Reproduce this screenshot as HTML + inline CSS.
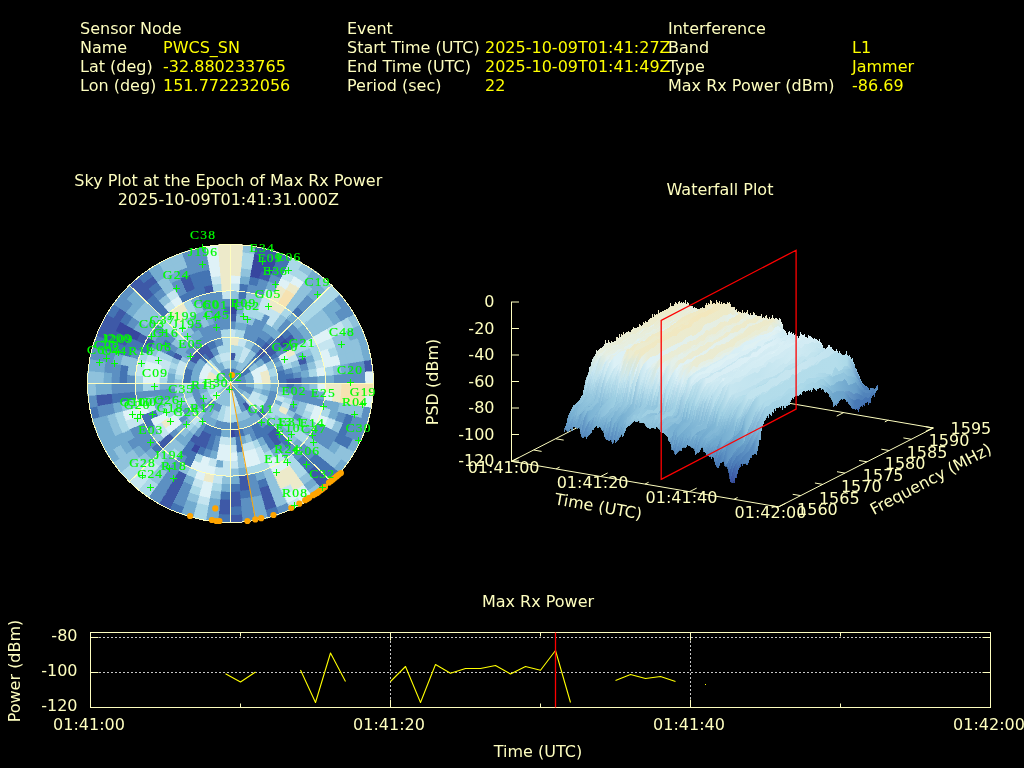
<!DOCTYPE html>
<html><head><meta charset="utf-8"><title>Interference Event</title>
<style>
html,body{margin:0;padding:0;background:#000;overflow:hidden}
svg{display:block;font-family:"DejaVu Sans","Liberation Sans",sans-serif;will-change:transform;opacity:.999}
.sat{font-family:"Liberation Serif","DejaVu Serif",serif}
</style></head><body>
<svg width="1024" height="768" viewBox="0 0 1024 768">
<rect width="1024" height="768" fill="#000"/>
<text x="80" y="34" fill="#ffffc0" text-anchor="start" font-size="16" >Sensor Node</text>
<text x="80" y="53" fill="#ffffc0" text-anchor="start" font-size="16" >Name</text>
<text x="80" y="72" fill="#ffffc0" text-anchor="start" font-size="16" >Lat (deg)</text>
<text x="80" y="91" fill="#ffffc0" text-anchor="start" font-size="16" >Lon (deg)</text>
<text x="163" y="53" fill="#ffff00" text-anchor="start" font-size="16" >PWCS_SN</text>
<text x="163" y="72" fill="#ffff00" text-anchor="start" font-size="16" >-32.880233765</text>
<text x="163" y="91" fill="#ffff00" text-anchor="start" font-size="16" >151.772232056</text>
<text x="347" y="34" fill="#ffffc0" text-anchor="start" font-size="16" >Event</text>
<text x="347" y="53" fill="#ffffc0" text-anchor="start" font-size="16" >Start Time (UTC)</text>
<text x="347" y="72" fill="#ffffc0" text-anchor="start" font-size="16" >End Time (UTC)</text>
<text x="347" y="91" fill="#ffffc0" text-anchor="start" font-size="16" >Period (sec)</text>
<text x="485" y="53" fill="#ffff00" text-anchor="start" font-size="16" >2025-10-09T01:41:27Z</text>
<text x="485" y="72" fill="#ffff00" text-anchor="start" font-size="16" >2025-10-09T01:41:49Z</text>
<text x="485" y="91" fill="#ffff00" text-anchor="start" font-size="16" >22</text>
<text x="668" y="34" fill="#ffffc0" text-anchor="start" font-size="16" >Interference</text>
<text x="668" y="53" fill="#ffffc0" text-anchor="start" font-size="16" >Band</text>
<text x="668" y="72" fill="#ffffc0" text-anchor="start" font-size="16" >Type</text>
<text x="668" y="91" fill="#ffffc0" text-anchor="start" font-size="16" >Max Rx Power (dBm)</text>
<text x="852" y="53" fill="#ffff00" text-anchor="start" font-size="16" >L1</text>
<text x="852" y="72" fill="#ffff00" text-anchor="start" font-size="16" >Jammer</text>
<text x="852" y="91" fill="#ffff00" text-anchor="start" font-size="16" >-86.69</text>
<text x="228.3" y="185.5" fill="#ffffc0" text-anchor="middle" font-size="16" >Sky Plot at the Epoch of Max Rx Power</text>
<text x="228.3" y="204.5" fill="#ffffc0" text-anchor="middle" font-size="16" >2025-10-09T01:41:31.000Z</text>
<text x="720" y="195" fill="#ffffc0" text-anchor="middle" font-size="16" >Waterfall Plot</text>
<text x="538" y="607" fill="#ffffc0" text-anchor="middle" font-size="16" >Max Rx Power</text>
<g shape-rendering="crispEdges">
<path fill="#3847a0" stroke="#3847a0" stroke-width="0.6" d="M230.5 306.3L234.0 306.4L237.4 306.6L236.7 314.3L233.6 314.1L230.5 314.0ZM254.0 254.2L259.7 255.3L265.5 256.7L263.4 264.2L258.0 262.9L252.6 261.8ZM252.6 261.8L258.0 262.9L263.4 264.2L261.3 271.6L256.3 270.4L251.2 269.4ZM251.2 269.4L256.3 270.4L261.3 271.6L259.3 279.1L254.6 278.0L249.8 277.0ZM265.5 256.7L271.1 258.3L276.7 260.1L274.0 267.4L268.7 265.7L263.4 264.2ZM263.4 264.2L268.7 265.7L274.0 267.4L271.3 274.7L266.3 273.0L261.3 271.6ZM285.3 338.8L287.2 341.2L289.1 343.6L282.6 348.1L280.9 345.9L279.2 343.8ZM235.3 437.3L232.9 437.5L230.5 437.6L230.5 429.8L232.6 429.8L234.7 429.7ZM196.9 453.5L193.8 452.0L190.8 450.4L194.8 443.7L197.5 445.1L200.3 446.5ZM115.3 331.3L117.8 326.4L120.4 321.7L127.3 325.6L124.8 330.0L122.5 334.5ZM122.5 334.5L124.8 330.0L127.3 325.6L134.2 329.4L131.8 333.6L129.7 337.8ZM129.7 337.8L131.8 333.6L134.2 329.4L141.1 333.3L138.9 337.1L136.9 341.1Z"/>
<path fill="#3f5aa8" stroke="#3f5aa8" stroke-width="0.6" d="M230.5 298.6L234.3 298.6L238.1 298.9L237.4 306.6L234.0 306.4L230.5 306.3ZM230.5 314.0L233.6 314.1L236.7 314.3L236.0 322.0L233.3 321.8L230.5 321.7ZM230.5 352.6L231.9 352.6L233.3 352.7L232.6 360.4L231.5 360.4L230.5 360.3ZM230.5 375.8L230.8 375.8L231.2 375.8L230.5 383.5L230.5 383.5L230.5 383.5ZM233.3 352.7L234.6 352.9L236.0 353.1L234.6 360.7L233.6 360.5L232.6 360.4ZM231.2 375.8L231.5 375.8L231.9 375.9L230.5 383.5L230.5 383.5L230.5 383.5ZM255.3 246.6L261.5 247.8L267.5 249.2L265.5 256.7L259.7 255.3L254.0 254.2ZM231.9 375.9L232.2 376.0L232.6 376.0L230.5 383.5L230.5 383.5L230.5 383.5ZM267.5 249.2L273.5 250.9L279.4 252.9L276.7 260.1L271.1 258.3L265.5 256.7ZM261.3 271.6L266.3 273.0L271.3 274.7L268.5 281.9L263.9 280.4L259.3 279.1ZM232.6 376.0L232.9 376.1L233.2 376.2L230.5 383.5L230.5 383.5L230.5 383.5ZM266.2 342.1L268.1 343.6L269.8 345.3L264.2 350.7L262.7 349.3L261.1 348.0ZM261.1 348.0L262.7 349.3L264.2 350.7L258.6 356.2L257.3 355.0L256.0 353.9ZM281.1 334.4L283.2 336.5L285.3 338.8L279.2 343.8L277.4 341.8L275.4 339.8ZM269.8 345.3L271.5 347.0L273.1 348.8L267.0 353.7L265.6 352.2L264.2 350.7ZM264.2 350.7L265.6 352.2L267.0 353.7L260.9 358.7L259.8 357.4L258.6 356.2ZM291.4 333.9L293.5 336.5L295.6 339.2L289.1 343.6L287.2 341.2L285.3 338.8ZM273.1 348.8L274.6 350.6L276.1 352.5L269.5 356.9L268.3 355.3L267.0 353.7ZM305.2 357.1L306.3 360.3L307.2 363.5L299.6 365.5L298.7 362.6L297.7 359.7ZM371.3 359.4L372.3 365.4L373.0 371.4L365.0 372.1L364.4 366.4L363.5 360.7ZM301.7 377.4L301.9 380.5L302.0 383.5L294.1 383.5L294.0 380.8L293.8 378.1ZM293.8 378.1L294.0 380.8L294.1 383.5L286.1 383.5L286.1 381.1L285.9 378.8ZM331.6 481.8L327.1 486.0L322.4 490.0L317.3 484.1L321.7 480.3L326.0 476.3ZM326.0 476.3L321.7 480.3L317.3 484.1L312.2 478.1L316.4 474.6L320.4 470.9ZM320.4 470.9L316.4 474.6L312.2 478.1L307.1 472.2L311.0 468.9L314.8 465.4ZM281.1 432.6L278.8 434.7L276.5 436.7L271.4 430.8L273.4 429.0L275.4 427.2ZM281.6 442.7L278.9 444.8L276.1 446.8L271.5 440.4L274.0 438.6L276.5 436.7ZM276.5 436.7L274.0 438.6L271.5 440.4L267.0 434.1L269.2 432.5L271.4 430.8ZM250.9 407.2L249.8 408.0L248.7 408.8L244.2 402.5L245.0 401.9L245.8 401.2ZM248.7 408.8L247.6 409.6L246.4 410.3L242.4 403.6L243.3 403.0L244.2 402.5ZM276.7 506.9L271.1 508.7L265.5 510.3L263.4 502.8L268.7 501.3L274.0 499.6ZM274.0 499.6L268.7 501.3L263.4 502.8L261.3 495.4L266.3 494.0L271.3 492.3ZM271.3 492.3L266.3 494.0L261.3 495.4L259.3 487.9L263.9 486.6L268.5 485.1ZM249.8 490.0L245.0 490.7L240.2 491.2L239.5 483.5L244.0 483.0L248.4 482.4ZM248.4 482.4L244.0 483.0L239.5 483.5L238.8 475.8L242.9 475.4L247.1 474.8ZM240.2 436.7L237.8 437.1L235.3 437.3L234.7 429.7L236.7 429.4L238.8 429.1ZM243.0 522.0L236.7 522.4L230.5 522.5L230.5 514.8L236.4 514.7L242.3 514.3ZM241.6 506.6L236.0 506.9L230.5 507.1L230.5 499.3L235.7 499.2L240.9 498.9ZM240.9 498.9L235.7 499.2L230.5 499.3L230.5 491.6L235.4 491.5L240.2 491.2ZM230.5 514.8L224.6 514.7L218.7 514.3L219.4 506.6L225.0 506.9L230.5 507.1ZM230.5 507.1L225.0 506.9L219.4 506.6L220.1 498.9L225.3 499.2L230.5 499.3ZM206.0 448.8L203.1 447.7L200.3 446.5L203.6 439.5L206.2 440.6L208.8 441.6ZM208.8 441.6L206.2 440.6L203.6 439.5L207.0 432.5L209.2 433.4L211.5 434.3ZM170.1 509.5L164.5 506.8L159.0 503.9L163.0 497.2L168.1 499.9L173.4 502.5ZM173.4 502.5L168.1 499.9L163.0 497.2L166.9 490.5L171.8 493.1L176.8 495.5ZM176.8 495.5L171.8 493.1L166.9 490.5L170.9 483.8L175.5 486.2L180.1 488.5ZM180.1 488.5L175.5 486.2L170.9 483.8L174.9 477.1L179.1 479.4L183.5 481.5ZM183.5 481.5L179.1 479.4L174.9 477.1L178.9 470.4L182.8 472.5L186.9 474.5ZM200.3 446.5L197.5 445.1L194.8 443.7L198.7 437.0L201.2 438.3L203.6 439.5ZM203.6 439.5L201.2 438.3L198.7 437.0L202.7 430.3L204.8 431.4L207.0 432.5ZM194.8 443.7L192.1 442.1L189.5 440.4L194.0 434.1L196.4 435.6L198.7 437.0ZM163.1 449.0L160.2 446.1L157.5 443.1L163.6 438.1L166.1 440.9L168.7 443.6ZM168.7 443.6L166.1 440.9L163.6 438.1L169.6 433.1L171.9 435.7L174.3 438.1ZM97.5 406.3L96.6 400.6L96.0 394.9L103.9 394.3L104.5 399.6L105.3 405.0ZM105.3 405.0L104.5 399.6L103.9 394.3L111.8 393.6L112.4 398.6L113.1 403.6ZM96.1 336.0L98.4 330.3L100.9 324.8L108.1 328.0L105.7 333.3L103.6 338.6ZM103.6 338.6L105.7 333.3L108.1 328.0L115.3 331.3L113.1 336.2L111.1 341.2ZM111.1 341.2L113.1 336.2L115.3 331.3L122.5 334.5L120.4 339.2L118.5 343.9ZM118.5 343.9L120.4 339.2L122.5 334.5L129.7 337.8L127.7 342.1L126.0 346.5ZM100.9 324.8L103.7 319.3L106.7 314.0L113.5 317.9L110.7 322.9L108.1 328.0ZM108.1 328.0L110.7 322.9L113.5 317.9L120.4 321.7L117.8 326.4L115.3 331.3ZM136.9 341.1L138.9 337.1L141.1 333.3L147.9 337.2L145.9 340.7L144.1 344.3ZM144.1 344.3L145.9 340.7L147.9 337.2L154.8 341.0L153.0 344.3L151.3 347.6ZM172.9 357.4L174.1 355.0L175.5 352.6L182.3 356.5L181.2 358.5L180.1 360.7ZM113.5 317.9L116.6 313.0L119.9 308.2L126.4 312.6L123.3 317.1L120.4 321.7ZM189.2 360.3L190.3 358.6L191.5 356.9L198.0 361.4L197.0 362.8L196.1 364.2ZM191.5 356.9L192.7 355.3L194.0 353.7L200.1 358.7L199.0 360.0L198.0 361.4ZM194.0 353.7L195.4 352.2L196.8 350.7L202.4 356.2L201.2 357.4L200.1 358.7ZM129.4 285.2L133.9 281.0L138.6 277.0L143.7 282.9L139.3 286.7L135.0 290.7ZM135.0 290.7L139.3 286.7L143.7 282.9L148.8 288.9L144.6 292.4L140.6 296.1ZM140.6 296.1L144.6 292.4L148.8 288.9L153.9 294.8L150.0 298.1L146.2 301.6ZM196.8 350.7L198.3 349.3L199.9 348.0L205.0 353.9L203.7 355.0L202.4 356.2ZM143.7 282.9L148.3 279.4L153.0 276.0L157.6 282.3L153.1 285.5L148.8 288.9ZM199.9 348.0L201.5 346.7L203.2 345.5L207.7 351.9L206.3 352.9L205.0 353.9ZM205.0 353.9L206.3 352.9L207.7 351.9L212.3 358.2L211.2 359.0L210.1 359.8ZM203.2 345.5L204.9 344.4L206.7 343.4L210.6 350.1L209.2 350.9L207.7 351.9ZM207.7 351.9L209.2 350.9L210.6 350.1L214.6 356.7L213.4 357.4L212.3 358.2ZM180.1 278.5L184.9 276.5L189.7 274.7L192.5 281.9L187.9 283.6L183.5 285.5ZM183.5 285.5L187.9 283.6L192.5 281.9L195.2 289.2L191.0 290.8L186.9 292.5ZM203.8 286.5L208.1 285.5L212.6 284.6L213.9 292.2L209.9 293.0L205.8 294.0Z"/>
<path fill="#4575b4" stroke="#4575b4" stroke-width="0.6" d="M230.5 368.1L231.2 368.1L231.9 368.1L231.2 375.8L230.8 375.8L230.5 375.8ZM239.5 283.5L244.0 284.0L248.4 284.6L247.1 292.2L242.9 291.6L238.8 291.2ZM238.8 291.2L242.9 291.6L247.1 292.2L245.7 299.8L241.9 299.3L238.1 298.9ZM231.9 368.1L232.6 368.2L233.3 368.3L231.9 375.9L231.5 375.8L231.2 375.8ZM249.8 277.0L254.6 278.0L259.3 279.1L257.2 286.5L252.9 285.5L248.4 284.6ZM233.3 368.3L233.9 368.4L234.6 368.6L232.6 376.0L232.2 376.0L231.9 375.9ZM234.6 368.6L235.3 368.8L235.9 369.0L233.2 376.2L232.9 376.1L232.6 376.0ZM279.4 252.9L285.2 255.1L290.9 257.5L287.6 264.5L282.2 262.2L276.7 260.1ZM276.7 260.1L282.2 262.2L287.6 264.5L284.2 271.5L279.1 269.3L274.0 267.4ZM274.0 267.4L279.1 269.3L284.2 271.5L280.9 278.5L276.1 276.5L271.3 274.7ZM258.3 336.7L260.4 337.9L262.4 339.2L257.8 345.5L256.1 344.4L254.3 343.4ZM262.4 339.2L264.4 340.6L266.2 342.1L261.1 348.0L259.5 346.7L257.8 345.5ZM296.9 306.6L300.3 309.5L303.5 312.5L297.9 318.0L294.9 315.2L291.8 312.5ZM271.4 336.2L273.4 338.0L275.4 339.8L269.8 345.3L268.1 343.6L266.2 342.1ZM256.0 353.9L257.3 355.0L258.6 356.2L253.0 361.7L252.0 360.7L250.9 359.8ZM245.8 365.8L246.6 366.4L247.4 367.1L241.7 372.6L241.2 372.1L240.7 371.7ZM240.7 371.7L241.2 372.1L241.7 372.6L236.1 378.0L235.9 377.8L235.6 377.6ZM286.7 328.9L289.1 331.3L291.4 333.9L285.3 338.8L283.2 336.5L281.1 334.4ZM275.4 339.8L277.4 341.8L279.2 343.8L273.1 348.8L271.5 347.0L269.8 345.3ZM258.6 356.2L259.8 357.4L260.9 358.7L254.8 363.6L253.9 362.6L253.0 361.7ZM247.4 367.1L248.1 367.8L248.8 368.6L242.7 373.6L242.2 373.1L241.7 372.6ZM241.7 372.6L242.2 373.1L242.7 373.6L236.6 378.5L236.4 378.3L236.1 378.0ZM279.2 343.8L280.9 345.9L282.6 348.1L276.1 352.5L274.6 350.6L273.1 348.8ZM267.0 353.7L268.3 355.3L269.5 356.9L263.0 361.4L262.0 360.0L260.9 358.7ZM248.8 368.6L249.4 369.4L250.0 370.2L243.5 374.6L243.1 374.1L242.7 373.6ZM242.7 373.6L243.1 374.1L243.5 374.6L237.0 379.1L236.8 378.8L236.6 378.5ZM289.1 343.6L290.8 346.2L292.4 348.8L285.5 352.6L284.1 350.3L282.6 348.1ZM276.1 352.5L277.4 354.5L278.7 356.5L271.8 360.3L270.7 358.6L269.5 356.9ZM269.5 356.9L270.7 358.6L271.8 360.3L264.9 364.2L264.0 362.8L263.0 361.4ZM250.0 370.2L250.6 371.1L251.1 371.9L244.3 375.8L243.9 375.2L243.5 374.6ZM243.5 374.6L243.9 375.2L244.3 375.8L237.4 379.6L237.2 379.4L237.0 379.1ZM284.2 369.5L284.8 371.8L285.3 374.1L277.4 375.5L277.0 373.5L276.5 371.5ZM293.1 372.8L293.5 375.4L293.8 378.1L285.9 378.8L285.6 376.4L285.3 374.1ZM285.3 374.1L285.6 376.4L285.9 378.8L278.0 379.5L277.8 377.5L277.4 375.5ZM285.9 378.8L286.1 381.1L286.1 383.5L278.2 383.5L278.1 381.5L278.0 379.5ZM294.1 383.5L294.0 386.2L293.8 388.9L285.9 388.2L286.1 385.9L286.1 383.5ZM353.3 415.5L351.7 420.7L349.9 425.8L342.5 423.1L344.2 418.3L345.6 413.5ZM349.9 425.8L347.9 430.8L345.7 435.7L338.5 432.5L340.6 427.8L342.5 423.1ZM352.9 439.0L350.3 444.1L347.5 449.1L340.6 445.3L343.2 440.6L345.7 435.7ZM345.7 435.7L343.2 440.6L340.6 445.3L333.7 441.4L336.2 437.0L338.5 432.5ZM340.0 472.8L335.9 477.4L331.6 481.8L326.0 476.3L330.1 472.2L334.0 467.9ZM334.0 467.9L330.1 472.2L326.0 476.3L320.4 470.9L324.2 467.0L327.9 462.9ZM327.9 462.9L324.2 467.0L320.4 470.9L314.8 465.4L318.4 461.8L321.8 458.0ZM321.8 458.0L318.4 461.8L314.8 465.4L309.1 459.9L312.5 456.5L315.7 453.0ZM267.0 413.3L265.6 414.8L264.2 416.3L258.6 410.8L259.8 409.6L260.9 408.3ZM314.8 465.4L311.0 468.9L307.1 472.2L302.0 466.3L305.6 463.2L309.1 459.9ZM309.1 459.9L305.6 463.2L302.0 466.3L296.9 460.4L300.3 457.5L303.5 454.5ZM292.3 443.6L289.5 446.1L286.7 448.6L281.6 442.7L284.2 440.4L286.7 438.1ZM286.7 438.1L284.2 440.4L281.6 442.7L276.5 436.7L278.8 434.7L281.1 432.6ZM275.4 427.2L273.4 429.0L271.4 430.8L266.2 424.9L268.1 423.4L269.8 421.7ZM264.2 416.3L262.7 417.7L261.1 419.0L256.0 413.1L257.3 412.0L258.6 410.8ZM271.4 430.8L269.2 432.5L267.0 434.1L262.4 427.8L264.4 426.4L266.2 424.9ZM276.1 446.8L273.2 448.6L270.2 450.4L266.2 443.7L268.9 442.1L271.5 440.4ZM271.5 440.4L268.9 442.1L266.2 443.7L262.3 437.0L264.6 435.6L267.0 434.1ZM267.0 434.1L264.6 435.6L262.3 437.0L258.3 430.3L260.4 429.1L262.4 427.8ZM262.4 427.8L260.4 429.1L258.3 430.3L254.3 423.6L256.1 422.6L257.8 421.5ZM262.3 437.0L259.8 438.3L257.4 439.5L254.0 432.5L256.2 431.4L258.3 430.3ZM258.3 430.3L256.2 431.4L254.0 432.5L250.6 425.5L252.5 424.6L254.3 423.6ZM279.4 514.1L273.5 516.1L267.5 517.8L265.5 510.3L271.1 508.7L276.7 506.9ZM268.5 485.1L263.9 486.6L259.3 487.9L257.2 480.5L261.6 479.2L265.8 477.8ZM244.9 435.7L242.5 436.3L240.2 436.7L238.8 429.1L240.8 428.7L242.8 428.3ZM251.2 497.6L246.1 498.3L240.9 498.9L240.2 491.2L245.0 490.7L249.8 490.0ZM242.9 451.9L239.8 452.4L236.7 452.7L236.0 445.0L238.8 444.7L241.5 444.3ZM241.5 444.3L238.8 444.7L236.0 445.0L235.3 437.3L237.8 437.1L240.2 436.7ZM238.8 429.1L236.7 429.4L234.7 429.7L234.0 422.0L235.7 421.8L237.4 421.5ZM242.3 514.3L236.4 514.7L230.5 514.8L230.5 507.1L236.0 506.9L241.6 506.6ZM240.2 491.2L235.4 491.5L230.5 491.6L230.5 483.9L235.0 483.8L239.5 483.5ZM234.7 429.7L232.6 429.8L230.5 429.8L230.5 422.1L232.2 422.1L234.0 422.0ZM230.5 522.5L224.3 522.4L218.0 522.0L218.7 514.3L224.6 514.7L230.5 514.8ZM230.5 499.3L225.3 499.2L220.1 498.9L220.8 491.2L225.6 491.5L230.5 491.6ZM220.8 436.7L218.5 436.3L216.1 435.7L218.2 428.3L220.2 428.7L222.2 429.1ZM212.0 450.6L209.0 449.8L206.0 448.8L208.8 441.6L211.4 442.4L214.1 443.2ZM214.1 443.2L211.4 442.4L208.8 441.6L211.5 434.3L213.8 435.1L216.1 435.7ZM216.1 435.7L213.8 435.1L211.5 434.3L214.2 427.0L216.2 427.7L218.2 428.3ZM181.6 514.1L175.8 511.9L170.1 509.5L173.4 502.5L178.8 504.8L184.3 506.9ZM203.3 456.1L200.1 454.8L196.9 453.5L200.3 446.5L203.1 447.7L206.0 448.8ZM211.5 434.3L209.2 433.4L207.0 432.5L210.4 425.5L212.3 426.3L214.2 427.0ZM190.2 467.5L186.5 465.7L182.8 463.8L186.8 457.1L190.1 458.8L193.6 460.5ZM193.6 460.5L190.1 458.8L186.8 457.1L190.8 450.4L193.8 452.0L196.9 453.5ZM207.0 432.5L204.8 431.4L202.7 430.3L206.7 423.6L208.5 424.6L210.4 425.5ZM186.8 457.1L183.5 455.1L180.4 453.1L184.9 446.8L187.8 448.6L190.8 450.4ZM190.8 450.4L187.8 448.6L184.9 446.8L189.5 440.4L192.1 442.1L194.8 443.7ZM157.5 454.5L154.4 451.3L151.4 448.0L157.5 443.1L160.2 446.1L163.1 449.0ZM147.9 429.8L145.9 426.3L144.1 422.7L151.3 419.4L153.0 422.7L154.8 426.0ZM144.1 422.7L142.4 419.0L140.9 415.2L148.4 412.6L149.8 416.0L151.3 419.4ZM151.3 419.4L149.8 416.0L148.4 412.6L155.8 409.9L157.1 413.1L158.5 416.1ZM92.4 419.5L90.9 413.6L89.7 407.6L97.5 406.3L98.6 411.9L100.0 417.5ZM113.1 403.6L112.4 398.6L111.8 393.6L119.7 392.9L120.2 397.6L121.0 402.3ZM121.0 402.3L120.2 397.6L119.7 392.9L127.6 392.2L128.1 396.6L128.8 400.9ZM128.8 400.9L128.1 396.6L127.6 392.2L135.5 391.6L136.0 395.6L136.6 399.6ZM119.3 383.5L119.4 378.8L119.7 374.1L127.6 374.8L127.3 379.1L127.2 383.5ZM182.8 383.5L182.9 381.5L183.0 379.5L190.9 380.1L190.8 381.8L190.8 383.5ZM119.7 374.1L120.2 369.4L121.0 364.7L128.8 366.1L128.1 370.4L127.6 374.8ZM183.0 379.5L183.2 377.5L183.6 375.5L191.4 376.8L191.1 378.5L190.9 380.1ZM183.6 375.5L184.0 373.5L184.5 371.5L192.1 373.5L191.7 375.1L191.4 376.8ZM92.4 347.5L94.1 341.7L96.1 336.0L103.6 338.6L101.7 344.0L100.0 349.5ZM100.0 349.5L101.7 344.0L103.6 338.6L111.1 341.2L109.3 346.3L107.7 351.5ZM107.7 351.5L109.3 346.3L111.1 341.2L118.5 343.9L116.8 348.7L115.4 353.5ZM115.4 353.5L116.8 348.7L118.5 343.9L126.0 346.5L124.4 351.0L123.1 355.5ZM123.1 355.5L124.4 351.0L126.0 346.5L133.5 349.2L132.0 353.3L130.7 357.5ZM184.5 371.5L185.0 369.6L185.7 367.7L193.2 370.3L192.6 371.9L192.1 373.5ZM126.0 346.5L127.7 342.1L129.7 337.8L136.9 341.1L135.1 345.1L133.5 349.2ZM133.5 349.2L135.1 345.1L136.9 341.1L144.1 344.3L142.4 348.0L140.9 351.8ZM140.9 351.8L142.4 348.0L144.1 344.3L151.3 347.6L149.8 351.0L148.4 354.4ZM165.7 354.1L167.1 351.4L168.6 348.8L175.5 352.6L174.1 355.0L172.9 357.4ZM106.7 314.0L109.9 308.8L113.4 303.8L119.9 308.2L116.6 313.0L113.5 317.9ZM120.4 321.7L123.3 317.1L126.4 312.6L132.9 317.1L130.0 321.3L127.3 325.6ZM161.7 344.9L163.5 342.0L165.4 339.2L171.9 343.6L170.2 346.2L168.6 348.8ZM200.1 358.7L201.2 357.4L202.4 356.2L208.0 361.7L207.1 362.6L206.2 363.6ZM146.2 301.6L150.0 298.1L153.9 294.8L159.0 300.7L155.4 303.8L151.9 307.1ZM151.9 307.1L155.4 303.8L159.0 300.7L164.1 306.6L160.7 309.5L157.5 312.5ZM157.5 312.5L160.7 309.5L164.1 306.6L169.2 312.5L166.1 315.2L163.1 318.0ZM202.4 356.2L203.7 355.0L205.0 353.9L210.1 359.8L209.0 360.7L208.0 361.7ZM138.6 277.0L143.4 273.2L148.5 269.6L153.0 276.0L148.3 279.4L143.7 282.9ZM148.8 288.9L153.1 285.5L157.6 282.3L162.1 288.6L158.0 291.6L153.9 294.8ZM178.9 296.6L182.8 294.5L186.9 292.5L190.2 299.5L186.5 301.3L182.8 303.2ZM206.7 343.4L208.5 342.4L210.4 341.5L213.7 348.5L212.2 349.3L210.6 350.1ZM186.9 292.5L191.0 290.8L195.2 289.2L197.9 296.4L194.0 297.9L190.2 299.5ZM210.4 341.5L212.3 340.7L214.2 340.0L216.9 347.2L215.3 347.8L213.7 348.5ZM189.7 274.7L194.7 273.0L199.7 271.6L201.7 279.1L197.1 280.4L192.5 281.9ZM192.5 281.9L197.1 280.4L201.7 279.1L203.8 286.5L199.4 287.8L195.2 289.2ZM195.2 289.2L199.4 287.8L203.8 286.5L205.8 294.0L201.8 295.1L197.9 296.4ZM199.7 271.6L204.7 270.4L209.8 269.4L211.2 277.0L206.4 278.0L201.7 279.1ZM201.7 279.1L206.4 278.0L211.2 277.0L212.6 284.6L208.1 285.5L203.8 286.5ZM223.6 306.6L227.0 306.4L230.5 306.3L230.5 314.0L227.4 314.1L224.3 314.3Z"/>
<path fill="#5d91c3" stroke="#5d91c3" stroke-width="0.6" d="M230.5 321.7L233.3 321.8L236.0 322.0L235.3 329.7L232.9 329.5L230.5 329.4ZM238.1 298.9L241.9 299.3L245.7 299.8L244.3 307.5L240.9 306.9L237.4 306.6ZM248.4 284.6L252.9 285.5L257.2 286.5L255.2 294.0L251.1 293.0L247.1 292.2ZM259.3 279.1L263.9 280.4L268.5 281.9L265.8 289.2L261.6 287.8L257.2 286.5ZM257.2 286.5L261.6 287.8L265.8 289.2L263.1 296.4L259.2 295.1L255.2 294.0ZM246.9 323.8L249.6 324.6L252.2 325.4L249.5 332.7L247.2 331.9L244.9 331.3ZM244.9 331.3L247.2 331.9L249.5 332.7L246.8 340.0L244.8 339.3L242.8 338.7ZM271.3 274.7L276.1 276.5L280.9 278.5L277.5 285.5L273.1 283.6L268.5 281.9ZM255.0 318.2L257.9 319.3L260.7 320.5L257.4 327.5L254.8 326.4L252.2 325.4ZM252.2 325.4L254.8 326.4L257.4 327.5L254.0 334.5L251.8 333.6L249.5 332.7ZM249.5 332.7L251.8 333.6L254.0 334.5L250.6 341.5L248.7 340.7L246.8 340.0ZM235.9 369.0L236.6 369.2L237.2 369.5L233.9 376.5L233.5 376.4L233.2 376.2ZM233.2 376.2L233.5 376.4L233.9 376.5L230.5 383.5L230.5 383.5L230.5 383.5ZM264.1 313.5L267.2 315.0L270.2 316.6L266.2 323.3L263.5 321.9L260.7 320.5ZM260.7 320.5L263.5 321.9L266.2 323.3L262.3 330.0L259.8 328.7L257.4 327.5ZM257.4 327.5L259.8 328.7L262.3 330.0L258.3 336.7L256.2 335.6L254.0 334.5ZM254.0 334.5L256.2 335.6L258.3 336.7L254.3 343.4L252.5 342.4L250.6 341.5ZM237.2 369.5L237.8 369.8L238.4 370.1L234.5 376.8L234.2 376.7L233.9 376.5ZM233.9 376.5L234.2 376.7L234.5 376.8L230.5 383.5L230.5 383.5L230.5 383.5ZM262.3 330.0L264.6 331.4L267.0 332.9L262.4 339.2L260.4 337.9L258.3 336.7ZM254.3 343.4L256.1 344.4L257.8 345.5L253.3 351.9L251.8 350.9L250.4 350.1ZM238.4 370.1L239.0 370.5L239.6 370.8L235.1 377.2L234.8 377.0L234.5 376.8ZM234.5 376.8L234.8 377.0L235.1 377.2L230.5 383.5L230.5 383.5L230.5 383.5ZM267.0 332.9L269.2 334.5L271.4 336.2L266.2 342.1L264.4 340.6L262.4 339.2ZM257.8 345.5L259.5 346.7L261.1 348.0L256.0 353.9L254.7 352.9L253.3 351.9ZM239.6 370.8L240.2 371.2L240.7 371.7L235.6 377.6L235.3 377.4L235.1 377.2ZM235.1 377.2L235.3 377.4L235.6 377.6L230.5 383.5L230.5 383.5L230.5 383.5ZM307.1 294.8L311.0 298.1L314.8 301.6L309.1 307.1L305.6 303.8L302.0 300.7ZM302.0 300.7L305.6 303.8L309.1 307.1L303.5 312.5L300.3 309.5L296.9 306.6ZM286.7 318.4L289.5 320.9L292.3 323.4L286.7 328.9L284.2 326.6L281.6 324.3ZM281.6 324.3L284.2 326.6L286.7 328.9L281.1 334.4L278.8 332.3L276.5 330.3ZM250.9 359.8L252.0 360.7L253.0 361.7L247.4 367.1L246.6 366.4L245.8 365.8ZM235.6 377.6L235.9 377.8L236.1 378.0L230.5 383.5L230.5 383.5L230.5 383.5ZM292.3 323.4L294.9 326.1L297.4 328.9L291.4 333.9L289.1 331.3L286.7 328.9ZM253.0 361.7L253.9 362.6L254.8 363.6L248.8 368.6L248.1 367.8L247.4 367.1ZM236.1 378.0L236.4 378.3L236.6 378.5L230.5 383.5L230.5 383.5L230.5 383.5ZM340.0 294.2L343.9 298.9L347.6 303.8L341.1 308.2L337.6 303.6L334.0 299.1ZM297.4 328.9L299.8 331.8L302.1 334.8L295.6 339.2L293.5 336.5L291.4 333.9ZM236.6 378.5L236.8 378.8L237.0 379.1L230.5 383.5L230.5 383.5L230.5 383.5ZM347.6 303.8L351.1 308.8L354.3 314.0L347.5 317.9L344.4 313.0L341.1 308.2ZM341.1 308.2L344.4 313.0L347.5 317.9L340.6 321.7L337.7 317.1L334.6 312.6ZM302.1 334.8L304.2 337.9L306.2 341.0L299.3 344.9L297.5 342.0L295.6 339.2ZM295.6 339.2L297.5 342.0L299.3 344.9L292.4 348.8L290.8 346.2L289.1 343.6ZM282.6 348.1L284.1 350.3L285.5 352.6L278.7 356.5L277.4 354.5L276.1 352.5ZM237.0 379.1L237.2 379.4L237.4 379.6L230.5 383.5L230.5 383.5L230.5 383.5ZM278.7 356.5L279.8 358.5L280.9 360.7L273.7 363.9L272.8 362.1L271.8 360.3ZM244.3 375.8L244.6 376.4L244.9 377.0L237.7 380.2L237.5 379.9L237.4 379.6ZM237.4 379.6L237.5 379.9L237.7 380.2L230.5 383.5L230.5 383.5L230.5 383.5ZM244.9 377.0L245.2 377.6L245.4 378.2L238.0 380.9L237.8 380.5L237.7 380.2ZM237.7 380.2L237.8 380.5L238.0 380.9L230.5 383.5L230.5 383.5L230.5 383.5ZM282.8 365.0L283.5 367.2L284.2 369.5L276.5 371.5L276.0 369.6L275.3 367.7ZM245.4 378.2L245.7 378.9L245.8 379.5L238.2 381.5L238.1 381.2L238.0 380.9ZM238.0 380.9L238.1 381.2L238.2 381.5L230.5 383.5L230.5 383.5L230.5 383.5ZM307.2 363.5L308.1 366.8L308.7 370.1L300.9 371.4L300.3 368.5L299.6 365.5ZM291.9 367.5L292.5 370.1L293.1 372.8L285.3 374.1L284.8 371.8L284.2 369.5ZM245.8 379.5L246.0 380.2L246.1 380.8L238.3 382.2L238.3 381.8L238.2 381.5ZM238.2 381.5L238.3 381.8L238.3 382.2L230.5 383.5L230.5 383.5L230.5 383.5ZM363.5 360.7L364.4 366.4L365.0 372.1L357.1 372.7L356.5 367.4L355.7 362.0ZM355.7 362.0L356.5 367.4L357.1 372.7L349.2 373.4L348.6 368.4L347.9 363.4ZM300.9 371.4L301.4 374.4L301.7 377.4L293.8 378.1L293.5 375.4L293.1 372.8ZM246.1 380.8L246.3 381.5L246.3 382.2L238.4 382.8L238.4 382.5L238.3 382.2ZM238.3 382.2L238.4 382.5L238.4 382.8L230.5 383.5L230.5 383.5L230.5 383.5ZM365.0 372.1L365.4 377.8L365.6 383.5L357.6 383.5L357.5 378.1L357.1 372.7ZM357.1 372.7L357.5 378.1L357.6 383.5L349.7 383.5L349.6 378.4L349.2 373.4ZM349.2 373.4L349.6 378.4L349.7 383.5L341.7 383.5L341.6 378.8L341.3 374.1ZM341.3 374.1L341.6 378.8L341.7 383.5L333.8 383.5L333.7 379.1L333.4 374.8ZM317.6 376.1L317.8 379.8L317.9 383.5L309.9 383.5L309.9 380.1L309.6 376.8ZM309.6 376.8L309.9 380.1L309.9 383.5L302.0 383.5L301.9 380.5L301.7 377.4ZM246.3 382.2L246.4 382.8L246.4 383.5L238.4 383.5L238.4 383.2L238.4 382.8ZM238.4 382.8L238.4 383.2L238.4 383.5L230.5 383.5L230.5 383.5L230.5 383.5ZM302.0 383.5L301.9 386.5L301.7 389.6L293.8 388.9L294.0 386.2L294.1 383.5ZM286.1 383.5L286.1 385.9L285.9 388.2L278.0 387.5L278.1 385.5L278.2 383.5ZM246.4 383.5L246.4 384.2L246.3 384.8L238.4 384.2L238.4 383.8L238.4 383.5ZM238.4 383.5L238.4 383.8L238.4 384.2L230.5 383.5L230.5 383.5L230.5 383.5ZM317.6 390.9L317.1 394.6L316.6 398.3L308.7 396.9L309.3 393.6L309.6 390.2ZM309.6 390.2L309.3 393.6L308.7 396.9L300.9 395.6L301.4 392.6L301.7 389.6ZM301.7 389.6L301.4 392.6L300.9 395.6L293.1 394.2L293.5 391.6L293.8 388.9ZM293.8 388.9L293.5 391.6L293.1 394.2L285.3 392.9L285.6 390.6L285.9 388.2ZM246.3 384.8L246.3 385.5L246.1 386.2L238.3 384.8L238.4 384.5L238.4 384.2ZM238.4 384.2L238.4 384.5L238.3 384.8L230.5 383.5L230.5 383.5L230.5 383.5ZM371.3 407.6L370.1 413.6L368.6 419.5L361.0 417.5L362.4 411.9L363.5 406.3ZM324.4 399.6L323.6 403.6L322.6 407.5L314.9 405.5L315.8 401.9L316.6 398.3ZM316.6 398.3L315.8 401.9L314.9 405.5L307.2 403.5L308.1 400.2L308.7 396.9ZM308.7 396.9L308.1 400.2L307.2 403.5L299.6 401.5L300.3 398.5L300.9 395.6ZM300.9 395.6L300.3 398.5L299.6 401.5L291.9 399.5L292.5 396.9L293.1 394.2ZM277.4 391.5L277.0 393.5L276.5 395.5L268.9 393.5L269.3 391.9L269.6 390.2ZM254.0 387.5L253.8 388.5L253.5 389.5L245.8 387.5L246.0 386.8L246.1 386.2ZM246.1 386.2L246.0 386.8L245.8 387.5L238.2 385.5L238.3 385.2L238.3 384.8ZM368.6 419.5L366.9 425.3L364.9 431.0L357.4 428.4L359.3 423.0L361.0 417.5ZM361.0 417.5L359.3 423.0L357.4 428.4L349.9 425.8L351.7 420.7L353.3 415.5ZM345.6 413.5L344.2 418.3L342.5 423.1L335.0 420.5L336.6 416.0L337.9 411.5ZM276.5 395.5L276.0 397.4L275.3 399.3L267.8 396.7L268.4 395.1L268.9 393.5ZM253.5 389.5L253.2 390.5L252.9 391.4L245.4 388.8L245.7 388.1L245.8 387.5ZM245.8 387.5L245.7 388.1L245.4 388.8L238.0 386.1L238.1 385.8L238.2 385.5ZM364.9 431.0L362.6 436.7L360.1 442.2L352.9 439.0L355.3 433.7L357.4 428.4ZM357.4 428.4L355.3 433.7L352.9 439.0L345.7 435.7L347.9 430.8L349.9 425.8ZM297.7 407.3L296.6 410.1L295.3 412.9L288.1 409.6L289.2 407.1L290.2 404.6ZM275.3 399.3L274.5 401.2L273.7 403.1L266.5 399.8L267.2 398.3L267.8 396.7ZM252.9 391.4L252.5 392.4L252.1 393.3L244.9 390.0L245.2 389.4L245.4 388.8ZM245.4 388.8L245.2 389.4L244.9 390.0L237.7 386.8L237.8 386.5L238.0 386.1ZM338.5 432.5L336.2 437.0L333.7 441.4L326.8 437.6L329.2 433.4L331.3 429.2ZM331.3 429.2L329.2 433.4L326.8 437.6L319.9 433.7L322.1 429.9L324.1 425.9ZM324.1 425.9L322.1 429.9L319.9 433.7L313.1 429.8L315.1 426.3L316.9 422.7ZM302.5 416.1L301.0 419.2L299.3 422.1L292.4 418.2L293.9 415.6L295.3 412.9ZM273.7 403.1L272.8 404.9L271.8 406.7L264.9 402.8L265.7 401.3L266.5 399.8ZM252.1 393.3L251.6 394.2L251.1 395.1L244.3 391.2L244.6 390.6L244.9 390.0ZM244.9 390.0L244.6 390.6L244.3 391.2L237.4 387.4L237.5 387.1L237.7 386.8ZM333.7 441.4L331.0 445.7L328.1 449.9L321.6 445.5L324.3 441.6L326.8 437.6ZM326.8 437.6L324.3 441.6L321.6 445.5L315.1 441.1L317.6 437.4L319.9 433.7ZM319.9 433.7L317.6 437.4L315.1 441.1L308.6 436.7L310.9 433.3L313.1 429.8ZM271.8 406.7L270.7 408.4L269.5 410.1L263.0 405.6L264.0 404.2L264.9 402.8ZM269.5 410.1L268.3 411.7L267.0 413.3L260.9 408.3L262.0 407.0L263.0 405.6ZM315.7 453.0L312.5 456.5L309.1 459.9L303.5 454.5L306.6 451.3L309.6 448.0ZM309.6 448.0L306.6 451.3L303.5 454.5L297.9 449.0L300.8 446.1L303.5 443.1ZM303.5 454.5L300.3 457.5L296.9 460.4L291.8 454.5L294.9 451.8L297.9 449.0ZM297.9 449.0L294.9 451.8L291.8 454.5L286.7 448.6L289.5 446.1L292.3 443.6ZM286.7 448.6L283.7 450.9L280.6 453.1L276.1 446.8L278.9 444.8L281.6 442.7ZM266.2 424.9L264.4 426.4L262.4 427.8L257.8 421.5L259.5 420.3L261.1 419.0ZM256.0 413.1L254.7 414.1L253.3 415.1L248.7 408.8L249.8 408.0L250.9 407.2ZM245.8 401.2L245.0 401.9L244.2 402.5L239.6 396.2L240.2 395.8L240.7 395.3ZM240.7 395.3L240.2 395.8L239.6 396.2L235.1 389.8L235.3 389.6L235.6 389.4ZM235.6 389.4L235.3 389.6L235.1 389.8L230.5 383.5L230.5 383.5L230.5 383.5ZM253.3 415.1L251.8 416.1L250.4 416.9L246.4 410.3L247.6 409.6L248.7 408.8ZM244.2 402.5L243.3 403.0L242.4 403.6L238.4 396.9L239.0 396.5L239.6 396.2ZM239.6 396.2L239.0 396.5L238.4 396.9L234.5 390.2L234.8 390.0L235.1 389.8ZM235.1 389.8L234.8 390.0L234.5 390.2L230.5 383.5L230.5 383.5L230.5 383.5ZM246.4 410.3L245.2 410.9L243.9 411.5L240.6 404.5L241.5 404.0L242.4 403.6ZM242.4 403.6L241.5 404.0L240.6 404.5L237.2 397.5L237.8 397.2L238.4 396.9ZM238.4 396.9L237.8 397.2L237.2 397.5L233.9 390.5L234.2 390.3L234.5 390.2ZM234.5 390.2L234.2 390.3L233.9 390.5L230.5 383.5L230.5 383.5L230.5 383.5ZM290.9 509.5L285.2 511.9L279.4 514.1L276.7 506.9L282.2 504.8L287.6 502.5ZM257.4 439.5L254.8 440.6L252.2 441.6L249.5 434.3L251.8 433.4L254.0 432.5ZM254.0 432.5L251.8 433.4L249.5 434.3L246.8 427.0L248.7 426.3L250.6 425.5ZM243.9 411.5L242.7 412.0L241.4 412.5L238.7 405.3L239.6 404.9L240.6 404.5ZM240.6 404.5L239.6 404.9L238.7 405.3L235.9 398.0L236.6 397.8L237.2 397.5ZM237.2 397.5L236.6 397.8L235.9 398.0L233.2 390.8L233.5 390.6L233.9 390.5ZM233.9 390.5L233.5 390.6L233.2 390.8L230.5 383.5L230.5 383.5L230.5 383.5ZM249.5 434.3L247.2 435.1L244.9 435.7L242.8 428.3L244.8 427.7L246.8 427.0ZM261.3 495.4L256.3 496.6L251.2 497.6L249.8 490.0L254.6 489.0L259.3 487.9ZM259.3 487.9L254.6 489.0L249.8 490.0L248.4 482.4L252.9 481.5L257.2 480.5ZM257.2 480.5L252.9 481.5L248.4 482.4L247.1 474.8L251.1 474.0L255.2 473.0ZM255.3 520.4L249.2 521.3L243.0 522.0L242.3 514.3L248.1 513.7L254.0 512.8ZM254.0 512.8L248.1 513.7L242.3 514.3L241.6 506.6L247.1 506.0L252.6 505.2ZM252.6 505.2L247.1 506.0L241.6 506.6L240.9 498.9L246.1 498.3L251.2 497.6ZM230.5 429.8L228.4 429.8L226.3 429.7L227.0 422.0L228.8 422.1L230.5 422.1ZM226.3 429.7L224.3 429.4L222.2 429.1L223.6 421.5L225.3 421.8L227.0 422.0ZM218.1 451.9L215.0 451.4L212.0 450.6L214.1 443.2L216.7 443.8L219.5 444.3ZM219.5 444.3L216.7 443.8L214.1 443.2L216.1 435.7L218.5 436.3L220.8 436.7ZM222.2 429.1L220.2 428.7L218.2 428.3L220.2 420.8L221.9 421.2L223.6 421.5ZM209.9 458.1L206.6 457.1L203.3 456.1L206.0 448.8L209.0 449.8L212.0 450.6ZM218.2 428.3L216.2 427.7L214.2 427.0L216.9 419.8L218.6 420.3L220.2 420.8ZM184.3 506.9L178.8 504.8L173.4 502.5L176.8 495.5L181.9 497.7L187.0 499.6ZM187.0 499.6L181.9 497.7L176.8 495.5L180.1 488.5L184.9 490.5L189.7 492.3ZM189.7 492.3L184.9 490.5L180.1 488.5L183.5 481.5L187.9 483.4L192.5 485.1ZM219.6 412.5L218.3 412.0L217.1 411.5L220.4 404.5L221.4 404.9L222.3 405.3ZM227.8 390.8L227.5 390.6L227.1 390.5L230.5 383.5L230.5 383.5L230.5 383.5ZM217.1 411.5L215.8 410.9L214.6 410.3L218.6 403.6L219.5 404.0L220.4 404.5ZM227.1 390.5L226.8 390.3L226.5 390.2L230.5 383.5L230.5 383.5L230.5 383.5ZM159.0 503.9L153.7 500.7L148.5 497.4L153.0 491.0L157.9 494.2L163.0 497.2ZM163.0 497.2L157.9 494.2L153.0 491.0L157.6 484.7L162.2 487.7L166.9 490.5ZM166.9 490.5L162.2 487.7L157.6 484.7L162.1 478.4L166.5 481.2L170.9 483.8ZM170.9 483.8L166.5 481.2L162.1 478.4L166.7 472.1L170.7 474.7L174.9 477.1ZM174.9 477.1L170.7 474.7L166.7 472.1L171.3 465.7L175.0 468.2L178.9 470.4ZM178.9 470.4L175.0 468.2L171.3 465.7L175.8 459.4L179.3 461.7L182.8 463.8ZM182.8 463.8L179.3 461.7L175.8 459.4L180.4 453.1L183.5 455.1L186.8 457.1ZM198.7 437.0L196.4 435.6L194.0 434.1L198.6 427.8L200.6 429.1L202.7 430.3ZM202.7 430.3L200.6 429.1L198.6 427.8L203.2 421.5L204.9 422.6L206.7 423.6ZM214.6 410.3L213.4 409.6L212.3 408.8L216.8 402.5L217.7 403.0L218.6 403.6ZM226.5 390.2L226.2 390.0L225.9 389.8L230.5 383.5L230.5 383.5L230.5 383.5ZM212.3 408.8L211.2 408.0L210.1 407.2L215.2 401.2L216.0 401.9L216.8 402.5ZM225.9 389.8L225.7 389.6L225.4 389.4L230.5 383.5L230.5 383.5L230.5 383.5ZM205.0 413.1L203.7 412.0L202.4 410.8L208.0 405.3L209.0 406.3L210.1 407.2ZM210.1 407.2L209.0 406.3L208.0 405.3L213.6 399.9L214.4 400.6L215.2 401.2ZM174.3 438.1L171.9 435.7L169.6 433.1L175.7 428.2L177.8 430.5L179.9 432.6ZM202.4 410.8L201.2 409.6L200.1 408.3L206.2 403.4L207.1 404.4L208.0 405.3ZM208.0 405.3L207.1 404.4L206.2 403.4L212.2 398.4L212.9 399.2L213.6 399.9ZM145.3 453.0L142.3 449.3L139.4 445.5L145.9 441.1L148.6 444.6L151.4 448.0ZM151.4 448.0L148.6 444.6L145.9 441.1L152.4 436.7L154.9 439.9L157.5 443.1ZM181.8 423.2L180.1 421.1L178.4 418.9L184.9 414.5L186.4 416.4L187.9 418.2ZM200.1 408.3L199.0 407.0L198.0 405.6L204.5 401.2L205.3 402.3L206.2 403.4ZM132.9 449.9L130.0 445.7L127.3 441.4L134.2 437.6L136.7 441.6L139.4 445.5ZM139.4 445.5L136.7 441.6L134.2 437.6L141.1 433.7L143.4 437.4L145.9 441.1ZM145.9 441.1L143.4 437.4L141.1 433.7L147.9 429.8L150.1 433.3L152.4 436.7ZM184.9 414.5L183.6 412.5L182.3 410.5L189.2 406.7L190.3 408.4L191.5 410.1ZM198.0 405.6L197.0 404.2L196.1 402.8L203.0 398.9L203.7 400.1L204.5 401.2ZM134.2 437.6L131.8 433.4L129.7 429.2L136.9 425.9L138.9 429.9L141.1 433.7ZM141.1 433.7L138.9 429.9L136.9 425.9L144.1 422.7L145.9 426.3L147.9 429.8ZM196.1 402.8L195.3 401.3L194.5 399.8L201.7 396.6L202.3 397.8L203.0 398.9ZM194.5 399.8L193.8 398.3L193.2 396.7L200.6 394.1L201.1 395.3L201.7 396.6ZM193.2 396.7L192.6 395.1L192.1 393.5L199.8 391.5L200.2 392.8L200.6 394.1ZM100.0 417.5L98.6 411.9L97.5 406.3L105.3 405.0L106.4 410.2L107.7 415.5ZM107.7 415.5L106.4 410.2L105.3 405.0L113.1 403.6L114.2 408.6L115.4 413.5ZM161.4 401.5L160.7 398.5L160.1 395.6L167.9 394.2L168.5 396.9L169.1 399.5ZM169.1 399.5L168.5 396.9L167.9 394.2L175.7 392.9L176.2 395.2L176.8 397.5ZM192.1 393.5L191.7 391.9L191.4 390.2L199.2 388.9L199.5 390.2L199.8 391.5ZM89.7 407.6L88.7 401.6L88.0 395.6L96.0 394.9L96.6 400.6L97.5 406.3ZM136.6 399.6L136.0 395.6L135.5 391.6L143.4 390.9L143.9 394.6L144.4 398.3ZM144.4 398.3L143.9 394.6L143.4 390.9L151.4 390.2L151.7 393.6L152.3 396.9ZM152.3 396.9L151.7 393.6L151.4 390.2L159.3 389.6L159.6 392.6L160.1 395.6ZM160.1 395.6L159.6 392.6L159.3 389.6L167.2 388.9L167.5 391.6L167.9 394.2ZM167.9 394.2L167.5 391.6L167.2 388.9L175.1 388.2L175.4 390.6L175.7 392.9ZM191.4 390.2L191.1 388.5L190.9 386.9L198.8 386.2L199.0 387.5L199.2 388.9ZM111.8 393.6L111.4 388.6L111.3 383.5L119.3 383.5L119.4 388.2L119.7 392.9ZM119.7 392.9L119.4 388.2L119.3 383.5L127.2 383.5L127.3 387.9L127.6 392.2ZM127.6 392.2L127.3 387.9L127.2 383.5L135.2 383.5L135.3 387.5L135.5 391.6ZM190.9 386.9L190.8 385.2L190.8 383.5L198.7 383.5L198.8 384.8L198.8 386.2ZM111.3 383.5L111.4 378.4L111.8 373.4L119.7 374.1L119.4 378.8L119.3 383.5ZM127.2 383.5L127.3 379.1L127.6 374.8L135.5 375.4L135.3 379.5L135.2 383.5ZM103.9 372.7L104.5 367.4L105.3 362.0L113.1 363.4L112.4 368.4L111.8 373.4ZM111.8 373.4L112.4 368.4L113.1 363.4L121.0 364.7L120.2 369.4L119.7 374.1ZM89.7 359.4L90.9 353.4L92.4 347.5L100.0 349.5L98.6 355.1L97.5 360.7ZM97.5 360.7L98.6 355.1L100.0 349.5L107.7 351.5L106.4 356.8L105.3 362.0ZM105.3 362.0L106.4 356.8L107.7 351.5L115.4 353.5L114.2 358.4L113.1 363.4ZM130.7 357.5L132.0 353.3L133.5 349.2L140.9 351.8L139.6 355.6L138.4 359.5ZM185.7 367.7L186.5 365.8L187.3 363.9L194.5 367.2L193.8 368.7L193.2 370.3ZM151.3 347.6L153.0 344.3L154.8 341.0L161.7 344.9L160.0 347.8L158.5 350.9ZM158.5 350.9L160.0 347.8L161.7 344.9L168.6 348.8L167.1 351.4L165.7 354.1ZM187.3 363.9L188.2 362.1L189.2 360.3L196.1 364.2L195.3 365.7L194.5 367.2ZM127.3 325.6L130.0 321.3L132.9 317.1L139.4 321.5L136.7 325.4L134.2 329.4ZM154.8 341.0L156.8 337.9L158.9 334.8L165.4 339.2L163.5 342.0L161.7 344.9ZM168.6 348.8L170.2 346.2L171.9 343.6L178.4 348.1L176.9 350.3L175.5 352.6ZM113.4 303.8L117.1 298.9L121.0 294.2L127.0 299.1L123.4 303.6L119.9 308.2ZM119.9 308.2L123.4 303.6L127.0 299.1L133.1 304.1L129.7 308.3L126.4 312.6ZM152.4 330.3L154.9 327.1L157.5 323.9L163.6 328.9L161.2 331.8L158.9 334.8ZM158.9 334.8L161.2 331.8L163.6 328.9L169.6 333.9L167.5 336.5L165.4 339.2ZM165.4 339.2L167.5 336.5L169.6 333.9L175.7 338.8L173.8 341.2L171.9 343.6ZM184.9 352.5L186.4 350.6L187.9 348.8L194.0 353.7L192.7 355.3L191.5 356.9ZM121.0 294.2L125.1 289.6L129.4 285.2L135.0 290.7L130.9 294.8L127.0 299.1ZM187.9 348.8L189.5 347.0L191.2 345.3L196.8 350.7L195.4 352.2L194.0 353.7ZM191.2 345.3L192.9 343.6L194.8 342.1L199.9 348.0L198.3 349.3L196.8 350.7ZM153.9 294.8L158.0 291.6L162.1 288.6L166.7 294.9L162.8 297.7L159.0 300.7ZM194.8 342.1L196.6 340.6L198.6 339.2L203.2 345.5L201.5 346.7L199.9 348.0ZM220.3 371.7L220.8 371.2L221.4 370.8L225.9 377.2L225.7 377.4L225.4 377.6ZM225.4 377.6L225.7 377.4L225.9 377.2L230.5 383.5L230.5 383.5L230.5 383.5ZM189.5 326.6L192.1 324.9L194.7 323.3L198.7 330.0L196.4 331.4L194.0 332.9ZM198.6 339.2L200.6 337.9L202.7 336.7L206.7 343.4L204.9 344.4L203.2 345.5ZM221.4 370.8L222.0 370.5L222.6 370.1L226.5 376.8L226.2 377.0L225.9 377.2ZM225.9 377.2L226.2 377.0L226.5 376.8L230.5 383.5L230.5 383.5L230.5 383.5ZM170.9 283.2L175.5 280.8L180.1 278.5L183.5 285.5L179.1 287.6L174.9 289.9ZM174.9 289.9L179.1 287.6L183.5 285.5L186.9 292.5L182.8 294.5L178.9 296.6ZM194.7 323.3L197.5 321.9L200.3 320.5L203.6 327.5L201.2 328.7L198.7 330.0ZM198.7 330.0L201.2 328.7L203.6 327.5L207.0 334.5L204.8 335.6L202.7 336.7ZM202.7 336.7L204.8 335.6L207.0 334.5L210.4 341.5L208.5 342.4L206.7 343.4ZM210.6 350.1L212.2 349.3L213.7 348.5L217.1 355.5L215.8 356.1L214.6 356.7ZM222.6 370.1L223.2 369.8L223.8 369.5L227.1 376.5L226.8 376.7L226.5 376.8ZM226.5 376.8L226.8 376.7L227.1 376.5L230.5 383.5L230.5 383.5L230.5 383.5ZM176.8 271.5L181.9 269.3L187.0 267.4L189.7 274.7L184.9 276.5L180.1 278.5ZM203.6 327.5L206.2 326.4L208.8 325.4L211.5 332.7L209.2 333.6L207.0 334.5ZM207.0 334.5L209.2 333.6L211.5 332.7L214.2 340.0L212.3 340.7L210.4 341.5ZM213.7 348.5L215.3 347.8L216.9 347.2L219.6 354.5L218.3 355.0L217.1 355.5ZM223.8 369.5L224.4 369.2L225.1 369.0L227.8 376.2L227.5 376.4L227.1 376.5ZM227.1 376.5L227.5 376.4L227.8 376.2L230.5 383.5L230.5 383.5L230.5 383.5ZM181.6 252.9L187.5 250.9L193.5 249.2L195.5 256.7L189.9 258.3L184.3 260.1ZM184.3 260.1L189.9 258.3L195.5 256.7L197.6 264.2L192.3 265.7L187.0 267.4ZM187.0 267.4L192.3 265.7L197.6 264.2L199.7 271.6L194.7 273.0L189.7 274.7ZM197.9 296.4L201.8 295.1L205.8 294.0L207.9 301.4L204.2 302.5L200.6 303.7ZM200.6 303.7L204.2 302.5L207.9 301.4L209.9 308.9L206.6 309.9L203.3 310.9ZM208.8 325.4L211.4 324.6L214.1 323.8L216.1 331.3L213.8 331.9L211.5 332.7ZM211.5 332.7L213.8 331.9L216.1 331.3L218.2 338.7L216.2 339.3L214.2 340.0ZM214.2 340.0L216.2 339.3L218.2 338.7L220.2 346.2L218.6 346.7L216.9 347.2ZM225.1 369.0L225.7 368.8L226.4 368.6L228.4 376.0L228.1 376.1L227.8 376.2ZM227.8 376.2L228.1 376.1L228.4 376.0L230.5 383.5L230.5 383.5L230.5 383.5ZM193.5 249.2L199.5 247.8L205.7 246.6L207.0 254.2L201.3 255.3L195.5 256.7ZM195.5 256.7L201.3 255.3L207.0 254.2L208.4 261.8L203.0 262.9L197.6 264.2ZM197.6 264.2L203.0 262.9L208.4 261.8L209.8 269.4L204.7 270.4L199.7 271.6ZM205.8 294.0L209.9 293.0L213.9 292.2L215.3 299.8L211.6 300.6L207.9 301.4ZM207.9 301.4L211.6 300.6L215.3 299.8L216.7 307.5L213.3 308.1L209.9 308.9ZM209.9 308.9L213.3 308.1L216.7 307.5L218.1 315.1L215.0 315.6L212.0 316.4ZM212.0 316.4L215.0 315.6L218.1 315.1L219.5 322.7L216.7 323.2L214.1 323.8ZM214.1 323.8L216.7 323.2L219.5 322.7L220.8 330.3L218.5 330.7L216.1 331.3ZM216.1 331.3L218.5 330.7L220.8 330.3L222.2 337.9L220.2 338.3L218.2 338.7ZM218.2 338.7L220.2 338.3L222.2 337.9L223.6 345.5L221.9 345.8L220.2 346.2ZM226.4 368.6L227.1 368.4L227.7 368.3L229.1 375.9L228.8 376.0L228.4 376.0ZM228.4 376.0L228.8 376.0L229.1 375.9L230.5 383.5L230.5 383.5L230.5 383.5ZM213.9 292.2L218.1 291.6L222.2 291.2L222.9 298.9L219.1 299.3L215.3 299.8ZM215.3 299.8L219.1 299.3L222.9 298.9L223.6 306.6L220.1 306.9L216.7 307.5ZM216.7 307.5L220.1 306.9L223.6 306.6L224.3 314.3L221.2 314.6L218.1 315.1ZM218.1 315.1L221.2 314.6L224.3 314.3L225.0 322.0L222.2 322.3L219.5 322.7ZM219.5 322.7L222.2 322.3L225.0 322.0L225.7 329.7L223.2 329.9L220.8 330.3ZM227.7 368.3L228.4 368.2L229.1 368.1L229.8 375.8L229.5 375.8L229.1 375.9ZM229.1 375.9L229.5 375.8L229.8 375.8L230.5 383.5L230.5 383.5L230.5 383.5ZM222.9 298.9L226.7 298.6L230.5 298.6L230.5 306.3L227.0 306.4L223.6 306.6ZM224.3 314.3L227.4 314.1L230.5 314.0L230.5 321.7L227.7 321.8L225.0 322.0ZM225.0 322.0L227.7 321.8L230.5 321.7L230.5 329.4L228.1 329.5L225.7 329.7ZM229.1 368.1L229.8 368.1L230.5 368.1L230.5 375.8L230.2 375.8L229.8 375.8ZM229.8 375.8L230.2 375.8L230.5 375.8L230.5 383.5L230.5 383.5L230.5 383.5Z"/>
<path fill="#74add1" stroke="#74add1" stroke-width="0.6" d="M230.5 360.3L231.5 360.4L232.6 360.4L231.9 368.1L231.2 368.1L230.5 368.1ZM240.2 275.8L245.0 276.3L249.8 277.0L248.4 284.6L244.0 284.0L239.5 283.5ZM237.4 306.6L240.9 306.9L244.3 307.5L242.9 315.1L239.8 314.6L236.7 314.3ZM236.0 322.0L238.8 322.3L241.5 322.7L240.2 330.3L237.8 329.9L235.3 329.7ZM232.6 360.4L233.6 360.5L234.6 360.7L233.3 368.3L232.6 368.2L231.9 368.1ZM241.5 322.7L244.3 323.2L246.9 323.8L244.9 331.3L242.5 330.7L240.2 330.3ZM234.6 360.7L235.7 360.9L236.7 361.1L234.6 368.6L233.9 368.4L233.3 368.3ZM236.7 361.1L237.7 361.4L238.7 361.7L235.9 369.0L235.3 368.8L234.6 368.6ZM268.5 281.9L273.1 283.6L277.5 285.5L274.1 292.5L270.0 290.8L265.8 289.2ZM266.2 323.3L268.9 324.9L271.5 326.6L267.0 332.9L264.6 331.4L262.3 330.0ZM312.5 269.6L317.6 273.2L322.4 277.0L317.3 282.9L312.7 279.4L308.0 276.0ZM308.0 276.0L312.7 279.4L317.3 282.9L312.2 288.9L307.9 285.5L303.4 282.3ZM271.5 326.6L274.0 328.4L276.5 330.3L271.4 336.2L269.2 334.5L267.0 332.9ZM317.3 282.9L321.7 286.7L326.0 290.7L320.4 296.1L316.4 292.4L312.2 288.9ZM312.2 288.9L316.4 292.4L320.4 296.1L314.8 301.6L311.0 298.1L307.1 294.8ZM291.8 312.5L294.9 315.2L297.9 318.0L292.3 323.4L289.5 320.9L286.7 318.4ZM276.5 330.3L278.8 332.3L281.1 334.4L275.4 339.8L273.4 338.0L271.4 336.2ZM334.0 299.1L337.6 303.6L341.1 308.2L334.6 312.6L331.3 308.3L327.9 304.1ZM327.9 304.1L331.3 308.3L334.6 312.6L328.1 317.1L325.0 313.0L321.8 309.0ZM303.5 323.9L306.1 327.1L308.6 330.3L302.1 334.8L299.8 331.8L297.4 328.9ZM260.9 358.7L262.0 360.0L263.0 361.4L256.5 365.8L255.7 364.7L254.8 363.6ZM334.6 312.6L337.7 317.1L340.6 321.7L333.7 325.6L331.0 321.3L328.1 317.1ZM308.6 330.3L310.9 333.7L313.1 337.2L306.2 341.0L304.2 337.9L302.1 334.8ZM263.0 361.4L264.0 362.8L264.9 364.2L258.0 368.1L257.3 366.9L256.5 365.8ZM251.1 371.9L251.6 372.8L252.1 373.7L244.9 377.0L244.6 376.4L244.3 375.8ZM360.1 324.8L362.6 330.3L364.9 336.0L357.4 338.6L355.3 333.3L352.9 328.0ZM352.9 328.0L355.3 333.3L357.4 338.6L349.9 341.2L347.9 336.2L345.7 331.3ZM302.5 350.9L303.9 353.9L305.2 357.1L297.7 359.7L296.6 356.9L295.3 354.1ZM280.9 360.7L281.9 362.8L282.8 365.0L275.3 367.7L274.5 365.8L273.7 363.9ZM252.1 373.7L252.5 374.6L252.9 375.6L245.4 378.2L245.2 377.6L244.9 377.0ZM364.9 336.0L366.9 341.7L368.6 347.5L361.0 349.5L359.3 344.0L357.4 338.6ZM312.6 354.4L313.8 358.0L314.9 361.5L307.2 363.5L306.3 360.3L305.2 357.1ZM252.9 375.6L253.2 376.5L253.5 377.5L245.8 379.5L245.7 378.9L245.4 378.2ZM368.6 347.5L370.1 353.4L371.3 359.4L363.5 360.7L362.4 355.1L361.0 349.5ZM299.6 365.5L300.3 368.5L300.9 371.4L293.1 372.8L292.5 370.1L291.9 367.5ZM253.5 377.5L253.8 378.5L254.0 379.5L246.1 380.8L246.0 380.2L245.8 379.5ZM347.9 363.4L348.6 368.4L349.2 373.4L341.3 374.1L340.8 369.4L340.0 364.7ZM308.7 370.1L309.3 373.4L309.6 376.8L301.7 377.4L301.4 374.4L300.9 371.4ZM254.0 379.5L254.1 380.5L254.2 381.5L246.3 382.2L246.3 381.5L246.1 380.8ZM333.4 374.8L333.7 379.1L333.8 383.5L325.8 383.5L325.7 379.5L325.5 375.4ZM325.5 375.4L325.7 379.5L325.8 383.5L317.9 383.5L317.8 379.8L317.6 376.1ZM254.2 381.5L254.3 382.5L254.3 383.5L246.4 383.5L246.4 382.8L246.3 382.2ZM309.9 383.5L309.9 386.9L309.6 390.2L301.7 389.6L301.9 386.5L302.0 383.5ZM278.2 383.5L278.1 385.5L278.0 387.5L270.1 386.9L270.2 385.2L270.2 383.5ZM254.3 383.5L254.3 384.5L254.2 385.5L246.3 384.8L246.4 384.2L246.4 383.5ZM325.5 391.6L325.0 395.6L324.4 399.6L316.6 398.3L317.1 394.6L317.6 390.9ZM285.9 388.2L285.6 390.6L285.3 392.9L277.4 391.5L277.8 389.5L278.0 387.5ZM278.0 387.5L277.8 389.5L277.4 391.5L269.6 390.2L269.9 388.5L270.1 386.9ZM254.2 385.5L254.1 386.5L254.0 387.5L246.1 386.2L246.3 385.5L246.3 384.8ZM340.0 402.3L339.1 406.9L337.9 411.5L330.3 409.5L331.3 405.2L332.2 400.9ZM332.2 400.9L331.3 405.2L330.3 409.5L322.6 407.5L323.6 403.6L324.4 399.6ZM269.6 390.2L269.3 391.9L268.9 393.5L261.2 391.5L261.5 390.2L261.8 388.9ZM238.3 384.8L238.3 385.2L238.2 385.5L230.5 383.5L230.5 383.5L230.5 383.5ZM337.9 411.5L336.6 416.0L335.0 420.5L327.5 417.8L329.0 413.7L330.3 409.5ZM299.6 401.5L298.7 404.4L297.7 407.3L290.2 404.6L291.1 402.1L291.9 399.5ZM268.9 393.5L268.4 395.1L267.8 396.7L260.4 394.1L260.8 392.8L261.2 391.5ZM238.2 385.5L238.1 385.8L238.0 386.1L230.5 383.5L230.5 383.5L230.5 383.5ZM282.8 402.0L281.9 404.2L280.9 406.3L273.7 403.1L274.5 401.2L275.3 399.3ZM238.0 386.1L237.8 386.5L237.7 386.8L230.5 383.5L230.5 383.5L230.5 383.5ZM360.1 442.2L357.3 447.7L354.3 453.0L347.5 449.1L350.3 444.1L352.9 439.0ZM237.7 386.8L237.5 387.1L237.4 387.4L230.5 383.5L230.5 383.5L230.5 383.5ZM340.6 445.3L337.7 449.9L334.6 454.4L328.1 449.9L331.0 445.7L333.7 441.4ZM313.1 429.8L310.9 433.3L308.6 436.7L302.1 432.2L304.2 429.1L306.2 426.0ZM244.3 391.2L243.9 391.8L243.5 392.4L237.0 387.9L237.2 387.6L237.4 387.4ZM237.4 387.4L237.2 387.6L237.0 387.9L230.5 383.5L230.5 383.5L230.5 383.5ZM347.6 463.2L343.9 468.1L340.0 472.8L334.0 467.9L337.6 463.4L341.1 458.8ZM243.5 392.4L243.1 392.9L242.7 393.4L236.6 388.5L236.8 388.2L237.0 387.9ZM237.0 387.9L236.8 388.2L236.6 388.5L230.5 383.5L230.5 383.5L230.5 383.5ZM303.5 443.1L300.8 446.1L297.9 449.0L292.3 443.6L294.9 440.9L297.4 438.1ZM291.4 433.1L289.1 435.7L286.7 438.1L281.1 432.6L283.2 430.5L285.3 428.2ZM285.3 428.2L283.2 430.5L281.1 432.6L275.4 427.2L277.4 425.2L279.2 423.2ZM242.7 393.4L242.2 393.9L241.7 394.4L236.1 389.0L236.4 388.7L236.6 388.5ZM236.6 388.5L236.4 388.7L236.1 389.0L230.5 383.5L230.5 383.5L230.5 383.5ZM269.8 421.7L268.1 423.4L266.2 424.9L261.1 419.0L262.7 417.7L264.2 416.3ZM241.7 394.4L241.2 394.9L240.7 395.3L235.6 389.4L235.9 389.2L236.1 389.0ZM236.1 389.0L235.9 389.2L235.6 389.4L230.5 383.5L230.5 383.5L230.5 383.5ZM317.3 484.1L312.7 487.6L308.0 491.0L303.4 484.7L307.9 481.5L312.2 478.1ZM291.8 454.5L288.5 457.0L285.2 459.4L280.6 453.1L283.7 450.9L286.7 448.6ZM261.1 419.0L259.5 420.3L257.8 421.5L253.3 415.1L254.7 414.1L256.0 413.1ZM280.6 453.1L277.5 455.1L274.2 457.1L270.2 450.4L273.2 448.6L276.1 446.8ZM257.8 421.5L256.1 422.6L254.3 423.6L250.4 416.9L251.8 416.1L253.3 415.1ZM266.2 443.7L263.5 445.1L260.7 446.5L257.4 439.5L259.8 438.3L262.3 437.0ZM254.3 423.6L252.5 424.6L250.6 425.5L247.3 418.5L248.8 417.7L250.4 416.9ZM250.6 425.5L248.7 426.3L246.8 427.0L244.1 419.8L245.7 419.2L247.3 418.5ZM265.8 477.8L261.6 479.2L257.2 480.5L255.2 473.0L259.2 471.9L263.1 470.6ZM246.8 427.0L244.8 427.7L242.8 428.3L240.8 420.8L242.4 420.3L244.1 419.8ZM267.5 517.8L261.5 519.2L255.3 520.4L254.0 512.8L259.7 511.7L265.5 510.3ZM265.5 510.3L259.7 511.7L254.0 512.8L252.6 505.2L258.0 504.1L263.4 502.8ZM263.4 502.8L258.0 504.1L252.6 505.2L251.2 497.6L256.3 496.6L261.3 495.4ZM246.9 443.2L244.3 443.8L241.5 444.3L240.2 436.7L242.5 436.3L244.9 435.7ZM242.8 428.3L240.8 428.7L238.8 429.1L237.4 421.5L239.1 421.2L240.8 420.8ZM247.1 474.8L242.9 475.4L238.8 475.8L238.1 468.1L241.9 467.7L245.7 467.2ZM239.5 483.5L235.0 483.8L230.5 483.9L230.5 476.2L234.7 476.1L238.8 475.8ZM230.5 491.6L225.6 491.5L220.8 491.2L221.5 483.5L226.0 483.8L230.5 483.9ZM230.5 437.6L228.1 437.5L225.7 437.3L226.3 429.7L228.4 429.8L230.5 429.8ZM218.0 522.0L211.8 521.3L205.7 520.4L207.0 512.8L212.9 513.7L218.7 514.3ZM218.7 514.3L212.9 513.7L207.0 512.8L208.4 505.2L213.9 506.0L219.4 506.6ZM219.4 506.6L213.9 506.0L208.4 505.2L209.8 497.6L214.9 498.3L220.1 498.9ZM222.9 468.1L219.1 467.7L215.3 467.2L216.7 459.5L220.1 460.1L223.6 460.4ZM225.7 437.3L223.2 437.1L220.8 436.7L222.2 429.1L224.3 429.4L226.3 429.7ZM216.7 459.5L213.3 458.9L209.9 458.1L212.0 450.6L215.0 451.4L218.1 451.9ZM193.5 517.8L187.5 516.1L181.6 514.1L184.3 506.9L189.9 508.7L195.5 510.3ZM195.5 510.3L189.9 508.7L184.3 506.9L187.0 499.6L192.3 501.3L197.6 502.8ZM192.5 485.1L187.9 483.4L183.5 481.5L186.9 474.5L191.0 476.2L195.2 477.8ZM214.2 427.0L212.3 426.3L210.4 425.5L213.7 418.5L215.3 419.2L216.9 419.8ZM210.4 425.5L208.5 424.6L206.7 423.6L210.6 416.9L212.2 417.7L213.7 418.5ZM206.7 423.6L204.9 422.6L203.2 421.5L207.7 415.1L209.2 416.1L210.6 416.9ZM210.6 416.9L209.2 416.1L207.7 415.1L212.3 408.8L213.4 409.6L214.6 410.3ZM166.7 472.1L162.8 469.3L159.0 466.3L164.1 460.4L167.6 463.1L171.3 465.7ZM171.3 465.7L167.6 463.1L164.1 460.4L169.2 454.5L172.5 457.0L175.8 459.4ZM184.9 446.8L182.1 444.8L179.4 442.7L184.5 436.7L187.0 438.6L189.5 440.4ZM189.5 440.4L187.0 438.6L184.5 436.7L189.6 430.8L191.8 432.5L194.0 434.1ZM203.2 421.5L201.5 420.3L199.9 419.0L205.0 413.1L206.3 414.1L207.7 415.1ZM207.7 415.1L206.3 414.1L205.0 413.1L210.1 407.2L211.2 408.0L212.3 408.8ZM179.4 442.7L176.8 440.4L174.3 438.1L179.9 432.6L182.2 434.7L184.5 436.7ZM151.9 459.9L148.5 456.5L145.3 453.0L151.4 448.0L154.4 451.3L157.5 454.5ZM179.9 432.6L177.8 430.5L175.7 428.2L181.8 423.2L183.6 425.2L185.6 427.2ZM185.6 427.2L183.6 425.2L181.8 423.2L187.9 418.2L189.5 420.0L191.2 421.7ZM139.2 458.0L136.0 454.0L132.9 449.9L139.4 445.5L142.3 449.3L145.3 453.0ZM187.9 418.2L186.4 416.4L184.9 414.5L191.5 410.1L192.7 411.7L194.0 413.3ZM194.0 413.3L192.7 411.7L191.5 410.1L198.0 405.6L199.0 407.0L200.1 408.3ZM113.4 463.2L109.9 458.2L106.7 453.0L113.5 449.1L116.6 454.0L119.9 458.8ZM126.4 454.4L123.3 449.9L120.4 445.3L127.3 441.4L130.0 445.7L132.9 449.9ZM152.4 436.7L150.1 433.3L147.9 429.8L154.8 426.0L156.8 429.1L158.9 432.2ZM191.5 410.1L190.3 408.4L189.2 406.7L196.1 402.8L197.0 404.2L198.0 405.6ZM106.7 453.0L103.7 447.7L100.9 442.2L108.1 439.0L110.7 444.1L113.5 449.1ZM113.5 449.1L110.7 444.1L108.1 439.0L115.3 435.7L117.8 440.6L120.4 445.3ZM120.4 445.3L117.8 440.6L115.3 435.7L122.5 432.5L124.8 437.0L127.3 441.4ZM127.3 441.4L124.8 437.0L122.5 432.5L129.7 429.2L131.8 433.4L134.2 437.6ZM182.3 410.5L181.2 408.5L180.1 406.3L187.3 403.1L188.2 404.9L189.2 406.7ZM100.9 442.2L98.4 436.7L96.1 431.0L103.6 428.4L105.7 433.7L108.1 439.0ZM108.1 439.0L105.7 433.7L103.6 428.4L111.1 425.8L113.1 430.8L115.3 435.7ZM96.1 431.0L94.1 425.3L92.4 419.5L100.0 417.5L101.7 423.0L103.6 428.4ZM103.6 428.4L101.7 423.0L100.0 417.5L107.7 415.5L109.3 420.7L111.1 425.8ZM155.8 409.9L154.7 406.7L153.8 403.5L161.4 401.5L162.3 404.4L163.3 407.3ZM200.6 394.1L200.2 392.8L199.8 391.5L207.5 389.5L207.8 390.5L208.1 391.4ZM115.4 413.5L114.2 408.6L113.1 403.6L121.0 402.3L121.9 406.9L123.1 411.5ZM153.8 403.5L152.9 400.2L152.3 396.9L160.1 395.6L160.7 398.5L161.4 401.5ZM176.8 397.5L176.2 395.2L175.7 392.9L183.6 391.5L184.0 393.5L184.5 395.5ZM199.8 391.5L199.5 390.2L199.2 388.9L207.0 387.5L207.2 388.5L207.5 389.5ZM199.2 388.9L199.0 387.5L198.8 386.2L206.8 385.5L206.9 386.5L207.0 387.5ZM96.0 394.9L95.6 389.2L95.4 383.5L103.4 383.5L103.5 388.9L103.9 394.3ZM103.9 394.3L103.5 388.9L103.4 383.5L111.3 383.5L111.4 388.6L111.8 393.6ZM135.5 391.6L135.3 387.5L135.2 383.5L143.1 383.5L143.2 387.2L143.4 390.9ZM159.3 389.6L159.1 386.5L159.0 383.5L166.9 383.5L167.0 386.2L167.2 388.9ZM167.2 388.9L167.0 386.2L166.9 383.5L174.9 383.5L174.9 385.9L175.1 388.2ZM198.8 386.2L198.8 384.8L198.7 383.5L206.7 383.5L206.7 384.5L206.8 385.5ZM103.4 383.5L103.5 378.1L103.9 372.7L111.8 373.4L111.4 378.4L111.3 383.5ZM166.9 383.5L167.0 380.8L167.2 378.1L175.1 378.8L174.9 381.1L174.9 383.5ZM190.8 383.5L190.8 381.8L190.9 380.1L198.8 380.8L198.8 382.2L198.7 383.5ZM88.0 371.4L88.7 365.4L89.7 359.4L97.5 360.7L96.6 366.4L96.0 372.1ZM96.0 372.1L96.6 366.4L97.5 360.7L105.3 362.0L104.5 367.4L103.9 372.7ZM167.2 378.1L167.5 375.4L167.9 372.8L175.7 374.1L175.4 376.4L175.1 378.8ZM190.9 380.1L191.1 378.5L191.4 376.8L199.2 378.1L199.0 379.5L198.8 380.8ZM113.1 363.4L114.2 358.4L115.4 353.5L123.1 355.5L121.9 360.1L121.0 364.7ZM191.4 376.8L191.7 375.1L192.1 373.5L199.8 375.5L199.5 376.8L199.2 378.1ZM192.1 373.5L192.6 371.9L193.2 370.3L200.6 372.9L200.2 374.2L199.8 375.5ZM193.2 370.3L193.8 368.7L194.5 367.2L201.7 370.4L201.1 371.7L200.6 372.9ZM194.5 367.2L195.3 365.7L196.1 364.2L203.0 368.1L202.3 369.2L201.7 370.4ZM134.2 329.4L136.7 325.4L139.4 321.5L145.9 325.9L143.4 329.6L141.1 333.3ZM141.1 333.3L143.4 329.6L145.9 325.9L152.4 330.3L150.1 333.7L147.9 337.2ZM147.9 337.2L150.1 333.7L152.4 330.3L158.9 334.8L156.8 337.9L154.8 341.0ZM175.5 352.6L176.9 350.3L178.4 348.1L184.9 352.5L183.6 354.5L182.3 356.5ZM182.3 356.5L183.6 354.5L184.9 352.5L191.5 356.9L190.3 358.6L189.2 360.3ZM196.1 364.2L197.0 362.8L198.0 361.4L204.5 365.8L203.7 366.9L203.0 368.1ZM126.4 312.6L129.7 308.3L133.1 304.1L139.2 309.0L136.0 313.0L132.9 317.1ZM145.9 325.9L148.6 322.4L151.4 319.0L157.5 323.9L154.9 327.1L152.4 330.3ZM178.4 348.1L180.1 345.9L181.8 343.8L187.9 348.8L186.4 350.6L184.9 352.5ZM198.0 361.4L199.0 360.0L200.1 358.7L206.2 363.6L205.3 364.7L204.5 365.8ZM127.0 299.1L130.9 294.8L135.0 290.7L140.6 296.1L136.8 300.0L133.1 304.1ZM133.1 304.1L136.8 300.0L140.6 296.1L146.2 301.6L142.6 305.2L139.2 309.0ZM181.8 343.8L183.6 341.8L185.6 339.8L191.2 345.3L189.5 347.0L187.9 348.8ZM189.6 336.2L191.8 334.5L194.0 332.9L198.6 339.2L196.6 340.6L194.8 342.1ZM210.1 359.8L211.2 359.0L212.3 358.2L216.8 364.5L216.0 365.1L215.2 365.8ZM215.2 365.8L216.0 365.1L216.8 364.5L221.4 370.8L220.8 371.2L220.3 371.7ZM148.5 269.6L153.7 266.3L159.0 263.1L163.0 269.8L157.9 272.8L153.0 276.0ZM153.0 276.0L157.9 272.8L163.0 269.8L166.9 276.5L162.2 279.3L157.6 282.3ZM194.0 332.9L196.4 331.4L198.7 330.0L202.7 336.7L200.6 337.9L198.6 339.2ZM212.3 358.2L213.4 357.4L214.6 356.7L218.6 363.4L217.7 364.0L216.8 364.5ZM216.8 364.5L217.7 364.0L218.6 363.4L222.6 370.1L222.0 370.5L221.4 370.8ZM166.9 276.5L171.8 273.9L176.8 271.5L180.1 278.5L175.5 280.8L170.9 283.2ZM190.8 316.6L193.8 315.0L196.9 313.5L200.3 320.5L197.5 321.9L194.7 323.3ZM218.6 363.4L219.5 363.0L220.4 362.5L223.8 369.5L223.2 369.8L222.6 370.1ZM190.2 299.5L194.0 297.9L197.9 296.4L200.6 303.7L197.1 305.0L193.6 306.5ZM196.9 313.5L200.1 312.2L203.3 310.9L206.0 318.2L203.1 319.3L200.3 320.5ZM220.4 362.5L221.4 362.1L222.3 361.7L225.1 369.0L224.4 369.2L223.8 369.5ZM203.3 310.9L206.6 309.9L209.9 308.9L212.0 316.4L209.0 317.2L206.0 318.2ZM206.0 318.2L209.0 317.2L212.0 316.4L214.1 323.8L211.4 324.6L208.8 325.4Z"/>
<path fill="#90c3dd" stroke="#90c3dd" stroke-width="0.6" d="M230.5 290.8L234.7 290.9L238.8 291.2L238.1 298.9L234.3 298.6L230.5 298.6ZM243.0 245.0L249.2 245.7L255.3 246.6L254.0 254.2L248.1 253.3L242.3 252.7ZM240.9 268.1L246.1 268.7L251.2 269.4L249.8 277.0L245.0 276.3L240.2 275.8ZM236.7 314.3L239.8 314.6L242.9 315.1L241.5 322.7L238.8 322.3L236.0 322.0ZM247.1 292.2L251.1 293.0L255.2 294.0L253.1 301.4L249.4 300.6L245.7 299.8ZM245.7 299.8L249.4 300.6L253.1 301.4L251.1 308.9L247.7 308.1L244.3 307.5ZM242.9 315.1L246.0 315.6L249.0 316.4L246.9 323.8L244.3 323.2L241.5 322.7ZM255.2 294.0L259.2 295.1L263.1 296.4L260.4 303.7L256.8 302.5L253.1 301.4ZM253.1 301.4L256.8 302.5L260.4 303.7L257.7 310.9L254.4 309.9L251.1 308.9ZM249.0 316.4L252.0 317.2L255.0 318.2L252.2 325.4L249.6 324.6L246.9 323.8ZM246.8 340.0L248.7 340.7L250.6 341.5L247.3 348.5L245.7 347.8L244.1 347.2ZM238.7 361.7L239.6 362.1L240.6 362.5L237.2 369.5L236.6 369.2L235.9 369.0ZM250.6 341.5L252.5 342.4L254.3 343.4L250.4 350.1L248.8 349.3L247.3 348.5ZM240.6 362.5L241.5 363.0L242.4 363.4L238.4 370.1L237.8 369.8L237.2 369.5ZM302.0 263.1L307.3 266.3L312.5 269.6L308.0 276.0L303.1 272.8L298.0 269.8ZM250.4 350.1L251.8 350.9L253.3 351.9L248.7 358.2L247.6 357.4L246.4 356.7ZM246.4 356.7L247.6 357.4L248.7 358.2L244.2 364.5L243.3 364.0L242.4 363.4ZM242.4 363.4L243.3 364.0L244.2 364.5L239.6 370.8L239.0 370.5L238.4 370.1ZM303.4 282.3L307.9 285.5L312.2 288.9L307.1 294.8L303.0 291.6L298.9 288.6ZM298.9 288.6L303.0 291.6L307.1 294.8L302.0 300.7L298.2 297.7L294.3 294.9ZM294.3 294.9L298.2 297.7L302.0 300.7L296.9 306.6L293.4 303.9L289.7 301.3ZM289.7 301.3L293.4 303.9L296.9 306.6L291.8 312.5L288.5 310.0L285.2 307.6ZM280.6 313.9L283.7 316.1L286.7 318.4L281.6 324.3L278.9 322.2L276.1 320.2ZM276.1 320.2L278.9 322.2L281.6 324.3L276.5 330.3L274.0 328.4L271.5 326.6ZM253.3 351.9L254.7 352.9L256.0 353.9L250.9 359.8L249.8 359.0L248.7 358.2ZM248.7 358.2L249.8 359.0L250.9 359.8L245.8 365.8L245.0 365.1L244.2 364.5ZM244.2 364.5L245.0 365.1L245.8 365.8L240.7 371.7L240.2 371.2L239.6 370.8ZM322.4 277.0L327.1 281.0L331.6 285.2L326.0 290.7L321.7 286.7L317.3 282.9ZM297.9 318.0L300.8 320.9L303.5 323.9L297.4 328.9L294.9 326.1L292.3 323.4ZM321.8 309.0L325.0 313.0L328.1 317.1L321.6 321.5L318.7 317.7L315.7 314.0ZM315.7 314.0L318.7 317.7L321.6 321.5L315.1 325.9L312.4 322.4L309.6 319.0ZM309.6 319.0L312.4 322.4L315.1 325.9L308.6 330.3L306.1 327.1L303.5 323.9ZM254.8 363.6L255.7 364.7L256.5 365.8L250.0 370.2L249.4 369.4L248.8 368.6ZM328.1 317.1L331.0 321.3L333.7 325.6L326.8 329.4L324.3 325.4L321.6 321.5ZM321.6 321.5L324.3 325.4L326.8 329.4L319.9 333.3L317.6 329.6L315.1 325.9ZM315.1 325.9L317.6 329.6L319.9 333.3L313.1 337.2L310.9 333.7L308.6 330.3ZM256.5 365.8L257.3 366.9L258.0 368.1L251.1 371.9L250.6 371.1L250.0 370.2ZM354.3 314.0L357.3 319.3L360.1 324.8L352.9 328.0L350.3 322.9L347.5 317.9ZM271.8 360.3L272.8 362.1L273.7 363.9L266.5 367.2L265.7 365.7L264.9 364.2ZM345.7 331.3L347.9 336.2L349.9 341.2L342.5 343.9L340.6 339.2L338.5 334.5ZM338.5 334.5L340.6 339.2L342.5 343.9L335.0 346.5L333.3 342.1L331.3 337.8ZM309.7 347.6L311.2 351.0L312.6 354.4L305.2 357.1L303.9 353.9L302.5 350.9ZM273.7 363.9L274.5 365.8L275.3 367.7L267.8 370.3L267.2 368.7L266.5 367.2ZM357.4 338.6L359.3 344.0L361.0 349.5L353.3 351.5L351.7 346.3L349.9 341.2ZM349.9 341.2L351.7 346.3L353.3 351.5L345.6 353.5L344.2 348.7L342.5 343.9ZM342.5 343.9L344.2 348.7L345.6 353.5L337.9 355.5L336.6 351.0L335.0 346.5ZM297.7 359.7L298.7 362.6L299.6 365.5L291.9 367.5L291.1 364.9L290.2 362.4ZM361.0 349.5L362.4 355.1L363.5 360.7L355.7 362.0L354.6 356.8L353.3 351.5ZM353.3 351.5L354.6 356.8L355.7 362.0L347.9 363.4L346.8 358.4L345.6 353.5ZM345.6 353.5L346.8 358.4L347.9 363.4L340.0 364.7L339.1 360.1L337.9 355.5ZM314.9 361.5L315.8 365.1L316.6 368.7L308.7 370.1L308.1 366.8L307.2 363.5ZM340.0 364.7L340.8 369.4L341.3 374.1L333.4 374.8L332.9 370.4L332.2 366.1ZM277.4 375.5L277.8 377.5L278.0 379.5L270.1 380.1L269.9 378.5L269.6 376.8ZM278.0 379.5L278.1 381.5L278.2 383.5L270.2 383.5L270.2 381.8L270.1 380.1ZM317.9 383.5L317.8 387.2L317.6 390.9L309.6 390.2L309.9 386.9L309.9 383.5ZM270.2 383.5L270.2 385.2L270.1 386.9L262.2 386.2L262.2 384.8L262.3 383.5ZM270.1 386.9L269.9 388.5L269.6 390.2L261.8 388.9L262.0 387.5L262.2 386.2ZM363.5 406.3L362.4 411.9L361.0 417.5L353.3 415.5L354.6 410.2L355.7 405.0ZM355.7 405.0L354.6 410.2L353.3 415.5L345.6 413.5L346.8 408.6L347.9 403.6ZM347.9 403.6L346.8 408.6L345.6 413.5L337.9 411.5L339.1 406.9L340.0 402.3ZM293.1 394.2L292.5 396.9L291.9 399.5L284.2 397.5L284.8 395.2L285.3 392.9ZM285.3 392.9L284.8 395.2L284.2 397.5L276.5 395.5L277.0 393.5L277.4 391.5ZM261.8 388.9L261.5 390.2L261.2 391.5L253.5 389.5L253.8 388.5L254.0 387.5ZM307.2 403.5L306.3 406.7L305.2 409.9L297.7 407.3L298.7 404.4L299.6 401.5ZM261.2 391.5L260.8 392.8L260.4 394.1L252.9 391.4L253.2 390.5L253.5 389.5ZM342.5 423.1L340.6 427.8L338.5 432.5L331.3 429.2L333.3 424.9L335.0 420.5ZM305.2 409.9L303.9 413.1L302.5 416.1L295.3 412.9L296.6 410.1L297.7 407.3ZM316.9 422.7L315.1 426.3L313.1 429.8L306.2 426.0L308.0 422.7L309.7 419.4ZM309.7 419.4L308.0 422.7L306.2 426.0L299.3 422.1L301.0 419.2L302.5 416.1ZM295.3 412.9L293.9 415.6L292.4 418.2L285.5 414.4L286.9 412.0L288.1 409.6ZM354.3 453.0L351.1 458.2L347.6 463.2L341.1 458.8L344.4 454.0L347.5 449.1ZM347.5 449.1L344.4 454.0L341.1 458.8L334.6 454.4L337.7 449.9L340.6 445.3ZM306.2 426.0L304.2 429.1L302.1 432.2L295.6 427.8L297.5 425.0L299.3 422.1ZM299.3 422.1L297.5 425.0L295.6 427.8L289.1 423.4L290.8 420.8L292.4 418.2ZM251.1 395.1L250.6 395.9L250.0 396.8L243.5 392.4L243.9 391.8L244.3 391.2ZM341.1 458.8L337.6 463.4L334.0 467.9L327.9 462.9L331.3 458.7L334.6 454.4ZM334.6 454.4L331.3 458.7L327.9 462.9L321.8 458.0L325.0 454.0L328.1 449.9ZM328.1 449.9L325.0 454.0L321.8 458.0L315.7 453.0L318.7 449.3L321.6 445.5ZM321.6 445.5L318.7 449.3L315.7 453.0L309.6 448.0L312.4 444.6L315.1 441.1ZM315.1 441.1L312.4 444.6L309.6 448.0L303.5 443.1L306.1 439.9L308.6 436.7ZM295.6 427.8L293.5 430.5L291.4 433.1L285.3 428.2L287.2 425.8L289.1 423.4ZM289.1 423.4L287.2 425.8L285.3 428.2L279.2 423.2L280.9 421.1L282.6 418.9ZM282.6 418.9L280.9 421.1L279.2 423.2L273.1 418.2L274.6 416.4L276.1 414.5ZM250.0 396.8L249.4 397.6L248.8 398.4L242.7 393.4L243.1 392.9L243.5 392.4ZM297.4 438.1L294.9 440.9L292.3 443.6L286.7 438.1L289.1 435.7L291.4 433.1ZM279.2 423.2L277.4 425.2L275.4 427.2L269.8 421.7L271.5 420.0L273.1 418.2ZM273.1 418.2L271.5 420.0L269.8 421.7L264.2 416.3L265.6 414.8L267.0 413.3ZM260.9 408.3L259.8 409.6L258.6 410.8L253.0 405.3L253.9 404.4L254.8 403.4ZM248.8 398.4L248.1 399.2L247.4 399.9L241.7 394.4L242.2 393.9L242.7 393.4ZM258.6 410.8L257.3 412.0L256.0 413.1L250.9 407.2L252.0 406.3L253.0 405.3ZM247.4 399.9L246.6 400.6L245.8 401.2L240.7 395.3L241.2 394.9L241.7 394.4ZM322.4 490.0L317.6 493.8L312.5 497.4L308.0 491.0L312.7 487.6L317.3 484.1ZM312.2 478.1L307.9 481.5L303.4 484.7L298.9 478.4L303.0 475.4L307.1 472.2ZM270.2 450.4L267.2 452.0L264.1 453.5L260.7 446.5L263.5 445.1L266.2 443.7ZM250.4 416.9L248.8 417.7L247.3 418.5L243.9 411.5L245.2 410.9L246.4 410.3ZM287.6 502.5L282.2 504.8L276.7 506.9L274.0 499.6L279.1 497.7L284.2 495.5ZM284.2 495.5L279.1 497.7L274.0 499.6L271.3 492.3L276.1 490.5L280.9 488.5ZM280.9 488.5L276.1 490.5L271.3 492.3L268.5 485.1L273.1 483.4L277.5 481.5ZM277.5 481.5L273.1 483.4L268.5 485.1L265.8 477.8L270.0 476.2L274.1 474.5ZM274.1 474.5L270.0 476.2L265.8 477.8L263.1 470.6L267.0 469.1L270.8 467.5ZM247.3 418.5L245.7 419.2L244.1 419.8L241.4 412.5L242.7 412.0L243.9 411.5ZM252.2 441.6L249.6 442.4L246.9 443.2L244.9 435.7L247.2 435.1L249.5 434.3ZM244.1 419.8L242.4 420.3L240.8 420.8L238.7 413.3L240.1 413.0L241.4 412.5ZM233.2 390.8L232.9 390.9L232.6 391.0L230.5 383.5L230.5 383.5L230.5 383.5ZM240.8 420.8L239.1 421.2L237.4 421.5L236.0 413.9L237.4 413.7L238.7 413.3ZM232.6 391.0L232.2 391.0L231.9 391.1L230.5 383.5L230.5 383.5L230.5 383.5ZM245.7 467.2L241.9 467.7L238.1 468.1L237.4 460.4L240.9 460.1L244.3 459.5ZM244.3 459.5L240.9 460.1L237.4 460.4L236.7 452.7L239.8 452.4L242.9 451.9ZM231.9 391.1L231.5 391.2L231.2 391.2L230.5 383.5L230.5 383.5L230.5 383.5ZM238.8 475.8L234.7 476.1L230.5 476.2L230.5 468.4L234.3 468.4L238.1 468.1ZM236.0 445.0L233.3 445.2L230.5 445.3L230.5 437.6L232.9 437.5L235.3 437.3ZM231.2 391.2L230.8 391.2L230.5 391.2L230.5 383.5L230.5 383.5L230.5 383.5ZM230.5 483.9L226.0 483.8L221.5 483.5L222.2 475.8L226.3 476.1L230.5 476.2ZM230.5 406.7L229.5 406.6L228.4 406.6L229.1 398.9L229.8 398.9L230.5 398.9ZM230.5 398.9L229.8 398.9L229.1 398.9L229.8 391.2L230.2 391.2L230.5 391.2ZM230.5 391.2L230.2 391.2L229.8 391.2L230.5 383.5L230.5 383.5L230.5 383.5ZM220.1 498.9L214.9 498.3L209.8 497.6L211.2 490.0L216.0 490.7L220.8 491.2ZM228.4 406.6L227.4 406.5L226.4 406.3L227.7 398.7L228.4 398.8L229.1 398.9ZM229.1 398.9L228.4 398.8L227.7 398.7L229.1 391.1L229.5 391.2L229.8 391.2ZM229.8 391.2L229.5 391.2L229.1 391.1L230.5 383.5L230.5 383.5L230.5 383.5ZM226.4 406.3L225.3 406.1L224.3 405.9L226.4 398.4L227.1 398.6L227.7 398.7ZM227.7 398.7L227.1 398.6L226.4 398.4L228.4 391.0L228.8 391.0L229.1 391.1ZM229.1 391.1L228.8 391.0L228.4 391.0L230.5 383.5L230.5 383.5L230.5 383.5ZM197.6 502.8L192.3 501.3L187.0 499.6L189.7 492.3L194.7 494.0L199.7 495.4ZM224.3 405.9L223.3 405.6L222.3 405.3L225.1 398.0L225.7 398.2L226.4 398.4ZM226.4 398.4L225.7 398.2L225.1 398.0L227.8 390.8L228.1 390.9L228.4 391.0ZM228.4 391.0L228.1 390.9L227.8 390.8L230.5 383.5L230.5 383.5L230.5 383.5ZM216.9 419.8L215.3 419.2L213.7 418.5L217.1 411.5L218.3 412.0L219.6 412.5ZM222.3 405.3L221.4 404.9L220.4 404.5L223.8 397.5L224.4 397.8L225.1 398.0ZM225.1 398.0L224.4 397.8L223.8 397.5L227.1 390.5L227.5 390.6L227.8 390.8ZM186.9 474.5L182.8 472.5L178.9 470.4L182.8 463.8L186.5 465.7L190.2 467.5ZM213.7 418.5L212.2 417.7L210.6 416.9L214.6 410.3L215.8 410.9L217.1 411.5ZM220.4 404.5L219.5 404.0L218.6 403.6L222.6 396.9L223.2 397.2L223.8 397.5ZM223.8 397.5L223.2 397.2L222.6 396.9L226.5 390.2L226.8 390.3L227.1 390.5ZM218.6 403.6L217.7 403.0L216.8 402.5L221.4 396.2L222.0 396.5L222.6 396.9ZM222.6 396.9L222.0 396.5L221.4 396.2L225.9 389.8L226.2 390.0L226.5 390.2ZM157.6 484.7L153.1 481.5L148.8 478.1L153.9 472.2L158.0 475.4L162.1 478.4ZM162.1 478.4L158.0 475.4L153.9 472.2L159.0 466.3L162.8 469.3L166.7 472.1ZM180.4 453.1L177.3 450.9L174.3 448.6L179.4 442.7L182.1 444.8L184.9 446.8ZM194.0 434.1L191.8 432.5L189.6 430.8L194.8 424.9L196.6 426.4L198.6 427.8ZM216.8 402.5L216.0 401.9L215.2 401.2L220.3 395.3L220.8 395.8L221.4 396.2ZM221.4 396.2L220.8 395.8L220.3 395.3L225.4 389.4L225.7 389.6L225.9 389.8ZM164.1 460.4L160.7 457.5L157.5 454.5L163.1 449.0L166.1 451.8L169.2 454.5ZM169.2 454.5L166.1 451.8L163.1 449.0L168.7 443.6L171.5 446.1L174.3 448.6ZM174.3 448.6L171.5 446.1L168.7 443.6L174.3 438.1L176.8 440.4L179.4 442.7ZM184.5 436.7L182.2 434.7L179.9 432.6L185.6 427.2L187.6 429.0L189.6 430.8ZM199.9 419.0L198.3 417.7L196.8 416.3L202.4 410.8L203.7 412.0L205.0 413.1ZM220.3 395.3L219.8 394.9L219.3 394.4L224.9 389.0L225.1 389.2L225.4 389.4ZM225.4 389.4L225.1 389.2L224.9 389.0L230.5 383.5L230.5 383.5L230.5 383.5ZM146.2 465.4L142.6 461.8L139.2 458.0L145.3 453.0L148.5 456.5L151.9 459.9ZM191.2 421.7L189.5 420.0L187.9 418.2L194.0 413.3L195.4 414.8L196.8 416.3ZM196.8 416.3L195.4 414.8L194.0 413.3L200.1 408.3L201.2 409.6L202.4 410.8ZM219.3 394.4L218.8 393.9L218.3 393.4L224.4 388.5L224.6 388.7L224.9 389.0ZM224.9 389.0L224.6 388.7L224.4 388.5L230.5 383.5L230.5 383.5L230.5 383.5ZM121.0 472.8L117.1 468.1L113.4 463.2L119.9 458.8L123.4 463.4L127.0 467.9ZM127.0 467.9L123.4 463.4L119.9 458.8L126.4 454.4L129.7 458.7L133.1 462.9ZM133.1 462.9L129.7 458.7L126.4 454.4L132.9 449.9L136.0 454.0L139.2 458.0ZM157.5 443.1L154.9 439.9L152.4 436.7L158.9 432.2L161.2 435.2L163.6 438.1ZM206.2 403.4L205.3 402.3L204.5 401.2L211.0 396.8L211.6 397.6L212.2 398.4ZM218.3 393.4L217.9 392.9L217.5 392.4L224.0 387.9L224.2 388.2L224.4 388.5ZM224.4 388.5L224.2 388.2L224.0 387.9L230.5 383.5L230.5 383.5L230.5 383.5ZM119.9 458.8L116.6 454.0L113.5 449.1L120.4 445.3L123.3 449.9L126.4 454.4ZM204.5 401.2L203.7 400.1L203.0 398.9L209.9 395.1L210.4 395.9L211.0 396.8ZM217.5 392.4L217.1 391.8L216.7 391.2L223.6 387.4L223.8 387.6L224.0 387.9ZM224.0 387.9L223.8 387.6L223.6 387.4L230.5 383.5L230.5 383.5L230.5 383.5ZM175.5 414.4L174.1 412.0L172.9 409.6L180.1 406.3L181.2 408.5L182.3 410.5ZM203.0 398.9L202.3 397.8L201.7 396.6L208.9 393.3L209.4 394.2L209.9 395.1ZM223.6 387.4L223.5 387.1L223.3 386.8L230.5 383.5L230.5 383.5L230.5 383.5ZM115.3 435.7L113.1 430.8L111.1 425.8L118.5 423.1L120.4 427.8L122.5 432.5ZM158.5 416.1L157.1 413.1L155.8 409.9L163.3 407.3L164.4 410.1L165.7 412.9ZM172.9 409.6L171.8 407.1L170.8 404.6L178.2 402.0L179.1 404.2L180.1 406.3ZM180.1 406.3L179.1 404.2L178.2 402.0L185.7 399.3L186.5 401.2L187.3 403.1ZM201.7 396.6L201.1 395.3L200.6 394.1L208.1 391.4L208.5 392.4L208.9 393.3ZM223.3 386.8L223.2 386.5L223.0 386.1L230.5 383.5L230.5 383.5L230.5 383.5ZM111.1 425.8L109.3 420.7L107.7 415.5L115.4 413.5L116.8 418.3L118.5 423.1ZM163.3 407.3L162.3 404.4L161.4 401.5L169.1 399.5L169.9 402.1L170.8 404.6ZM170.8 404.6L169.9 402.1L169.1 399.5L176.8 397.5L177.5 399.8L178.2 402.0ZM178.2 402.0L177.5 399.8L176.8 397.5L184.5 395.5L185.0 397.4L185.7 399.3ZM185.7 399.3L185.0 397.4L184.5 395.5L192.1 393.5L192.6 395.1L193.2 396.7ZM223.0 386.1L222.9 385.8L222.8 385.5L230.5 383.5L230.5 383.5L230.5 383.5ZM123.1 411.5L121.9 406.9L121.0 402.3L128.8 400.9L129.7 405.2L130.7 409.5ZM130.7 409.5L129.7 405.2L128.8 400.9L136.6 399.6L137.4 403.6L138.4 407.5ZM146.1 405.5L145.2 401.9L144.4 398.3L152.3 396.9L152.9 400.2L153.8 403.5ZM184.5 395.5L184.0 393.5L183.6 391.5L191.4 390.2L191.7 391.9L192.1 393.5ZM222.8 385.5L222.7 385.2L222.7 384.8L230.5 383.5L230.5 383.5L230.5 383.5ZM214.9 386.2L214.7 385.5L214.7 384.8L222.6 384.2L222.6 384.5L222.7 384.8ZM222.7 384.8L222.6 384.5L222.6 384.2L230.5 383.5L230.5 383.5L230.5 383.5ZM88.0 395.6L87.6 389.6L87.5 383.5L95.4 383.5L95.6 389.2L96.0 394.9ZM175.1 388.2L174.9 385.9L174.9 383.5L182.8 383.5L182.9 385.5L183.0 387.5ZM214.7 384.8L214.6 384.2L214.6 383.5L222.6 383.5L222.6 383.8L222.6 384.2ZM222.6 384.2L222.6 383.8L222.6 383.5L230.5 383.5L230.5 383.5L230.5 383.5ZM87.5 383.5L87.6 377.4L88.0 371.4L96.0 372.1L95.6 377.8L95.4 383.5ZM95.4 383.5L95.6 377.8L96.0 372.1L103.9 372.7L103.5 378.1L103.4 383.5ZM174.9 383.5L174.9 381.1L175.1 378.8L183.0 379.5L182.9 381.5L182.8 383.5ZM214.6 383.5L214.6 382.8L214.7 382.2L222.6 382.8L222.6 383.2L222.6 383.5ZM222.6 383.5L222.6 383.2L222.6 382.8L230.5 383.5L230.5 383.5L230.5 383.5ZM127.6 374.8L128.1 370.4L128.8 366.1L136.6 367.4L136.0 371.4L135.5 375.4ZM214.7 382.2L214.7 381.5L214.9 380.8L222.7 382.2L222.6 382.5L222.6 382.8ZM222.6 382.8L222.6 382.5L222.7 382.2L230.5 383.5L230.5 383.5L230.5 383.5ZM121.0 364.7L121.9 360.1L123.1 355.5L130.7 357.5L129.7 361.8L128.8 366.1ZM128.8 366.1L129.7 361.8L130.7 357.5L138.4 359.5L137.4 363.4L136.6 367.4ZM167.9 372.8L168.5 370.1L169.1 367.5L176.8 369.5L176.2 371.8L175.7 374.1ZM214.9 380.8L215.0 380.2L215.2 379.5L222.8 381.5L222.7 381.8L222.7 382.2ZM222.7 382.2L222.7 381.8L222.8 381.5L230.5 383.5L230.5 383.5L230.5 383.5ZM215.2 379.5L215.3 378.9L215.6 378.2L223.0 380.9L222.9 381.2L222.8 381.5ZM222.8 381.5L222.9 381.2L223.0 380.9L230.5 383.5L230.5 383.5L230.5 383.5ZM148.4 354.4L149.8 351.0L151.3 347.6L158.5 350.9L157.1 353.9L155.8 357.1ZM170.8 362.4L171.8 359.9L172.9 357.4L180.1 360.7L179.1 362.8L178.2 365.0ZM215.6 378.2L215.8 377.6L216.1 377.0L223.3 380.2L223.2 380.5L223.0 380.9ZM223.0 380.9L223.2 380.5L223.3 380.2L230.5 383.5L230.5 383.5L230.5 383.5ZM180.1 360.7L181.2 358.5L182.3 356.5L189.2 360.3L188.2 362.1L187.3 363.9ZM216.1 377.0L216.4 376.4L216.7 375.8L223.6 379.6L223.5 379.9L223.3 380.2ZM223.3 380.2L223.5 379.9L223.6 379.6L230.5 383.5L230.5 383.5L230.5 383.5ZM216.7 375.8L217.1 375.2L217.5 374.6L224.0 379.1L223.8 379.4L223.6 379.6ZM223.6 379.6L223.8 379.4L224.0 379.1L230.5 383.5L230.5 383.5L230.5 383.5ZM132.9 317.1L136.0 313.0L139.2 309.0L145.3 314.0L142.3 317.7L139.4 321.5ZM139.4 321.5L142.3 317.7L145.3 314.0L151.4 319.0L148.6 322.4L145.9 325.9ZM171.9 343.6L173.8 341.2L175.7 338.8L181.8 343.8L180.1 345.9L178.4 348.1ZM217.5 374.6L217.9 374.1L218.3 373.6L224.4 378.5L224.2 378.8L224.0 379.1ZM224.0 379.1L224.2 378.8L224.4 378.5L230.5 383.5L230.5 383.5L230.5 383.5ZM139.2 309.0L142.6 305.2L146.2 301.6L151.9 307.1L148.5 310.5L145.3 314.0ZM145.3 314.0L148.5 310.5L151.9 307.1L157.5 312.5L154.4 315.7L151.4 319.0ZM151.4 319.0L154.4 315.7L157.5 312.5L163.1 318.0L160.2 320.9L157.5 323.9ZM169.6 333.9L171.9 331.3L174.3 328.9L179.9 334.4L177.8 336.5L175.7 338.8ZM218.3 373.6L218.8 373.1L219.3 372.6L224.9 378.0L224.6 378.3L224.4 378.5ZM224.4 378.5L224.6 378.3L224.9 378.0L230.5 383.5L230.5 383.5L230.5 383.5ZM179.9 334.4L182.2 332.3L184.5 330.3L189.6 336.2L187.6 338.0L185.6 339.8ZM185.6 339.8L187.6 338.0L189.6 336.2L194.8 342.1L192.9 343.6L191.2 345.3ZM219.3 372.6L219.8 372.1L220.3 371.7L225.4 377.6L225.1 377.8L224.9 378.0ZM224.9 378.0L225.1 377.8L225.4 377.6L230.5 383.5L230.5 383.5L230.5 383.5ZM159.0 300.7L162.8 297.7L166.7 294.9L171.3 301.3L167.6 303.9L164.1 306.6ZM184.5 330.3L187.0 328.4L189.5 326.6L194.0 332.9L191.8 334.5L189.6 336.2ZM157.6 282.3L162.2 279.3L166.9 276.5L170.9 283.2L166.5 285.8L162.1 288.6ZM162.1 288.6L166.5 285.8L170.9 283.2L174.9 289.9L170.7 292.3L166.7 294.9ZM184.9 320.2L187.8 318.4L190.8 316.6L194.7 323.3L192.1 324.9L189.5 326.6ZM159.0 263.1L164.5 260.2L170.1 257.5L173.4 264.5L168.1 267.1L163.0 269.8ZM163.0 269.8L168.1 267.1L173.4 264.5L176.8 271.5L171.8 273.9L166.9 276.5ZM170.1 257.5L175.8 255.1L181.6 252.9L184.3 260.1L178.8 262.2L173.4 264.5ZM173.4 264.5L178.8 262.2L184.3 260.1L187.0 267.4L181.9 269.3L176.8 271.5ZM193.6 306.5L197.1 305.0L200.6 303.7L203.3 310.9L200.1 312.2L196.9 313.5ZM200.3 320.5L203.1 319.3L206.0 318.2L208.8 325.4L206.2 326.4L203.6 327.5Z"/>
<path fill="#abd9e9" stroke="#abd9e9" stroke-width="0.6" d="M230.5 344.9L232.2 344.9L234.0 345.0L233.3 352.7L231.9 352.6L230.5 352.6ZM242.3 252.7L248.1 253.3L254.0 254.2L252.6 261.8L247.1 261.0L241.6 260.4ZM241.6 260.4L247.1 261.0L252.6 261.8L251.2 269.4L246.1 268.7L240.9 268.1ZM235.3 329.7L237.8 329.9L240.2 330.3L238.8 337.9L236.7 337.6L234.7 337.3ZM234.0 345.0L235.7 345.2L237.4 345.5L236.0 353.1L234.6 352.9L233.3 352.7ZM244.3 307.5L247.7 308.1L251.1 308.9L249.0 316.4L246.0 315.6L242.9 315.1ZM240.2 330.3L242.5 330.7L244.9 331.3L242.8 338.7L240.8 338.3L238.8 337.9ZM237.4 345.5L239.1 345.8L240.8 346.2L238.7 353.7L237.4 353.3L236.0 353.1ZM236.0 353.1L237.4 353.3L238.7 353.7L236.7 361.1L235.7 360.9L234.6 360.7ZM251.1 308.9L254.4 309.9L257.7 310.9L255.0 318.2L252.0 317.2L249.0 316.4ZM240.8 346.2L242.4 346.7L244.1 347.2L241.4 354.5L240.1 354.0L238.7 353.7ZM238.7 353.7L240.1 354.0L241.4 354.5L238.7 361.7L237.7 361.4L236.7 361.1ZM257.7 310.9L260.9 312.2L264.1 313.5L260.7 320.5L257.9 319.3L255.0 318.2ZM290.9 257.5L296.5 260.2L302.0 263.1L298.0 269.8L292.9 267.1L287.6 264.5ZM287.6 264.5L292.9 267.1L298.0 269.8L294.1 276.5L289.2 273.9L284.2 271.5ZM298.0 269.8L303.1 272.8L308.0 276.0L303.4 282.3L298.8 279.3L294.1 276.5ZM285.2 307.6L288.5 310.0L291.8 312.5L286.7 318.4L283.7 316.1L280.6 313.9ZM331.6 285.2L335.9 289.6L340.0 294.2L334.0 299.1L330.1 294.8L326.0 290.7ZM326.0 290.7L330.1 294.8L334.0 299.1L327.9 304.1L324.2 300.0L320.4 296.1ZM320.4 296.1L324.2 300.0L327.9 304.1L321.8 309.0L318.4 305.2L314.8 301.6ZM314.8 301.6L318.4 305.2L321.8 309.0L315.7 314.0L312.5 310.5L309.1 307.1ZM309.1 307.1L312.5 310.5L315.7 314.0L309.6 319.0L306.6 315.7L303.5 312.5ZM303.5 312.5L306.6 315.7L309.6 319.0L303.5 323.9L300.8 320.9L297.9 318.0ZM347.5 317.9L350.3 322.9L352.9 328.0L345.7 331.3L343.2 326.4L340.6 321.7ZM306.2 341.0L308.0 344.3L309.7 347.6L302.5 350.9L301.0 347.8L299.3 344.9ZM299.3 344.9L301.0 347.8L302.5 350.9L295.3 354.1L293.9 351.4L292.4 348.8ZM316.9 344.3L318.6 348.0L320.1 351.8L312.6 354.4L311.2 351.0L309.7 347.6ZM335.0 346.5L336.6 351.0L337.9 355.5L330.3 357.5L329.0 353.3L327.5 349.2ZM320.1 351.8L321.4 355.6L322.6 359.5L314.9 361.5L313.8 358.0L312.6 354.4ZM290.2 362.4L291.1 364.9L291.9 367.5L284.2 369.5L283.5 367.2L282.8 365.0ZM275.3 367.7L276.0 369.6L276.5 371.5L268.9 373.5L268.4 371.9L267.8 370.3ZM276.5 371.5L277.0 373.5L277.4 375.5L269.6 376.8L269.3 375.1L268.9 373.5ZM332.2 366.1L332.9 370.4L333.4 374.8L325.5 375.4L325.0 371.4L324.4 367.4ZM316.6 368.7L317.1 372.4L317.6 376.1L309.6 376.8L309.3 373.4L308.7 370.1ZM262.3 383.5L262.2 384.8L262.2 386.2L254.2 385.5L254.3 384.5L254.3 383.5ZM262.2 386.2L262.0 387.5L261.8 388.9L254.0 387.5L254.1 386.5L254.2 385.5ZM330.3 409.5L329.0 413.7L327.5 417.8L320.1 415.2L321.4 411.4L322.6 407.5ZM291.9 399.5L291.1 402.1L290.2 404.6L282.8 402.0L283.5 399.8L284.2 397.5ZM312.6 412.6L311.2 416.0L309.7 419.4L302.5 416.1L303.9 413.1L305.2 409.9ZM267.8 396.7L267.2 398.3L266.5 399.8L259.3 396.6L259.9 395.3L260.4 394.1ZM280.9 406.3L279.8 408.5L278.7 410.5L271.8 406.7L272.8 404.9L273.7 403.1ZM266.5 399.8L265.7 401.3L264.9 402.8L258.0 398.9L258.7 397.8L259.3 396.6ZM292.4 418.2L290.8 420.8L289.1 423.4L282.6 418.9L284.1 416.7L285.5 414.4ZM285.5 414.4L284.1 416.7L282.6 418.9L276.1 414.5L277.4 412.5L278.7 410.5ZM278.7 410.5L277.4 412.5L276.1 414.5L269.5 410.1L270.7 408.4L271.8 406.7ZM308.6 436.7L306.1 439.9L303.5 443.1L297.4 438.1L299.8 435.2L302.1 432.2ZM302.1 432.2L299.8 435.2L297.4 438.1L291.4 433.1L293.5 430.5L295.6 427.8ZM276.1 414.5L274.6 416.4L273.1 418.2L267.0 413.3L268.3 411.7L269.5 410.1ZM307.1 472.2L303.0 475.4L298.9 478.4L294.3 472.1L298.2 469.3L302.0 466.3ZM302.0 466.3L298.2 469.3L294.3 472.1L289.7 465.7L293.4 463.1L296.9 460.4ZM296.9 460.4L293.4 463.1L289.7 465.7L285.2 459.4L288.5 457.0L291.8 454.5ZM274.2 457.1L270.9 458.8L267.4 460.5L264.1 453.5L267.2 452.0L270.2 450.4ZM270.8 467.5L267.0 469.1L263.1 470.6L260.4 463.3L263.9 462.0L267.4 460.5ZM260.7 446.5L257.9 447.7L255.0 448.8L252.2 441.6L254.8 440.6L257.4 439.5ZM263.1 470.6L259.2 471.9L255.2 473.0L253.1 465.6L256.8 464.5L260.4 463.3ZM241.4 412.5L240.1 413.0L238.7 413.3L236.7 405.9L237.7 405.6L238.7 405.3ZM255.2 473.0L251.1 474.0L247.1 474.8L245.7 467.2L249.4 466.4L253.1 465.6ZM238.7 413.3L237.4 413.7L236.0 413.9L234.6 406.3L235.7 406.1L236.7 405.9ZM237.4 421.5L235.7 421.8L234.0 422.0L233.3 414.3L234.6 414.1L236.0 413.9ZM234.0 422.0L232.2 422.1L230.5 422.1L230.5 414.4L231.9 414.4L233.3 414.3ZM220.8 491.2L216.0 490.7L211.2 490.0L212.6 482.4L217.0 483.0L221.5 483.5ZM205.7 520.4L199.5 519.2L193.5 517.8L195.5 510.3L201.3 511.7L207.0 512.8ZM207.0 512.8L201.3 511.7L195.5 510.3L197.6 502.8L203.0 504.1L208.4 505.2ZM223.6 421.5L221.9 421.2L220.2 420.8L222.3 413.3L223.6 413.7L225.0 413.9ZM225.0 413.9L223.6 413.7L222.3 413.3L224.3 405.9L225.3 406.1L226.4 406.3ZM199.7 495.4L194.7 494.0L189.7 492.3L192.5 485.1L197.1 486.6L201.7 487.9ZM220.2 420.8L218.6 420.3L216.9 419.8L219.6 412.5L220.9 413.0L222.3 413.3ZM222.3 413.3L220.9 413.0L219.6 412.5L222.3 405.3L223.3 405.6L224.3 405.9ZM195.2 477.8L191.0 476.2L186.9 474.5L190.2 467.5L194.0 469.1L197.9 470.6ZM200.6 463.3L197.1 462.0L193.6 460.5L196.9 453.5L200.1 454.8L203.3 456.1ZM148.5 497.4L143.4 493.8L138.6 490.0L143.7 484.1L148.3 487.6L153.0 491.0ZM153.0 491.0L148.3 487.6L143.7 484.1L148.8 478.1L153.1 481.5L157.6 484.7ZM175.8 459.4L172.5 457.0L169.2 454.5L174.3 448.6L177.3 450.9L180.4 453.1ZM198.6 427.8L196.6 426.4L194.8 424.9L199.9 419.0L201.5 420.3L203.2 421.5ZM159.0 466.3L155.4 463.2L151.9 459.9L157.5 454.5L160.7 457.5L164.1 460.4ZM189.6 430.8L187.6 429.0L185.6 427.2L191.2 421.7L192.9 423.4L194.8 424.9ZM129.4 481.8L125.1 477.4L121.0 472.8L127.0 467.9L130.9 472.2L135.0 476.3ZM135.0 476.3L130.9 472.2L127.0 467.9L133.1 462.9L136.8 467.0L140.6 470.9ZM140.6 470.9L136.8 467.0L133.1 462.9L139.2 458.0L142.6 461.8L146.2 465.4ZM168.6 418.2L167.1 415.6L165.7 412.9L172.9 409.6L174.1 412.0L175.5 414.4ZM189.2 406.7L188.2 404.9L187.3 403.1L194.5 399.8L195.3 401.3L196.1 402.8ZM209.9 395.1L209.4 394.2L208.9 393.3L216.1 390.0L216.4 390.6L216.7 391.2ZM216.7 391.2L216.4 390.6L216.1 390.0L223.3 386.8L223.5 387.1L223.6 387.4ZM122.5 432.5L120.4 427.8L118.5 423.1L126.0 420.5L127.7 424.9L129.7 429.2ZM165.7 412.9L164.4 410.1L163.3 407.3L170.8 404.6L171.8 407.1L172.9 409.6ZM187.3 403.1L186.5 401.2L185.7 399.3L193.2 396.7L193.8 398.3L194.5 399.8ZM208.9 393.3L208.5 392.4L208.1 391.4L215.6 388.8L215.8 389.4L216.1 390.0ZM216.1 390.0L215.8 389.4L215.6 388.8L223.0 386.1L223.2 386.5L223.3 386.8ZM118.5 423.1L116.8 418.3L115.4 413.5L123.1 411.5L124.4 416.0L126.0 420.5ZM208.1 391.4L207.8 390.5L207.5 389.5L215.2 387.5L215.3 388.1L215.6 388.8ZM215.6 388.8L215.3 388.1L215.2 387.5L222.8 385.5L222.9 385.8L223.0 386.1ZM138.4 407.5L137.4 403.6L136.6 399.6L144.4 398.3L145.2 401.9L146.1 405.5ZM207.5 389.5L207.2 388.5L207.0 387.5L214.9 386.2L215.0 386.8L215.2 387.5ZM215.2 387.5L215.0 386.8L214.9 386.2L222.7 384.8L222.7 385.2L222.8 385.5ZM175.7 392.9L175.4 390.6L175.1 388.2L183.0 387.5L183.2 389.5L183.6 391.5ZM183.6 391.5L183.2 389.5L183.0 387.5L190.9 386.9L191.1 388.5L191.4 390.2ZM143.4 390.9L143.2 387.2L143.1 383.5L151.1 383.5L151.1 386.9L151.4 390.2ZM151.4 390.2L151.1 386.9L151.1 383.5L159.0 383.5L159.1 386.5L159.3 389.6ZM183.0 387.5L182.9 385.5L182.8 383.5L190.8 383.5L190.8 385.2L190.9 386.9ZM135.2 383.5L135.3 379.5L135.5 375.4L143.4 376.1L143.2 379.8L143.1 383.5ZM159.0 383.5L159.1 380.5L159.3 377.4L167.2 378.1L167.0 380.8L166.9 383.5ZM175.1 378.8L175.4 376.4L175.7 374.1L183.6 375.5L183.2 377.5L183.0 379.5ZM138.4 359.5L139.6 355.6L140.9 351.8L148.4 354.4L147.2 358.0L146.1 361.5ZM169.1 367.5L169.9 364.9L170.8 362.4L178.2 365.0L177.5 367.2L176.8 369.5ZM155.8 357.1L157.1 353.9L158.5 350.9L165.7 354.1L164.4 356.9L163.3 359.7ZM163.3 359.7L164.4 356.9L165.7 354.1L172.9 357.4L171.8 359.9L170.8 362.4ZM157.5 323.9L160.2 320.9L163.1 318.0L168.7 323.4L166.1 326.1L163.6 328.9ZM163.6 328.9L166.1 326.1L168.7 323.4L174.3 328.9L171.9 331.3L169.6 333.9ZM175.7 338.8L177.8 336.5L179.9 334.4L185.6 339.8L183.6 341.8L181.8 343.8ZM206.2 363.6L207.1 362.6L208.0 361.7L213.6 367.1L212.9 367.8L212.2 368.6ZM163.1 318.0L166.1 315.2L169.2 312.5L174.3 318.4L171.5 320.9L168.7 323.4ZM208.0 361.7L209.0 360.7L210.1 359.8L215.2 365.8L214.4 366.4L213.6 367.1ZM182.8 303.2L186.5 301.3L190.2 299.5L193.6 306.5L190.1 308.2L186.8 309.9ZM186.8 309.9L190.1 308.2L193.6 306.5L196.9 313.5L193.8 315.0L190.8 316.6ZM214.6 356.7L215.8 356.1L217.1 355.5L220.4 362.5L219.5 363.0L218.6 363.4ZM217.1 355.5L218.3 355.0L219.6 354.5L222.3 361.7L221.4 362.1L220.4 362.5ZM216.9 347.2L218.6 346.7L220.2 346.2L222.3 353.7L220.9 354.0L219.6 354.5ZM222.3 361.7L223.3 361.4L224.3 361.1L226.4 368.6L225.7 368.8L225.1 369.0ZM220.2 346.2L221.9 345.8L223.6 345.5L225.0 353.1L223.6 353.3L222.3 353.7ZM224.3 361.1L225.3 360.9L226.4 360.7L227.7 368.3L227.1 368.4L226.4 368.6ZM212.6 284.6L217.0 284.0L221.5 283.5L222.2 291.2L218.1 291.6L213.9 292.2ZM220.8 330.3L223.2 329.9L225.7 329.7L226.3 337.3L224.3 337.6L222.2 337.9ZM222.2 337.9L224.3 337.6L226.3 337.3L227.0 345.0L225.3 345.2L223.6 345.5ZM223.6 345.5L225.3 345.2L227.0 345.0L227.7 352.7L226.4 352.9L225.0 353.1ZM226.4 360.7L227.4 360.5L228.4 360.4L229.1 368.1L228.4 368.2L227.7 368.3ZM225.7 329.7L228.1 329.5L230.5 329.4L230.5 337.2L228.4 337.2L226.3 337.3ZM226.3 337.3L228.4 337.2L230.5 337.2L230.5 344.9L228.8 344.9L227.0 345.0ZM227.0 345.0L228.8 344.9L230.5 344.9L230.5 352.6L229.1 352.6L227.7 352.7ZM228.4 360.4L229.5 360.4L230.5 360.3L230.5 368.1L229.8 368.1L229.1 368.1Z"/>
<path fill="#c6e6f1" stroke="#c6e6f1" stroke-width="0.6" d="M230.5 283.1L235.0 283.2L239.5 283.5L238.8 291.2L234.7 290.9L230.5 290.8ZM230.5 329.4L232.9 329.5L235.3 329.7L234.7 337.3L232.6 337.2L230.5 337.2ZM238.8 337.9L240.8 338.3L242.8 338.7L240.8 346.2L239.1 345.8L237.4 345.5ZM242.8 338.7L244.8 339.3L246.8 340.0L244.1 347.2L242.4 346.7L240.8 346.2ZM265.8 289.2L270.0 290.8L274.1 292.5L270.8 299.5L267.0 297.9L263.1 296.4ZM263.1 296.4L267.0 297.9L270.8 299.5L267.4 306.5L263.9 305.0L260.4 303.7ZM260.4 303.7L263.9 305.0L267.4 306.5L264.1 313.5L260.9 312.2L257.7 310.9ZM244.1 347.2L245.7 347.8L247.3 348.5L243.9 355.5L242.7 355.0L241.4 354.5ZM241.4 354.5L242.7 355.0L243.9 355.5L240.6 362.5L239.6 362.1L238.7 361.7ZM284.2 271.5L289.2 273.9L294.1 276.5L290.1 283.2L285.5 280.8L280.9 278.5ZM267.4 306.5L270.9 308.2L274.2 309.9L270.2 316.6L267.2 315.0L264.1 313.5ZM247.3 348.5L248.8 349.3L250.4 350.1L246.4 356.7L245.2 356.1L243.9 355.5ZM243.9 355.5L245.2 356.1L246.4 356.7L242.4 363.4L241.5 363.0L240.6 362.5ZM274.2 309.9L277.5 311.9L280.6 313.9L276.1 320.2L273.2 318.4L270.2 316.6ZM270.2 316.6L273.2 318.4L276.1 320.2L271.5 326.6L268.9 324.9L266.2 323.3ZM340.6 321.7L343.2 326.4L345.7 331.3L338.5 334.5L336.2 330.0L333.7 325.6ZM333.7 325.6L336.2 330.0L338.5 334.5L331.3 337.8L329.2 333.6L326.8 329.4ZM313.1 337.2L315.1 340.7L316.9 344.3L309.7 347.6L308.0 344.3L306.2 341.0ZM331.3 337.8L333.3 342.1L335.0 346.5L327.5 349.2L325.9 345.1L324.1 341.1ZM324.1 341.1L325.9 345.1L327.5 349.2L320.1 351.8L318.6 348.0L316.9 344.3ZM295.3 354.1L296.6 356.9L297.7 359.7L290.2 362.4L289.2 359.9L288.1 357.4ZM288.1 357.4L289.2 359.9L290.2 362.4L282.8 365.0L281.9 362.8L280.9 360.7ZM322.6 359.5L323.6 363.4L324.4 367.4L316.6 368.7L315.8 365.1L314.9 361.5ZM314.9 405.5L313.8 409.0L312.6 412.6L305.2 409.9L306.3 406.7L307.2 403.5ZM284.2 397.5L283.5 399.8L282.8 402.0L275.3 399.3L276.0 397.4L276.5 395.5ZM335.0 420.5L333.3 424.9L331.3 429.2L324.1 425.9L325.9 421.9L327.5 417.8ZM290.2 404.6L289.2 407.1L288.1 409.6L280.9 406.3L281.9 404.2L282.8 402.0ZM260.4 394.1L259.9 395.3L259.3 396.6L252.1 393.3L252.5 392.4L252.9 391.4ZM259.3 396.6L258.7 397.8L258.0 398.9L251.1 395.1L251.6 394.2L252.1 393.3ZM264.9 402.8L264.0 404.2L263.0 405.6L256.5 401.2L257.3 400.1L258.0 398.9ZM258.0 398.9L257.3 400.1L256.5 401.2L250.0 396.8L250.6 395.9L251.1 395.1ZM263.0 405.6L262.0 407.0L260.9 408.3L254.8 403.4L255.7 402.3L256.5 401.2ZM256.5 401.2L255.7 402.3L254.8 403.4L248.8 398.4L249.4 397.6L250.0 396.8ZM254.8 403.4L253.9 404.4L253.0 405.3L247.4 399.9L248.1 399.2L248.8 398.4ZM253.0 405.3L252.0 406.3L250.9 407.2L245.8 401.2L246.6 400.6L247.4 399.9ZM285.2 459.4L281.7 461.7L278.2 463.8L274.2 457.1L277.5 455.1L280.6 453.1ZM302.0 503.9L296.5 506.8L290.9 509.5L287.6 502.5L292.9 499.9L298.0 497.2ZM294.1 490.5L289.2 493.1L284.2 495.5L280.9 488.5L285.5 486.2L290.1 483.8ZM267.4 460.5L263.9 462.0L260.4 463.3L257.7 456.1L260.9 454.8L264.1 453.5ZM264.1 453.5L260.9 454.8L257.7 456.1L255.0 448.8L257.9 447.7L260.7 446.5ZM255.0 448.8L252.0 449.8L249.0 450.6L246.9 443.2L249.6 442.4L252.2 441.6ZM238.7 405.3L237.7 405.6L236.7 405.9L234.6 398.4L235.3 398.2L235.9 398.0ZM235.9 398.0L235.3 398.2L234.6 398.4L232.6 391.0L232.9 390.9L233.2 390.8ZM249.0 450.6L246.0 451.4L242.9 451.9L241.5 444.3L244.3 443.8L246.9 443.2ZM236.7 405.9L235.7 406.1L234.6 406.3L233.3 398.7L233.9 398.6L234.6 398.4ZM234.6 398.4L233.9 398.6L233.3 398.7L231.9 391.1L232.2 391.0L232.6 391.0ZM236.0 413.9L234.6 414.1L233.3 414.3L232.6 406.6L233.6 406.5L234.6 406.3ZM234.6 406.3L233.6 406.5L232.6 406.6L231.9 398.9L232.6 398.8L233.3 398.7ZM233.3 398.7L232.6 398.8L231.9 398.9L231.2 391.2L231.5 391.2L231.9 391.1ZM238.1 468.1L234.3 468.4L230.5 468.4L230.5 460.7L234.0 460.6L237.4 460.4ZM236.7 452.7L233.6 452.9L230.5 453.0L230.5 445.3L233.3 445.2L236.0 445.0ZM233.3 414.3L231.9 414.4L230.5 414.4L230.5 406.7L231.5 406.6L232.6 406.6ZM232.6 406.6L231.5 406.6L230.5 406.7L230.5 398.9L231.2 398.9L231.9 398.9ZM231.9 398.9L231.2 398.9L230.5 398.9L230.5 391.2L230.8 391.2L231.2 391.2ZM230.5 476.2L226.3 476.1L222.2 475.8L222.9 468.1L226.7 468.4L230.5 468.4ZM230.5 468.4L226.7 468.4L222.9 468.1L223.6 460.4L227.0 460.6L230.5 460.7ZM230.5 445.3L227.7 445.2L225.0 445.0L225.7 437.3L228.1 437.5L230.5 437.6ZM230.5 422.1L228.8 422.1L227.0 422.0L227.7 414.3L229.1 414.4L230.5 414.4ZM230.5 414.4L229.1 414.4L227.7 414.3L228.4 406.6L229.5 406.6L230.5 406.7ZM221.5 483.5L217.0 483.0L212.6 482.4L213.9 474.8L218.1 475.4L222.2 475.8ZM222.2 475.8L218.1 475.4L213.9 474.8L215.3 467.2L219.1 467.7L222.9 468.1ZM225.0 445.0L222.2 444.7L219.5 444.3L220.8 436.7L223.2 437.1L225.7 437.3ZM227.0 422.0L225.3 421.8L223.6 421.5L225.0 413.9L226.4 414.1L227.7 414.3ZM227.7 414.3L226.4 414.1L225.0 413.9L226.4 406.3L227.4 406.5L228.4 406.6ZM208.4 505.2L203.0 504.1L197.6 502.8L199.7 495.4L204.7 496.6L209.8 497.6ZM215.3 467.2L211.6 466.4L207.9 465.6L209.9 458.1L213.3 458.9L216.7 459.5ZM201.7 487.9L197.1 486.6L192.5 485.1L195.2 477.8L199.4 479.2L203.8 480.5ZM138.6 490.0L133.9 486.0L129.4 481.8L135.0 476.3L139.3 480.3L143.7 484.1ZM143.7 484.1L139.3 480.3L135.0 476.3L140.6 470.9L144.6 474.6L148.8 478.1ZM148.8 478.1L144.6 474.6L140.6 470.9L146.2 465.4L150.0 468.9L153.9 472.2ZM153.9 472.2L150.0 468.9L146.2 465.4L151.9 459.9L155.4 463.2L159.0 466.3ZM194.8 424.9L192.9 423.4L191.2 421.7L196.8 416.3L198.3 417.7L199.9 419.0ZM215.2 401.2L214.4 400.6L213.6 399.9L219.3 394.4L219.8 394.9L220.3 395.3ZM213.6 399.9L212.9 399.2L212.2 398.4L218.3 393.4L218.8 393.9L219.3 394.4ZM163.6 438.1L161.2 435.2L158.9 432.2L165.4 427.8L167.5 430.5L169.6 433.1ZM212.2 398.4L211.6 397.6L211.0 396.8L217.5 392.4L217.9 392.9L218.3 393.4ZM158.9 432.2L156.8 429.1L154.8 426.0L161.7 422.1L163.5 425.0L165.4 427.8ZM178.4 418.9L176.9 416.7L175.5 414.4L182.3 410.5L183.6 412.5L184.9 414.5ZM211.0 396.8L210.4 395.9L209.9 395.1L216.7 391.2L217.1 391.8L217.5 392.4ZM129.7 429.2L127.7 424.9L126.0 420.5L133.5 417.8L135.1 421.9L136.9 425.9ZM136.9 425.9L135.1 421.9L133.5 417.8L140.9 415.2L142.4 419.0L144.1 422.7ZM148.4 412.6L147.2 409.0L146.1 405.5L153.8 403.5L154.7 406.7L155.8 409.9ZM207.0 387.5L206.9 386.5L206.8 385.5L214.7 384.8L214.7 385.5L214.9 386.2ZM206.8 385.5L206.7 384.5L206.7 383.5L214.6 383.5L214.6 384.2L214.7 384.8ZM198.7 383.5L198.8 382.2L198.8 380.8L206.8 381.5L206.7 382.5L206.7 383.5ZM206.7 383.5L206.7 382.5L206.8 381.5L214.7 382.2L214.6 382.8L214.6 383.5ZM135.5 375.4L136.0 371.4L136.6 367.4L144.4 368.7L143.9 372.4L143.4 376.1ZM159.3 377.4L159.6 374.4L160.1 371.4L167.9 372.8L167.5 375.4L167.2 378.1ZM198.8 380.8L199.0 379.5L199.2 378.1L207.0 379.5L206.9 380.5L206.8 381.5ZM206.8 381.5L206.9 380.5L207.0 379.5L214.9 380.8L214.7 381.5L214.7 382.2ZM136.6 367.4L137.4 363.4L138.4 359.5L146.1 361.5L145.2 365.1L144.4 368.7ZM160.1 371.4L160.7 368.5L161.4 365.5L169.1 367.5L168.5 370.1L167.9 372.8ZM175.7 374.1L176.2 371.8L176.8 369.5L184.5 371.5L184.0 373.5L183.6 375.5ZM146.1 361.5L147.2 358.0L148.4 354.4L155.8 357.1L154.7 360.3L153.8 363.5ZM153.8 363.5L154.7 360.3L155.8 357.1L163.3 359.7L162.3 362.6L161.4 365.5ZM161.4 365.5L162.3 362.6L163.3 359.7L170.8 362.4L169.9 364.9L169.1 367.5ZM176.8 369.5L177.5 367.2L178.2 365.0L185.7 367.7L185.0 369.6L184.5 371.5ZM178.2 365.0L179.1 362.8L180.1 360.7L187.3 363.9L186.5 365.8L185.7 367.7ZM209.9 371.9L210.4 371.1L211.0 370.2L217.5 374.6L217.1 375.2L216.7 375.8ZM211.0 370.2L211.6 369.4L212.2 368.6L218.3 373.6L217.9 374.1L217.5 374.6ZM212.2 368.6L212.9 367.8L213.6 367.1L219.3 372.6L218.8 373.1L218.3 373.6ZM168.7 323.4L171.5 320.9L174.3 318.4L179.4 324.3L176.8 326.6L174.3 328.9ZM174.3 328.9L176.8 326.6L179.4 324.3L184.5 330.3L182.2 332.3L179.9 334.4ZM213.6 367.1L214.4 366.4L215.2 365.8L220.3 371.7L219.8 372.1L219.3 372.6ZM164.1 306.6L167.6 303.9L171.3 301.3L175.8 307.6L172.5 310.0L169.2 312.5ZM179.4 324.3L182.1 322.2L184.9 320.2L189.5 326.6L187.0 328.4L184.5 330.3ZM166.7 294.9L170.7 292.3L174.9 289.9L178.9 296.6L175.0 298.8L171.3 301.3ZM180.4 313.9L183.5 311.9L186.8 309.9L190.8 316.6L187.8 318.4L184.9 320.2ZM219.6 354.5L220.9 354.0L222.3 353.7L224.3 361.1L223.3 361.4L222.3 361.7ZM222.3 353.7L223.6 353.3L225.0 353.1L226.4 360.7L225.3 360.9L224.3 361.1ZM211.2 277.0L216.0 276.3L220.8 275.8L221.5 283.5L217.0 284.0L212.6 284.6ZM225.0 353.1L226.4 352.9L227.7 352.7L228.4 360.4L227.4 360.5L226.4 360.7ZM222.2 291.2L226.3 290.9L230.5 290.8L230.5 298.6L226.7 298.6L222.9 298.9ZM227.7 352.7L229.1 352.6L230.5 352.6L230.5 360.3L229.5 360.4L228.4 360.4Z"/>
<path fill="#e0f3f8" stroke="#e0f3f8" stroke-width="0.6" d="M230.5 275.4L235.4 275.5L240.2 275.8L239.5 283.5L235.0 283.2L230.5 283.1ZM280.9 278.5L285.5 280.8L290.1 283.2L286.1 289.9L281.9 287.6L277.5 285.5ZM294.1 276.5L298.8 279.3L303.4 282.3L298.9 288.6L294.5 285.8L290.1 283.2ZM326.8 329.4L329.2 333.6L331.3 337.8L324.1 341.1L322.1 337.1L319.9 333.3ZM319.9 333.3L322.1 337.1L324.1 341.1L316.9 344.3L315.1 340.7L313.1 337.2ZM285.5 352.6L286.9 355.0L288.1 357.4L280.9 360.7L279.8 358.5L278.7 356.5ZM264.9 364.2L265.7 365.7L266.5 367.2L259.3 370.4L258.7 369.2L258.0 368.1ZM258.0 368.1L258.7 369.2L259.3 370.4L252.1 373.7L251.6 372.8L251.1 371.9ZM266.5 367.2L267.2 368.7L267.8 370.3L260.4 372.9L259.9 371.7L259.3 370.4ZM259.3 370.4L259.9 371.7L260.4 372.9L252.9 375.6L252.5 374.6L252.1 373.7ZM327.5 349.2L329.0 353.3L330.3 357.5L322.6 359.5L321.4 355.6L320.1 351.8ZM260.4 372.9L260.8 374.2L261.2 375.5L253.5 377.5L253.2 376.5L252.9 375.6ZM337.9 355.5L339.1 360.1L340.0 364.7L332.2 366.1L331.3 361.8L330.3 357.5ZM330.3 357.5L331.3 361.8L332.2 366.1L324.4 367.4L323.6 363.4L322.6 359.5ZM261.2 375.5L261.5 376.8L261.8 378.1L254.0 379.5L253.8 378.5L253.5 377.5ZM324.4 367.4L325.0 371.4L325.5 375.4L317.6 376.1L317.1 372.4L316.6 368.7ZM261.8 378.1L262.0 379.5L262.2 380.8L254.2 381.5L254.1 380.5L254.0 379.5ZM373.0 371.4L373.4 377.4L373.5 383.5L365.6 383.5L365.4 377.8L365.0 372.1ZM262.2 380.8L262.2 382.2L262.3 383.5L254.3 383.5L254.3 382.5L254.2 381.5ZM325.8 383.5L325.7 387.5L325.5 391.6L317.6 390.9L317.8 387.2L317.9 383.5ZM373.0 395.6L372.3 401.6L371.3 407.6L363.5 406.3L364.4 400.6L365.0 394.9ZM333.4 392.2L332.9 396.6L332.2 400.9L324.4 399.6L325.0 395.6L325.5 391.6ZM322.6 407.5L321.4 411.4L320.1 415.2L312.6 412.6L313.8 409.0L314.9 405.5ZM327.5 417.8L325.9 421.9L324.1 425.9L316.9 422.7L318.6 419.0L320.1 415.2ZM320.1 415.2L318.6 419.0L316.9 422.7L309.7 419.4L311.2 416.0L312.6 412.6ZM312.5 497.4L307.3 500.7L302.0 503.9L298.0 497.2L303.1 494.2L308.0 491.0ZM308.0 491.0L303.1 494.2L298.0 497.2L294.1 490.5L298.8 487.7L303.4 484.7ZM289.7 465.7L286.0 468.2L282.1 470.4L278.2 463.8L281.7 461.7L285.2 459.4ZM298.0 497.2L292.9 499.9L287.6 502.5L284.2 495.5L289.2 493.1L294.1 490.5ZM282.1 470.4L278.2 472.5L274.1 474.5L270.8 467.5L274.5 465.7L278.2 463.8ZM278.2 463.8L274.5 465.7L270.8 467.5L267.4 460.5L270.9 458.8L274.2 457.1ZM260.4 463.3L256.8 464.5L253.1 465.6L251.1 458.1L254.4 457.1L257.7 456.1ZM257.7 456.1L254.4 457.1L251.1 458.1L249.0 450.6L252.0 449.8L255.0 448.8ZM253.1 465.6L249.4 466.4L245.7 467.2L244.3 459.5L247.7 458.9L251.1 458.1ZM251.1 458.1L247.7 458.9L244.3 459.5L242.9 451.9L246.0 451.4L249.0 450.6ZM237.4 460.4L234.0 460.6L230.5 460.7L230.5 453.0L233.6 452.9L236.7 452.7ZM230.5 460.7L227.0 460.6L223.6 460.4L224.3 452.7L227.4 452.9L230.5 453.0ZM230.5 453.0L227.4 452.9L224.3 452.7L225.0 445.0L227.7 445.2L230.5 445.3ZM223.6 460.4L220.1 460.1L216.7 459.5L218.1 451.9L221.2 452.4L224.3 452.7ZM224.3 452.7L221.2 452.4L218.1 451.9L219.5 444.3L222.2 444.7L225.0 445.0ZM209.8 497.6L204.7 496.6L199.7 495.4L201.7 487.9L206.4 489.0L211.2 490.0ZM211.2 490.0L206.4 489.0L201.7 487.9L203.8 480.5L208.1 481.5L212.6 482.4ZM213.9 474.8L209.9 474.0L205.8 473.0L207.9 465.6L211.6 466.4L215.3 467.2ZM203.8 480.5L199.4 479.2L195.2 477.8L197.9 470.6L201.8 471.9L205.8 473.0ZM205.8 473.0L201.8 471.9L197.9 470.6L200.6 463.3L204.2 464.5L207.9 465.6ZM207.9 465.6L204.2 464.5L200.6 463.3L203.3 456.1L206.6 457.1L209.9 458.1ZM197.9 470.6L194.0 469.1L190.2 467.5L193.6 460.5L197.1 462.0L200.6 463.3ZM169.6 433.1L167.5 430.5L165.4 427.8L171.9 423.4L173.8 425.8L175.7 428.2ZM175.7 428.2L173.8 425.8L171.9 423.4L178.4 418.9L180.1 421.1L181.8 423.2ZM171.9 423.4L170.2 420.8L168.6 418.2L175.5 414.4L176.9 416.7L178.4 418.9ZM154.8 426.0L153.0 422.7L151.3 419.4L158.5 416.1L160.0 419.2L161.7 422.1ZM161.7 422.1L160.0 419.2L158.5 416.1L165.7 412.9L167.1 415.6L168.6 418.2ZM126.0 420.5L124.4 416.0L123.1 411.5L130.7 409.5L132.0 413.7L133.5 417.8ZM133.5 417.8L132.0 413.7L130.7 409.5L138.4 407.5L139.6 411.4L140.9 415.2ZM140.9 415.2L139.6 411.4L138.4 407.5L146.1 405.5L147.2 409.0L148.4 412.6ZM143.1 383.5L143.2 379.8L143.4 376.1L151.4 376.8L151.1 380.1L151.1 383.5ZM151.1 383.5L151.1 380.1L151.4 376.8L159.3 377.4L159.1 380.5L159.0 383.5ZM143.4 376.1L143.9 372.4L144.4 368.7L152.3 370.1L151.7 373.4L151.4 376.8ZM151.4 376.8L151.7 373.4L152.3 370.1L160.1 371.4L159.6 374.4L159.3 377.4ZM144.4 368.7L145.2 365.1L146.1 361.5L153.8 363.5L152.9 366.8L152.3 370.1ZM152.3 370.1L152.9 366.8L153.8 363.5L161.4 365.5L160.7 368.5L160.1 371.4ZM199.2 378.1L199.5 376.8L199.8 375.5L207.5 377.5L207.2 378.5L207.0 379.5ZM199.8 375.5L200.2 374.2L200.6 372.9L208.1 375.6L207.8 376.5L207.5 377.5ZM200.6 372.9L201.1 371.7L201.7 370.4L208.9 373.7L208.5 374.6L208.1 375.6ZM201.7 370.4L202.3 369.2L203.0 368.1L209.9 371.9L209.4 372.8L208.9 373.7ZM203.0 368.1L203.7 366.9L204.5 365.8L211.0 370.2L210.4 371.1L209.9 371.9ZM204.5 365.8L205.3 364.7L206.2 363.6L212.2 368.6L211.6 369.4L211.0 370.2ZM171.3 301.3L175.0 298.8L178.9 296.6L182.8 303.2L179.3 305.3L175.8 307.6ZM205.7 246.6L211.8 245.7L218.0 245.0L218.7 252.7L212.9 253.3L207.0 254.2ZM207.0 254.2L212.9 253.3L218.7 252.7L219.4 260.4L213.9 261.0L208.4 261.8ZM208.4 261.8L213.9 261.0L219.4 260.4L220.1 268.1L214.9 268.7L209.8 269.4ZM209.8 269.4L214.9 268.7L220.1 268.1L220.8 275.8L216.0 276.3L211.2 277.0Z"/>
<path fill="#eeebcb" stroke="#eeebcb" stroke-width="0.6" d="M230.5 244.5L236.7 244.6L243.0 245.0L242.3 252.7L236.4 252.3L230.5 252.2ZM230.5 252.2L236.4 252.3L242.3 252.7L241.6 260.4L236.0 260.1L230.5 259.9ZM230.5 259.9L236.0 260.1L241.6 260.4L240.9 268.1L235.7 267.8L230.5 267.7ZM230.5 267.7L235.7 267.8L240.9 268.1L240.2 275.8L235.4 275.5L230.5 275.4ZM230.5 337.2L232.6 337.2L234.7 337.3L234.0 345.0L232.2 344.9L230.5 344.9ZM234.7 337.3L236.7 337.6L238.8 337.9L237.4 345.5L235.7 345.2L234.0 345.0ZM277.5 285.5L281.9 287.6L286.1 289.9L282.1 296.6L278.2 294.5L274.1 292.5ZM274.1 292.5L278.2 294.5L282.1 296.6L278.2 303.2L274.5 301.3L270.8 299.5ZM270.8 299.5L274.5 301.3L278.2 303.2L274.2 309.9L270.9 308.2L267.4 306.5ZM290.1 283.2L294.5 285.8L298.9 288.6L294.3 294.9L290.3 292.3L286.1 289.9ZM278.2 303.2L281.7 305.3L285.2 307.6L280.6 313.9L277.5 311.9L274.2 309.9ZM292.4 348.8L293.9 351.4L295.3 354.1L288.1 357.4L286.9 355.0L285.5 352.6ZM267.8 370.3L268.4 371.9L268.9 373.5L261.2 375.5L260.8 374.2L260.4 372.9ZM268.9 373.5L269.3 375.1L269.6 376.8L261.8 378.1L261.5 376.8L261.2 375.5ZM269.6 376.8L269.9 378.5L270.1 380.1L262.2 380.8L262.0 379.5L261.8 378.1ZM270.1 380.1L270.2 381.8L270.2 383.5L262.3 383.5L262.2 382.2L262.2 380.8ZM341.7 383.5L341.6 388.2L341.3 392.9L333.4 392.2L333.7 387.9L333.8 383.5ZM333.8 383.5L333.7 387.9L333.4 392.2L325.5 391.6L325.7 387.5L325.8 383.5ZM341.3 392.9L340.8 397.6L340.0 402.3L332.2 400.9L332.9 396.6L333.4 392.2ZM288.1 409.6L286.9 412.0L285.5 414.4L278.7 410.5L279.8 408.5L280.9 406.3ZM303.4 484.7L298.8 487.7L294.1 490.5L290.1 483.8L294.5 481.2L298.9 478.4ZM298.9 478.4L294.5 481.2L290.1 483.8L286.1 477.1L290.3 474.7L294.3 472.1ZM294.3 472.1L290.3 474.7L286.1 477.1L282.1 470.4L286.0 468.2L289.7 465.7ZM290.1 483.8L285.5 486.2L280.9 488.5L277.5 481.5L281.9 479.4L286.1 477.1ZM286.1 477.1L281.9 479.4L277.5 481.5L274.1 474.5L278.2 472.5L282.1 470.4ZM212.6 482.4L208.1 481.5L203.8 480.5L205.8 473.0L209.9 474.0L213.9 474.8ZM165.4 427.8L163.5 425.0L161.7 422.1L168.6 418.2L170.2 420.8L171.9 423.4ZM207.0 379.5L207.2 378.5L207.5 377.5L215.2 379.5L215.0 380.2L214.9 380.8ZM207.5 377.5L207.8 376.5L208.1 375.6L215.6 378.2L215.3 378.9L215.2 379.5ZM208.1 375.6L208.5 374.6L208.9 373.7L216.1 377.0L215.8 377.6L215.6 378.2ZM208.9 373.7L209.4 372.8L209.9 371.9L216.7 375.8L216.4 376.4L216.1 377.0ZM169.2 312.5L172.5 310.0L175.8 307.6L180.4 313.9L177.3 316.1L174.3 318.4ZM174.3 318.4L177.3 316.1L180.4 313.9L184.9 320.2L182.1 322.2L179.4 324.3ZM175.8 307.6L179.3 305.3L182.8 303.2L186.8 309.9L183.5 311.9L180.4 313.9ZM218.0 245.0L224.3 244.6L230.5 244.5L230.5 252.2L224.6 252.3L218.7 252.7ZM218.7 252.7L224.6 252.3L230.5 252.2L230.5 259.9L225.0 260.1L219.4 260.4ZM219.4 260.4L225.0 260.1L230.5 259.9L230.5 267.7L225.3 267.8L220.1 268.1ZM220.1 268.1L225.3 267.8L230.5 267.7L230.5 275.4L225.6 275.5L220.8 275.8ZM220.8 275.8L225.6 275.5L230.5 275.4L230.5 283.1L226.0 283.2L221.5 283.5ZM221.5 283.5L226.0 283.2L230.5 283.1L230.5 290.8L226.3 290.9L222.2 291.2Z"/>
<path fill="#f7e3b2" stroke="#f7e3b2" stroke-width="0.6" d="M286.1 289.9L290.3 292.3L294.3 294.9L289.7 301.3L286.0 298.8L282.1 296.6ZM282.1 296.6L286.0 298.8L289.7 301.3L285.2 307.6L281.7 305.3L278.2 303.2ZM373.5 383.5L373.4 389.6L373.0 395.6L365.0 394.9L365.4 389.2L365.6 383.5ZM365.6 383.5L365.4 389.2L365.0 394.9L357.1 394.3L357.5 388.9L357.6 383.5ZM357.6 383.5L357.5 388.9L357.1 394.3L349.2 393.6L349.6 388.6L349.7 383.5ZM349.7 383.5L349.6 388.6L349.2 393.6L341.3 392.9L341.6 388.2L341.7 383.5ZM365.0 394.9L364.4 400.6L363.5 406.3L355.7 405.0L356.5 399.6L357.1 394.3ZM357.1 394.3L356.5 399.6L355.7 405.0L347.9 403.6L348.6 398.6L349.2 393.6ZM349.2 393.6L348.6 398.6L347.9 403.6L340.0 402.3L340.8 397.6L341.3 392.9Z"/>
</g>
<path d="M230.5 383.5L230.5 244.5M230.5 383.5L331.6 285.2M230.5 383.5L373.5 383.5M230.5 383.5L331.6 481.8M230.5 383.5L230.5 522.5M230.5 383.5L129.4 481.8M230.5 383.5L87.5 383.5M230.5 383.5L129.4 285.2" stroke="#ffffc0" stroke-width="1" fill="none" shape-rendering="crispEdges"/>
<ellipse cx="230.5" cy="383.5" rx="143.0" ry="139.0" stroke="#ffffc0" stroke-width="1" fill="none" shape-rendering="crispEdges"/>
<ellipse cx="230.5" cy="383.5" rx="95.3" ry="92.7" stroke="#ffffc0" stroke-width="1" fill="none" shape-rendering="crispEdges"/>
<ellipse cx="230.5" cy="383.5" rx="47.7" ry="46.3" stroke="#ffffc0" stroke-width="1" fill="none" shape-rendering="crispEdges"/>
<line x1="230.5" y1="383.5" x2="255.5" y2="519.4" stroke="#ffa500" stroke-width="1"/>
<circle cx="340.9" cy="473" r="3.1" fill="#ffa500"/>
<circle cx="338.9" cy="474.6" r="3.1" fill="#ffa500"/>
<circle cx="336.9" cy="476.2" r="3.1" fill="#ffa500"/>
<circle cx="334.9" cy="477.8" r="3.1" fill="#ffa500"/>
<circle cx="332.9" cy="479.4" r="3.1" fill="#ffa500"/>
<circle cx="331" cy="481" r="3.1" fill="#ffa500"/>
<circle cx="329" cy="482.6" r="3.1" fill="#ffa500"/>
<circle cx="325" cy="486.9" r="3.1" fill="#ffa500"/>
<circle cx="323" cy="488.4" r="3.1" fill="#ffa500"/>
<circle cx="321" cy="489.9" r="3.1" fill="#ffa500"/>
<circle cx="319" cy="491.4" r="3.1" fill="#ffa500"/>
<circle cx="317.1" cy="492.9" r="3.1" fill="#ffa500"/>
<circle cx="315.1" cy="494" r="3.1" fill="#ffa500"/>
<circle cx="313.1" cy="495.2" r="3.1" fill="#ffa500"/>
<circle cx="309.2" cy="497.8" r="3.1" fill="#ffa500"/>
<circle cx="307.2" cy="499" r="3.1" fill="#ffa500"/>
<circle cx="305.2" cy="500.2" r="3.1" fill="#ffa500"/>
<circle cx="299.3" cy="503.7" r="3.1" fill="#ffa500"/>
<circle cx="291.3" cy="507.9" r="3.1" fill="#ffa500"/>
<circle cx="273.5" cy="515" r="3.1" fill="#ffa500"/>
<circle cx="261.2" cy="518.2" r="3.1" fill="#ffa500"/>
<circle cx="255.3" cy="519.4" r="3.1" fill="#ffa500"/>
<circle cx="247.4" cy="521" r="3.1" fill="#ffa500"/>
<circle cx="215.3" cy="508.4" r="3.1" fill="#ffa500"/>
<circle cx="211.9" cy="520" r="3.1" fill="#ffa500"/>
<circle cx="216.3" cy="521" r="3.1" fill="#ffa500"/>
<circle cx="219.4" cy="521" r="3.1" fill="#ffa500"/>
<circle cx="190.1" cy="516" r="3.1" fill="#ffa500"/>
<circle cx="232" cy="375" r="3.1" fill="#ffa500"/>
<path d="M199.0 247.5h7M202.5 244.0v7M199.0 264.5h7M202.5 261.0v7M173.0 288.5h7M176.5 285.0v7M259.0 261.5h7M262.5 258.0v7M266.0 270.5h7M269.5 267.0v7M285.0 270.5h7M288.5 267.0v7M272.0 284.5h7M275.5 281.0v7M314.0 294.5h7M317.5 291.0v7M265.0 306.5h7M268.5 303.0v7M203.0 316.5h7M206.5 313.0v7M212.0 317.5h7M215.5 314.0v7M240.0 316.5h7M243.5 313.0v7M244.0 319.5h7M247.5 316.0v7M213.0 327.5h7M216.5 324.0v7M179.0 328.5h7M182.5 325.0v7M184.0 336.5h7M187.5 333.0v7M148.0 336.5h7M151.5 333.0v7M159.0 332.5h7M162.5 329.0v7M162.0 345.5h7M165.5 342.0v7M155.0 360.5h7M158.5 357.0v7M187.0 356.5h7M190.5 353.0v7M138.0 363.5h7M141.5 360.0v7M113.0 351.5h7M116.5 348.0v7M115.0 352.5h7M118.5 349.0v7M96.0 362.5h7M99.5 359.0v7M103.0 358.5h7M106.5 355.0v7M111.0 363.5h7M114.5 360.0v7M151.0 386.5h7M154.5 383.0v7M178.0 401.5h7M181.5 398.0v7M200.0 398.5h7M203.5 395.0v7M213.0 395.5h7M216.5 392.0v7M226.0 389.5h7M229.5 386.0v7M129.0 414.5h7M132.5 411.0v7M134.0 418.5h7M137.5 415.0v7M137.0 414.5h7M140.5 411.0v7M149.0 414.5h7M152.5 411.0v7M163.0 412.5h7M166.5 409.0v7M167.0 421.5h7M170.5 418.0v7M183.0 424.5h7M186.5 421.0v7M199.0 421.5h7M202.5 418.0v7M147.0 442.5h7M150.5 439.0v7M166.0 468.5h7M169.5 465.0v7M139.0 475.5h7M142.5 472.0v7M170.0 478.5h7M173.5 475.0v7M147.0 487.5h7M150.5 484.0v7M338.0 344.5h7M341.5 341.0v7M299.0 356.5h7M302.5 353.0v7M281.0 359.5h7M284.5 356.0v7M347.0 382.5h7M350.5 379.0v7M359.0 404.5h7M362.5 401.0v7M351.0 414.5h7M354.5 411.0v7M290.0 404.5h7M293.5 401.0v7M320.0 406.5h7M323.5 403.0v7M258.0 422.5h7M261.5 419.0v7M276.0 434.5h7M279.5 431.0v7M288.0 434.5h7M291.5 431.0v7M309.0 435.5h7M312.5 432.0v7M285.0 440.5h7M288.5 437.0v7M310.0 442.5h7M313.5 439.0v7M293.0 450.5h7M296.5 447.0v7M284.0 462.5h7M287.5 459.0v7M273.0 472.5h7M276.5 469.0v7M303.0 464.5h7M306.5 461.0v7M355.0 440.5h7M358.5 437.0v7M319.0 487.5h7M322.5 484.0v7M291.0 505.5h7M294.5 502.0v7" stroke="#00ff00" stroke-width="1" fill="none" shape-rendering="crispEdges"/>
<g class="sat" fill="#00ff00" font-size="13.5" text-anchor="middle" letter-spacing="1.15" stroke="#00ff00" stroke-width=".2">
<text x="203.1" y="238.5">C38</text>
<text x="203.1" y="256.0">J196</text>
<text x="176.2" y="279.0">G24</text>
<text x="262.2" y="252.1">E34</text>
<text x="270.0" y="261.5">E09</text>
<text x="288.7" y="261.0">E06</text>
<text x="275.4" y="275.1">E36</text>
<text x="317.6" y="285.7">C19</text>
<text x="268.1" y="297.8">G05</text>
<text x="206.7" y="307.9">C60</text>
<text x="215.3" y="308.7">C01</text>
<text x="243.4" y="307.1">R09</text>
<text x="247.3" y="310.3">C62</text>
<text x="216.9" y="318.8">C45</text>
<text x="182.5" y="319.6">J199</text>
<text x="187.9" y="327.8">J195</text>
<text x="151.9" y="327.8">C03</text>
<text x="162.6" y="323.5">C37</text>
<text x="165.9" y="336.5">C16</text>
<text x="158.9" y="351.2">C06</text>
<text x="190.9" y="347.8">E05</text>
<text x="141.2" y="354.8">R18</text>
<text x="116.7" y="342.3">J200</text>
<text x="118.4" y="343.1">J209</text>
<text x="100.0" y="354.0">C60</text>
<text x="106.9" y="349.0">C08</text>
<text x="114.4" y="354.8">C44</text>
<text x="155.1" y="377.2">C09</text>
<text x="181.3" y="392.5">C35</text>
<text x="204.0" y="389.0">R15</text>
<text x="216.1" y="386.5">E30</text>
<text x="229.6" y="380.5">G12</text>
<text x="133.1" y="405.6">G10</text>
<text x="137.3" y="409.0">G20</text>
<text x="140.1" y="405.6">C10</text>
<text x="152.2" y="405.6">C07</text>
<text x="167.0" y="403.5">C26</text>
<text x="170.1" y="412.1">G18</text>
<text x="186.5" y="416.0">G25</text>
<text x="202.9" y="412.4">R17</text>
<text x="150.9" y="434.0">E03</text>
<text x="169.4" y="459.0">J194</text>
<text x="142.5" y="466.5">G28</text>
<text x="174.0" y="469.9">R18</text>
<text x="150.3" y="478.1">C24</text>
<text x="342.0" y="336.0">C48</text>
<text x="302.2" y="347.1">G21</text>
<text x="285.0" y="350.9">G20</text>
<text x="350.1" y="374.0">C20</text>
<text x="363.1" y="395.9">G19</text>
<text x="355.0" y="406.0">R04</text>
<text x="294.0" y="395.1">E02</text>
<text x="323.3" y="397.4">E25</text>
<text x="261.2" y="413.1">G11</text>
<text x="279.5" y="425.7">C13</text>
<text x="291.2" y="425.7">E31</text>
<text x="312.3" y="426.8">E14</text>
<text x="288.1" y="432.0">E10</text>
<text x="313.9" y="433.2">C47</text>
<text x="287.3" y="453.1">R24</text>
<text x="276.9" y="463.2">E17</text>
<text x="306.9" y="455.1">G06</text>
<text x="358.7" y="431.5">C30</text>
<text x="322.2" y="478.1">C32</text>
<text x="295.1" y="496.8">R08</text>
</g>
<line x1="511.6" y1="461.3" x2="665.9" y2="382.1" stroke="#ffffc0" stroke-width="1"/>
<line x1="665.9" y1="382.1" x2="933.4" y2="428.0" stroke="#ffffc0" stroke-width="1"/>
<defs>
<linearGradient id="w0" gradientUnits="userSpaceOnUse" x1="564.7" x2="709.2"><stop offset="0" stop-color="#6095c5"/><stop offset=".025" stop-color="#78b0d3"/><stop offset=".125" stop-color="#97c9e0"/><stop offset=".15" stop-color="#bde2ee"/><stop offset=".225" stop-color="#e8efde"/><stop offset=".725" stop-color="#f0eac7"/><stop offset=".85" stop-color="#e8efde"/><stop offset=".875" stop-color="#dbf0f6"/><stop offset=".95" stop-color="#6aa1cb"/><stop offset="1" stop-color="#4e7fb9"/></linearGradient>
<linearGradient id="w1" gradientUnits="userSpaceOnUse" x1="565.8" x2="710.4"><stop offset="0" stop-color="#6298c6"/><stop offset=".05" stop-color="#87bcd9"/><stop offset=".125" stop-color="#96c8e0"/><stop offset=".15" stop-color="#bbe1ee"/><stop offset=".225" stop-color="#e8efde"/><stop offset=".725" stop-color="#efebc8"/><stop offset=".825" stop-color="#ececd1"/><stop offset=".85" stop-color="#e6f0e6"/><stop offset=".875" stop-color="#d7eff6"/><stop offset=".95" stop-color="#6aa1cb"/><stop offset="1" stop-color="#5184bc"/></linearGradient>
<linearGradient id="w2" gradientUnits="userSpaceOnUse" x1="567.0" x2="711.5"><stop offset="0" stop-color="#5e93c4"/><stop offset=".025" stop-color="#76afd2"/><stop offset=".125" stop-color="#8fc3dd"/><stop offset=".175" stop-color="#cae8f2"/><stop offset=".225" stop-color="#e5f1ea"/><stop offset=".675" stop-color="#ebedd4"/><stop offset=".825" stop-color="#e9eedc"/><stop offset=".85" stop-color="#e2f2f1"/><stop offset=".875" stop-color="#d1ecf4"/><stop offset=".95" stop-color="#659bc8"/><stop offset="1" stop-color="#5184bc"/></linearGradient>
<linearGradient id="w3" gradientUnits="userSpaceOnUse" x1="568.1" x2="712.6"><stop offset="0" stop-color="#5e93c3"/><stop offset=".025" stop-color="#71a9cf"/><stop offset=".125" stop-color="#8ec2dc"/><stop offset=".175" stop-color="#c6e6f1"/><stop offset=".225" stop-color="#e1f2f5"/><stop offset=".825" stop-color="#e7efe3"/><stop offset=".875" stop-color="#cdeaf3"/><stop offset=".925" stop-color="#7eb5d5"/><stop offset=".95" stop-color="#649ac7"/><stop offset="1" stop-color="#5082bb"/></linearGradient>
<linearGradient id="w4" gradientUnits="userSpaceOnUse" x1="569.2" x2="713.7"><stop offset="0" stop-color="#6095c4"/><stop offset=".025" stop-color="#77b0d3"/><stop offset=".125" stop-color="#8fc2dd"/><stop offset=".175" stop-color="#c6e6f1"/><stop offset=".225" stop-color="#def2f8"/><stop offset=".825" stop-color="#e7efe1"/><stop offset=".875" stop-color="#cce9f2"/><stop offset=".925" stop-color="#7db5d5"/><stop offset=".95" stop-color="#649ac7"/><stop offset="1" stop-color="#4e80ba"/></linearGradient>
<linearGradient id="w5" gradientUnits="userSpaceOnUse" x1="570.3" x2="714.9"><stop offset="0" stop-color="#659bc7"/><stop offset=".025" stop-color="#80b7d6"/><stop offset=".125" stop-color="#93c6df"/><stop offset=".15" stop-color="#b7dfec"/><stop offset=".2" stop-color="#e1f2f4"/><stop offset=".675" stop-color="#ecedd3"/><stop offset=".825" stop-color="#e9eedb"/><stop offset=".85" stop-color="#e3f1ed"/><stop offset=".95" stop-color="#6aa2cb"/><stop offset="1" stop-color="#5184bc"/></linearGradient>
<linearGradient id="w6" gradientUnits="userSpaceOnUse" x1="571.5" x2="716.0"><stop offset="0" stop-color="#6499c7"/><stop offset=".025" stop-color="#82b8d7"/><stop offset=".125" stop-color="#97c9e0"/><stop offset=".15" stop-color="#bbe1ee"/><stop offset=".225" stop-color="#e7efe1"/><stop offset=".7" stop-color="#edecd0"/><stop offset=".85" stop-color="#e4f1ec"/><stop offset=".9" stop-color="#b5deec"/><stop offset=".95" stop-color="#6ca3cc"/><stop offset=".975" stop-color="#588cc0"/><stop offset="1" stop-color="#5588be"/></linearGradient>
<linearGradient id="w7" gradientUnits="userSpaceOnUse" x1="572.6" x2="717.1"><stop offset="0" stop-color="#649ac7"/><stop offset=".025" stop-color="#86bcd9"/><stop offset=".125" stop-color="#97c9e0"/><stop offset=".15" stop-color="#bce1ee"/><stop offset=".225" stop-color="#e7efe1"/><stop offset=".7" stop-color="#edeccf"/><stop offset=".825" stop-color="#e8efdf"/><stop offset=".85" stop-color="#e1f2f5"/><stop offset=".9" stop-color="#b5deec"/><stop offset=".95" stop-color="#69a0ca"/><stop offset=".975" stop-color="#588cc0"/><stop offset="1" stop-color="#578abf"/></linearGradient>
<linearGradient id="w8" gradientUnits="userSpaceOnUse" x1="573.7" x2="718.2"><stop offset="0" stop-color="#6aa1cb"/><stop offset=".025" stop-color="#85bbd8"/><stop offset=".125" stop-color="#96c8e0"/><stop offset=".15" stop-color="#bce1ee"/><stop offset=".225" stop-color="#e6f0e5"/><stop offset=".7" stop-color="#ebedd5"/><stop offset=".8" stop-color="#eaeed9"/><stop offset=".85" stop-color="#e2f2f2"/><stop offset=".9" stop-color="#b1dceb"/><stop offset=".95" stop-color="#659bc8"/><stop offset="1" stop-color="#5588be"/></linearGradient>
<linearGradient id="w9" gradientUnits="userSpaceOnUse" x1="574.8" x2="719.3"><stop offset="0" stop-color="#69a0ca"/><stop offset=".025" stop-color="#81b7d6"/><stop offset=".125" stop-color="#95c7df"/><stop offset=".175" stop-color="#ceeaf3"/><stop offset=".225" stop-color="#e3f1ee"/><stop offset=".8" stop-color="#e8efde"/><stop offset=".85" stop-color="#e1f2f4"/><stop offset=".875" stop-color="#ceeaf3"/><stop offset=".95" stop-color="#649ac7"/><stop offset="1" stop-color="#5183bb"/></linearGradient>
<linearGradient id="w10" gradientUnits="userSpaceOnUse" x1="576.0" x2="720.5"><stop offset="0" stop-color="#69a0ca"/><stop offset=".025" stop-color="#82b9d7"/><stop offset=".125" stop-color="#93c6de"/><stop offset=".175" stop-color="#cce9f2"/><stop offset=".225" stop-color="#e2f2f2"/><stop offset=".675" stop-color="#eaeeda"/><stop offset=".8" stop-color="#e7efe2"/><stop offset=".85" stop-color="#dff2f8"/><stop offset=".875" stop-color="#cdeaf3"/><stop offset=".95" stop-color="#679dc9"/><stop offset="1" stop-color="#5284bc"/></linearGradient>
<linearGradient id="w11" gradientUnits="userSpaceOnUse" x1="577.1" x2="721.6"><stop offset="0" stop-color="#69a0ca"/><stop offset=".125" stop-color="#8bbfdb"/><stop offset=".175" stop-color="#c0e3ef"/><stop offset=".225" stop-color="#dcf1f7"/><stop offset=".825" stop-color="#e2f2f3"/><stop offset=".875" stop-color="#c7e7f1"/><stop offset=".95" stop-color="#6196c5"/><stop offset="1" stop-color="#4d7fb9"/></linearGradient>
<linearGradient id="w12" gradientUnits="userSpaceOnUse" x1="578.2" x2="722.7"><stop offset="0" stop-color="#6ba2cb"/><stop offset=".05" stop-color="#81b7d7"/><stop offset=".125" stop-color="#8ec2dc"/><stop offset=".175" stop-color="#c5e6f0"/><stop offset=".225" stop-color="#e0f3f7"/><stop offset=".825" stop-color="#e4f1ed"/><stop offset=".875" stop-color="#c9e8f1"/><stop offset=".95" stop-color="#6298c6"/><stop offset="1" stop-color="#4d7eb9"/></linearGradient>
<linearGradient id="w13" gradientUnits="userSpaceOnUse" x1="579.3" x2="723.8"><stop offset="0" stop-color="#6ca3cc"/><stop offset=".05" stop-color="#8bc0db"/><stop offset=".125" stop-color="#95c7df"/><stop offset=".175" stop-color="#d0ebf3"/><stop offset=".225" stop-color="#e5f0e8"/><stop offset=".775" stop-color="#ecedd4"/><stop offset=".85" stop-color="#e3f1ee"/><stop offset=".875" stop-color="#d0ebf4"/><stop offset=".95" stop-color="#6ba2cb"/><stop offset=".975" stop-color="#578abf"/><stop offset="1" stop-color="#5386bd"/></linearGradient>
<linearGradient id="w14" gradientUnits="userSpaceOnUse" x1="580.4" x2="725.0"><stop offset="0" stop-color="#6398c6"/><stop offset=".025" stop-color="#7eb5d6"/><stop offset=".05" stop-color="#89beda"/><stop offset=".125" stop-color="#90c3dd"/><stop offset=".15" stop-color="#b8e0ed"/><stop offset=".2" stop-color="#e1f3f6"/><stop offset=".225" stop-color="#e4f1ec"/><stop offset=".75" stop-color="#e9eeda"/><stop offset=".85" stop-color="#e4f1ed"/><stop offset=".875" stop-color="#d0ebf3"/><stop offset=".95" stop-color="#6aa1cb"/><stop offset="1" stop-color="#5183bb"/></linearGradient>
<linearGradient id="w15" gradientUnits="userSpaceOnUse" x1="581.6" x2="726.1"><stop offset="0" stop-color="#598cc0"/><stop offset=".05" stop-color="#7cb4d5"/><stop offset=".125" stop-color="#88bdda"/><stop offset=".175" stop-color="#c3e5f0"/><stop offset=".225" stop-color="#ddf2f7"/><stop offset=".75" stop-color="#e3f1ee"/><stop offset=".85" stop-color="#def2f8"/><stop offset=".875" stop-color="#c9e8f2"/><stop offset=".95" stop-color="#6297c6"/><stop offset="1" stop-color="#497ab7"/></linearGradient>
<linearGradient id="w16" gradientUnits="userSpaceOnUse" x1="582.7" x2="727.2"><stop offset="0" stop-color="#5588be"/><stop offset=".125" stop-color="#7fb6d6"/><stop offset=".175" stop-color="#b6deec"/><stop offset=".225" stop-color="#cfebf3"/><stop offset=".825" stop-color="#dff2f8"/><stop offset=".875" stop-color="#c1e4ef"/><stop offset=".95" stop-color="#5689bf"/><stop offset="1" stop-color="#4878b6"/></linearGradient>
<linearGradient id="w17" gradientUnits="userSpaceOnUse" x1="583.8" x2="728.3"><stop offset="0" stop-color="#578bbf"/><stop offset=".125" stop-color="#7fb6d6"/><stop offset=".15" stop-color="#a3d2e5"/><stop offset=".2" stop-color="#cbe8f2"/><stop offset=".25" stop-color="#d7eef5"/><stop offset=".55" stop-color="#d3ecf4"/><stop offset=".825" stop-color="#dff2f8"/><stop offset=".85" stop-color="#d9f0f6"/><stop offset=".875" stop-color="#c0e3ef"/><stop offset=".95" stop-color="#5689be"/><stop offset="1" stop-color="#4a7bb7"/></linearGradient>
<linearGradient id="w18" gradientUnits="userSpaceOnUse" x1="584.9" x2="729.5"><stop offset="0" stop-color="#5b8fc1"/><stop offset=".125" stop-color="#85bad8"/><stop offset=".15" stop-color="#a9d7e8"/><stop offset=".225" stop-color="#d5eef5"/><stop offset=".675" stop-color="#e1f2f4"/><stop offset=".85" stop-color="#dbf1f7"/><stop offset=".95" stop-color="#5b90c2"/><stop offset="1" stop-color="#4b7cb8"/></linearGradient>
<linearGradient id="w19" gradientUnits="userSpaceOnUse" x1="586.1" x2="730.6"><stop offset="0" stop-color="#588bbf"/><stop offset=".025" stop-color="#72aad0"/><stop offset=".125" stop-color="#8dc1dc"/><stop offset=".15" stop-color="#afdbea"/><stop offset=".225" stop-color="#d9eff6"/><stop offset=".8" stop-color="#e2f2f0"/><stop offset=".85" stop-color="#d9f0f6"/><stop offset=".875" stop-color="#c4e5f0"/><stop offset=".95" stop-color="#6095c4"/><stop offset="1" stop-color="#4f81ba"/></linearGradient>
<linearGradient id="w20" gradientUnits="userSpaceOnUse" x1="587.2" x2="731.7"><stop offset="0" stop-color="#598dc0"/><stop offset=".025" stop-color="#75aed2"/><stop offset=".125" stop-color="#90c3dd"/><stop offset=".175" stop-color="#c7e7f1"/><stop offset=".225" stop-color="#dff2f8"/><stop offset=".625" stop-color="#e7efe2"/><stop offset=".8" stop-color="#e5f0e7"/><stop offset=".85" stop-color="#def2f7"/><stop offset=".875" stop-color="#c8e7f1"/><stop offset=".95" stop-color="#659bc8"/><stop offset="1" stop-color="#5285bc"/></linearGradient>
<linearGradient id="w21" gradientUnits="userSpaceOnUse" x1="588.3" x2="732.8"><stop offset="0" stop-color="#5d92c3"/><stop offset=".05" stop-color="#81b7d7"/><stop offset=".125" stop-color="#8fc2dd"/><stop offset=".15" stop-color="#b7dfec"/><stop offset=".225" stop-color="#e0f3f8"/><stop offset=".775" stop-color="#e9eedd"/><stop offset=".85" stop-color="#e0f3f8"/><stop offset=".95" stop-color="#679dc9"/><stop offset="1" stop-color="#5386bd"/></linearGradient>
<linearGradient id="w22" gradientUnits="userSpaceOnUse" x1="589.4" x2="733.9"><stop offset="0" stop-color="#5f94c4"/><stop offset=".05" stop-color="#81b7d7"/><stop offset=".125" stop-color="#8cc0db"/><stop offset=".15" stop-color="#b5deec"/><stop offset=".2" stop-color="#daf0f6"/><stop offset=".25" stop-color="#e4f1ec"/><stop offset=".775" stop-color="#e8efe0"/><stop offset=".85" stop-color="#dff2f8"/><stop offset=".875" stop-color="#cce9f2"/><stop offset=".95" stop-color="#6297c6"/><stop offset="1" stop-color="#4f81ba"/></linearGradient>
<linearGradient id="w23" gradientUnits="userSpaceOnUse" x1="590.6" x2="735.1"><stop offset="0" stop-color="#6297c6"/><stop offset=".025" stop-color="#7bb3d4"/><stop offset=".125" stop-color="#91c4dd"/><stop offset=".15" stop-color="#b7dfec"/><stop offset=".225" stop-color="#e2f2f2"/><stop offset=".75" stop-color="#e8efe0"/><stop offset=".85" stop-color="#e2f2f2"/><stop offset=".875" stop-color="#ceeaf3"/><stop offset=".95" stop-color="#6298c6"/><stop offset="1" stop-color="#4d7fb9"/></linearGradient>
<linearGradient id="w24" gradientUnits="userSpaceOnUse" x1="591.7" x2="736.2"><stop offset="0" stop-color="#669cc8"/><stop offset=".025" stop-color="#86bbd9"/><stop offset=".125" stop-color="#99cae1"/><stop offset=".175" stop-color="#d0ebf4"/><stop offset=".225" stop-color="#e5f0e9"/><stop offset=".725" stop-color="#eeecce"/><stop offset=".85" stop-color="#e5f0e9"/><stop offset=".95" stop-color="#69a0ca"/><stop offset="1" stop-color="#5385bc"/></linearGradient>
<linearGradient id="w25" gradientUnits="userSpaceOnUse" x1="592.8" x2="737.3"><stop offset="0" stop-color="#6aa1cb"/><stop offset=".025" stop-color="#80b6d6"/><stop offset=".125" stop-color="#95c7df"/><stop offset=".15" stop-color="#b6dfec"/><stop offset=".2" stop-color="#ddf2f7"/><stop offset=".275" stop-color="#e9eedb"/><stop offset=".75" stop-color="#ebedd6"/><stop offset=".85" stop-color="#e4f1ed"/><stop offset=".875" stop-color="#d0ebf4"/><stop offset=".95" stop-color="#659bc8"/><stop offset="1" stop-color="#5183bb"/></linearGradient>
<linearGradient id="w26" gradientUnits="userSpaceOnUse" x1="593.9" x2="738.4"><stop offset="0" stop-color="#6fa7ce"/><stop offset=".05" stop-color="#8dc1dc"/><stop offset=".125" stop-color="#98cae1"/><stop offset=".15" stop-color="#bee2ee"/><stop offset=".2" stop-color="#e5f0e8"/><stop offset=".225" stop-color="#eaeed8"/><stop offset=".775" stop-color="#efebc8"/><stop offset=".85" stop-color="#e7efe1"/><stop offset=".875" stop-color="#d7eff5"/><stop offset=".95" stop-color="#6ba2cb"/><stop offset="1" stop-color="#5285bc"/></linearGradient>
<linearGradient id="w27" gradientUnits="userSpaceOnUse" x1="595.1" x2="739.6"><stop offset="0" stop-color="#72abd0"/><stop offset=".025" stop-color="#8bc0db"/><stop offset=".125" stop-color="#9ecfe3"/><stop offset=".175" stop-color="#dcf1f7"/><stop offset=".225" stop-color="#efebca"/><stop offset=".8" stop-color="#f2e9c2"/><stop offset=".85" stop-color="#ecedd3"/><stop offset=".875" stop-color="#dff2f8"/><stop offset=".95" stop-color="#71aacf"/><stop offset="1" stop-color="#578abf"/></linearGradient>
<linearGradient id="w28" gradientUnits="userSpaceOnUse" x1="596.2" x2="740.7"><stop offset="0" stop-color="#75aed1"/><stop offset=".025" stop-color="#8fc3dd"/><stop offset=".125" stop-color="#a1d1e5"/><stop offset=".15" stop-color="#c7e7f1"/><stop offset=".225" stop-color="#efebca"/><stop offset=".7" stop-color="#f3e8bf"/><stop offset=".85" stop-color="#eaeed8"/><stop offset=".875" stop-color="#def2f7"/><stop offset=".95" stop-color="#6ea6cd"/><stop offset=".975" stop-color="#598dc1"/><stop offset="1" stop-color="#588bc0"/></linearGradient>
<linearGradient id="w29" gradientUnits="userSpaceOnUse" x1="597.3" x2="741.8"><stop offset="0" stop-color="#74add1"/><stop offset=".025" stop-color="#8cc0dc"/><stop offset=".125" stop-color="#9fd0e4"/><stop offset=".15" stop-color="#c6e6f1"/><stop offset=".225" stop-color="#ecedd3"/><stop offset=".725" stop-color="#f1eac4"/><stop offset=".85" stop-color="#e9eedc"/><stop offset=".9" stop-color="#b9e0ed"/><stop offset=".95" stop-color="#669cc8"/><stop offset="1" stop-color="#578abf"/></linearGradient>
<linearGradient id="w30" gradientUnits="userSpaceOnUse" x1="598.4" x2="742.9"><stop offset="0" stop-color="#71aacf"/><stop offset=".025" stop-color="#84bad8"/><stop offset=".125" stop-color="#94c7df"/><stop offset=".15" stop-color="#bce1ee"/><stop offset=".2" stop-color="#e4f1ed"/><stop offset=".25" stop-color="#e8efde"/><stop offset=".825" stop-color="#edeccf"/><stop offset=".875" stop-color="#d7eef5"/><stop offset=".95" stop-color="#5e92c3"/><stop offset="1" stop-color="#4f81ba"/></linearGradient>
<linearGradient id="w31" gradientUnits="userSpaceOnUse" x1="599.5" x2="744.1"><stop offset="0" stop-color="#74acd1"/><stop offset=".05" stop-color="#8abedb"/><stop offset=".125" stop-color="#92c5de"/><stop offset=".15" stop-color="#bce2ee"/><stop offset=".2" stop-color="#e6f0e5"/><stop offset=".25" stop-color="#ecedd3"/><stop offset=".825" stop-color="#efebc9"/><stop offset=".875" stop-color="#d9f0f6"/><stop offset=".95" stop-color="#6096c5"/><stop offset="1" stop-color="#4c7db8"/></linearGradient>
<linearGradient id="w32" gradientUnits="userSpaceOnUse" x1="600.7" x2="745.2"><stop offset="0" stop-color="#73acd0"/><stop offset=".025" stop-color="#85bad8"/><stop offset=".125" stop-color="#97c9e0"/><stop offset=".15" stop-color="#c2e4ef"/><stop offset=".225" stop-color="#edeccf"/><stop offset=".825" stop-color="#f0ebc8"/><stop offset=".875" stop-color="#dcf1f7"/><stop offset=".95" stop-color="#679dc9"/><stop offset="1" stop-color="#4e80ba"/></linearGradient>
<linearGradient id="w33" gradientUnits="userSpaceOnUse" x1="601.8" x2="746.3"><stop offset="0" stop-color="#6fa7ce"/><stop offset=".025" stop-color="#85bad8"/><stop offset=".125" stop-color="#9ecfe3"/><stop offset=".15" stop-color="#c7e7f1"/><stop offset=".225" stop-color="#efebc8"/><stop offset=".775" stop-color="#f3e8be"/><stop offset=".85" stop-color="#edeccf"/><stop offset=".875" stop-color="#e1f2f4"/><stop offset=".95" stop-color="#6ca3cc"/><stop offset="1" stop-color="#5285bc"/></linearGradient>
<linearGradient id="w34" gradientUnits="userSpaceOnUse" x1="602.9" x2="747.4"><stop offset="0" stop-color="#6ea5cd"/><stop offset=".025" stop-color="#85bad8"/><stop offset=".125" stop-color="#9fd0e4"/><stop offset=".15" stop-color="#c9e8f2"/><stop offset=".225" stop-color="#efebc8"/><stop offset=".775" stop-color="#f3e8bf"/><stop offset=".85" stop-color="#edeccf"/><stop offset=".875" stop-color="#e1f2f5"/><stop offset=".95" stop-color="#6aa1cb"/><stop offset="1" stop-color="#5386bd"/></linearGradient>
<linearGradient id="w35" gradientUnits="userSpaceOnUse" x1="604.0" x2="748.6"><stop offset="0" stop-color="#679dc9"/><stop offset=".025" stop-color="#80b7d6"/><stop offset=".125" stop-color="#9acbe2"/><stop offset=".15" stop-color="#c1e4ef"/><stop offset=".225" stop-color="#edecd0"/><stop offset=".825" stop-color="#f2e9c2"/><stop offset=".875" stop-color="#dcf1f7"/><stop offset=".95" stop-color="#679dc9"/><stop offset="1" stop-color="#5284bc"/></linearGradient>
<linearGradient id="w36" gradientUnits="userSpaceOnUse" x1="605.2" x2="749.7"><stop offset="0" stop-color="#5e93c3"/><stop offset=".025" stop-color="#75aed1"/><stop offset=".125" stop-color="#93c6df"/><stop offset=".175" stop-color="#d4edf5"/><stop offset=".225" stop-color="#ebedd7"/><stop offset=".425" stop-color="#e8efde"/><stop offset=".825" stop-color="#f1eac5"/><stop offset=".875" stop-color="#daf0f6"/><stop offset=".925" stop-color="#82b8d7"/><stop offset=".95" stop-color="#6399c6"/><stop offset="1" stop-color="#4c7db8"/></linearGradient>
<linearGradient id="w37" gradientUnits="userSpaceOnUse" x1="606.3" x2="750.8"><stop offset="0" stop-color="#5b90c2"/><stop offset=".025" stop-color="#73acd1"/><stop offset=".125" stop-color="#91c4de"/><stop offset=".15" stop-color="#bbe1ed"/><stop offset=".225" stop-color="#eaedd7"/><stop offset=".825" stop-color="#f0eac6"/><stop offset=".875" stop-color="#dbf1f7"/><stop offset=".95" stop-color="#6196c5"/><stop offset="1" stop-color="#4b7cb8"/></linearGradient>
<linearGradient id="w38" gradientUnits="userSpaceOnUse" x1="607.4" x2="751.9"><stop offset="0" stop-color="#5a8dc1"/><stop offset=".025" stop-color="#80b6d6"/><stop offset=".125" stop-color="#9dcee3"/><stop offset=".15" stop-color="#c9e8f1"/><stop offset=".225" stop-color="#f0eac6"/><stop offset=".7" stop-color="#f4e8bd"/><stop offset=".825" stop-color="#f2e9c1"/><stop offset=".85" stop-color="#eeebcc"/><stop offset=".875" stop-color="#e1f3f6"/><stop offset=".95" stop-color="#6ca3cc"/><stop offset="1" stop-color="#5486bd"/></linearGradient>
<linearGradient id="w39" gradientUnits="userSpaceOnUse" x1="608.5" x2="753.0"><stop offset="0" stop-color="#598cc0"/><stop offset=".025" stop-color="#79b1d3"/><stop offset=".125" stop-color="#9bcce2"/><stop offset=".15" stop-color="#c7e7f1"/><stop offset=".225" stop-color="#f0eac7"/><stop offset=".7" stop-color="#f4e8bd"/><stop offset=".85" stop-color="#eeeccc"/><stop offset=".875" stop-color="#e1f3f6"/><stop offset=".95" stop-color="#6da5cd"/><stop offset="1" stop-color="#5184bc"/></linearGradient>
<linearGradient id="w40" gradientUnits="userSpaceOnUse" x1="609.7" x2="754.2"><stop offset="0" stop-color="#588cc0"/><stop offset=".05" stop-color="#82b8d7"/><stop offset=".125" stop-color="#96c8e0"/><stop offset=".175" stop-color="#daf0f6"/><stop offset=".225" stop-color="#edecce"/><stop offset=".675" stop-color="#f2e9c1"/><stop offset=".85" stop-color="#edecce"/><stop offset=".875" stop-color="#def2f8"/><stop offset=".95" stop-color="#689ec9"/><stop offset="1" stop-color="#5083bb"/></linearGradient>
<linearGradient id="w41" gradientUnits="userSpaceOnUse" x1="610.8" x2="755.3"><stop offset="0" stop-color="#5b8fc2"/><stop offset=".025" stop-color="#7bb3d4"/><stop offset=".125" stop-color="#9acce2"/><stop offset=".15" stop-color="#c5e6f0"/><stop offset=".175" stop-color="#def2f7"/><stop offset=".225" stop-color="#efebc8"/><stop offset=".625" stop-color="#f4e8bc"/><stop offset=".8" stop-color="#f4e8bd"/><stop offset=".85" stop-color="#eeeccd"/><stop offset=".875" stop-color="#e2f2f1"/><stop offset=".95" stop-color="#6ba2cc"/><stop offset="1" stop-color="#5487bd"/></linearGradient>
<linearGradient id="w42" gradientUnits="userSpaceOnUse" x1="611.9" x2="756.4"><stop offset="0" stop-color="#588bc0"/><stop offset=".025" stop-color="#73acd0"/><stop offset=".125" stop-color="#92c5de"/><stop offset=".15" stop-color="#bae0ed"/><stop offset=".2" stop-color="#e4f1ec"/><stop offset=".25" stop-color="#ebedd6"/><stop offset=".8" stop-color="#efebc8"/><stop offset=".85" stop-color="#ebedd7"/><stop offset=".875" stop-color="#def2f7"/><stop offset=".95" stop-color="#6197c6"/><stop offset="1" stop-color="#4d7fb9"/></linearGradient>
<linearGradient id="w43" gradientUnits="userSpaceOnUse" x1="613.0" x2="757.5"><stop offset="0" stop-color="#5689be"/><stop offset=".025" stop-color="#6fa7ce"/><stop offset=".125" stop-color="#8ec2dc"/><stop offset=".2" stop-color="#ddf2f7"/><stop offset=".25" stop-color="#e6f0e5"/><stop offset=".8" stop-color="#e9eedb"/><stop offset=".85" stop-color="#e5f0e8"/><stop offset=".875" stop-color="#cfebf3"/><stop offset=".95" stop-color="#5c91c2"/><stop offset="1" stop-color="#4d7fb9"/></linearGradient>
<linearGradient id="w44" gradientUnits="userSpaceOnUse" x1="614.1" x2="758.7"><stop offset="0" stop-color="#5e93c3"/><stop offset=".025" stop-color="#7bb2d4"/><stop offset=".05" stop-color="#87bcd9"/><stop offset=".125" stop-color="#97c9e0"/><stop offset=".175" stop-color="#d4edf5"/><stop offset=".225" stop-color="#e7efe1"/><stop offset=".8" stop-color="#edecce"/><stop offset=".85" stop-color="#e3f1ed"/><stop offset=".875" stop-color="#d1ebf4"/><stop offset=".95" stop-color="#689fca"/><stop offset=".975" stop-color="#578bbf"/><stop offset="1" stop-color="#5689bf"/></linearGradient>
<linearGradient id="w45" gradientUnits="userSpaceOnUse" x1="615.3" x2="759.8"><stop offset="0" stop-color="#5d91c3"/><stop offset=".025" stop-color="#74add1"/><stop offset=".125" stop-color="#8cc0db"/><stop offset=".175" stop-color="#c8e7f1"/><stop offset=".225" stop-color="#def2f7"/><stop offset=".75" stop-color="#e7efe2"/><stop offset=".85" stop-color="#dff2f8"/><stop offset=".875" stop-color="#cce9f2"/><stop offset=".95" stop-color="#6398c6"/><stop offset=".975" stop-color="#4f81ba"/><stop offset="1" stop-color="#4e80ba"/></linearGradient>
<linearGradient id="w46" gradientUnits="userSpaceOnUse" x1="616.4" x2="760.9"><stop offset="0" stop-color="#598dc1"/><stop offset=".025" stop-color="#70a8cf"/><stop offset=".125" stop-color="#86bbd9"/><stop offset=".175" stop-color="#bee2ee"/><stop offset=".225" stop-color="#d6eef5"/><stop offset=".825" stop-color="#e4f1eb"/><stop offset=".875" stop-color="#c6e6f1"/><stop offset=".95" stop-color="#5a8fc1"/><stop offset="1" stop-color="#4a7bb7"/></linearGradient>
<linearGradient id="w47" gradientUnits="userSpaceOnUse" x1="617.5" x2="762.0"><stop offset="0" stop-color="#5d92c3"/><stop offset=".025" stop-color="#76aed2"/><stop offset=".125" stop-color="#8ec2dc"/><stop offset=".15" stop-color="#b6deec"/><stop offset=".2" stop-color="#dcf1f7"/><stop offset=".675" stop-color="#e8efde"/><stop offset=".85" stop-color="#e3f1ef"/><stop offset=".95" stop-color="#6297c6"/><stop offset="1" stop-color="#4e80b9"/></linearGradient>
<linearGradient id="w48" gradientUnits="userSpaceOnUse" x1="618.6" x2="763.2"><stop offset="0" stop-color="#6196c5"/><stop offset=".05" stop-color="#7bb3d4"/><stop offset=".125" stop-color="#8abfdb"/><stop offset=".15" stop-color="#b5deec"/><stop offset=".225" stop-color="#def2f7"/><stop offset=".825" stop-color="#e5f0e8"/><stop offset=".85" stop-color="#e3f2f0"/><stop offset=".875" stop-color="#cce9f2"/><stop offset=".925" stop-color="#7db4d5"/><stop offset="1" stop-color="#4b7cb8"/></linearGradient>
<linearGradient id="w49" gradientUnits="userSpaceOnUse" x1="619.8" x2="764.3"><stop offset="0" stop-color="#669cc8"/><stop offset=".025" stop-color="#79b1d3"/><stop offset=".125" stop-color="#90c3dd"/><stop offset=".15" stop-color="#b6deec"/><stop offset=".225" stop-color="#e1f2f5"/><stop offset=".775" stop-color="#e8efde"/><stop offset=".85" stop-color="#e2f2f3"/><stop offset=".875" stop-color="#ceeaf3"/><stop offset=".95" stop-color="#669dc9"/><stop offset="1" stop-color="#4d7fb9"/></linearGradient>
<linearGradient id="w50" gradientUnits="userSpaceOnUse" x1="620.9" x2="765.4"><stop offset="0" stop-color="#6aa2cb"/><stop offset=".025" stop-color="#82b8d7"/><stop offset=".125" stop-color="#95c8e0"/><stop offset=".175" stop-color="#cfebf3"/><stop offset=".225" stop-color="#e4f1ec"/><stop offset=".775" stop-color="#ebedd6"/><stop offset=".85" stop-color="#e1f2f3"/><stop offset=".875" stop-color="#d0ebf4"/><stop offset=".95" stop-color="#6399c6"/><stop offset="1" stop-color="#5184bc"/></linearGradient>
<linearGradient id="w51" gradientUnits="userSpaceOnUse" x1="622.0" x2="766.5"><stop offset="0" stop-color="#69a0ca"/><stop offset=".025" stop-color="#7bb3d4"/><stop offset=".125" stop-color="#8abfdb"/><stop offset=".175" stop-color="#c6e6f1"/><stop offset=".225" stop-color="#ddf2f7"/><stop offset=".825" stop-color="#e5f0e9"/><stop offset=".875" stop-color="#cce9f2"/><stop offset=".95" stop-color="#5d92c3"/><stop offset="1" stop-color="#4d7eb9"/></linearGradient>
<linearGradient id="w52" gradientUnits="userSpaceOnUse" x1="623.1" x2="767.6"><stop offset="0" stop-color="#6da5cd"/><stop offset=".025" stop-color="#83b9d8"/><stop offset=".125" stop-color="#8cc0db"/><stop offset=".15" stop-color="#b6dfec"/><stop offset=".175" stop-color="#cbe9f2"/><stop offset=".25" stop-color="#e3f1ed"/><stop offset=".75" stop-color="#e8efdf"/><stop offset=".85" stop-color="#e1f2f5"/><stop offset=".875" stop-color="#d0ebf3"/><stop offset=".925" stop-color="#7db5d5"/><stop offset=".95" stop-color="#6398c6"/><stop offset="1" stop-color="#4e7fb9"/></linearGradient>
<linearGradient id="w53" gradientUnits="userSpaceOnUse" x1="624.3" x2="768.8"><stop offset="0" stop-color="#77afd2"/><stop offset=".025" stop-color="#8dc1dc"/><stop offset=".125" stop-color="#9acbe1"/><stop offset=".15" stop-color="#c2e4ef"/><stop offset=".175" stop-color="#d3edf4"/><stop offset=".25" stop-color="#eaeed9"/><stop offset=".775" stop-color="#edecd0"/><stop offset=".85" stop-color="#e5f0e9"/><stop offset=".9" stop-color="#b6deec"/><stop offset=".95" stop-color="#6aa1cb"/><stop offset="1" stop-color="#5184bc"/></linearGradient>
<linearGradient id="w54" gradientUnits="userSpaceOnUse" x1="625.4" x2="769.9"><stop offset="0" stop-color="#7db4d5"/><stop offset=".025" stop-color="#90c4dd"/><stop offset=".125" stop-color="#9ecfe3"/><stop offset=".15" stop-color="#c2e4f0"/><stop offset=".25" stop-color="#ebedd6"/><stop offset=".775" stop-color="#edeccf"/><stop offset=".85" stop-color="#e5f1ea"/><stop offset=".875" stop-color="#d5edf5"/><stop offset=".95" stop-color="#6ca3cc"/><stop offset="1" stop-color="#5083bb"/></linearGradient>
<linearGradient id="w55" gradientUnits="userSpaceOnUse" x1="626.5" x2="771.0"><stop offset="0" stop-color="#88bdda"/><stop offset=".125" stop-color="#a1d1e5"/><stop offset=".15" stop-color="#c6e6f1"/><stop offset=".2" stop-color="#e5f0e9"/><stop offset=".25" stop-color="#eeeccd"/><stop offset=".8" stop-color="#f0ebc7"/><stop offset=".85" stop-color="#e7efe3"/><stop offset=".9" stop-color="#b7dfec"/><stop offset=".95" stop-color="#6fa8ce"/><stop offset=".975" stop-color="#598dc0"/><stop offset="1" stop-color="#5689bf"/></linearGradient>
<linearGradient id="w56" gradientUnits="userSpaceOnUse" x1="627.6" x2="772.1"><stop offset="0" stop-color="#89beda"/><stop offset=".125" stop-color="#9ecee3"/><stop offset=".15" stop-color="#c2e4f0"/><stop offset=".225" stop-color="#eaeed9"/><stop offset=".775" stop-color="#efebcb"/><stop offset=".85" stop-color="#e6f0e6"/><stop offset=".9" stop-color="#b6deec"/><stop offset=".95" stop-color="#6ea5cd"/><stop offset=".975" stop-color="#598dc1"/><stop offset="1" stop-color="#578bbf"/></linearGradient>
<linearGradient id="w57" gradientUnits="userSpaceOnUse" x1="628.7" x2="773.3"><stop offset="0" stop-color="#8bbfdb"/><stop offset=".125" stop-color="#98cae1"/><stop offset=".15" stop-color="#bce1ee"/><stop offset=".2" stop-color="#e3f1ef"/><stop offset=".225" stop-color="#e7efe3"/><stop offset=".825" stop-color="#eaeeda"/><stop offset=".875" stop-color="#d2ecf4"/><stop offset=".95" stop-color="#69a0ca"/><stop offset="1" stop-color="#5183bb"/></linearGradient>
<linearGradient id="w58" gradientUnits="userSpaceOnUse" x1="629.9" x2="774.4"><stop offset="0" stop-color="#8ec2dd"/><stop offset=".125" stop-color="#8fc3dd"/><stop offset=".15" stop-color="#b4ddec"/><stop offset=".2" stop-color="#dbf1f7"/><stop offset=".25" stop-color="#e3f2ef"/><stop offset=".825" stop-color="#e7efe2"/><stop offset=".875" stop-color="#d0ebf4"/><stop offset=".95" stop-color="#6398c6"/><stop offset="1" stop-color="#4e80b9"/></linearGradient>
<linearGradient id="w59" gradientUnits="userSpaceOnUse" x1="631.0" x2="775.5"><stop offset="0" stop-color="#92c5de"/><stop offset=".125" stop-color="#91c4dd"/><stop offset=".15" stop-color="#b9e0ed"/><stop offset=".175" stop-color="#cce9f2"/><stop offset=".25" stop-color="#e4f1eb"/><stop offset=".825" stop-color="#e7efe1"/><stop offset=".875" stop-color="#d1ebf4"/><stop offset=".95" stop-color="#649ac7"/><stop offset="1" stop-color="#5183bb"/></linearGradient>
<linearGradient id="w60" gradientUnits="userSpaceOnUse" x1="632.1" x2="776.6"><stop offset="0" stop-color="#94c6df"/><stop offset=".125" stop-color="#94c7df"/><stop offset=".15" stop-color="#bae0ed"/><stop offset=".2" stop-color="#e1f2f4"/><stop offset=".25" stop-color="#e7efe1"/><stop offset=".8" stop-color="#eaeed8"/><stop offset=".85" stop-color="#e4f1eb"/><stop offset=".875" stop-color="#d5edf5"/><stop offset=".95" stop-color="#6399c6"/><stop offset="1" stop-color="#5183bb"/></linearGradient>
<linearGradient id="w61" gradientUnits="userSpaceOnUse" x1="633.2" x2="777.8"><stop offset="0" stop-color="#97c9e0"/><stop offset=".125" stop-color="#90c3dd"/><stop offset=".175" stop-color="#c9e8f2"/><stop offset=".225" stop-color="#e3f2ef"/><stop offset=".825" stop-color="#e7efe2"/><stop offset=".875" stop-color="#d5eef5"/><stop offset=".95" stop-color="#6095c5"/><stop offset="1" stop-color="#4c7eb9"/></linearGradient>
<linearGradient id="w62" gradientUnits="userSpaceOnUse" x1="634.4" x2="778.9"><stop offset="0" stop-color="#99cbe1"/><stop offset=".1" stop-color="#86bbd9"/><stop offset=".125" stop-color="#8dc1dc"/><stop offset=".15" stop-color="#b3ddeb"/><stop offset=".175" stop-color="#c6e6f1"/><stop offset=".25" stop-color="#e3f1ef"/><stop offset=".825" stop-color="#e5f0e7"/><stop offset=".875" stop-color="#d0ebf3"/><stop offset=".95" stop-color="#5e93c3"/><stop offset="1" stop-color="#4d7eb9"/></linearGradient>
<linearGradient id="w63" gradientUnits="userSpaceOnUse" x1="635.5" x2="780.0"><stop offset="0" stop-color="#95c7df"/><stop offset=".125" stop-color="#89beda"/><stop offset=".15" stop-color="#b0dbea"/><stop offset=".175" stop-color="#c4e5f0"/><stop offset=".25" stop-color="#e2f2f3"/><stop offset=".825" stop-color="#e5f0e7"/><stop offset=".875" stop-color="#ceeaf3"/><stop offset=".95" stop-color="#5c90c2"/><stop offset="1" stop-color="#4d7eb9"/></linearGradient>
<linearGradient id="w64" gradientUnits="userSpaceOnUse" x1="636.6" x2="781.1"><stop offset="0" stop-color="#97c9e0"/><stop offset=".125" stop-color="#8fc3dd"/><stop offset=".175" stop-color="#c9e8f2"/><stop offset=".25" stop-color="#e4f1ec"/><stop offset=".825" stop-color="#e8efde"/><stop offset=".85" stop-color="#e6f0e6"/><stop offset=".875" stop-color="#d1ecf4"/><stop offset=".925" stop-color="#7cb3d4"/><stop offset=".95" stop-color="#6197c5"/><stop offset=".975" stop-color="#4f81ba"/><stop offset="1" stop-color="#4f81ba"/></linearGradient>
<linearGradient id="w65" gradientUnits="userSpaceOnUse" x1="637.7" x2="782.2"><stop offset="0" stop-color="#9dcee3"/><stop offset=".125" stop-color="#9acce2"/><stop offset=".175" stop-color="#d5eef5"/><stop offset=".25" stop-color="#ebedd6"/><stop offset=".825" stop-color="#ebedd6"/><stop offset=".85" stop-color="#e9eedc"/><stop offset=".875" stop-color="#d5eef5"/><stop offset=".95" stop-color="#679ec9"/><stop offset="1" stop-color="#5588be"/></linearGradient>
<linearGradient id="w66" gradientUnits="userSpaceOnUse" x1="638.9" x2="783.4"><stop offset="0" stop-color="#9acce2"/><stop offset=".125" stop-color="#92c5de"/><stop offset=".15" stop-color="#bbe1ee"/><stop offset=".225" stop-color="#e4f1eb"/><stop offset=".825" stop-color="#e8eedd"/><stop offset=".85" stop-color="#e5f0e8"/><stop offset=".875" stop-color="#d0ebf3"/><stop offset=".95" stop-color="#6196c5"/><stop offset="1" stop-color="#4e80ba"/></linearGradient>
<linearGradient id="w67" gradientUnits="userSpaceOnUse" x1="640.0" x2="784.5"><stop offset="0" stop-color="#91c4de"/><stop offset=".1" stop-color="#7db4d5"/><stop offset=".125" stop-color="#84bad8"/><stop offset=".15" stop-color="#addae9"/><stop offset=".225" stop-color="#d9f0f6"/><stop offset=".7" stop-color="#e2f2f1"/><stop offset=".8" stop-color="#dbf1f7"/><stop offset=".825" stop-color="#e5f0e8"/><stop offset=".875" stop-color="#cbe9f2"/><stop offset=".925" stop-color="#73acd0"/><stop offset=".95" stop-color="#588cc0"/><stop offset="1" stop-color="#4676b5"/></linearGradient>
<linearGradient id="w68" gradientUnits="userSpaceOnUse" x1="641.1" x2="785.6"><stop offset="0" stop-color="#95c8df"/><stop offset=".125" stop-color="#8fc3dd"/><stop offset=".15" stop-color="#b5deec"/><stop offset=".225" stop-color="#e2f2f1"/><stop offset=".825" stop-color="#e9eedc"/><stop offset=".875" stop-color="#d0ebf3"/><stop offset=".95" stop-color="#6095c5"/><stop offset="1" stop-color="#4c7db8"/></linearGradient>
<linearGradient id="w69" gradientUnits="userSpaceOnUse" x1="642.2" x2="786.7"><stop offset="0" stop-color="#9fcfe4"/><stop offset=".125" stop-color="#a2d1e5"/><stop offset=".175" stop-color="#d8eff6"/><stop offset=".225" stop-color="#e9eedb"/><stop offset=".8" stop-color="#eeeccc"/><stop offset=".85" stop-color="#e7efe3"/><stop offset=".9" stop-color="#b5deec"/><stop offset=".95" stop-color="#6ba2cb"/><stop offset="1" stop-color="#5487bd"/></linearGradient>
<linearGradient id="w70" gradientUnits="userSpaceOnUse" x1="643.4" x2="787.9"><stop offset="0" stop-color="#a0d0e4"/><stop offset=".125" stop-color="#a3d2e5"/><stop offset=".175" stop-color="#d9eff6"/><stop offset=".25" stop-color="#ebedd6"/><stop offset=".8" stop-color="#efebca"/><stop offset=".85" stop-color="#e7efe3"/><stop offset=".95" stop-color="#6ca4cc"/><stop offset="1" stop-color="#5689be"/></linearGradient>
<linearGradient id="w71" gradientUnits="userSpaceOnUse" x1="644.5" x2="789.0"><stop offset="0" stop-color="#95c7df"/><stop offset=".1" stop-color="#86bbd9"/><stop offset=".125" stop-color="#8ec2dc"/><stop offset=".15" stop-color="#b5deec"/><stop offset=".225" stop-color="#e0f3f8"/><stop offset=".825" stop-color="#e7efe1"/><stop offset=".875" stop-color="#cfebf3"/><stop offset=".95" stop-color="#5d92c3"/><stop offset="1" stop-color="#4e80ba"/></linearGradient>
<linearGradient id="w72" gradientUnits="userSpaceOnUse" x1="645.6" x2="790.1"><stop offset="0" stop-color="#8abeda"/><stop offset=".1" stop-color="#77afd2"/><stop offset=".125" stop-color="#7eb5d5"/><stop offset=".15" stop-color="#a2d2e5"/><stop offset=".2" stop-color="#c7e7f1"/><stop offset=".25" stop-color="#d7eff5"/><stop offset=".775" stop-color="#d7eff5"/><stop offset=".825" stop-color="#e4f1ed"/><stop offset=".875" stop-color="#cae8f2"/><stop offset=".9" stop-color="#91c4de"/><stop offset=".95" stop-color="#5183bb"/><stop offset="1" stop-color="#4677b5"/></linearGradient>
<linearGradient id="w73" gradientUnits="userSpaceOnUse" x1="646.7" x2="791.2"><stop offset="0" stop-color="#90c3dd"/><stop offset=".1" stop-color="#81b8d7"/><stop offset=".125" stop-color="#8abfdb"/><stop offset=".15" stop-color="#acd9e9"/><stop offset=".2" stop-color="#d2ecf4"/><stop offset=".25" stop-color="#e1f2f4"/><stop offset=".325" stop-color="#dbf0f6"/><stop offset=".825" stop-color="#e6f0e6"/><stop offset=".875" stop-color="#cae8f2"/><stop offset=".95" stop-color="#5d92c3"/><stop offset="1" stop-color="#4a7bb7"/></linearGradient>
<linearGradient id="w74" gradientUnits="userSpaceOnUse" x1="647.8" x2="792.4"><stop offset="0" stop-color="#94c7df"/><stop offset=".125" stop-color="#90c4dd"/><stop offset=".15" stop-color="#b4ddec"/><stop offset=".2" stop-color="#ddf2f7"/><stop offset=".25" stop-color="#e4f1ea"/><stop offset=".825" stop-color="#e6f0e4"/><stop offset=".875" stop-color="#cce9f2"/><stop offset=".95" stop-color="#669cc8"/><stop offset="1" stop-color="#4e7fb9"/></linearGradient>
<linearGradient id="w75" gradientUnits="userSpaceOnUse" x1="649.0" x2="793.5"><stop offset="0" stop-color="#8ec2dc"/><stop offset=".125" stop-color="#87bcd9"/><stop offset=".15" stop-color="#acdae9"/><stop offset=".225" stop-color="#ddf2f7"/><stop offset=".825" stop-color="#e4f1eb"/><stop offset=".875" stop-color="#cae8f2"/><stop offset=".925" stop-color="#76afd2"/><stop offset=".95" stop-color="#5e93c3"/><stop offset="1" stop-color="#4a7bb7"/></linearGradient>
<linearGradient id="w76" gradientUnits="userSpaceOnUse" x1="650.1" x2="794.6"><stop offset="0" stop-color="#92c5de"/><stop offset=".125" stop-color="#93c5de"/><stop offset=".175" stop-color="#cae8f2"/><stop offset=".225" stop-color="#e2f2f2"/><stop offset=".825" stop-color="#e8efde"/><stop offset=".875" stop-color="#ceeaf3"/><stop offset=".95" stop-color="#649ac7"/><stop offset="1" stop-color="#4f81ba"/></linearGradient>
<linearGradient id="w77" gradientUnits="userSpaceOnUse" x1="651.2" x2="795.7"><stop offset="0" stop-color="#95c8e0"/><stop offset=".125" stop-color="#9ecfe3"/><stop offset=".175" stop-color="#d7eff5"/><stop offset=".225" stop-color="#e8eedd"/><stop offset=".775" stop-color="#edeccf"/><stop offset=".825" stop-color="#eaeed8"/><stop offset=".875" stop-color="#d2ecf4"/><stop offset=".95" stop-color="#6da5cd"/><stop offset="1" stop-color="#5487bd"/></linearGradient>
<linearGradient id="w78" gradientUnits="userSpaceOnUse" x1="652.3" x2="796.9"><stop offset="0" stop-color="#8dc1dc"/><stop offset=".025" stop-color="#9dcde3"/><stop offset=".1" stop-color="#92c5de"/><stop offset=".125" stop-color="#9acbe2"/><stop offset=".175" stop-color="#d5edf5"/><stop offset=".225" stop-color="#e7efe2"/><stop offset=".8" stop-color="#ebedd5"/><stop offset=".85" stop-color="#e4f1ea"/><stop offset=".95" stop-color="#6aa1cb"/><stop offset="1" stop-color="#5183bb"/></linearGradient>
<linearGradient id="w79" gradientUnits="userSpaceOnUse" x1="653.5" x2="798.0"><stop offset="0" stop-color="#89beda"/><stop offset=".025" stop-color="#97c9e0"/><stop offset=".1" stop-color="#8ec2dc"/><stop offset=".125" stop-color="#98cae1"/><stop offset=".175" stop-color="#ceeaf3"/><stop offset=".225" stop-color="#e5f0e8"/><stop offset=".8" stop-color="#e9eedb"/><stop offset=".85" stop-color="#e4f1ec"/><stop offset=".95" stop-color="#679ec9"/><stop offset="1" stop-color="#4f81ba"/></linearGradient>
<linearGradient id="w80" gradientUnits="userSpaceOnUse" x1="654.6" x2="799.1"><stop offset="0" stop-color="#89beda"/><stop offset=".025" stop-color="#96c8e0"/><stop offset=".125" stop-color="#9acce2"/><stop offset=".15" stop-color="#bbe1ed"/><stop offset=".225" stop-color="#e7efe2"/><stop offset=".8" stop-color="#eaeeda"/><stop offset=".85" stop-color="#e4f1eb"/><stop offset=".9" stop-color="#b2dceb"/><stop offset=".95" stop-color="#669cc8"/><stop offset="1" stop-color="#5082bb"/></linearGradient>
<linearGradient id="w81" gradientUnits="userSpaceOnUse" x1="655.7" x2="800.2"><stop offset="0" stop-color="#8cc1dc"/><stop offset=".025" stop-color="#9dcee3"/><stop offset=".1" stop-color="#98cae1"/><stop offset=".125" stop-color="#a2d2e5"/><stop offset=".15" stop-color="#c4e5f0"/><stop offset=".2" stop-color="#e4f1eb"/><stop offset=".25" stop-color="#ececd2"/><stop offset=".8" stop-color="#eeeccd"/><stop offset=".85" stop-color="#e7efe2"/><stop offset=".9" stop-color="#b7dfec"/><stop offset=".95" stop-color="#6ca4cc"/><stop offset="1" stop-color="#5487bd"/></linearGradient>
<linearGradient id="w82" gradientUnits="userSpaceOnUse" x1="656.8" x2="801.3"><stop offset="0" stop-color="#8fc3dd"/><stop offset=".025" stop-color="#9ccde2"/><stop offset=".125" stop-color="#a2d2e5"/><stop offset=".175" stop-color="#d8eff6"/><stop offset=".25" stop-color="#ebedd5"/><stop offset=".8" stop-color="#eeebcb"/><stop offset=".875" stop-color="#d9eff6"/><stop offset=".95" stop-color="#6ea6cd"/><stop offset="1" stop-color="#578bbf"/></linearGradient>
<linearGradient id="w83" gradientUnits="userSpaceOnUse" x1="658.0" x2="802.5"><stop offset="0" stop-color="#8abedb"/><stop offset=".125" stop-color="#98cae1"/><stop offset=".175" stop-color="#cfebf3"/><stop offset=".225" stop-color="#e4f1eb"/><stop offset=".775" stop-color="#ecedd2"/><stop offset=".875" stop-color="#d1ecf4"/><stop offset=".95" stop-color="#649ac7"/><stop offset="1" stop-color="#5487bd"/></linearGradient>
<linearGradient id="w84" gradientUnits="userSpaceOnUse" x1="659.1" x2="803.6"><stop offset="0" stop-color="#88bdda"/><stop offset=".125" stop-color="#95c7df"/><stop offset=".175" stop-color="#c7e7f1"/><stop offset=".225" stop-color="#e2f2f1"/><stop offset=".775" stop-color="#e7efe2"/><stop offset=".825" stop-color="#e3f1ed"/><stop offset=".875" stop-color="#cce9f2"/><stop offset=".95" stop-color="#659bc8"/><stop offset="1" stop-color="#5082bb"/></linearGradient>
<linearGradient id="w85" gradientUnits="userSpaceOnUse" x1="660.2" x2="804.7"><stop offset="0" stop-color="#85bad8"/><stop offset=".125" stop-color="#88bdda"/><stop offset=".175" stop-color="#bae0ed"/><stop offset=".225" stop-color="#d3edf4"/><stop offset=".825" stop-color="#e0f3f8"/><stop offset=".875" stop-color="#c4e5f0"/><stop offset=".95" stop-color="#5e92c3"/><stop offset="1" stop-color="#4a7cb7"/></linearGradient>
<linearGradient id="w86" gradientUnits="userSpaceOnUse" x1="661.3" x2="805.8"><stop offset="0" stop-color="#86bbd9"/><stop offset=".125" stop-color="#89beda"/><stop offset=".175" stop-color="#bde2ee"/><stop offset=".225" stop-color="#d3ecf4"/><stop offset=".825" stop-color="#daf0f6"/><stop offset=".875" stop-color="#bfe3ef"/><stop offset=".95" stop-color="#5e93c4"/><stop offset="1" stop-color="#4f81ba"/></linearGradient>
<linearGradient id="w87" gradientUnits="userSpaceOnUse" x1="662.4" x2="807.0"><stop offset="0" stop-color="#8cc0db"/><stop offset=".125" stop-color="#94c6df"/><stop offset=".2" stop-color="#d6eef5"/><stop offset=".25" stop-color="#ddf2f7"/><stop offset=".775" stop-color="#e1f2f3"/><stop offset=".85" stop-color="#d2ecf4"/><stop offset=".9" stop-color="#aad8e8"/><stop offset=".95" stop-color="#689fca"/><stop offset=".975" stop-color="#5689be"/><stop offset="1" stop-color="#5689be"/></linearGradient>
<linearGradient id="w88" gradientUnits="userSpaceOnUse" x1="663.6" x2="808.1"><stop offset="0" stop-color="#89beda"/><stop offset=".125" stop-color="#8cc0dc"/><stop offset=".15" stop-color="#addae9"/><stop offset=".2" stop-color="#cfeaf3"/><stop offset=".25" stop-color="#d7eef5"/><stop offset=".75" stop-color="#dcf1f7"/><stop offset=".85" stop-color="#cdeaf3"/><stop offset=".9" stop-color="#a2d2e5"/><stop offset=".95" stop-color="#649ac7"/><stop offset="1" stop-color="#5386bd"/></linearGradient>
<linearGradient id="w89" gradientUnits="userSpaceOnUse" x1="664.7" x2="809.2"><stop offset="0" stop-color="#81b7d7"/><stop offset=".125" stop-color="#7cb4d5"/><stop offset=".15" stop-color="#9ccde2"/><stop offset=".2" stop-color="#bde2ee"/><stop offset=".25" stop-color="#c6e6f1"/><stop offset=".825" stop-color="#cdeaf3"/><stop offset=".875" stop-color="#b4ddeb"/><stop offset=".95" stop-color="#5a8ec1"/><stop offset="1" stop-color="#4e7fb9"/></linearGradient>
<linearGradient id="w90" gradientUnits="userSpaceOnUse" x1="665.8" x2="810.3"><stop offset="0" stop-color="#80b6d6"/><stop offset=".125" stop-color="#79b1d3"/><stop offset=".175" stop-color="#a9d8e8"/><stop offset=".225" stop-color="#bfe3ef"/><stop offset=".825" stop-color="#cae8f2"/><stop offset=".875" stop-color="#b3ddeb"/><stop offset=".925" stop-color="#689fca"/><stop offset=".95" stop-color="#568abf"/><stop offset="1" stop-color="#4c7db8"/></linearGradient>
<linearGradient id="w91" gradientUnits="userSpaceOnUse" x1="666.9" x2="811.5"><stop offset="0" stop-color="#85bbd8"/><stop offset=".125" stop-color="#86bbd9"/><stop offset=".15" stop-color="#a7d6e7"/><stop offset=".225" stop-color="#cfeaf3"/><stop offset=".8" stop-color="#d5edf5"/><stop offset=".875" stop-color="#bbe1ed"/><stop offset=".95" stop-color="#6095c4"/><stop offset="1" stop-color="#5082bb"/></linearGradient>
<linearGradient id="w92" gradientUnits="userSpaceOnUse" x1="668.1" x2="812.6"><stop offset="0" stop-color="#7ab2d4"/><stop offset=".125" stop-color="#7fb6d6"/><stop offset=".15" stop-color="#a2d2e5"/><stop offset=".225" stop-color="#c8e7f1"/><stop offset=".825" stop-color="#d0ebf3"/><stop offset=".875" stop-color="#b7dfec"/><stop offset=".95" stop-color="#5a8ec1"/><stop offset="1" stop-color="#4e7fb9"/></linearGradient>
<linearGradient id="w93" gradientUnits="userSpaceOnUse" x1="669.2" x2="813.7"><stop offset="0" stop-color="#70a8ce"/><stop offset=".125" stop-color="#7cb3d4"/><stop offset=".15" stop-color="#9acbe1"/><stop offset=".225" stop-color="#c4e5f0"/><stop offset=".825" stop-color="#cdeaf3"/><stop offset=".875" stop-color="#b1dceb"/><stop offset=".95" stop-color="#578abf"/><stop offset="1" stop-color="#497ab7"/></linearGradient>
<linearGradient id="w94" gradientUnits="userSpaceOnUse" x1="670.3" x2="814.8"><stop offset="0" stop-color="#6ea5cd"/><stop offset=".05" stop-color="#86bcd9"/><stop offset=".125" stop-color="#8abeda"/><stop offset=".15" stop-color="#a7d6e7"/><stop offset=".225" stop-color="#d4edf5"/><stop offset=".35" stop-color="#cdeaf3"/><stop offset=".65" stop-color="#dbf1f7"/><stop offset=".85" stop-color="#cce9f2"/><stop offset=".95" stop-color="#6196c5"/><stop offset="1" stop-color="#4e80ba"/></linearGradient>
<linearGradient id="w95" gradientUnits="userSpaceOnUse" x1="671.4" x2="815.9"><stop offset="0" stop-color="#6398c6"/><stop offset=".025" stop-color="#76aed2"/><stop offset=".125" stop-color="#85bbd9"/><stop offset=".15" stop-color="#a1d1e5"/><stop offset=".225" stop-color="#ceeaf3"/><stop offset=".725" stop-color="#d3ecf4"/><stop offset=".85" stop-color="#c8e7f1"/><stop offset=".875" stop-color="#b9e0ed"/><stop offset=".95" stop-color="#5d92c3"/><stop offset="1" stop-color="#4c7eb8"/></linearGradient>
<linearGradient id="w96" gradientUnits="userSpaceOnUse" x1="672.6" x2="817.1"><stop offset="0" stop-color="#5d91c3"/><stop offset=".025" stop-color="#74add1"/><stop offset=".125" stop-color="#84bad8"/><stop offset=".15" stop-color="#a3d3e6"/><stop offset=".225" stop-color="#d0ebf3"/><stop offset=".725" stop-color="#d5eef5"/><stop offset=".85" stop-color="#cae8f2"/><stop offset=".875" stop-color="#bbe1ed"/><stop offset=".95" stop-color="#6298c6"/><stop offset="1" stop-color="#4e80ba"/></linearGradient>
<linearGradient id="w97" gradientUnits="userSpaceOnUse" x1="673.7" x2="818.2"><stop offset="0" stop-color="#5c91c2"/><stop offset=".025" stop-color="#7bb3d4"/><stop offset=".125" stop-color="#8abfdb"/><stop offset=".15" stop-color="#aedaea"/><stop offset=".225" stop-color="#d7eef5"/><stop offset=".65" stop-color="#dff2f8"/><stop offset=".85" stop-color="#ceeaf3"/><stop offset=".9" stop-color="#a5d4e6"/><stop offset=".95" stop-color="#6aa1cb"/><stop offset="1" stop-color="#5689be"/></linearGradient>
<linearGradient id="w98" gradientUnits="userSpaceOnUse" x1="674.8" x2="819.3"><stop offset="0" stop-color="#568abf"/><stop offset=".025" stop-color="#70a9cf"/><stop offset=".125" stop-color="#82b8d7"/><stop offset=".15" stop-color="#a4d4e6"/><stop offset=".225" stop-color="#cce9f2"/><stop offset=".675" stop-color="#d7eff5"/><stop offset=".85" stop-color="#c9e7f1"/><stop offset=".95" stop-color="#6398c6"/><stop offset="1" stop-color="#5183bb"/></linearGradient>
<linearGradient id="w99" gradientUnits="userSpaceOnUse" x1="675.9" x2="820.4"><stop offset="0" stop-color="#5588be"/><stop offset=".025" stop-color="#6da5cd"/><stop offset=".125" stop-color="#82b8d7"/><stop offset=".2" stop-color="#c4e5f0"/><stop offset=".25" stop-color="#d1ecf4"/><stop offset=".675" stop-color="#d6eef5"/><stop offset=".85" stop-color="#c9e8f1"/><stop offset=".95" stop-color="#5f94c4"/><stop offset="1" stop-color="#5082bb"/></linearGradient>
<linearGradient id="w100" gradientUnits="userSpaceOnUse" x1="677.0" x2="821.6"><stop offset="0" stop-color="#598dc1"/><stop offset=".025" stop-color="#72abd0"/><stop offset=".1" stop-color="#7fb6d6"/><stop offset=".2" stop-color="#c7e7f1"/><stop offset=".25" stop-color="#d3edf4"/><stop offset=".725" stop-color="#dbf1f7"/><stop offset=".85" stop-color="#cae8f2"/><stop offset=".875" stop-color="#bae0ed"/><stop offset=".95" stop-color="#6298c6"/><stop offset="1" stop-color="#5184bc"/></linearGradient>
<linearGradient id="w101" gradientUnits="userSpaceOnUse" x1="678.2" x2="822.7"><stop offset="0" stop-color="#5b8fc2"/><stop offset=".025" stop-color="#75add1"/><stop offset=".125" stop-color="#87bcd9"/><stop offset=".175" stop-color="#bae0ed"/><stop offset=".25" stop-color="#d1ecf4"/><stop offset=".725" stop-color="#daf0f6"/><stop offset=".85" stop-color="#c9e8f1"/><stop offset=".875" stop-color="#b9e0ed"/><stop offset=".95" stop-color="#659bc8"/><stop offset="1" stop-color="#5183bb"/></linearGradient>
<linearGradient id="w102" gradientUnits="userSpaceOnUse" x1="679.3" x2="823.8"><stop offset="0" stop-color="#5d92c3"/><stop offset=".025" stop-color="#79b1d3"/><stop offset=".125" stop-color="#86bcd9"/><stop offset=".175" stop-color="#bbe1ee"/><stop offset=".225" stop-color="#d0ebf3"/><stop offset=".75" stop-color="#daf0f6"/><stop offset=".85" stop-color="#cbe9f2"/><stop offset=".875" stop-color="#bbe1ed"/><stop offset=".95" stop-color="#689ec9"/><stop offset="1" stop-color="#5183bb"/></linearGradient>
<linearGradient id="w103" gradientUnits="userSpaceOnUse" x1="680.4" x2="824.9"><stop offset="0" stop-color="#5e93c3"/><stop offset=".025" stop-color="#75aed2"/><stop offset=".125" stop-color="#87bcd9"/><stop offset=".175" stop-color="#b8dfed"/><stop offset=".225" stop-color="#ceeaf3"/><stop offset=".75" stop-color="#d7eef5"/><stop offset=".85" stop-color="#c8e7f1"/><stop offset=".875" stop-color="#bae0ed"/><stop offset=".95" stop-color="#6196c5"/><stop offset="1" stop-color="#4c7db8"/></linearGradient>
<linearGradient id="w104" gradientUnits="userSpaceOnUse" x1="681.5" x2="826.1"><stop offset="0" stop-color="#6196c5"/><stop offset=".05" stop-color="#75aed1"/><stop offset=".125" stop-color="#7eb5d5"/><stop offset=".175" stop-color="#b3ddeb"/><stop offset=".225" stop-color="#c8e7f1"/><stop offset=".825" stop-color="#cfebf3"/><stop offset=".875" stop-color="#b3ddeb"/><stop offset=".95" stop-color="#598cc0"/><stop offset="1" stop-color="#4c7db8"/></linearGradient>
<linearGradient id="w105" gradientUnits="userSpaceOnUse" x1="682.7" x2="827.2"><stop offset="0" stop-color="#659bc8"/><stop offset=".05" stop-color="#7eb5d5"/><stop offset=".125" stop-color="#87bcd9"/><stop offset=".15" stop-color="#a9d7e8"/><stop offset=".225" stop-color="#ceeaf3"/><stop offset=".675" stop-color="#d8eff6"/><stop offset=".85" stop-color="#cbe9f2"/><stop offset=".95" stop-color="#6197c5"/><stop offset="1" stop-color="#5183bb"/></linearGradient>
<linearGradient id="w106" gradientUnits="userSpaceOnUse" x1="683.8" x2="828.3"><stop offset="0" stop-color="#669dc8"/><stop offset=".025" stop-color="#7ab2d4"/><stop offset=".125" stop-color="#87bcd9"/><stop offset=".175" stop-color="#bbe1ee"/><stop offset=".225" stop-color="#cdeaf3"/><stop offset=".675" stop-color="#dcf1f7"/><stop offset=".85" stop-color="#cae8f2"/><stop offset=".875" stop-color="#b9e0ed"/><stop offset=".95" stop-color="#649ac7"/><stop offset="1" stop-color="#5183bb"/></linearGradient>
<linearGradient id="w107" gradientUnits="userSpaceOnUse" x1="684.9" x2="829.4"><stop offset="0" stop-color="#669dc9"/><stop offset=".125" stop-color="#7eb5d5"/><stop offset=".2" stop-color="#c2e4f0"/><stop offset=".275" stop-color="#cce9f2"/><stop offset=".775" stop-color="#d1ecf4"/><stop offset=".825" stop-color="#ceeaf3"/><stop offset=".875" stop-color="#b7dfec"/><stop offset=".95" stop-color="#5c91c2"/><stop offset="1" stop-color="#4c7eb9"/></linearGradient>
<linearGradient id="w108" gradientUnits="userSpaceOnUse" x1="686.0" x2="830.5"><stop offset="0" stop-color="#6aa1cb"/><stop offset=".025" stop-color="#78b0d3"/><stop offset=".125" stop-color="#87bcd9"/><stop offset=".175" stop-color="#b7dfec"/><stop offset=".25" stop-color="#d1ecf4"/><stop offset=".325" stop-color="#c8e7f1"/><stop offset=".775" stop-color="#d3edf4"/><stop offset=".825" stop-color="#cfebf3"/><stop offset=".875" stop-color="#b9e0ed"/><stop offset=".95" stop-color="#5e93c3"/><stop offset="1" stop-color="#4f80ba"/></linearGradient>
<linearGradient id="w109" gradientUnits="userSpaceOnUse" x1="687.2" x2="831.7"><stop offset="0" stop-color="#6ea5cd"/><stop offset=".025" stop-color="#87bcd9"/><stop offset=".125" stop-color="#92c5de"/><stop offset=".175" stop-color="#c0e3ef"/><stop offset=".25" stop-color="#dcf1f7"/><stop offset=".775" stop-color="#e0f3f8"/><stop offset=".85" stop-color="#cfeaf3"/><stop offset=".9" stop-color="#aad8e9"/><stop offset=".95" stop-color="#6ba2cb"/><stop offset="1" stop-color="#5487bd"/></linearGradient>
<linearGradient id="w110" gradientUnits="userSpaceOnUse" x1="688.3" x2="832.8"><stop offset="0" stop-color="#6da4cd"/><stop offset=".025" stop-color="#82b8d7"/><stop offset=".125" stop-color="#89beda"/><stop offset=".175" stop-color="#b8dfed"/><stop offset=".25" stop-color="#d1ecf4"/><stop offset=".775" stop-color="#daf0f6"/><stop offset=".85" stop-color="#ceeaf3"/><stop offset=".9" stop-color="#a2d2e5"/><stop offset=".925" stop-color="#7cb3d4"/><stop offset="1" stop-color="#4f81ba"/></linearGradient>
<linearGradient id="w111" gradientUnits="userSpaceOnUse" x1="689.4" x2="833.9"><stop offset="0" stop-color="#6ca4cc"/><stop offset=".125" stop-color="#7cb3d4"/><stop offset=".175" stop-color="#aad9e9"/><stop offset=".25" stop-color="#c4e5f0"/><stop offset=".825" stop-color="#cce9f2"/><stop offset=".85" stop-color="#c9e8f1"/><stop offset=".875" stop-color="#b5deec"/><stop offset=".925" stop-color="#6da5cd"/><stop offset=".95" stop-color="#588bc0"/><stop offset="1" stop-color="#4879b6"/></linearGradient>
<linearGradient id="w112" gradientUnits="userSpaceOnUse" x1="690.5" x2="835.0"><stop offset="0" stop-color="#6ca3cc"/><stop offset=".025" stop-color="#77b0d3"/><stop offset=".125" stop-color="#7eb5d5"/><stop offset=".175" stop-color="#afdbea"/><stop offset=".25" stop-color="#c6e6f1"/><stop offset=".7" stop-color="#d0ebf4"/><stop offset=".75" stop-color="#c5e6f0"/><stop offset=".85" stop-color="#c8e7f1"/><stop offset=".875" stop-color="#b8dfed"/><stop offset=".95" stop-color="#588bbf"/><stop offset="1" stop-color="#4a7bb7"/></linearGradient>
<linearGradient id="w113" gradientUnits="userSpaceOnUse" x1="691.7" x2="836.2"><stop offset="0" stop-color="#69a0ca"/><stop offset=".025" stop-color="#7eb5d5"/><stop offset=".125" stop-color="#83b9d8"/><stop offset=".175" stop-color="#b6deec"/><stop offset=".225" stop-color="#cbe9f2"/><stop offset=".45" stop-color="#c7e7f1"/><stop offset=".7" stop-color="#d5eef5"/><stop offset=".85" stop-color="#c9e8f2"/><stop offset=".875" stop-color="#b8dfed"/><stop offset=".95" stop-color="#6095c5"/><stop offset="1" stop-color="#4d7eb9"/></linearGradient>
<linearGradient id="w114" gradientUnits="userSpaceOnUse" x1="692.8" x2="837.3"><stop offset="0" stop-color="#689fca"/><stop offset=".05" stop-color="#7cb4d5"/><stop offset=".125" stop-color="#82b8d7"/><stop offset=".175" stop-color="#b3ddeb"/><stop offset=".225" stop-color="#cdeaf3"/><stop offset=".75" stop-color="#d1ecf4"/><stop offset=".85" stop-color="#c8e7f1"/><stop offset=".875" stop-color="#b8dfed"/><stop offset=".95" stop-color="#5f94c4"/><stop offset="1" stop-color="#4d7eb9"/></linearGradient>
<linearGradient id="w115" gradientUnits="userSpaceOnUse" x1="693.9" x2="838.4"><stop offset="0" stop-color="#689fca"/><stop offset=".05" stop-color="#81b7d6"/><stop offset=".125" stop-color="#86bbd9"/><stop offset=".15" stop-color="#a8d6e7"/><stop offset=".225" stop-color="#d5edf5"/><stop offset=".425" stop-color="#ceeaf3"/><stop offset=".75" stop-color="#dcf1f7"/><stop offset=".875" stop-color="#bee2ee"/><stop offset=".95" stop-color="#6499c7"/><stop offset="1" stop-color="#5487bd"/></linearGradient>
<linearGradient id="w116" gradientUnits="userSpaceOnUse" x1="695.0" x2="839.5"><stop offset="0" stop-color="#6197c6"/><stop offset=".025" stop-color="#77afd2"/><stop offset=".125" stop-color="#82b8d7"/><stop offset=".15" stop-color="#a4d3e6"/><stop offset=".225" stop-color="#cce9f2"/><stop offset=".825" stop-color="#d4edf5"/><stop offset=".875" stop-color="#bae0ed"/><stop offset=".95" stop-color="#6297c6"/><stop offset="1" stop-color="#4f81ba"/></linearGradient>
<linearGradient id="w117" gradientUnits="userSpaceOnUse" x1="696.1" x2="840.7"><stop offset="0" stop-color="#6095c5"/><stop offset=".025" stop-color="#74add1"/><stop offset=".125" stop-color="#84bad8"/><stop offset=".15" stop-color="#a0d0e4"/><stop offset=".225" stop-color="#cbe9f2"/><stop offset=".65" stop-color="#d5edf5"/><stop offset=".85" stop-color="#c7e7f1"/><stop offset=".875" stop-color="#b6deec"/><stop offset=".95" stop-color="#5e93c3"/><stop offset="1" stop-color="#4c7db8"/></linearGradient>
<linearGradient id="w118" gradientUnits="userSpaceOnUse" x1="697.3" x2="841.8"><stop offset="0" stop-color="#6298c6"/><stop offset=".025" stop-color="#72aad0"/><stop offset=".125" stop-color="#82b9d7"/><stop offset=".15" stop-color="#9ecfe3"/><stop offset=".225" stop-color="#c7e7f1"/><stop offset=".425" stop-color="#c3e5f0"/><stop offset=".65" stop-color="#d1ecf4"/><stop offset=".85" stop-color="#c5e6f0"/><stop offset=".95" stop-color="#5c90c2"/><stop offset="1" stop-color="#4d7eb9"/></linearGradient>
<linearGradient id="w119" gradientUnits="userSpaceOnUse" x1="698.4" x2="842.9"><stop offset="0" stop-color="#6095c5"/><stop offset=".125" stop-color="#75aed1"/><stop offset=".15" stop-color="#94c7df"/><stop offset=".225" stop-color="#b8e0ed"/><stop offset=".825" stop-color="#c2e4f0"/><stop offset=".875" stop-color="#a9d8e8"/><stop offset=".95" stop-color="#578bbf"/><stop offset="1" stop-color="#4979b6"/></linearGradient>
<linearGradient id="w120" gradientUnits="userSpaceOnUse" x1="699.5" x2="844.0"><stop offset="0" stop-color="#659bc8"/><stop offset=".05" stop-color="#7bb3d4"/><stop offset=".125" stop-color="#7db4d5"/><stop offset=".15" stop-color="#9ecfe3"/><stop offset=".225" stop-color="#bee2ee"/><stop offset=".825" stop-color="#c5e6f0"/><stop offset=".875" stop-color="#addaea"/><stop offset=".95" stop-color="#6095c4"/><stop offset="1" stop-color="#4d7fb9"/></linearGradient>
<linearGradient id="w121" gradientUnits="userSpaceOnUse" x1="700.6" x2="845.2"><stop offset="0" stop-color="#6da5cd"/><stop offset=".025" stop-color="#7db5d5"/><stop offset=".125" stop-color="#88bdda"/><stop offset=".15" stop-color="#a6d5e7"/><stop offset=".225" stop-color="#c4e5f0"/><stop offset=".8" stop-color="#cce9f2"/><stop offset=".85" stop-color="#c1e4ef"/><stop offset=".95" stop-color="#6399c7"/><stop offset="1" stop-color="#5083bb"/></linearGradient>
<linearGradient id="w122" gradientUnits="userSpaceOnUse" x1="701.8" x2="846.3"><stop offset="0" stop-color="#71aacf"/><stop offset=".025" stop-color="#7fb5d6"/><stop offset=".125" stop-color="#88bdda"/><stop offset=".15" stop-color="#a2d2e5"/><stop offset=".225" stop-color="#c4e5f0"/><stop offset=".75" stop-color="#cbe9f2"/><stop offset=".85" stop-color="#bce1ee"/><stop offset=".875" stop-color="#afdbea"/><stop offset=".95" stop-color="#6399c7"/><stop offset="1" stop-color="#5183bb"/></linearGradient>
<linearGradient id="w123" gradientUnits="userSpaceOnUse" x1="702.9" x2="847.4"><stop offset="0" stop-color="#6da5cd"/><stop offset=".025" stop-color="#7ab2d4"/><stop offset=".125" stop-color="#83b9d7"/><stop offset=".15" stop-color="#9bcce2"/><stop offset=".225" stop-color="#c0e3ef"/><stop offset=".5" stop-color="#bae0ed"/><stop offset=".7" stop-color="#c5e6f0"/><stop offset=".8" stop-color="#c1e4ef"/><stop offset=".875" stop-color="#addae9"/><stop offset=".95" stop-color="#6095c5"/><stop offset="1" stop-color="#5082ba"/></linearGradient>
<linearGradient id="w124" gradientUnits="userSpaceOnUse" x1="704.0" x2="848.5"><stop offset="0" stop-color="#669dc9"/><stop offset=".025" stop-color="#76aed2"/><stop offset=".125" stop-color="#80b7d6"/><stop offset=".15" stop-color="#98cae1"/><stop offset=".225" stop-color="#bae0ed"/><stop offset=".3" stop-color="#b2ddeb"/><stop offset=".775" stop-color="#bee2ee"/><stop offset=".875" stop-color="#a8d6e8"/><stop offset=".95" stop-color="#5c90c2"/><stop offset="1" stop-color="#4e7fb9"/></linearGradient>
<linearGradient id="w125" gradientUnits="userSpaceOnUse" x1="705.1" x2="849.6"><stop offset="0" stop-color="#6399c7"/><stop offset=".025" stop-color="#73acd1"/><stop offset=".125" stop-color="#7cb3d4"/><stop offset=".15" stop-color="#98cae1"/><stop offset=".225" stop-color="#b7dfec"/><stop offset=".775" stop-color="#bbe1ee"/><stop offset=".85" stop-color="#b4ddeb"/><stop offset=".95" stop-color="#5c91c2"/><stop offset="1" stop-color="#4f81ba"/></linearGradient>
<linearGradient id="w126" gradientUnits="userSpaceOnUse" x1="706.3" x2="850.8"><stop offset="0" stop-color="#6096c5"/><stop offset=".025" stop-color="#72abd0"/><stop offset=".125" stop-color="#78b1d3"/><stop offset=".15" stop-color="#97c9e0"/><stop offset=".225" stop-color="#b7dfec"/><stop offset=".65" stop-color="#c1e4ef"/><stop offset=".85" stop-color="#b6deec"/><stop offset=".875" stop-color="#a8d7e8"/><stop offset=".95" stop-color="#5c90c2"/><stop offset="1" stop-color="#5083bb"/></linearGradient>
<linearGradient id="w127" gradientUnits="userSpaceOnUse" x1="707.4" x2="851.9"><stop offset="0" stop-color="#5e93c3"/><stop offset=".025" stop-color="#70a8ce"/><stop offset=".125" stop-color="#79b1d3"/><stop offset=".175" stop-color="#a5d4e6"/><stop offset=".225" stop-color="#b5deec"/><stop offset=".65" stop-color="#c1e4ef"/><stop offset=".85" stop-color="#b4ddec"/><stop offset=".875" stop-color="#a6d5e7"/><stop offset=".95" stop-color="#5b8fc2"/><stop offset="1" stop-color="#4c7db8"/></linearGradient>
<linearGradient id="w128" gradientUnits="userSpaceOnUse" x1="708.5" x2="853.0"><stop offset="0" stop-color="#5c91c2"/><stop offset=".025" stop-color="#6ea6cd"/><stop offset=".1" stop-color="#72abd0"/><stop offset=".225" stop-color="#b5deec"/><stop offset=".7" stop-color="#bde2ee"/><stop offset=".85" stop-color="#b5deec"/><stop offset=".95" stop-color="#5b90c2"/><stop offset="1" stop-color="#497ab6"/></linearGradient>
<linearGradient id="w129" gradientUnits="userSpaceOnUse" x1="709.6" x2="854.1"><stop offset="0" stop-color="#5e93c3"/><stop offset=".025" stop-color="#70a9cf"/><stop offset=".125" stop-color="#81b7d7"/><stop offset=".15" stop-color="#97c9e0"/><stop offset=".225" stop-color="#b8dfed"/><stop offset=".75" stop-color="#bfe3ef"/><stop offset=".85" stop-color="#b6deec"/><stop offset=".95" stop-color="#5a8ec1"/><stop offset="1" stop-color="#4d7fb9"/></linearGradient>
<linearGradient id="w130" gradientUnits="userSpaceOnUse" x1="710.7" x2="855.3"><stop offset="0" stop-color="#5c91c2"/><stop offset=".025" stop-color="#6fa7ce"/><stop offset=".125" stop-color="#7eb5d6"/><stop offset=".225" stop-color="#b6dfec"/><stop offset=".8" stop-color="#bfe3ef"/><stop offset=".875" stop-color="#a5d4e6"/><stop offset=".95" stop-color="#588cc0"/><stop offset="1" stop-color="#4e80ba"/></linearGradient>
<linearGradient id="w131" gradientUnits="userSpaceOnUse" x1="711.9" x2="856.4"><stop offset="0" stop-color="#5d91c3"/><stop offset=".025" stop-color="#6fa7ce"/><stop offset=".125" stop-color="#7db4d5"/><stop offset=".225" stop-color="#bbe1ee"/><stop offset=".7" stop-color="#c2e4ef"/><stop offset=".85" stop-color="#b5deec"/><stop offset=".95" stop-color="#5c90c2"/><stop offset="1" stop-color="#4d7fb9"/></linearGradient>
<linearGradient id="w132" gradientUnits="userSpaceOnUse" x1="713.0" x2="857.5"><stop offset="0" stop-color="#5f94c4"/><stop offset=".025" stop-color="#72abd0"/><stop offset=".125" stop-color="#7eb5d5"/><stop offset=".175" stop-color="#a8d7e8"/><stop offset=".225" stop-color="#bfe3ef"/><stop offset=".725" stop-color="#c3e5f0"/><stop offset=".85" stop-color="#b6deec"/><stop offset=".9" stop-color="#94c7df"/><stop offset=".95" stop-color="#5d92c3"/><stop offset="1" stop-color="#4d7fb9"/></linearGradient>
<linearGradient id="w133" gradientUnits="userSpaceOnUse" x1="714.1" x2="858.6"><stop offset="0" stop-color="#588bc0"/><stop offset=".025" stop-color="#72abd0"/><stop offset=".125" stop-color="#86bcd9"/><stop offset=".2" stop-color="#bee2ee"/><stop offset=".225" stop-color="#c3e5f0"/><stop offset=".75" stop-color="#c9e8f2"/><stop offset=".8" stop-color="#c8e7f1"/><stop offset=".875" stop-color="#acd9e9"/><stop offset=".95" stop-color="#6297c6"/><stop offset="1" stop-color="#5183bb"/></linearGradient>
<linearGradient id="w134" gradientUnits="userSpaceOnUse" x1="715.2" x2="859.8"><stop offset="0" stop-color="#4f81ba"/><stop offset=".05" stop-color="#77afd2"/><stop offset=".125" stop-color="#84bad8"/><stop offset=".15" stop-color="#9ecfe3"/><stop offset=".225" stop-color="#c1e4ef"/><stop offset=".6" stop-color="#c9e7f1"/><stop offset=".825" stop-color="#c2e4f0"/><stop offset=".9" stop-color="#99cae1"/><stop offset=".95" stop-color="#6196c5"/><stop offset="1" stop-color="#5284bc"/></linearGradient>
<linearGradient id="w135" gradientUnits="userSpaceOnUse" x1="716.4" x2="860.9"><stop offset="0" stop-color="#497ab7"/><stop offset=".05" stop-color="#69a0ca"/><stop offset=".125" stop-color="#73acd1"/><stop offset=".15" stop-color="#94c7df"/><stop offset=".225" stop-color="#b6deec"/><stop offset=".75" stop-color="#bde2ee"/><stop offset=".85" stop-color="#b3ddeb"/><stop offset=".95" stop-color="#578abf"/><stop offset="1" stop-color="#4c7db8"/></linearGradient>
<linearGradient id="w136" gradientUnits="userSpaceOnUse" x1="717.5" x2="862.0"><stop offset="0" stop-color="#4676b5"/><stop offset=".05" stop-color="#649ac7"/><stop offset=".125" stop-color="#70a8ce"/><stop offset=".15" stop-color="#8dc1dc"/><stop offset=".225" stop-color="#b0dbea"/><stop offset=".7" stop-color="#b9e0ed"/><stop offset=".85" stop-color="#b3ddeb"/><stop offset=".95" stop-color="#578abf"/><stop offset="1" stop-color="#4a7bb7"/></linearGradient>
<linearGradient id="w137" gradientUnits="userSpaceOnUse" x1="718.6" x2="863.1"><stop offset="0" stop-color="#4879b6"/><stop offset=".025" stop-color="#5e92c3"/><stop offset=".125" stop-color="#78b0d3"/><stop offset=".175" stop-color="#9ecfe4"/><stop offset=".25" stop-color="#b6deec"/><stop offset=".625" stop-color="#bde2ee"/><stop offset=".85" stop-color="#b6deec"/><stop offset=".95" stop-color="#5b90c2"/><stop offset="1" stop-color="#4d7eb9"/></linearGradient>
<linearGradient id="w138" gradientUnits="userSpaceOnUse" x1="719.7" x2="864.2"><stop offset="0" stop-color="#4f81ba"/><stop offset=".05" stop-color="#6fa7ce"/><stop offset=".1" stop-color="#77afd2"/><stop offset=".15" stop-color="#9acce2"/><stop offset=".225" stop-color="#bae0ed"/><stop offset=".675" stop-color="#c3e5f0"/><stop offset=".85" stop-color="#b6deec"/><stop offset=".95" stop-color="#5f94c4"/><stop offset="1" stop-color="#5183bb"/></linearGradient>
<linearGradient id="w139" gradientUnits="userSpaceOnUse" x1="720.9" x2="865.4"><stop offset="0" stop-color="#5285bc"/><stop offset=".05" stop-color="#70a8cf"/><stop offset=".125" stop-color="#7db4d5"/><stop offset=".225" stop-color="#bce1ee"/><stop offset=".675" stop-color="#c1e4ef"/><stop offset=".85" stop-color="#b3ddeb"/><stop offset=".875" stop-color="#a8d7e8"/><stop offset=".95" stop-color="#5d92c3"/><stop offset="1" stop-color="#5082bb"/></linearGradient>
<linearGradient id="w140" gradientUnits="userSpaceOnUse" x1="722.0" x2="866.5"><stop offset="0" stop-color="#5487bd"/><stop offset=".05" stop-color="#70a8ce"/><stop offset=".125" stop-color="#76afd2"/><stop offset=".15" stop-color="#92c5de"/><stop offset=".225" stop-color="#b7dfec"/><stop offset=".625" stop-color="#c0e3ef"/><stop offset=".85" stop-color="#b2ddeb"/><stop offset=".875" stop-color="#a5d4e6"/><stop offset=".95" stop-color="#5b8fc2"/><stop offset="1" stop-color="#4d7fb9"/></linearGradient>
<linearGradient id="w141" gradientUnits="userSpaceOnUse" x1="723.1" x2="867.6"><stop offset="0" stop-color="#588cc0"/><stop offset=".025" stop-color="#70a8ce"/><stop offset=".125" stop-color="#82b8d7"/><stop offset=".15" stop-color="#a0d0e4"/><stop offset=".225" stop-color="#bde2ee"/><stop offset=".675" stop-color="#c8e7f1"/><stop offset=".85" stop-color="#b6deec"/><stop offset=".95" stop-color="#6297c6"/><stop offset="1" stop-color="#5082bb"/></linearGradient>
<linearGradient id="w142" gradientUnits="userSpaceOnUse" x1="724.2" x2="868.7"><stop offset="0" stop-color="#5386bd"/><stop offset=".025" stop-color="#6297c6"/><stop offset=".125" stop-color="#71aacf"/><stop offset=".15" stop-color="#8ec2dc"/><stop offset=".25" stop-color="#b3ddeb"/><stop offset=".775" stop-color="#b5deec"/><stop offset=".85" stop-color="#addae9"/><stop offset=".95" stop-color="#5689be"/><stop offset="1" stop-color="#4b7cb8"/></linearGradient>
<linearGradient id="w143" gradientUnits="userSpaceOnUse" x1="725.3" x2="869.9"><stop offset="0" stop-color="#4c7eb8"/><stop offset=".125" stop-color="#6298c6"/><stop offset=".225" stop-color="#a1d1e5"/><stop offset=".625" stop-color="#a6d5e7"/><stop offset=".8" stop-color="#9bcce2"/><stop offset=".825" stop-color="#a5d4e6"/><stop offset=".875" stop-color="#8fc2dd"/><stop offset=".95" stop-color="#497ab7"/><stop offset="1" stop-color="#4878b6"/></linearGradient>
<linearGradient id="w144" gradientUnits="userSpaceOnUse" x1="726.5" x2="871.0"><stop offset="0" stop-color="#4c7eb9"/><stop offset=".125" stop-color="#6da5cd"/><stop offset=".225" stop-color="#aedbea"/><stop offset=".45" stop-color="#b5deec"/><stop offset=".825" stop-color="#a1d1e5"/><stop offset=".875" stop-color="#8cc0db"/><stop offset=".95" stop-color="#5284bc"/><stop offset="1" stop-color="#5082bb"/></linearGradient>
<linearGradient id="w145" gradientUnits="userSpaceOnUse" x1="727.6" x2="872.1"><stop offset="0" stop-color="#497ab7"/><stop offset=".025" stop-color="#5b8fc1"/><stop offset=".125" stop-color="#6da4cc"/><stop offset=".225" stop-color="#aedaea"/><stop offset=".45" stop-color="#b8dfed"/><stop offset=".575" stop-color="#b7dfed"/><stop offset=".8" stop-color="#9ecfe3"/><stop offset=".875" stop-color="#86bbd9"/><stop offset=".95" stop-color="#578abf"/><stop offset="1" stop-color="#5486bd"/></linearGradient>
<linearGradient id="w146" gradientUnits="userSpaceOnUse" x1="728.7" x2="873.2"><stop offset="0" stop-color="#436fb1"/><stop offset=".025" stop-color="#5689bf"/><stop offset=".125" stop-color="#69a0ca"/><stop offset=".25" stop-color="#b1dceb"/><stop offset=".65" stop-color="#aad8e9"/><stop offset=".725" stop-color="#94c7df"/><stop offset=".8" stop-color="#93c6df"/><stop offset=".875" stop-color="#7bb3d4"/><stop offset=".925" stop-color="#5b8fc1"/><stop offset="1" stop-color="#5386bd"/></linearGradient>
<linearGradient id="w147" gradientUnits="userSpaceOnUse" x1="729.8" x2="874.4"><stop offset="0" stop-color="#3d5da8"/><stop offset=".025" stop-color="#4b7cb8"/><stop offset=".125" stop-color="#6095c5"/><stop offset=".25" stop-color="#a2d1e5"/><stop offset=".475" stop-color="#b0dcea"/><stop offset=".65" stop-color="#9ecfe3"/><stop offset=".7" stop-color="#85bbd9"/><stop offset=".875" stop-color="#69a0ca"/><stop offset=".925" stop-color="#5285bc"/><stop offset="1" stop-color="#5183bb"/></linearGradient>
<linearGradient id="w148" gradientUnits="userSpaceOnUse" x1="731.0" x2="875.5"><stop offset="0" stop-color="#3a53a3"/><stop offset=".05" stop-color="#4f81ba"/><stop offset=".125" stop-color="#598dc0"/><stop offset=".175" stop-color="#6fa8ce"/><stop offset=".225" stop-color="#9acce2"/><stop offset=".475" stop-color="#aedbea"/><stop offset=".6" stop-color="#a1d1e5"/><stop offset=".9" stop-color="#5082bb"/><stop offset="1" stop-color="#5385bc"/></linearGradient>
<linearGradient id="w149" gradientUnits="userSpaceOnUse" x1="732.1" x2="876.6"><stop offset="0" stop-color="#3a51a2"/><stop offset=".05" stop-color="#4d7fb9"/><stop offset=".15" stop-color="#5c90c2"/><stop offset=".225" stop-color="#9dcee3"/><stop offset=".425" stop-color="#addaea"/><stop offset=".6" stop-color="#a3d3e6"/><stop offset=".7" stop-color="#70a8ce"/><stop offset=".775" stop-color="#6ca3cc"/><stop offset=".85" stop-color="#497ab6"/><stop offset=".95" stop-color="#4575b4"/><stop offset="1" stop-color="#578bbf"/></linearGradient>
<linearGradient id="wfr" gradientUnits="userSpaceOnUse" x1="565" x2="877"><stop offset="0.000" stop-color="#659bc8"/><stop offset="0.038" stop-color="#94c7df"/><stop offset="0.077" stop-color="#cfebf3"/><stop offset="0.115" stop-color="#eeecce"/><stop offset="0.154" stop-color="#eeeccc"/><stop offset="0.192" stop-color="#f0eac6"/><stop offset="0.231" stop-color="#f0ebc7"/><stop offset="0.269" stop-color="#f0ebc8"/><stop offset="0.308" stop-color="#f2e9c2"/><stop offset="0.346" stop-color="#f2e9c1"/><stop offset="0.385" stop-color="#efebc8"/><stop offset="0.423" stop-color="#eaedd7"/><stop offset="0.462" stop-color="#f5e7ba"/><stop offset="0.500" stop-color="#f4e8bc"/><stop offset="0.538" stop-color="#f1eac4"/><stop offset="0.577" stop-color="#f1eac5"/><stop offset="0.615" stop-color="#f2e9c1"/><stop offset="0.654" stop-color="#eeeccd"/><stop offset="0.692" stop-color="#e6f0e6"/><stop offset="0.731" stop-color="#ddf2f7"/><stop offset="0.769" stop-color="#def2f8"/><stop offset="0.808" stop-color="#d3edf4"/><stop offset="0.846" stop-color="#d5eef5"/><stop offset="0.885" stop-color="#c7e7f1"/><stop offset="0.923" stop-color="#a3d2e5"/><stop offset="0.962" stop-color="#5e93c4"/><stop offset="1.000" stop-color="#5c91c2"/></linearGradient>
<linearGradient id="wfr2" gradientUnits="userSpaceOnUse" x1="733" x2="877"><stop offset="0.000" stop-color="#37499e"/><stop offset="0.069" stop-color="#4473b3"/><stop offset="0.139" stop-color="#4c7db8"/><stop offset="0.208" stop-color="#86bcd9"/><stop offset="0.278" stop-color="#9acce2"/><stop offset="0.347" stop-color="#99cae1"/><stop offset="0.417" stop-color="#a4d4e6"/><stop offset="0.486" stop-color="#a4d3e6"/><stop offset="0.556" stop-color="#9fcfe4"/><stop offset="0.625" stop-color="#8fc2dd"/><stop offset="0.694" stop-color="#6499c7"/><stop offset="0.764" stop-color="#6095c5"/><stop offset="0.833" stop-color="#436eb1"/><stop offset="0.903" stop-color="#416aae"/><stop offset="0.972" stop-color="#4878b6"/></linearGradient>
</defs>
<g shape-rendering="crispEdges" stroke-width=".8">
<path d="M733.5 483.1 734.5 482.9 735.5 477.9 736.5 477.6 737.5 474.0 738.5 469.7 739.5 468.2 740.5 466.7 741.5 464.2 742.5 466.2 743.5 463.6 744.5 464.2 745.5 463.3 746.5 465.4 747.5 465.2 748.5 462.9 749.5 460.4 750.5 457.9 751.5 458.3 752.5 455.3 753.5 455.3 754.5 453.9 755.5 454.1 756.5 454.7 757.5 451.0 758.5 446.1 759.5 440.2 760.5 440.4 761.5 431.0 762.5 427.1 763.5 424.1 764.5 421.2 765.5 419.7 766.5 418.4 767.5 416.2 768.5 418.0 769.5 414.0 770.5 414.8 771.5 416.5 772.5 412.4 773.5 412.8 774.5 409.4 775.5 411.1 776.5 408.1 777.5 407.8 778.5 408.0 779.5 406.8 780.5 408.1 781.5 406.0 782.5 410.3 783.5 406.4 784.5 407.6 785.5 408.4 786.5 406.1 787.5 405.5 788.5 404.6 789.5 405.2 790.5 402.0 791.5 400.3 792.5 397.2 793.5 398.7 794.5 394.7 795.5 395.1 796.5 396.0 797.5 395.4 798.5 395.7 799.5 395.5 800.5 393.6 801.5 395.0 802.5 391.5 803.5 391.0 804.5 390.9 805.5 391.0 806.5 389.8 807.5 390.5 808.5 390.3 809.5 391.5 810.5 389.8 811.5 392.0 812.5 390.4 813.5 387.9 814.5 389.2 815.5 390.3 816.5 390.6 817.5 389.1 818.5 388.9 819.5 387.3 820.5 387.9 821.5 389.9 822.5 388.5 823.5 389.4 824.5 391.9 825.5 393.5 826.5 391.8 827.5 393.0 828.5 394.2 829.5 397.0 830.5 395.8 831.5 398.9 832.5 400.4 833.5 406.6 834.5 405.6 835.5 405.2 836.5 405.8 837.5 403.5 838.5 403.4 839.5 401.5 840.5 400.1 841.5 399.4 842.5 399.6 843.5 399.3 844.5 398.8 845.5 399.7 846.5 402.0 847.5 401.3 848.5 403.6 849.5 405.3 850.5 405.9 851.5 407.7 852.5 409.1 853.5 408.6 854.5 408.8 855.5 409.8 856.5 409.1 857.5 410.0 858.5 411.9 859.5 408.6 860.5 407.5 861.5 405.6 862.5 407.3 863.5 404.6 864.5 405.8 865.5 403.2 866.5 402.5 867.5 401.8 868.5 405.2 869.5 402.9 870.5 402.6 871.5 398.3 872.5 395.9 873.5 394.7 874.5 397.0 875.5 392.7 876.5 389.2 877.5 387.9 877.5 384.6 876.5 386.3 875.5 387.9 874.5 389.5 873.5 391.3 872.5 393.4 871.5 395.4 870.5 397.4 869.5 398.0 868.5 398.6 867.5 399.2 866.5 399.8 865.5 400.4 864.5 401.0 863.5 401.6 862.5 402.3 861.5 403.0 860.5 403.6 859.5 404.3 858.5 405.0 857.5 405.7 856.5 406.4 855.5 406.5 854.5 405.9 853.5 405.4 852.5 404.9 851.5 403.6 850.5 402.2 849.5 400.8 848.5 399.5 847.5 398.3 846.5 397.2 845.5 396.0 844.5 395.8 843.5 396.0 842.5 396.3 841.5 396.5 840.5 397.3 839.5 398.0 838.5 398.8 837.5 399.5 836.5 400.1 835.5 400.7 834.5 401.3 833.5 399.6 832.5 397.3 831.5 395.0 830.5 393.0 829.5 391.9 828.5 390.7 827.5 389.6 826.5 388.7 825.5 388.0 824.5 387.3 823.5 386.5 822.5 385.8 821.5 385.1 820.5 384.4 819.5 384.2 818.5 384.8 817.5 385.4 816.5 386.0 815.5 385.9 814.5 385.5 813.5 385.2 812.5 385.0 811.5 385.6 810.5 386.3 809.5 386.9 808.5 387.2 807.5 387.1 806.5 387.0 805.5 386.9 804.5 387.5 803.5 388.2 802.5 388.9 801.5 389.6 800.5 390.5 799.5 391.5 798.5 392.4 797.5 392.5 796.5 392.3 795.5 392.1 794.5 392.0 793.5 393.2 792.5 394.5 791.5 395.8 790.5 397.0 789.5 398.1 788.5 399.3 787.5 400.4 786.5 401.2 785.5 401.9 784.5 402.6 783.5 403.2 782.5 403.2 781.5 403.1 780.5 403.1 779.5 403.4 778.5 403.9 777.5 404.4 776.5 404.9 775.5 405.8 774.5 406.8 773.5 407.7 772.5 408.6 771.5 409.3 770.5 410.1 769.5 410.9 768.5 411.8 767.5 412.7 766.5 413.7 765.5 415.0 764.5 418.1 763.5 421.1 762.5 424.1 761.5 428.0 760.5 432.7 759.5 437.3 758.5 441.9 757.5 444.4 756.5 446.9 755.5 449.3 754.5 451.2 753.5 451.9 752.5 452.7 751.5 453.4 750.5 455.0 749.5 457.1 748.5 459.1 747.5 460.9 746.5 460.8 745.5 460.7 744.5 460.6 743.5 460.7 742.5 460.9 741.5 461.0 740.5 461.2 739.5 463.9 738.5 466.9 737.5 469.9 736.5 472.8 735.5 475.3 734.5 477.7 733.5 480.2z" fill="url(#wfr2)"/>
<path d="M565.5 428.1 566.5 423.3 567.5 420.5 568.5 417.9 569.5 414.3 570.5 413.0 571.5 410.6 572.5 408.3 573.5 405.4 574.5 405.5 575.5 405.4 576.5 403.2 577.5 403.0 578.5 401.6 579.5 400.0 580.5 397.6 581.5 396.1 582.5 395.4 583.5 390.2 584.5 387.6 585.5 384.6 586.5 380.1 587.5 375.6 588.5 372.8 589.5 367.4 590.5 368.5 591.5 361.7 592.5 358.5 593.5 358.0 594.5 355.8 595.5 355.8 596.5 350.0 597.5 352.0 598.5 350.5 599.5 348.5 600.5 347.6 601.5 348.1 602.5 347.2 603.5 346.3 604.5 345.3 605.5 340.1 606.5 343.1 607.5 343.4 608.5 339.5 609.5 342.1 610.5 342.8 611.5 341.2 612.5 342.7 613.5 341.7 614.5 341.2 615.5 340.8 616.5 337.0 617.5 337.3 618.5 338.8 619.5 333.6 620.5 337.1 621.5 334.2 622.5 335.3 623.5 331.9 624.5 334.9 625.5 332.9 626.5 332.3 627.5 331.5 628.5 331.1 629.5 332.2 630.5 333.0 631.5 329.9 632.5 329.4 633.5 326.5 634.5 328.1 635.5 328.3 636.5 328.0 637.5 327.0 638.5 327.1 639.5 323.5 640.5 325.0 641.5 326.5 642.5 324.6 643.5 322.0 644.5 323.0 645.5 320.6 646.5 321.9 647.5 322.5 648.5 320.0 649.5 319.2 650.5 317.6 651.5 318.4 652.5 314.2 653.5 317.2 654.5 313.6 655.5 315.1 656.5 314.2 657.5 314.8 658.5 310.0 659.5 312.7 660.5 311.9 661.5 312.2 662.5 311.5 663.5 310.9 664.5 310.0 665.5 309.6 666.5 308.9 667.5 310.8 668.5 308.6 669.5 307.8 670.5 302.6 671.5 305.5 672.5 305.7 673.5 305.9 674.5 303.6 675.5 302.1 676.5 303.4 677.5 304.0 678.5 301.6 679.5 301.2 680.5 303.4 681.5 301.7 682.5 302.9 683.5 301.5 684.5 302.6 685.5 300.2 686.5 304.3 687.5 301.9 688.5 303.1 689.5 305.6 690.5 306.4 691.5 305.8 692.5 305.9 693.5 307.9 694.5 307.1 695.5 308.1 696.5 307.9 697.5 309.2 698.5 309.2 699.5 309.7 700.5 308.2 701.5 308.8 702.5 307.3 703.5 307.7 704.5 308.7 705.5 305.3 706.5 302.8 707.5 305.5 708.5 302.7 709.5 304.1 710.5 299.8 711.5 300.9 712.5 303.7 713.5 303.4 714.5 303.4 715.5 303.9 716.5 299.9 717.5 301.9 718.5 302.9 719.5 300.7 720.5 303.9 721.5 302.2 722.5 303.5 723.5 303.4 724.5 303.2 725.5 303.5 726.5 304.1 727.5 301.7 728.5 302.6 729.5 302.0 730.5 303.6 731.5 306.7 732.5 307.1 733.5 306.5 734.5 307.0 735.5 309.9 736.5 309.1 737.5 312.1 738.5 310.7 739.5 312.2 740.5 311.7 741.5 312.6 742.5 310.0 743.5 312.9 744.5 311.9 745.5 312.5 746.5 311.9 747.5 309.5 748.5 314.2 749.5 314.8 750.5 313.4 751.5 314.7 752.5 314.8 753.5 311.7 754.5 312.9 755.5 315.0 756.5 314.6 757.5 315.9 758.5 315.6 759.5 316.1 760.5 316.6 761.5 314.4 762.5 317.7 763.5 316.8 764.5 317.6 765.5 316.3 766.5 315.3 767.5 317.7 768.5 318.6 769.5 317.2 770.5 318.9 771.5 317.9 772.5 315.3 773.5 317.9 774.5 319.0 775.5 317.6 776.5 318.3 777.5 319.1 778.5 319.8 779.5 317.5 780.5 319.1 781.5 321.8 782.5 324.1 783.5 328.7 784.5 330.4 785.5 331.3 786.5 333.0 787.5 334.6 788.5 332.0 789.5 331.4 790.5 333.4 791.5 332.2 792.5 334.2 793.5 333.3 794.5 334.5 795.5 333.8 796.5 336.4 797.5 335.7 798.5 337.9 799.5 336.5 800.5 332.3 801.5 334.4 802.5 335.4 803.5 335.5 804.5 333.6 805.5 337.4 806.5 336.6 807.5 337.7 808.5 334.6 809.5 336.0 810.5 335.9 811.5 336.9 812.5 338.2 813.5 338.9 814.5 337.7 815.5 339.3 816.5 339.4 817.5 339.6 818.5 340.8 819.5 339.1 820.5 341.5 821.5 342.9 822.5 345.2 823.5 347.5 824.5 348.3 825.5 349.9 826.5 348.5 827.5 347.0 828.5 344.9 829.5 344.5 830.5 347.0 831.5 346.5 832.5 348.7 833.5 350.1 834.5 350.9 835.5 350.9 836.5 348.9 837.5 350.6 838.5 352.6 839.5 351.0 840.5 352.9 841.5 354.5 842.5 354.9 843.5 355.0 844.5 354.6 845.5 354.2 846.5 350.6 847.5 354.7 848.5 356.4 849.5 354.9 850.5 356.7 851.5 358.8 852.5 357.8 853.5 362.3 854.5 363.5 855.5 367.9 856.5 369.1 857.5 372.2 858.5 373.9 859.5 376.3 860.5 378.7 861.5 381.3 862.5 383.4 863.5 384.4 864.5 384.7 865.5 386.2 866.5 386.1 867.5 386.6 868.5 387.5 869.5 390.2 870.5 388.2 871.5 389.0 872.5 388.3 873.5 389.6 874.5 390.1 875.5 389.0 876.5 387.1 877.5 386.9 877.5 389.6 876.5 390.5 875.5 391.8 874.5 393.2 873.5 392.6 872.5 391.0 871.5 391.5 870.5 392.5 869.5 393.2 868.5 390.6 867.5 390.0 866.5 389.4 865.5 388.8 864.5 388.1 863.5 387.3 862.5 386.5 861.5 385.7 860.5 383.2 859.5 380.6 858.5 378.1 857.5 375.5 856.5 373.0 855.5 370.5 854.5 367.9 853.5 366.2 852.5 364.7 851.5 363.3 850.5 361.9 849.5 360.7 848.5 359.5 847.5 358.2 846.5 357.8 845.5 358.0 844.5 358.2 843.5 358.4 842.5 357.5 841.5 357.0 840.5 356.3 839.5 355.6 838.5 355.4 837.5 355.2 836.5 355.0 835.5 354.7 834.5 354.0 833.5 353.2 832.5 352.3 831.5 351.4 830.5 350.9 829.5 351.1 828.5 351.3 827.5 351.5 826.5 352.1 825.5 352.5 824.5 351.0 823.5 350.5 822.5 350.1 821.5 348.2 820.5 346.4 819.5 345.7 818.5 345.1 817.5 344.2 816.5 343.6 815.5 343.0 814.5 342.4 813.5 341.8 812.5 341.2 811.5 340.7 810.5 340.2 809.5 340.9 808.5 341.6 807.5 342.1 806.5 341.6 805.5 341.0 804.5 340.5 803.5 340.0 802.5 339.8 801.5 339.5 800.5 339.2 799.5 340.2 798.5 340.6 797.5 340.1 796.5 339.5 795.5 338.8 794.5 338.3 793.5 337.7 792.5 337.3 791.5 337.1 790.5 337.0 789.5 336.9 788.5 337.3 787.5 337.3 786.5 336.9 785.5 335.8 784.5 333.0 783.5 331.3 782.5 328.9 781.5 326.7 780.5 324.6 779.5 322.7 778.5 322.5 777.5 322.4 776.5 322.2 775.5 322.0 774.5 321.6 773.5 321.3 772.5 320.9 771.5 321.6 770.5 322.5 769.5 323.1 768.5 323.6 767.5 323.5 766.5 321.8 765.5 320.9 764.5 320.8 763.5 320.8 762.5 320.7 761.5 318.8 760.5 319.3 759.5 319.2 758.5 319.0 757.5 319.2 756.5 318.8 755.5 317.8 754.5 316.7 753.5 317.3 752.5 318.1 751.5 318.9 750.5 318.6 749.5 317.8 748.5 317.2 747.5 316.6 746.5 316.2 745.5 316.3 744.5 316.3 743.5 316.4 742.5 316.4 741.5 316.3 740.5 316.2 739.5 316.2 738.5 317.1 737.5 315.6 736.5 314.2 735.5 312.9 734.5 311.6 733.5 311.0 732.5 310.4 731.5 309.8 730.5 309.1 729.5 308.3 728.5 307.4 727.5 306.6 726.5 306.8 725.5 307.0 724.5 307.2 723.5 307.2 722.5 307.2 721.5 307.1 720.5 306.9 719.5 306.7 718.5 306.5 717.5 306.8 716.5 307.2 715.5 307.5 714.5 308.2 713.5 308.4 712.5 307.8 711.5 307.1 710.5 306.6 709.5 307.3 708.5 307.9 707.5 308.5 706.5 309.5 705.5 310.8 704.5 312.1 703.5 312.7 702.5 311.8 701.5 311.7 700.5 312.2 699.5 312.7 698.5 313.2 697.5 313.2 696.5 313.1 695.5 312.9 694.5 311.5 693.5 310.5 692.5 310.0 691.5 309.5 690.5 309.1 689.5 309.1 688.5 307.7 687.5 307.3 686.5 306.8 685.5 306.4 684.5 306.1 683.5 306.0 682.5 305.9 681.5 305.9 680.5 306.1 679.5 306.4 678.5 306.7 677.5 307.1 676.5 307.6 675.5 308.2 674.5 308.7 673.5 308.9 672.5 309.0 671.5 309.1 670.5 309.2 669.5 310.5 668.5 311.9 667.5 313.3 666.5 314.0 665.5 314.1 664.5 314.1 663.5 314.1 662.5 314.9 661.5 315.7 660.5 316.6 659.5 317.0 658.5 317.0 657.5 318.1 656.5 318.9 655.5 319.4 654.5 320.0 653.5 320.6 652.5 321.2 651.5 321.7 650.5 322.8 649.5 324.0 648.5 325.2 647.5 325.7 646.5 325.6 645.5 325.5 644.5 326.2 643.5 327.2 642.5 328.2 641.5 329.1 640.5 329.6 639.5 330.1 638.5 330.6 637.5 330.9 636.5 330.9 635.5 330.9 634.5 330.9 633.5 332.2 632.5 333.6 631.5 334.9 630.5 335.8 629.5 335.5 628.5 335.3 627.5 335.0 626.5 335.6 625.5 336.6 624.5 337.5 623.5 338.4 622.5 338.9 621.5 339.4 620.5 339.9 619.5 340.6 618.5 341.5 617.5 342.4 616.5 343.3 615.5 343.9 614.5 344.4 613.5 344.9 612.5 345.3 611.5 345.5 610.5 345.6 609.5 345.8 608.5 346.0 607.5 346.3 606.5 346.6 605.5 347.0 604.5 348.1 603.5 349.3 602.5 350.5 601.5 351.4 600.5 352.0 599.5 352.5 598.5 353.1 597.5 354.8 596.5 356.8 595.5 358.7 594.5 359.9 593.5 361.3 592.5 364.6 591.5 367.9 590.5 371.3 589.5 374.4 588.5 377.1 587.5 379.9 586.5 382.7 585.5 387.4 584.5 392.5 583.5 397.5 582.5 399.5 581.5 400.9 580.5 402.3 579.5 403.5 578.5 404.7 577.5 405.8 576.5 407.0 575.5 407.9 574.5 408.8 573.5 409.8 572.5 411.3 571.5 413.5 570.5 415.6 569.5 417.8 568.5 420.7 567.5 423.9 566.5 427.3 565.5 431.4z" fill="url(#wfr)"/>
<path d="M564.2 432.1l3.6-13.6 3.6-4.7 3.6-5.8 3.6-2.7 3.6-6.4 3.6-18.2 3.7-10.1 3.6-12 3.6-4.5 3.6-3.8 3.6-4.4 3.6-.5 3.6-2 3.6-1.2 3.7-1.7 3.6-1.5 3.6-1.9 3.6-1.5 3.6-3.6 3.6-2.8 3.6-.9 3.6-1.8 3.7-2.9 3.6-4.4 3.6-.8 3.6-4 3.6 .5 3.6-1.6 3.6-2.1 3.6-1.3 3.7-.7 3.6-2.2 3.6-3.5 3.6 2.2 3.6 7.1 3.6 14.4 3.6 17.7 3.7 11.5 3.6 5.7 3.6 1.6 1.1-1.7-3.6-3.8-3.6-7-3.6-11-3.7-14.5-3.6-14-3.6-6.4-3.6-1.6-3.6-.4-3.6 1.1-3.6 2-3.6 .2-3.7 4.9-3.6 .1-3.6 3.1-3.6 1.9-3.6 2.2-3.6 4.5-3.6-.3-3.6 3.5-3.7 1.9-3.6 0-3.6 5-3.6-1-3.6 3.5-3.6 1.7-3.6 3.3-3.6 1.9-3.7 .6-3.6 1-3.6 4.3-3.6 2-3.6 7.2-3.6 10.6-3.6 9-3.7 17.7-3.6 5-3.6 4.1-3.6 3.4-3.6 7.8-3.6 11.6z" fill="url(#w0)" stroke="url(#w0)"/>
<path d="M565.3 427.1l3.6-11.6 3.6-7.8 3.6-3.4 3.6-4.1 3.6-5 3.7-17.7 3.6-9 3.6-10.6 3.6-7.2 3.6-2 3.6-4.3 3.6-1 3.7-.6 3.6-1.9 3.6-3.3 3.6-1.7 3.6-3.5 3.6 1 3.6-5 3.6 0 3.7-1.9 3.6-3.5 3.6 .3 3.6-4.5 3.6-2.2 3.6-1.9 3.6-3.1 3.6-.1 3.7-4.9 3.6-.2 3.6-2 3.6-1.1 3.6 .4 3.6 1.6 3.6 6.4 3.6 14 3.7 14.5 3.6 11 3.6 7 3.6 3.8 1.1-1.2-3.6-.9-3.6-2.9-3.6-11.5-3.6-16.7-3.6-12.9-3.7-5.7-3.6-4.8-3.6 1.7-3.6 1.8-3.6 3.5-3.6 0-3.6 3.5-3.6-1.3-3.7 3.1-3.6 4-3.6 3.1-3.6 2.9-3.6-.1-3.6 1.2-3.6 2.7-3.6 3-3.7-.3-3.6 4.5-3.6 1.5-3.6 3.9-3.6 1.5-3.6-.3-3.6 4.3-3.7-.2-3.6 3.4-3.6 1.8-3.6 7.5-3.6 9.5-3.6 11.1-3.6 16.9-3.6 5.1-3.7-.1-3.6 6.4-3.6 4.8-3.6 14.5z" fill="url(#w1)" stroke="url(#w1)"/>
<path d="M566.4 430.3l3.6-14.5 3.6-4.8 3.6-6.4 3.7 .1 3.6-5.1 3.6-16.9 3.6-11.1 3.6-9.5 3.6-7.5 3.6-1.8 3.6-3.4 3.7 .2 3.6-4.3 3.6 .3 3.6-1.5 3.6-3.9 3.6-1.5 3.6-4.5 3.7 .3 3.6-3 3.6-2.7 3.6-1.2 3.6 .1 3.6-2.9 3.6-3.1 3.6-4 3.7-3.1 3.6 1.3 3.6-3.5 3.6 0 3.6-3.5 3.6-1.8 3.6-1.7 3.6 4.8 3.7 5.7 3.6 12.9 3.6 16.7 3.6 11.5 3.6 2.9 3.6 .9 1.1 1.6-3.6 .6-3.6-7.1-3.6-9.2-3.6-14.2-3.6-14.9-3.6-6.8-3.6-1.6-3.7 2.1-3.6 0-3.6 1.8-3.6 5.5-3.6-1.7-3.6 2.1-3.6 1.3-3.6 4-3.7 .3-3.6 1.7-3.6 3.7-3.6-.7-3.6 3.6-3.6 4.2-3.6-.5-3.6 5-3.7-.5-3.6 3.4-3.6 .7-3.6 4.8-3.6 2.2-3.6 1-3.6 2.7-3.7 .7-3.6 7.3-3.6 9.1-3.6 12.3-3.6 15.9-3.6 6.6-3.6 3.2-3.6 4-3.7 5.7-3.6 10.4z" fill="url(#w2)" stroke="url(#w2)"/>
<path d="M567.5 431.1l3.6-10.4 3.7-5.7 3.6-4 3.6-3.2 3.6-6.6 3.6-15.9 3.6-12.3 3.6-9.1 3.6-7.3 3.7-.7 3.6-2.7 3.6-1 3.6-2.2 3.6-4.8 3.6-.7 3.6-3.4 3.7 .5 3.6-5 3.6 .5 3.6-4.2 3.6-3.6 3.6 .7 3.6-3.7 3.6-1.7 3.7-.3 3.6-4 3.6-1.3 3.6-2.1 3.6 1.7 3.6-5.5 3.6-1.8 3.6 0 3.7-2.1 3.6 1.6 3.6 6.8 3.6 14.9 3.6 14.2 3.6 9.2 3.6 7.1 3.6-.6 1.2 .2-3.6 .9-3.7-5-3.6-9.5-3.6-14-3.6-15.6-3.6-7.5-3.6-2.7-3.6 5.2-3.6 1.4-3.7 1.3-3.6 2.2-3.6 .1-3.6 4.2-3.6 1.5-3.6 2.8-3.6 .6-3.6 1.9-3.7 4.3-3.6 2-3.6 2.1-3.6 1.2-3.6 .6-3.6 4.1-3.6 2.3-3.7 .1-3.6 1.3-3.6 2.7-3.6 .9-3.6 4.6-3.6-.2-3.6 4.1-3.6 8.3-3.7 6.6-3.6 13.7-3.6 12-3.6 6.1-3.6 5.2-3.6 3.4-3.6 4.9-3.6 10.5z" fill="url(#w3)" stroke="url(#w3)"/>
<path d="M568.7 431.2l3.6-10.5 3.6-4.9 3.6-3.4 3.6-5.2 3.6-6.1 3.6-12 3.6-13.7 3.7-6.6 3.6-8.3 3.6-4.1 3.6 .2 3.6-4.6 3.6-.9 3.6-2.7 3.6-1.3 3.7-.1 3.6-2.3 3.6-4.1 3.6-.6 3.6-1.2 3.6-2.1 3.6-2 3.7-4.3 3.6-1.9 3.6-.6 3.6-2.8 3.6-1.5 3.6-4.2 3.6-.1 3.6-2.2 3.7-1.3 3.6-1.4 3.6-5.2 3.6 2.7 3.6 7.5 3.6 15.6 3.6 14 3.6 9.5 3.7 5 3.6-.9 1.1 1.8-3.6-1.4-3.6-6.9-3.6-8.8-3.7-12.6-3.6-15.6-3.6-7.2-3.6-3.3-3.6 3.2-3.6 2.3-3.6 .9-3.6 4.1-3.7 1.6-3.6-.9-3.6 2.3-3.6 2.8-3.6 1-3.6 2.8-3.6 4-3.7-1-3.6 5.3-3.6 2-3.6-.6-3.6 4.5-3.6-.5-3.6 4.3-3.6 .6-3.7 2.9-3.6 1.5-3.6 1.7-3.6 3.5-3.6 3-3.6 3.8-3.6 9.7-3.6 12.4-3.7 15.3-3.6 5.1-3.6 2.8-3.6 3.2-3.6 3.2-3.6 14.5z" fill="url(#w4)" stroke="url(#w4)"/>
<path d="M569.8 429.9l3.6-14.5 3.6-3.2 3.6-3.2 3.6-2.8 3.6-5.1 3.7-15.3 3.6-12.4 3.6-9.7 3.6-3.8 3.6-3 3.6-3.5 3.6-1.7 3.6-1.5 3.7-2.9 3.6-.6 3.6-4.3 3.6 .5 3.6-4.5 3.6 .6 3.6-2 3.6-5.3 3.7 1 3.6-4 3.6-2.8 3.6-1 3.6-2.8 3.6-2.3 3.6 .9 3.7-1.6 3.6-4.1 3.6-.9 3.6-2.3 3.6-3.2 3.6 3.3 3.6 7.2 3.6 15.6 3.7 12.6 3.6 8.8 3.6 6.9 3.6 1.4 1.1-4.3-3.6 .6-3.6-7.6-3.6-10.8-3.6-15-3.6-10.2-3.7-8.8-3.6-1.7-3.6-.1-3.6 4.1-3.6 1.5-3.6-.4-3.6 2.4-3.7 0-3.6 2.4-3.6 4.5-3.6-.8-3.6 5.9-3.6 2.2-3.6-.7-3.6 3.1-3.7 3.7-3.6-.2-3.6 3.9-3.6-.6-3.6 4.3-3.6 .6-3.6 4.8-3.6 .6-3.7 .2-3.6 1.2-3.6 5.1-3.6 3.3-3.6 10.9-3.6 11.4-3.6 17.9-3.6 2.3-3.7 3.5-3.6 5.9-3.6 4.2-3.6 13.5z" fill="url(#w5)" stroke="url(#w5)"/>
<path d="M570.9 427.2l3.6-13.5 3.6-4.2 3.6-5.9 3.7-3.5 3.6-2.3 3.6-17.9 3.6-11.4 3.6-10.9 3.6-3.3 3.6-5.1 3.6-1.2 3.7-.2 3.6-.6 3.6-4.8 3.6-.6 3.6-4.3 3.6 .6 3.6-3.9 3.6 .2 3.7-3.7 3.6-3.1 3.6 .7 3.6-2.2 3.6-5.9 3.6 .8 3.6-4.5 3.6-2.4 3.7 0 3.6-2.4 3.6 .4 3.6-1.5 3.6-4.1 3.6 .1 3.6 1.7 3.7 8.8 3.6 10.2 3.6 15 3.6 10.8 3.6 7.6 3.6-.6 1.1 1.3-3.6 .2-3.6-6.2-3.6-12.3-3.6-15.4-3.6-9.1-3.6-6.7-3.7-2.8-3.6 2.5-3.6-.5-3.6 1.7-3.6 3.3-3.6-1.1-3.6 5.4-3.6 .9-3.7 .6-3.6 6.8-3.6 1.2-3.6-1.5-3.6 4.3-3.6 .2-3.6 3.3-3.6 3.8-3.7 .5-3.6 1.8-3.6-.4-3.6 4-3.6 1-3.6 3-3.6 3.1-3.6 2.7-3.7-1.4-3.6 7.9-3.6 10.3-3.6 9.7-3.6 15.8-3.6 6-3.6 2.3-3.6 6.3-3.7 2-3.6 16.5z" fill="url(#w6)" stroke="url(#w6)"/>
<path d="M572 431.1l3.6-16.5 3.7-2 3.6-6.3 3.6-2.3 3.6-6 3.6-15.8 3.6-9.7 3.6-10.3 3.6-7.9 3.7 1.4 3.6-2.7 3.6-3.1 3.6-3 3.6-1 3.6-4 3.6 .4 3.6-1.8 3.7-.5 3.6-3.8 3.6-3.3 3.6-.2 3.6-4.3 3.6 1.5 3.6-1.2 3.6-6.8 3.7-.6 3.6-.9 3.6-5.4 3.6 1.1 3.6-3.3 3.6-1.7 3.6 .5 3.6-2.5 3.7 2.8 3.6 6.7 3.6 9.1 3.6 15.4 3.6 12.3 3.6 6.2 3.6-.2 1.2-2.5-3.7 2.4-3.6-5.5-3.6-14.4-3.6-13.6-3.6-9.5-3.6-5.4-3.6-3.9-3.6-1.3-3.7 3.1-3.6-.5-3.6 3.3-3.6 .7-3.6 2.8-3.6 .3-3.6 4.7-3.6 .1-3.7 4.2-3.6-.3-3.6 3.1-3.6 2.1-3.6 2.8-3.6 .3-3.6 2.5-3.6 2.5-3.7 1.7-3.6 3.3-3.6 1-3.6 1.2-3.6 3.4-3.6 2.9-3.6 2-3.6 6.4-3.7 8.6-3.6 9.9-3.6 18.9-3.6 3.3-3.6 2.6-3.6 4.5-3.6 1.4-3.7 16.5z" fill="url(#w7)" stroke="url(#w7)"/>
<path d="M573.1 427l3.7-16.5 3.6-1.4 3.6-4.5 3.6-2.6 3.6-3.3 3.6-18.9 3.6-9.9 3.7-8.6 3.6-6.4 3.6-2 3.6-2.9 3.6-3.4 3.6-1.2 3.6-1 3.6-3.3 3.7-1.7 3.6-2.5 3.6-2.5 3.6-.3 3.6-2.8 3.6-2.1 3.6-3.1 3.6 .3 3.7-4.2 3.6-.1 3.6-4.7 3.6-.3 3.6-2.8 3.6-.7 3.6-3.3 3.6 .5 3.7-3.1 3.6 1.3 3.6 3.9 3.6 5.4 3.6 9.5 3.6 13.6 3.6 14.4 3.6 5.5 3.7-2.4 1.1 4.1-3.6-2.4-3.6-1.4-3.7-13.3-3.6-14.3-3.6-12.5-3.6-8.2-3.6-.9-3.6 1.7-3.6 2.2-3.6 3.7-3.7 0-3.6 .5-3.6 3-3.6 1.6-3.6 3.6-3.6-1.6-3.6 5.5-3.6-1.3-3.7 3.8-3.6 1.1-3.6 4.5-3.6-.3-3.6 3.1-3.6 3.4-3.6 0-3.6 5.2-3.7-.3-3.6 5-3.6-.8-3.6 1.1-3.6 1.9-3.6 10.4-3.6 4.9-3.7 10.9-3.6 16-3.6 8.4-3.6 .1-3.6 4.6-3.6 4.2-3.6 10.1z" fill="url(#w8)" stroke="url(#w8)"/>
<path d="M574.3 426.2l3.6-10.1 3.6-4.2 3.6-4.6 3.6-.1 3.6-8.4 3.6-16 3.7-10.9 3.6-4.9 3.6-10.4 3.6-1.9 3.6-1.1 3.6 .8 3.6-5 3.7 .3 3.6-5.2 3.6 0 3.6-3.4 3.6-3.1 3.6 .3 3.6-4.5 3.6-1.1 3.7-3.8 3.6 1.3 3.6-5.5 3.6 1.6 3.6-3.6 3.6-1.6 3.6-3 3.6-.5 3.7 0 3.6-3.7 3.6-2.2 3.6-1.7 3.6 .9 3.6 8.2 3.6 12.5 3.6 14.3 3.7 13.3 3.6 1.4 3.6 2.4 1.1 .3-3.6-1.8-3.6-4-3.6-12.7-3.6-13.8-3.7-11.3-3.6-5.5-3.6-3.6-3.6-.4-3.6 1.6-3.6 6-3.6-1.8-3.6 1-3.7 2-3.6 3.6-3.6 1.5-3.6 3.2-3.6 1-3.6 1.9-3.6 2.2-3.6 4.1-3.7 1.5-3.6 .6-3.6 4.2-3.6 .7-3.6 3-3.6-.1-3.6 4-3.7-.8-3.6 3.2-3.6 2.8-3.6 3.8-3.6 3.8-3.6 8.6-3.6 11.1-3.6 17.5-3.7 3.3-3.6 3.5-3.6 5.1-3.6 2.2-3.6 13.7z" fill="url(#w9)" stroke="url(#w9)"/>
<path d="M575.4 428.2l3.6-13.7 3.6-2.2 3.6-5.1 3.6-3.5 3.7-3.3 3.6-17.5 3.6-11.1 3.6-8.6 3.6-3.8 3.6-3.8 3.6-2.8 3.6-3.2 3.7 .8 3.6-4 3.6 .1 3.6-3 3.6-.7 3.6-4.2 3.6-.6 3.7-1.5 3.6-4.1 3.6-2.2 3.6-1.9 3.6-1 3.6-3.2 3.6-1.5 3.6-3.6 3.7-2 3.6-1 3.6 1.8 3.6-6 3.6-1.6 3.6 .4 3.6 3.6 3.6 5.5 3.7 11.3 3.6 13.8 3.6 12.7 3.6 4 3.6 1.8 1.1-.7-3.6-1-3.6-4.6-3.6-11.1-3.6-13.6-3.6-12.4-3.6-5.7-3.7-1-3.6 1.2-3.6 .9-3.6 1.6-3.6 1.2-3.6 2.3-3.6-.1-3.6 2.2-3.7 4.7-3.6 2.4-3.6 1.3-3.6 .6-3.6 2.9-3.6 1.2-3.6 3.7-3.7 3.3-3.6-3.4-3.6 6.8-3.6-1.3-3.6 3.5-3.6 2.6-3.6 .5-3.6 2.3-3.7 1.4-3.6 3.8-3.6 4.3-3.6 10.6-3.6 11.4-3.6 15.6-3.6 5.2-3.6 1.4-3.7 4.2-3.6 3.4-3.6 12z" fill="url(#w10)" stroke="url(#w10)"/>
<path d="M576.5 426.9l3.6-12 3.6-3.4 3.7-4.2 3.6-1.4 3.6-5.2 3.6-15.6 3.6-11.4 3.6-10.6 3.6-4.3 3.6-3.8 3.7-1.4 3.6-2.3 3.6-.5 3.6-2.6 3.6-3.5 3.6 1.3 3.6-6.8 3.6 3.4 3.7-3.3 3.6-3.7 3.6-1.2 3.6-2.9 3.6-.6 3.6-1.3 3.6-2.4 3.7-4.7 3.6-2.2 3.6 .1 3.6-2.3 3.6-1.2 3.6-1.6 3.6-.9 3.6-1.2 3.7 1 3.6 5.7 3.6 12.4 3.6 13.6 3.6 11.1 3.6 4.6 3.6 1 1.2 5.4-3.7-.5-3.6-4.1-3.6-9.2-3.6-12.1-3.6-16.9-3.6-8.8-3.6-.6-3.6 5.5-3.7 1.7-3.6-.7-3.6 4.4-3.6 2.1-3.6 1.1-3.6 1.3-3.6 .1-3.7 3.9-3.6 .9-3.6 3.1-3.6 4.5-3.6 1.3-3.6 1.1-3.6 .9-3.6 4.7-3.7 .9-3.6 4-3.6 .6-3.6-.6-3.6 6.2-3.6-.3-3.6 1.5-3.6 2.4-3.7 6-3.6 9.9-3.6 10.8-3.6 14.3-3.6 6.9-3.6 4.2-3.6 .6-3.6 5.7-3.7 3.8z" fill="url(#w11)" stroke="url(#w11)"/>
<path d="M577.6 428.6l3.7-3.8 3.6-5.7 3.6-.6 3.6-4.2 3.6-6.9 3.6-14.3 3.6-10.8 3.6-9.9 3.7-6 3.6-2.4 3.6-1.5 3.6 .3 3.6-6.2 3.6 .6 3.6-.6 3.6-4 3.7-.9 3.6-4.7 3.6-.9 3.6-1.1 3.6-1.3 3.6-4.5 3.6-3.1 3.6-.9 3.7-3.9 3.6-.1 3.6-1.3 3.6-1.1 3.6-2.1 3.6-4.4 3.6 .7 3.7-1.7 3.6-5.5 3.6 .6 3.6 8.8 3.6 16.9 3.6 12.1 3.6 9.2 3.6 4.1 3.7 .5 1.1-4.8-3.6 1.2-3.6-8.4-3.7-11.6-3.6-13.4-3.6-12.1-3.6-5.3-3.6-2.9-3.6 .2-3.6 0-3.6 2.7-3.7 2-3.6 3.3-3.6 1.1-3.6 1.7-3.6 2.3-3.6 .8-3.6 3.4-3.7 .4-3.6 3.2-3.6 2-3.6 .6-3.6 2.1-3.6 3.6-3.6 2-3.6 2.8-3.7 2.4-3.6 1.8-3.6-.1-3.6 4.3-3.6 1.8-3.6 0-3.6 6.2-3.6 8.4-3.7 14.7-3.6 14-3.6 4.9-3.6 3.8-3.6 1.5-3.6 5.4-3.6 11.6z" fill="url(#w12)" stroke="url(#w12)"/>
<path d="M578.8 425.6l3.6-11.6 3.6-5.4 3.6-1.5 3.6-3.8 3.6-4.9 3.6-14 3.7-14.7 3.6-8.4 3.6-6.2 3.6 0 3.6-1.8 3.6-4.3 3.6 .1 3.6-1.8 3.7-2.4 3.6-2.8 3.6-2 3.6-3.6 3.6-2.1 3.6-.6 3.6-2 3.6-3.2 3.7-.4 3.6-3.4 3.6-.8 3.6-2.3 3.6-1.7 3.6-1.1 3.6-3.3 3.7-2 3.6-2.7 3.6 0 3.6-.2 3.6 2.9 3.6 5.3 3.6 12.1 3.6 13.4 3.7 11.6 3.6 8.4 3.6-1.2 1.1-.7-3.6-.7-3.6-5.7-3.6-10-3.6-14-3.7-12.8-3.6-9-3.6 1.9-3.6 .3-3.6-1-3.6 3.1-3.6 2-3.7 3.9-3.6-.9-3.6 4.7-3.6 .4-3.6 1.9-3.6 3.3-3.6 1.9-3.6 .8-3.7 2.7-3.6 2.7-3.6 2.4-3.6 1.5-3.6 .6-3.6 2.8-3.6 1.2-3.6 7.5-3.7-.1-3.6-1.8-3.6 2.6-3.6 4.7-3.6 3-3.6 11.7-3.6 9.9-3.6 18.1-3.7 3.5-3.6 2.6-3.6 2.8-3.6 5.6-3.6 11.4z" fill="url(#w13)" stroke="url(#w13)"/>
<path d="M579.9 428l3.6-11.4 3.6-5.6 3.6-2.8 3.6-2.6 3.7-3.5 3.6-18.1 3.6-9.9 3.6-11.7 3.6-3 3.6-4.7 3.6-2.6 3.6 1.8 3.7 .1 3.6-7.5 3.6-1.2 3.6-2.8 3.6-.6 3.6-1.5 3.6-2.4 3.6-2.7 3.7-2.7 3.6-.8 3.6-1.9 3.6-3.3 3.6-1.9 3.6-.4 3.6-4.7 3.6 .9 3.7-3.9 3.6-2 3.6-3.1 3.6 1 3.6-.3 3.6-1.9 3.6 9 3.7 12.8 3.6 14 3.6 10 3.6 5.7 3.6 .7 1.1 3.3-3.6-3-3.6-5.9-3.6-10.9-3.6-14-3.6-12.5-3.7-6.2-3.6-.3-3.6-1.4-3.6 3.3-3.6 .2-3.6 3.3-3.6 .4-3.6 4.4-3.7-.5-3.6 2.6-3.6 3.3-3.6 0-3.6 2.8-3.6 1.6-3.6 4.2-3.6-1.7-3.7 4.6-3.6 1.3-3.6 1.9-3.6 1.6-3.6 5.6-3.6 .7-3.6-.5-3.6 1.3-3.7 2.8-3.6 3-3.6 5.4-3.6 9.8-3.6 10.6-3.6 19.3-3.6 2.5-3.7 4.8-3.6 .9-3.6 6.5-3.6 16.7z" fill="url(#w14)" stroke="url(#w14)"/>
<path d="M581 434.3l3.6-16.7 3.6-6.5 3.6-.9 3.7-4.8 3.6-2.5 3.6-19.3 3.6-10.6 3.6-9.8 3.6-5.4 3.6-3 3.7-2.8 3.6-1.3 3.6 .5 3.6-.7 3.6-5.6 3.6-1.6 3.6-1.9 3.6-1.3 3.7-4.6 3.6 1.7 3.6-4.2 3.6-1.6 3.6-2.8 3.6 0 3.6-3.3 3.6-2.6 3.7 .5 3.6-4.4 3.6-.4 3.6-3.3 3.6-.2 3.6-3.3 3.6 1.4 3.6 .3 3.7 6.2 3.6 12.5 3.6 14 3.6 10.9 3.6 5.9 3.6 3 1.1 4.1-3.6 1.7-3.6-7.7-3.6-8.6-3.6-12.5-3.6-17.4-3.6-7.9-3.6-.8-3.7 6.1-3.6-.4-3.6 1.9-3.6 1.5-3.6 1.9-3.6 1.9-3.6 2.4-3.6 3.6-3.7 1.9-3.6 1.4-3.6 .1-3.6 3.8-3.6 3.1-3.6 3.7-3.6-.7-3.6 3.4-3.7 .8-3.6 4-3.6-1.3-3.6 5.4-3.6 0-3.6 2.5-3.6 4-3.7-.1-3.6 7.1-3.6 7.3-3.6 11.2-3.6 15.9-3.6 7.3-3.6 3.6-3.6 1.6-3.7 7.4-3.6 8.4z" fill="url(#w15)" stroke="url(#w15)"/>
<path d="M582.1 437.4l3.6-8.4 3.7-7.4 3.6-1.6 3.6-3.6 3.6-7.3 3.6-15.9 3.6-11.2 3.6-7.3 3.6-7.1 3.7 .1 3.6-4 3.6-2.5 3.6 0 3.6-5.4 3.6 1.3 3.6-4 3.7-.8 3.6-3.4 3.6 .7 3.6-3.7 3.6-3.1 3.6-3.8 3.6-.1 3.6-1.4 3.7-1.9 3.6-3.6 3.6-2.4 3.6-1.9 3.6-1.9 3.6-1.5 3.6-1.9 3.6 .4 3.7-6.1 3.6 .8 3.6 7.9 3.6 17.4 3.6 12.5 3.6 8.6 3.6 7.7 3.6-1.7 1.2-2.4-3.6 1.6-3.7-1.1-3.6-11.8-3.6-13.5-3.6-15.7-3.6-7.4-3.6-1.7-3.6 2-3.6 5.7-3.7 1.7-3.6 2.8-3.6 .3-3.6 1.3-3.6 2.3-3.6 3.9-3.6-.1-3.6 3.6-3.7 3.1-3.6-1.1-3.6 4.7-3.6 .4-3.6 2.5-3.6 1.5-3.6 3-3.6 2.4-3.7 .4-3.6 2.8-3.6-1-3.6 3.4-3.6 .9-3.6 5.7-3.6 3.9-3.7 10.7-3.6 10.2-3.6 15.5-3.6 6.3-3.6 2.1-3.6 6.4-3.6 4.7-3.6 7.9z" fill="url(#w16)" stroke="url(#w16)"/>
<path d="M583.3 437.8l3.6-7.9 3.6-4.7 3.6-6.4 3.6-2.1 3.6-6.3 3.6-15.5 3.6-10.2 3.7-10.7 3.6-3.9 3.6-5.7 3.6-.9 3.6-3.4 3.6 1 3.6-2.8 3.7-.4 3.6-2.4 3.6-3 3.6-1.5 3.6-2.5 3.6-.4 3.6-4.7 3.6 1.1 3.7-3.1 3.6-3.6 3.6 .1 3.6-3.9 3.6-2.3 3.6-1.3 3.6-.3 3.6-2.8 3.7-1.7 3.6-5.7 3.6-2 3.6 1.7 3.6 7.4 3.6 15.7 3.6 13.5 3.6 11.8 3.7 1.1 3.6-1.6 1.1 .5-3.6-1.9-3.6-1.7-3.6-10.1-3.7-13.6-3.6-14-3.6-10.6-3.6 .9-3.6 4.7-3.6 .4-3.6 2.8-3.6 .5-3.7 3-3.6-1.4-3.6 3.9-3.6 4.8-3.6-.8-3.6 2.2-3.6 4.8-3.6 1.6-3.7 .7-3.6 3.7-3.6-.5-3.6 .9-3.6 4.8-3.6 1.5-3.6-.7-3.7 5.2-3.6 2.1-3.6 .6-3.6 1.8-3.6 2.7-3.6 5.6-3.6 9-3.6 11.4-3.7 17-3.6 7-3.6 1-3.6 4-3.6 6.5-3.6 8.1z" fill="url(#w17)" stroke="url(#w17)"/>
<path d="M584.4 435.9l3.6-8.1 3.6-6.5 3.6-4 3.6-1 3.6-7 3.7-17 3.6-11.4 3.6-9 3.6-5.6 3.6-2.7 3.6-1.8 3.6-.6 3.6-2.1 3.7-5.2 3.6 .7 3.6-1.5 3.6-4.8 3.6-.9 3.6 .5 3.6-3.7 3.7-.7 3.6-1.6 3.6-4.8 3.6-2.2 3.6 .8 3.6-4.8 3.6-3.9 3.6 1.4 3.7-3 3.6-.5 3.6-2.8 3.6-.4 3.6-4.7 3.6-.9 3.6 10.6 3.6 14 3.7 13.6 3.6 10.1 3.6 1.7 3.6 1.9 1.1-.9-3.6-2.5-3.6-1.1-3.6-10.9-3.6-12.1-3.6-13.6-3.7-8.3-3.6-.9-3.6 1.7-3.6 2.1-3.6 1.8-3.6 2.6-3.6 .8-3.6 1-3.7 4.8-3.6-.5-3.6 .7-3.6 2.7-3.6 5.5-3.6 1.1-3.6 3-3.7 1.3-3.6 1.8-3.6 2-3.6 2.6-3.6 3.9-3.6 .5-3.6 2.1-3.6 .8-3.7 1.1-3.6 1.7-3.6 4.6-3.6 6.7-3.6 8.4-3.6 7.6-3.6 16.2-3.6 6.8-3.7 1.6-3.6 6.1-3.6 5-3.6 9.3z" fill="url(#w18)" stroke="url(#w18)"/>
<path d="M585.5 435.1l3.6-9.3 3.6-5 3.6-6.1 3.7-1.6 3.6-6.8 3.6-16.2 3.6-7.6 3.6-8.4 3.6-6.7 3.6-4.6 3.6-1.7 3.7-1.1 3.6-.8 3.6-2.1 3.6-.5 3.6-3.9 3.6-2.6 3.6-2 3.6-1.8 3.7-1.3 3.6-3 3.6-1.1 3.6-5.5 3.6-2.7 3.6-.7 3.6 .5 3.7-4.8 3.6-1 3.6-.8 3.6-2.6 3.6-1.8 3.6-2.1 3.6-1.7 3.6 .9 3.7 8.3 3.6 13.6 3.6 12.1 3.6 10.9 3.6 1.1 3.6 2.5 1.1-2.4-3.6 1.1-3.6-4.9-3.6-12.3-3.6-12.5-3.6-11.8-3.6-6.3-3.6-2.7-3.7 0-3.6 4.2-3.6-.4-3.6 .6-3.6 2.8-3.6 3-3.6 .8-3.7 1.5-3.6 3.2-3.6 4.1-3.6-.1-3.6 2.6-3.6 3-3.6 1.4-3.6 1.4-3.7 4.1-3.6 .6-3.6 1.6-3.6 2.6-3.6 2.9-3.6-.4-3.6 2.6-3.6 4.6-3.7 1.4-3.6 5.5-3.6 7.3-3.6 11.3-3.6 15.7-3.6 5.2-3.6 2.8-3.6 6.3-3.7 3.6-3.6 17.9z" fill="url(#w19)" stroke="url(#w19)"/>
<path d="M586.6 439l3.6-17.9 3.7-3.6 3.6-6.3 3.6-2.8 3.6-5.2 3.6-15.7 3.6-11.3 3.6-7.3 3.6-5.5 3.7-1.4 3.6-4.6 3.6-2.6 3.6 .4 3.6-2.9 3.6-2.6 3.6-1.6 3.6-.6 3.7-4.1 3.6-1.4 3.6-1.4 3.6-3 3.6-2.6 3.6 .1 3.6-4.1 3.6-3.2 3.7-1.5 3.6-.8 3.6-3 3.6-2.8 3.6-.6 3.6 .4 3.6-4.2 3.7 0 3.6 2.7 3.6 6.3 3.6 11.8 3.6 12.5 3.6 12.3 3.6 4.9 3.6-1.1 1.2 0-3.6 0-3.7-5.8-3.6-7.5-3.6-14.2-3.6-13.6-3.6-8.4-3.6-1.4-3.6 1.8-3.7 1.6-3.6 2.3-3.6 3-3.6 .7-3.6 2.3-3.6 1.1-3.6 .2-3.6 5.6-3.7 1.9-3.6 .5-3.6 2.3-3.6 3-3.6 1.7-3.6 2.7-3.6 1.8-3.6 4.7-3.7-.9-3.6 3.2-3.6 0-3.6 3.9-3.6 2-3.6 1.8-3.6 1.8-3.6 7.7-3.7 7.3-3.6 9.6-3.6 16.7-3.6 4.5-3.6 4.1-3.6 4.6-3.6 5.7-3.6 11.4z" fill="url(#w20)" stroke="url(#w20)"/>
<path d="M587.8 434.4l3.6-11.4 3.6-5.7 3.6-4.6 3.6-4.1 3.6-4.5 3.6-16.7 3.6-9.6 3.7-7.3 3.6-7.7 3.6-1.8 3.6-1.8 3.6-2 3.6-3.9 3.6 0 3.6-3.2 3.7 .9 3.6-4.7 3.6-1.8 3.6-2.7 3.6-1.7 3.6-3 3.6-2.3 3.6-.5 3.7-1.9 3.6-5.6 3.6-.2 3.6-1.1 3.6-2.3 3.6-.7 3.6-3 3.6-2.3 3.7-1.6 3.6-1.8 3.6 1.4 3.6 8.4 3.6 13.6 3.6 14.2 3.6 7.5 3.7 5.8 3.6 0 1.1-.5-3.6-.4-3.6-4-3.7-12.3-3.6-15.3-3.6-8.9-3.6-6.8-3.6-3.9-3.6 .8-3.6-.7-3.6 3.4-3.7 2.9-3.6 3.1-3.6-.2-3.6 1.2-3.6 4.4-3.6 3.4-3.6 .8-3.6 1.3-3.7 1.5-3.6 3.1-3.6 0-3.6 5.1-3.6 1.3-3.6 .3-3.6 3.5-3.6 1.1-3.7 3.8-3.6 1-3.6 .4-3.6 2.9-3.6 5.5-3.6 3-3.6 11.1-3.6 7.8-3.7 20.2-3.6 3.1-3.6 1.8-3.6 4.5-3.6 6.8-3.6 14.6z" fill="url(#w21)" stroke="url(#w21)"/>
<path d="M588.9 435.4l3.6-14.6 3.6-6.8 3.6-4.5 3.6-1.8 3.6-3.1 3.7-20.2 3.6-7.8 3.6-11.1 3.6-3 3.6-5.5 3.6-2.9 3.6-.4 3.6-1 3.7-3.8 3.6-1.1 3.6-3.5 3.6-.3 3.6-1.3 3.6-5.1 3.6 0 3.6-3.1 3.7-1.5 3.6-1.3 3.6-.8 3.6-3.4 3.6-4.4 3.6-1.2 3.6 .2 3.6-3.1 3.7-2.9 3.6-3.4 3.6 .7 3.6-.8 3.6 3.9 3.6 6.8 3.6 8.9 3.6 15.3 3.7 12.3 3.6 4 3.6 .4 1.1 4.5-3.6-1.2-3.6-3.6-3.6-12.5-3.6-15.3-3.7-14.1-3.6-5.4-3.6-3-3.6 4.7-3.6 .6-3.6 2.3-3.6 2.6-3.6 .8-3.7 1.9-3.6 1.7-3.6 1-3.6 1.7-3.6 5.8-3.6-.8-3.6 2.3-3.6 1.4-3.7 4.1-3.6 2.6-3.6 1.3-3.6 3.5-3.6-.4-3.6 2.8-3.6-.7-3.6 4.6-3.7 .2-3.6 1.8-3.6 4.1-3.6 5.4-3.6 9.2-3.6 11.1-3.6 17.6-3.7 5.2-3.6 2.6-3.6 3.2-3.6 7-3.6 8.6z" fill="url(#w22)" stroke="url(#w22)"/>
<path d="M590 433.4l3.6-8.6 3.6-7 3.6-3.2 3.6-2.6 3.7-5.2 3.6-17.6 3.6-11.1 3.6-9.2 3.6-5.4 3.6-4.1 3.6-1.8 3.7-.2 3.6-4.6 3.6 .7 3.6-2.8 3.6 .4 3.6-3.5 3.6-1.3 3.6-2.6 3.7-4.1 3.6-1.4 3.6-2.3 3.6 .8 3.6-5.8 3.6-1.7 3.6-1 3.6-1.7 3.7-1.9 3.6-.8 3.6-2.6 3.6-2.3 3.6-.6 3.6-4.7 3.6 3 3.6 5.4 3.7 14.1 3.6 15.3 3.6 12.5 3.6 3.6 3.6 1.2 1.1-2.5-3.6-1-3.6-5.3-3.6-12-3.6-15.3-3.6-10.3-3.6-9.1-3.7-.1-3.6-.2-3.6 1.1-3.6 .7-3.6 .6-3.6 6.9-3.6-1.3-3.6 1.9-3.7 2.4-3.6 2.5-3.6 1.4-3.6 3-3.6 1.9-3.6 3-3.6 2.8-3.6-3-3.7 5.6-3.6 2.9-3.6 .5-3.6 3.7-3.6 1.6-3.6 1.3-3.6 2.9-3.7 2.5-3.6 2.1-3.6 6.3-3.6 9.3-3.6 8-3.6 17.6-3.6 4.5-3.6 6.1-3.7 4-3.6 .1-3.6 17.4z" fill="url(#w23)" stroke="url(#w23)"/>
<path d="M591.1 433.2l3.6-17.4 3.6-.1 3.7-4 3.6-6.1 3.6-4.5 3.6-17.6 3.6-8 3.6-9.3 3.6-6.3 3.6-2.1 3.7-2.5 3.6-2.9 3.6-1.3 3.6-1.6 3.6-3.7 3.6-.5 3.6-2.9 3.7-5.6 3.6 3 3.6-2.8 3.6-3 3.6-1.9 3.6-3 3.6-1.4 3.6-2.5 3.7-2.4 3.6-1.9 3.6 1.3 3.6-6.9 3.6-.6 3.6-.7 3.6-1.1 3.6 .2 3.7 .1 3.6 9.1 3.6 10.3 3.6 15.3 3.6 12 3.6 5.3 3.6 1 1.2-1.9-3.7-.1-3.6-6-3.6-10.3-3.6-15-3.6-12.2-3.6-8.1-3.6 1.8-3.6-3.6-3.7 3.9-3.6-.3-3.6 1.5-3.6 2.1-3.6 .8-3.6 2.9-3.6 1.5-3.6 3.5-3.7 1.4-3.6 2.6-3.6 .1-3.6 3.5-3.6 3.3-3.6 1.6-3.6 2-3.7 2.5-3.6 1.7-3.6 1-3.6 4.4-3.6 1.9-3.6-1.8-3.6 5.3-3.6 3.3-3.7 7-3.6 5.5-3.6 13-3.6 15.6-3.6 6.6-3.6 2.2-3.6 4.9-3.6 2.2-3.7 13.4z" fill="url(#w24)" stroke="url(#w24)"/>
<path d="M592.2 429.9l3.7-13.4 3.6-2.2 3.6-4.9 3.6-2.2 3.6-6.6 3.6-15.6 3.6-13 3.6-5.5 3.7-7 3.6-3.3 3.6-5.3 3.6 1.8 3.6-1.9 3.6-4.4 3.6-1 3.6-1.7 3.7-2.5 3.6-2 3.6-1.6 3.6-3.3 3.6-3.5 3.6-.1 3.6-2.6 3.7-1.4 3.6-3.5 3.6-1.5 3.6-2.9 3.6-.8 3.6-2.1 3.6-1.5 3.6 .3 3.7-3.9 3.6 3.6 3.6-1.8 3.6 8.1 3.6 12.2 3.6 15 3.6 10.3 3.6 6 3.7 .1 1.1 3.9-3.6-1.2-3.6-3.4-3.7-11.6-3.6-14.5-3.6-15.3-3.6-6.9-3.6-2.5-3.6 2.5-3.6-.3-3.6 2.6-3.7 4.1-3.6 1.4-3.6 2.5-3.6-1.2-3.6 4.2-3.6 2.9-3.6 .1-3.7 4-3.6 4-3.6-.8-3.6 2.1-3.6 1-3.6 3.9-3.6 2.4-3.6 .8-3.7 3.4-3.6 0-3.6 2.3-3.6-.1-3.6 6.8-3.6 .8-3.6 4.2-3.6 12-3.7 10.4-3.6 15.9-3.6 5.5-3.6 2.7-3.6 4-3.6 4.1-3.6 8.8z" fill="url(#w25)" stroke="url(#w25)"/>
<path d="M593.4 429.8l3.6-8.8 3.6-4.1 3.6-4 3.6-2.7 3.6-5.5 3.6-15.9 3.7-10.4 3.6-12 3.6-4.2 3.6-.8 3.6-6.8 3.6 .1 3.6-2.3 3.6 0 3.7-3.4 3.6-.8 3.6-2.4 3.6-3.9 3.6-1 3.6-2.1 3.6 .8 3.6-4 3.7-4 3.6-.1 3.6-2.9 3.6-4.2 3.6 1.2 3.6-2.5 3.6-1.4 3.7-4.1 3.6-2.6 3.6 .3 3.6-2.5 3.6 2.5 3.6 6.9 3.6 15.3 3.6 14.5 3.7 11.6 3.6 3.4 3.6 1.2 1.1-4.7-3.6-2.8-3.6-7.2-3.6-11.2-3.6-14-3.7-12.9-3.6-8.2-3.6-.9-3.6-2.2-3.6 2.3-3.6 4.7-3.6-1-3.7 2.1-3.6 1.1-3.6 1.3-3.6 1.9-3.6 2.3-3.6 2.7-3.6 2.8-3.6 2.1-3.7 3.3-3.6 1.7-3.6 0-3.6 2.4-3.6 1.2-3.6 2.2-3.6 4.2-3.6 .6-3.7 1.9-3.6 .4-3.6 4.3-3.6 1.5-3.6 6.8-3.6 10.3-3.6 11.6-3.6 19.5-3.7 .4-3.6 5-3.6 2.9-3.6 7.5-3.6 12.1z" fill="url(#w26)" stroke="url(#w26)"/>
<path d="M594.5 426.2l3.6-12.1 3.6-7.5 3.6-2.9 3.6-5 3.7-.4 3.6-19.5 3.6-11.6 3.6-10.3 3.6-6.8 3.6-1.5 3.6-4.3 3.6-.4 3.7-1.9 3.6-.6 3.6-4.2 3.6-2.2 3.6-1.2 3.6-2.4 3.6 0 3.6-1.7 3.7-3.3 3.6-2.1 3.6-2.8 3.6-2.7 3.6-2.3 3.6-1.9 3.6-1.3 3.6-1.1 3.7-2.1 3.6 1 3.6-4.7 3.6-2.3 3.6 2.2 3.6 .9 3.6 8.2 3.7 12.9 3.6 14 3.6 11.2 3.6 7.2 3.6 2.8 1.1 1-3.6 .6-3.6-7.1-3.6-12.6-3.6-13.8-3.6-15.7-3.6-6.9-3.7 .1-3.6-.7-3.6 3.9-3.6-1.1-3.6 4-3.6-1.2-3.6 1.6-3.7 3.3-3.6 1.6-3.6 5.6-3.6 2.5-3.6 0-3.6-.8-3.6 5.2-3.6 .8-3.7 1.2-3.6 4.3-3.6 2-3.6 2.5-3.6 .7-3.6 3.8-3.6 .5-3.6-.4-3.7 3.8-3.6 3.6-3.6 4.1-3.6 11.2-3.6 12.2-3.6 16.6-3.6 5.5-3.6 2.4-3.7 3.5-3.6 3.3-3.6 12.5z" fill="url(#w27)" stroke="url(#w27)"/>
<path d="M595.6 427.1l3.6-12.5 3.6-3.3 3.7-3.5 3.6-2.4 3.6-5.5 3.6-16.6 3.6-12.2 3.6-11.2 3.6-4.1 3.6-3.6 3.7-3.8 3.6 .4 3.6-.5 3.6-3.8 3.6-.7 3.6-2.5 3.6-2 3.6-4.3 3.7-1.2 3.6-.8 3.6-5.2 3.6 .8 3.6 0 3.6-2.5 3.6-5.6 3.6-1.6 3.7-3.3 3.6-1.6 3.6 1.2 3.6-4 3.6 1.1 3.6-3.9 3.6 .7 3.7-.1 3.6 6.9 3.6 15.7 3.6 13.8 3.6 12.6 3.6 7.1 3.6-.6 1.2-1.7-3.7 1.7-3.6-7.5-3.6-12.8-3.6-18-3.6-9.4-3.6-6.8-3.6-2.4-3.7-.8-3.6-.3-3.6 5.4-3.6-3-3.6 1.9-3.6 2.3-3.6 3.7-3.6 .7-3.7 3-3.6 2.5-3.6 .9-3.6 3.2-3.6 3.3-3.6-.8-3.6 3.4-3.6 4.3-3.7-1.2-3.6 3.7-3.6 2.7-3.6 .3-3.6 .7-3.6 3-3.6 4.8-3.6-.8-3.7 9.5-3.6 8.6-3.6 8.8-3.6 19.1-3.6 4.5-3.6 2.7-3.6 4.2-3.7 3.6-3.6 12.8z" fill="url(#w28)" stroke="url(#w28)"/>
<path d="M596.7 424.3l3.6-12.8 3.7-3.6 3.6-4.2 3.6-2.7 3.6-4.5 3.6-19.1 3.6-8.8 3.6-8.6 3.7-9.5 3.6 .8 3.6-4.8 3.6-3 3.6-.7 3.6-.3 3.6-2.7 3.6-3.7 3.7 1.2 3.6-4.3 3.6-3.4 3.6 .8 3.6-3.3 3.6-3.2 3.6-.9 3.6-2.5 3.7-3 3.6-.7 3.6-3.7 3.6-2.3 3.6-1.9 3.6 3 3.6-5.4 3.6 .3 3.7 .8 3.6 2.4 3.6 6.8 3.6 9.4 3.6 18 3.6 12.8 3.6 7.5 3.7-1.7 1.1 3.2-3.6 .5-3.7-.7-3.6-12.5-3.6-19.2-3.6-14.4-3.6-8.3-3.6-.2-3.6 2.7-3.6 2.3-3.7-.3-3.6 1.4-3.6 1.6-3.6 3.1-3.6-.1-3.6 1.7-3.6 4-3.6 3.2-3.7-1.1-3.6 6.8-3.6 .5-3.6 3.3-3.6 1.2-3.6 .4-3.6 1.8-3.6 4-3.7 1.8-3.6 3.5-3.6 .1-3.6 1.8-3.6 2.2-3.6 3.4-3.6 3.8-3.7 10.9-3.6 9.3-3.6 17-3.6 9.2-3.6 2.4-3.6 2.9-3.6 1.2-3.6 10.5z" fill="url(#w29)" stroke="url(#w29)"/>
<path d="M597.9 427.7l3.6-10.5 3.6-1.2 3.6-2.9 3.6-2.4 3.6-9.2 3.6-17 3.6-9.3 3.7-10.9 3.6-3.8 3.6-3.4 3.6-2.2 3.6-1.8 3.6-.1 3.6-3.5 3.7-1.8 3.6-4 3.6-1.8 3.6-.4 3.6-1.2 3.6-3.3 3.6-.5 3.6-6.8 3.7 1.1 3.6-3.2 3.6-4 3.6-1.7 3.6 .1 3.6-3.1 3.6-1.6 3.6-1.4 3.7 .3 3.6-2.3 3.6-2.7 3.6 .2 3.6 8.3 3.6 14.4 3.6 19.2 3.6 12.5 3.7 .7 3.6-.5 1.1 4.2-3.6-3.2-3.6-2.3-3.6-11.6-3.7-17.7-3.6-15.8-3.6-7.4-3.6-3.9-3.6 2.7-3.6 4.2-3.6 1.6-3.6 3.2-3.7-1-3.6 2.9-3.6-.5-3.6 4-3.6 1.8-3.6 4.1-3.6 3-3.6-.1-3.7 2.5-3.6 1.4-3.6 2.5-3.6 2.6-3.6 2.3-3.6 .3-3.6 2.6-3.7 3.4-3.6-.8-3.6 4.2-3.6 .5-3.6 4.9-3.6 2.4-3.6 13.2-3.6 10.5-3.7 19.3-3.6 3.9-3.6 1.6-3.6 2.8-3.6 4.3-3.6 8.8z" fill="url(#w30)" stroke="url(#w30)"/>
<path d="M599 427.4l3.6-8.8 3.6-4.3 3.6-2.8 3.6-1.6 3.6-3.9 3.7-19.3 3.6-10.5 3.6-13.2 3.6-2.4 3.6-4.9 3.6-.5 3.6-4.2 3.6 .8 3.7-3.4 3.6-2.6 3.6-.3 3.6-2.3 3.6-2.6 3.6-2.5 3.6-1.4 3.7-2.5 3.6 .1 3.6-3 3.6-4.1 3.6-1.8 3.6-4 3.6 .5 3.6-2.9 3.7 1 3.6-3.2 3.6-1.6 3.6-4.2 3.6-2.7 3.6 3.9 3.6 7.4 3.6 15.8 3.7 17.7 3.6 11.6 3.6 2.3 3.6 3.2 1.1-1.2-3.6-.8-3.6-4.6-3.6-14-3.6-15.7-3.6-15.8-3.7-7.5-3.6-2-3.6 2.4-3.6 3.6-3.6-1.1-3.6 1.6-3.6 1.7-3.6 2.8-3.7 1.5-3.6 0-3.6 2.6-3.6 5.2-3.6 .4-3.6 4.4-3.6-1.7-3.6 3.1-3.7 5.5-3.6-1.5-3.6 3.1-3.6 3-3.6 1.8-3.6 .1-3.6 3.9-3.7 2.1-3.6-1-3.6 2.8-3.6 6-3.6 11.7-3.6 11.5-3.6 19.4-3.6 5.1-3.7-.1-3.6 4.9-3.6 4.9-3.6 7.8z" fill="url(#w31)" stroke="url(#w31)"/>
<path d="M600.1 426.1l3.6-7.8 3.6-4.9 3.6-4.9 3.7 .1 3.6-5.1 3.6-19.4 3.6-11.5 3.6-11.7 3.6-6 3.6-2.8 3.6 1 3.7-2.1 3.6-3.9 3.6-.1 3.6-1.8 3.6-3 3.6-3.1 3.6 1.5 3.7-5.5 3.6-3.1 3.6 1.7 3.6-4.4 3.6-.4 3.6-5.2 3.6-2.6 3.6 0 3.7-1.5 3.6-2.8 3.6-1.7 3.6-1.6 3.6 1.1 3.6-3.6 3.6-2.4 3.6 2 3.7 7.5 3.6 15.8 3.6 15.7 3.6 14 3.6 4.6 3.6 .8 1.1-.4-3.6-1.5-3.6-7.6-3.6-10.7-3.6-16.1-3.6-15-3.6-9.2-3.6-1.3-3.7 4.1-3.6-1.9-3.6 3.8-3.6 .1-3.6 3.3-3.6 2.9-3.6-.8-3.6 4-3.7 1.7-3.6 1.3-3.6 3.2-3.6 2.9-3.6 1.8-3.6 3.9-3.6 .1-3.7 2.6-3.6-.1-3.6 3-3.6 3.9-3.6 .7-3.6 .7-3.6 2.6-3.6 1.2-3.7 3.1-3.6 7.3-3.6 9.9-3.6 10-3.6 19.8-3.6 5.4-3.6 3.1-3.6 2.9-3.7 4.1-3.6 10.4z" fill="url(#w32)" stroke="url(#w32)"/>
<path d="M601.2 428.2l3.6-10.4 3.7-4.1 3.6-2.9 3.6-3.1 3.6-5.4 3.6-19.8 3.6-10 3.6-9.9 3.6-7.3 3.7-3.1 3.6-1.2 3.6-2.6 3.6-.7 3.6-.7 3.6-3.9 3.6-3 3.6 .1 3.7-2.6 3.6-.1 3.6-3.9 3.6-1.8 3.6-2.9 3.6-3.2 3.6-1.3 3.7-1.7 3.6-4 3.6 .8 3.6-2.9 3.6-3.3 3.6-.1 3.6-3.8 3.6 1.9 3.7-4.1 3.6 1.3 3.6 9.2 3.6 15 3.6 16.1 3.6 10.7 3.6 7.6 3.6 1.5 1.2-2.8-3.6-1.5-3.7-4.8-3.6-12.9-3.6-17.5-3.6-15.9-3.6-5.1-3.6-3.4-3.6-.7-3.6 1.2-3.7 4.7-3.6 1.3-3.6 1.7-3.6 .2-3.6 2.9-3.6 .8-3.6 4.2-3.7 2.8-3.6 .8-3.6 3-3.6 .6-3.6 3.7-3.6 1.3-3.6 2.5-3.6 3.2-3.7 1.5-3.6 2.2-3.6 3.3-3.6 2.6-3.6-.4-3.6 2.2-3.6 1.2-3.6 7.4-3.7 10.3-3.6 10.7-3.6 18.5-3.6 5.3-3.6 3.7-3.6 4.6-3.6 6.8-3.6 11.7z" fill="url(#w33)" stroke="url(#w33)"/>
<path d="M602.4 430.5l3.6-11.7 3.6-6.8 3.6-4.6 3.6-3.7 3.6-5.3 3.6-18.5 3.6-10.7 3.7-10.3 3.6-7.4 3.6-1.2 3.6-2.2 3.6 .4 3.6-2.6 3.6-3.3 3.6-2.2 3.7-1.5 3.6-3.2 3.6-2.5 3.6-1.3 3.6-3.7 3.6-.6 3.6-3 3.6-.8 3.7-2.8 3.6-4.2 3.6-.8 3.6-2.9 3.6-.2 3.6-1.7 3.6-1.3 3.7-4.7 3.6-1.2 3.6 .7 3.6 3.4 3.6 5.1 3.6 15.9 3.6 17.5 3.6 12.9 3.7 4.8 3.6 1.5 1.1 2.1-3.6 .5-3.6-6.8-3.6-12.3-3.7-18-3.6-13.2-3.6-9-3.6-2.9-3.6 2.7-3.6 1.4-3.6 .6-3.7 1.3-3.6 0-3.6 3.8-3.6 2-3.6 5.6-3.6-1.9-3.6 1.1-3.6 3.4-3.7 1.3-3.6 3.6-3.6 2.9-3.6 4.4-3.6-.8-3.6 2.4-3.6 2.1-3.6 2.2-3.7 1-3.6 2.3-3.6 1.3-3.6 4-3.6 2.4-3.6 5.8-3.6 13.3-3.6 6.8-3.7 20.6-3.6 2.4-3.6 5.7-3.6 3.9-3.6 4.3-3.6 11.5z" fill="url(#w34)" stroke="url(#w34)"/>
<path d="M603.5 429.6l3.6-11.5 3.6-4.3 3.6-3.9 3.6-5.7 3.6-2.4 3.7-20.6 3.6-6.8 3.6-13.3 3.6-5.8 3.6-2.4 3.6-4 3.6-1.3 3.6-2.3 3.7-1 3.6-2.2 3.6-2.1 3.6-2.4 3.6 .8 3.6-4.4 3.6-2.9 3.6-3.6 3.7-1.3 3.6-3.4 3.6-1.1 3.6 1.9 3.6-5.6 3.6-2 3.6-3.8 3.6 0 3.7-1.3 3.6-.6 3.6-1.4 3.6-2.7 3.6 2.9 3.6 9 3.6 13.2 3.7 18 3.6 12.3 3.6 6.8 3.6-.5 1.1-.1-3.6 .1-3.6-5.2-3.6-11.7-3.6-17.1-3.7-15.6-3.6-8.1-3.6-4.8-3.6 6.5-3.6 1.3-3.6 .5-3.6 2.2-3.6 2.5-3.7 1.4-3.6 2.7-3.6 .8-3.6 4.2-3.6 0-3.6 1.9-3.6 2.5-3.6 4.2-3.7 2.2-3.6 .3-3.6 5.4-3.6-.3-3.6-.6-3.6 1.9-3.6 2.8-3.6 3.2-3.7 4-3.6 .6-3.6 .7-3.6 6.4-3.6 10.1-3.6 14.4-3.6 15.9-3.6 8-3.7 .2-3.6 9.3-3.6 2.5-3.6 14.2z" fill="url(#w35)" stroke="url(#w35)"/>
<path d="M604.6 437.3l3.6-14.2 3.6-2.5 3.6-9.3 3.7-.2 3.6-8 3.6-15.9 3.6-14.4 3.6-10.1 3.6-6.4 3.6-.7 3.6-.6 3.7-4 3.6-3.2 3.6-2.8 3.6-1.9 3.6 .6 3.6 .3 3.6-5.4 3.6-.3 3.7-2.2 3.6-4.2 3.6-2.5 3.6-1.9 3.6 0 3.6-4.2 3.6-.8 3.6-2.7 3.7-1.4 3.6-2.5 3.6-2.2 3.6-.5 3.6-1.3 3.6-6.5 3.6 4.8 3.6 8.1 3.7 15.6 3.6 17.1 3.6 11.7 3.6 5.2 3.6-.1 1.1 5.8-3.6-6.3-3.6-2-3.6-11.2-3.6-16.6-3.6-17.4-3.6-7.4-3.7-3.5-3.6 2.6-3.6 3.5-3.6 1.9-3.6 .4-3.6 2.7-3.6 2.6-3.6-1.9-3.7 5.4-3.6 1.8-3.6 4.2-3.6-.9-3.6 2.3-3.6 5.6-3.6-2.1-3.6 2.7-3.7 4.8-3.6 .4-3.6 2.2-3.6 3.1-3.6 .6-3.6 2.4-3.6-1.5-3.6 5.5-3.7 1.6-3.6 5.8-3.6 11.5-3.6 12.4-3.6 19-3.6 5.7-3.6 1.9-3.7 6-3.6 6.3-3.6 9.8z" fill="url(#w36)" stroke="url(#w36)"/>
<path d="M605.7 437.5l3.6-9.8 3.6-6.3 3.7-6 3.6-1.9 3.6-5.7 3.6-19 3.6-12.4 3.6-11.5 3.6-5.8 3.7-1.6 3.6-5.5 3.6 1.5 3.6-2.4 3.6-.6 3.6-3.1 3.6-2.2 3.6-.4 3.7-4.8 3.6-2.7 3.6 2.1 3.6-5.6 3.6-2.3 3.6 .9 3.6-4.2 3.6-1.8 3.7-5.4 3.6 1.9 3.6-2.6 3.6-2.7 3.6-.4 3.6-1.9 3.6-3.5 3.6-2.6 3.7 3.5 3.6 7.4 3.6 17.4 3.6 16.6 3.6 11.2 3.6 2 3.6 6.3 1.2-5-3.7 .1-3.6-3.9-3.6-12.7-3.6-17.4-3.6-16.7-3.6-9-3.6-1.9-3.6 5.3-3.7 1-3.6 4-3.6-1.6-3.6 1.7-3.6 2.3-3.6 3.6-3.6 .2-3.6 2.3-3.7 1.4-3.6 4.4-3.6-.1-3.6 2.5-3.6 2.6-3.6 .9-3.6 4.9-3.6 1.3-3.7 0-3.6 2.4-3.6 5.2-3.6 .4-3.6-1.6-3.6 4.5-3.6 2.1-3.7 7.4-3.6 12.6-3.6 9-3.6 19.1-3.6 5.8-3.6 2.7-3.6 5.8-3.6 5.4-3.7 15.6z" fill="url(#w37)" stroke="url(#w37)"/>
<path d="M606.8 440.2l3.7-15.6 3.6-5.4 3.6-5.8 3.6-2.7 3.6-5.8 3.6-19.1 3.6-9 3.6-12.6 3.7-7.4 3.6-2.1 3.6-4.5 3.6 1.6 3.6-.4 3.6-5.2 3.6-2.4 3.7 0 3.6-1.3 3.6-4.9 3.6-.9 3.6-2.6 3.6-2.5 3.6 .1 3.6-4.4 3.7-1.4 3.6-2.3 3.6-.2 3.6-3.6 3.6-2.3 3.6-1.7 3.6 1.6 3.6-4 3.7-1 3.6-5.3 3.6 1.9 3.6 9 3.6 16.7 3.6 17.4 3.6 12.7 3.6 3.9 3.7-.1 1.1-2.1-3.6-1.3-3.6-9.3-3.7-11.8-3.6-16.2-3.6-12.2-3.6-7.7-3.6-3.9-3.6 .6-3.6 0-3.6 3.2-3.7 1.6-3.6-.3-3.6 3.3-3.6 1-3.6 1.5-3.6 2.5-3.6 2-3.6 5.7-3.7-.1-3.6 4.7-3.6 .4-3.6 2.6-3.6-.5-3.6 3.6-3.6 1.2-3.7 3.8-3.6 1.3-3.6 1.9-3.6 1.5-3.6 1.9-3.6 2.7-3.6 8.4-3.6 8.6-3.7 10.2-3.6 21.3-3.6 6.8-3.6 2.9-3.6 6-3.6 3.5-3.6 21.6z" fill="url(#w38)" stroke="url(#w38)"/>
<path d="M608 439.5l3.6-21.6 3.6-3.5 3.6-6 3.6-2.9 3.6-6.8 3.6-21.3 3.7-10.2 3.6-8.6 3.6-8.4 3.6-2.7 3.6-1.9 3.6-1.5 3.6-1.9 3.6-1.3 3.7-3.8 3.6-1.2 3.6-3.6 3.6 .5 3.6-2.6 3.6-.4 3.6-4.7 3.7 .1 3.6-5.7 3.6-2 3.6-2.5 3.6-1.5 3.6-1 3.6-3.3 3.6 .3 3.7-1.6 3.6-3.2 3.6 0 3.6-.6 3.6 3.9 3.6 7.7 3.6 12.2 3.6 16.2 3.7 11.8 3.6 9.3 3.6 1.3 1.1 4.5-3.6-3.2-3.6-3.6-3.6-10.5-3.6-18.8-3.7-16.6-3.6-8.8-3.6 .1-3.6 1.5-3.6 1.1-3.6 2.8-3.6 1.8-3.6 1.1-3.7 .6-3.6 4.4-3.6 1-3.6 4.2-3.6 1.4-3.6 .4-3.6 5-3.7 .4-3.6 2.4-3.6 3.4-3.6 3.5-3.6-1.2-3.6 1.7-3.6 3.9-3.6 .9-3.7 3.3-3.6 .2-3.6 .7-3.6 3.3-3.6 7.3-3.6 10.7-3.6 12.2-3.6 19-3.7 5.8-3.6 3.9-3.6 4.7-3.6 9.4-3.6 11z" fill="url(#w39)" stroke="url(#w39)"/>
<path d="M609.1 441.4l3.6-11 3.6-9.4 3.6-4.7 3.6-3.9 3.7-5.8 3.6-19 3.6-12.2 3.6-10.7 3.6-7.3 3.6-3.3 3.6-.7 3.6-.2 3.7-3.3 3.6-.9 3.6-3.9 3.6-1.7 3.6 1.2 3.6-3.5 3.6-3.4 3.6-2.4 3.7-.4 3.6-5 3.6-.4 3.6-1.4 3.6-4.2 3.6-1 3.6-4.4 3.7-.6 3.6-1.1 3.6-1.8 3.6-2.8 3.6-1.1 3.6-1.5 3.6-.1 3.6 8.8 3.7 16.6 3.6 18.8 3.6 10.5 3.6 3.6 3.6 3.2 1.1-3.3-3.6-.2-3.6-6.5-3.6-12.9-3.6-14.9-3.6-14.9-3.6-8.7-3.7-2.9-3.6 2.1-3.6 1.9-3.6 1.4-3.6 .5-3.6 2.9-3.6 1.1-3.7 0-3.6 3.6-3.6 1.6-3.6 4.7-3.6-.5-3.6 3.6-3.6 .8-3.6 2.6-3.7 5-3.6-1-3.6 1.5-3.6 3.9-3.6 2.1-3.6 .5-3.6 5.4-3.6-1.3-3.7 2.1-3.6 3.9-3.6 6.6-3.6 8.6-3.6 14-3.6 18.9-3.6 4.6-3.6 4-3.7 4.7-3.6 8.4-3.6 15.4z" fill="url(#w40)" stroke="url(#w40)"/>
<path d="M610.2 440.3l3.6-15.4 3.6-8.4 3.7-4.7 3.6-4 3.6-4.6 3.6-18.9 3.6-14 3.6-8.6 3.6-6.6 3.6-3.9 3.7-2.1 3.6 1.3 3.6-5.4 3.6-.5 3.6-2.1 3.6-3.9 3.6-1.5 3.6 1 3.7-5 3.6-2.6 3.6-.8 3.6-3.6 3.6 .5 3.6-4.7 3.6-1.6 3.6-3.6 3.7 0 3.6-1.1 3.6-2.9 3.6-.5 3.6-1.4 3.6-1.9 3.6-2.1 3.7 2.9 3.6 8.7 3.6 14.9 3.6 14.9 3.6 12.9 3.6 6.5 3.6 .2 1.2 .2-3.7-1-3.6-5.3-3.6-12.9-3.6-19.1-3.6-15.4-3.6-5-3.6-2.1-3.6-3-3.7 4.1-3.6 1.6-3.6 2.2-3.6 1.8-3.6 1.3-3.6 2.6-3.6-.2-3.7 4-3.6 .8-3.6 5.4-3.6 .6-3.6 2.1-3.6 1.7-3.6 4.2-3.6-.3-3.7 3.2-3.6 1.2-3.6 2.6-3.6 0-3.6 4.8-3.6 .8-3.6 3.5-3.6 2.6-3.7 4.9-3.6 12.5-3.6 10.9-3.6 20.6-3.6 4.5-3.6 5-3.6 4.4-3.6 5.2-3.7 16.4z" fill="url(#w41)" stroke="url(#w41)"/>
<path d="M611.3 439.1l3.7-16.4 3.6-5.2 3.6-4.4 3.6-5 3.6-4.5 3.6-20.6 3.6-10.9 3.6-12.5 3.7-4.9 3.6-2.6 3.6-3.5 3.6-.8 3.6-4.8 3.6 0 3.6-2.6 3.6-1.2 3.7-3.2 3.6 .3 3.6-4.2 3.6-1.7 3.6-2.1 3.6-.6 3.6-5.4 3.6-.8 3.7-4 3.6 .2 3.6-2.6 3.6-1.3 3.6-1.8 3.6-2.2 3.6-1.6 3.7-4.1 3.6 3 3.6 2.1 3.6 5 3.6 15.4 3.6 19.1 3.6 12.9 3.6 5.3 3.7 1 1.1 6.4-3.6-.9-3.6-3.3-3.7-11.8-3.6-16.2-3.6-18.3-3.6-9.1-3.6 1-3.6 3.8-3.6 3.9-3.7-.1-3.6 2-3.6 1.2-3.6 .1-3.6 3.1-3.6 4.2-3.6 2.3-3.6 2.2-3.7-.8-3.6 3.9-3.6 2-3.6 1.2-3.6 2.2-3.6 2.2-3.6 2.4-3.6 1.5-3.7 1.7-3.6 3.2-3.6 2.2-3.6 1.5-3.6-.2-3.6 6.3-3.6 4.4-3.6 8.5-3.7 13.8-3.6 16.1-3.6 6.5-3.6 2-3.6 6.6-3.6 6.1-3.6 12.2z" fill="url(#w42)" stroke="url(#w42)"/>
<path d="M612.5 443.9l3.6-12.2 3.6-6.1 3.6-6.6 3.6-2 3.6-6.5 3.6-16.1 3.7-13.8 3.6-8.5 3.6-4.4 3.6-6.3 3.6 .2 3.6-1.5 3.6-2.2 3.6-3.2 3.7-1.7 3.6-1.5 3.6-2.4 3.6-2.2 3.6-2.2 3.6-1.2 3.6-2 3.6-3.9 3.7 .8 3.6-2.2 3.6-2.3 3.6-4.2 3.6-3.1 3.6-.1 3.6-1.2 3.6-2 3.7 .1 3.6-3.9 3.6-3.8 3.6-1 3.6 9.1 3.6 18.3 3.6 16.2 3.7 11.8 3.6 3.3 3.6 .9 1.1-6-3.6 .9-3.6-2.6-3.6-13.3-3.7-14.5-3.6-12-3.6-9.3-3.6-1.9-3.6-1.3-3.6 3-3.6 4.6-3.6 1.7-3.7 2-3.6-.6-3.6 2-3.6 4-3.6 3.1-3.6 .7-3.6 1.4-3.6 3.6-3.7 1.6-3.6 1.4-3.6 .1-3.6 3.8-3.6 1.9-3.6 3.7-3.6-.9-3.6 4.5-3.7 1.9-3.6 1.4-3.6 .6-3.6 2.5-3.6 5.6-3.6 11.7-3.6 11.5-3.7 15.9-3.6 7.8-3.6-.1-3.6 5.7-3.6 6.2-3.6 14.7z" fill="url(#w43)" stroke="url(#w43)"/>
<path d="M613.6 441.3l3.6-14.7 3.6-6.2 3.6-5.7 3.6 .1 3.6-7.8 3.7-15.9 3.6-11.5 3.6-11.7 3.6-5.6 3.6-2.5 3.6-.6 3.6-1.4 3.7-1.9 3.6-4.5 3.6 .9 3.6-3.7 3.6-1.9 3.6-3.8 3.6-.1 3.6-1.4 3.7-1.6 3.6-3.6 3.6-1.4 3.6-.7 3.6-3.1 3.6-4 3.6-2 3.6 .6 3.7-2 3.6-1.7 3.6-4.6 3.6-3 3.6 1.3 3.6 1.9 3.6 9.3 3.6 12 3.7 14.5 3.6 13.3 3.6 2.6 3.6-.9 1.1-1.5-3.6 1.8-3.6-8.8-3.6-13-3.6-12.8-3.6-11-3.7-5.2-3.6-1.6-3.6-2.4-3.6 1.9-3.6 .2-3.6 2.8-3.6 1.8-3.6 2-3.7 1.1-3.6 1.1-3.6 5.8-3.6 2.9-3.6 2.8-3.6-.3-3.6 1.4-3.6 3.7-3.7 2.1-3.6 1.3-3.6 1.9-3.6 1.4-3.6 2.9-3.6 1.2-3.6 3.1-3.7 1.6-3.6 .7-3.6 3.7-3.6 3.9-3.6 7.8-3.6 11.6-3.6 19.4-3.6 3.8-3.7 5.8-3.6 1.4-3.6 7.6-3.6 14.4z" fill="url(#w44)" stroke="url(#w44)"/>
<path d="M614.7 436.6l3.6-14.4 3.6-7.6 3.6-1.4 3.7-5.8 3.6-3.8 3.6-19.4 3.6-11.6 3.6-7.8 3.6-3.9 3.6-3.7 3.6-.7 3.7-1.6 3.6-3.1 3.6-1.2 3.6-2.9 3.6-1.4 3.6-1.9 3.6-1.3 3.7-2.1 3.6-3.7 3.6-1.4 3.6 .3 3.6-2.8 3.6-2.9 3.6-5.8 3.6-1.1 3.7-1.1 3.6-2 3.6-1.8 3.6-2.8 3.6-.2 3.6-1.9 3.6 2.4 3.6 1.6 3.7 5.2 3.6 11 3.6 12.8 3.6 13 3.6 8.8 3.6-1.8 1.1 8.9-3.6 1.2-3.6-5-3.6-11-3.6-12.8-3.6-17.3-3.6-6.7-3.6-4.4-3.7 8.3-3.6 2.6-3.6-1.2-3.6 2.7-3.6 3.2-3.6 3.7-3.6-.1-3.6 1.3-3.7 2.6-3.6 3.9-3.6-.2-3.6 4.8-3.6 .7-3.6 2.3-3.6 0-3.6 3.7-3.7 3.3-3.6 1-3.6 .1-3.6 2-3.6 3.5-3.6 1.5-3.6 2.9-3.7 3.1-3.6 5.4-3.6 9-3.6 11.1-3.6 15.9-3.6 7.5-3.6 0-3.6 4.2-3.7 3.9-3.6 10.5z" fill="url(#w45)" stroke="url(#w45)"/>
<path d="M615.8 442.9l3.6-10.5 3.7-3.9 3.6-4.2 3.6 0 3.6-7.5 3.6-15.9 3.6-11.1 3.6-9 3.6-5.4 3.7-3.1 3.6-2.9 3.6-1.5 3.6-3.5 3.6-2 3.6-.1 3.6-1 3.7-3.3 3.6-3.7 3.6 0 3.6-2.3 3.6-.7 3.6-4.8 3.6 .2 3.6-3.9 3.7-2.6 3.6-1.3 3.6 .1 3.6-3.7 3.6-3.2 3.6-2.7 3.6 1.2 3.6-2.6 3.7-8.3 3.6 4.4 3.6 6.7 3.6 17.3 3.6 12.8 3.6 11 3.6 5 3.6-1.2 1.2-4.4-3.6 1.5-3.7-5.3-3.6-12.9-3.6-13.2-3.6-12.9-3.6-8.9-3.6-.2-3.6 2.3-3.6-.9-3.7 3.6-3.6 4.3-3.6-2.2-3.6 1.1-3.6 2.7-3.6 5.7-3.6-.4-3.6 4.5-3.7 1.4-3.6 2.1-3.6 1.6-3.6 1.3-3.6 1.8-3.6 2.3-3.6 1.1-3.7 3.3-3.6 .7-3.6 4.2-3.6-.2-3.6 2.8-3.6 4.1-3.6 1.5-3.6 4.6-3.7 9-3.6 11.3-3.6 15.8-3.6 7.4-3.6 2-3.6 3.8-3.6 4.3-3.6 13.8z" fill="url(#w46)" stroke="url(#w46)"/>
<path d="M617 440.1l3.6-13.8 3.6-4.3 3.6-3.8 3.6-2 3.6-7.4 3.6-15.8 3.6-11.3 3.7-9 3.6-4.6 3.6-1.5 3.6-4.1 3.6-2.8 3.6 .2 3.6-4.2 3.6-.7 3.7-3.3 3.6-1.1 3.6-2.3 3.6-1.8 3.6-1.3 3.6-1.6 3.6-2.1 3.7-1.4 3.6-4.5 3.6 .4 3.6-5.7 3.6-2.7 3.6-1.1 3.6 2.2 3.6-4.3 3.7-3.6 3.6 .9 3.6-2.3 3.6 .2 3.6 8.9 3.6 12.9 3.6 13.2 3.6 12.9 3.7 5.3 3.6-1.5 1.1 1.2-3.6-2.8-3.6-3.9-3.6-10.1-3.7-15.9-3.6-13.6-3.6-8.5-3.6 1.1-3.6 1.5-3.6 1.5-3.6 1.6-3.6 2.3-3.7 .5-3.6 1.5-3.6 2.1-3.6 2.4-3.6 1.9-3.6 1.9-3.6 2.1-3.7 3.6-3.6 2.4-3.6 4.9-3.6-.5-3.6 1-3.6 3.6-3.6-.5-3.6 2.4-3.7 1.3-3.6 3.7-3.6 1.2-3.6 3.5-3.6 2-3.6 3.5-3.6 11.9-3.6 7.5-3.7 20.7-3.6 4.8-3.6 1.5-3.6 5.4-3.6 5.8-3.6 12.1z" fill="url(#w47)" stroke="url(#w47)"/>
<path d="M618.1 439.9l3.6-12.1 3.6-5.8 3.6-5.4 3.6-1.5 3.6-4.8 3.7-20.7 3.6-7.5 3.6-11.9 3.6-3.5 3.6-2 3.6-3.5 3.6-1.2 3.6-3.7 3.7-1.3 3.6-2.4 3.6 .5 3.6-3.6 3.6-1 3.6 .5 3.6-4.9 3.6-2.4 3.7-3.6 3.6-2.1 3.6-1.9 3.6-1.9 3.6-2.4 3.6-2.1 3.6-1.5 3.7-.5 3.6-2.3 3.6-1.6 3.6-1.5 3.6-1.5 3.6-1.1 3.6 8.5 3.6 13.6 3.7 15.9 3.6 10.1 3.6 3.9 3.6 2.8 1.1 1.9-3.6-1.5-3.6-8.2-3.6-6.7-3.6-13.9-3.6-15.3-3.7-8.2-3.6-1.2-3.6 4.3-3.6-.6-3.6 2.2-3.6 1.2-3.6 4.2-3.7 1.3-3.6 .2-3.6 4.9-3.6-.1-3.6 2-3.6 4.3-3.6 1.8-3.6 .3-3.7 1-3.6 2-3.6 3.8-3.6 1.9-3.6 3.9-3.6 2-3.6 4.2-3.6-.8-3.7 2.3-3.6-.2-3.6 5.2-3.6 5.3-3.6 10.1-3.6 7.8-3.6 18.4-3.6 5.7-3.7 1.7-3.6 4.4-3.6 6.7-3.6 6.6z" fill="url(#w48)" stroke="url(#w48)"/>
<path d="M619.2 437.4l3.6-6.6 3.6-6.7 3.6-4.4 3.7-1.7 3.6-5.7 3.6-18.4 3.6-7.8 3.6-10.1 3.6-5.3 3.6-5.2 3.6 .2 3.7-2.3 3.6 .8 3.6-4.2 3.6-2 3.6-3.9 3.6-1.9 3.6-3.8 3.6-2 3.7-1 3.6-.3 3.6-1.8 3.6-4.3 3.6-2 3.6 .1 3.6-4.9 3.6-.2 3.7-1.3 3.6-4.2 3.6-1.2 3.6-2.2 3.6 .6 3.6-4.3 3.6 1.2 3.7 8.2 3.6 15.3 3.6 13.9 3.6 6.7 3.6 8.2 3.6 1.5 1.1-3.8-3.6-2.4-3.6-3-3.6-13.7-3.6-11.6-3.6-15-3.6-5.6-3.7-1.6-3.6-.1-3.6 .4-3.6 4.5-3.6-1-3.6 2.7-3.6 1.8-3.6 2.4-3.7 0-3.6 4.7-3.6 2.2-3.6 2.6-3.6 1.2-3.6 2.8-3.6 1.9-3.6 4.5-3.7-.6-3.6 3-3.6 2.9-3.6-1.1-3.6 2-3.6 1.2-3.6 3.4-3.6 2.9-3.7 2-3.6 5.3-3.6 8.6-3.6 11.5-3.6 16.7-3.6 4.9-3.6 5.4-3.6 2-3.7 3-3.6 14.1z" fill="url(#w49)" stroke="url(#w49)"/>
<path d="M620.3 435.5l3.6-14.1 3.7-3 3.6-2 3.6-5.4 3.6-4.9 3.6-16.7 3.6-11.5 3.6-8.6 3.6-5.3 3.7-2 3.6-2.9 3.6-3.4 3.6-1.2 3.6-2 3.6 1.1 3.6-2.9 3.6-3 3.7 .6 3.6-4.5 3.6-1.9 3.6-2.8 3.6-1.2 3.6-2.6 3.6-2.2 3.6-4.7 3.7 0 3.6-2.4 3.6-1.8 3.6-2.7 3.6 1 3.6-4.5 3.6-.4 3.6 .1 3.7 1.6 3.6 5.6 3.6 15 3.6 11.6 3.6 13.7 3.6 3 3.6 2.4 1.2 .6-3.7 2.3-3.6-5.3-3.6-14-3.6-14.6-3.6-12.1-3.6-6.2-3.6-3.2-3.6 1-3.7 .6-3.6 4.7-3.6 1.4-3.6 1.3-3.6 2.4-3.6 .8-3.6 .9-3.6 2.4-3.7 5.2-3.6 2.4-3.6-1.3-3.6 3.3-3.6 3.8-3.6 .9-3.6 2.8-3.6-.8-3.7 6.2-3.6 0-3.6 2.5-3.6-.1-3.6 3-3.6 3.5-3.6 1.8-3.6 4-3.7 9.7-3.6 12.4-3.6 15.5-3.6 5.8-3.6 2.7-3.6 2.3-3.6 4.4-3.7 10z" fill="url(#w50)" stroke="url(#w50)"/>
<path d="M621.4 433.6l3.7-10 3.6-4.4 3.6-2.3 3.6-2.7 3.6-5.8 3.6-15.5 3.6-12.4 3.7-9.7 3.6-4 3.6-1.8 3.6-3.5 3.6-3 3.6 .1 3.6-2.5 3.6 0 3.7-6.2 3.6 .8 3.6-2.8 3.6-.9 3.6-3.8 3.6-3.3 3.6 1.3 3.6-2.4 3.7-5.2 3.6-2.4 3.6-.9 3.6-.8 3.6-2.4 3.6-1.3 3.6-1.4 3.6-4.7 3.7-.6 3.6-1 3.6 3.2 3.6 6.2 3.6 12.1 3.6 14.6 3.6 14 3.6 5.3 3.7-2.3 1.1 3.7-3.6 .8-3.6-5-3.7-7.6-3.6-16.6-3.6-17.9-3.6-5.1-3.6-1.9-3.6 5.9-3.6 1.1-3.6-.6-3.7 1.4-3.6 4-3.6 2-3.6 1.3-3.6 2.5-3.6 .7-3.6 3.4-3.6 2.4-3.7 1.5-3.6 3.8-3.6 2.8-3.6-.2-3.6 3-3.6 2.6-3.6 1.4-3.6 .9-3.7 1.8-3.6 1.3-3.6 2.2-3.6 2.4-3.6 3.5-3.6 4-3.6 9-3.7 11.9-3.6 17.8-3.6 5.2-3.6-.1-3.6 4.5-3.6 2.4-3.6 9.9z" fill="url(#w51)" stroke="url(#w51)"/>
<path d="M622.6 437.3l3.6-9.9 3.6-2.4 3.6-4.5 3.6 .1 3.6-5.2 3.6-17.8 3.7-11.9 3.6-9 3.6-4 3.6-3.5 3.6-2.4 3.6-2.2 3.6-1.3 3.7-1.8 3.6-.9 3.6-1.4 3.6-2.6 3.6-3 3.6 .2 3.6-2.8 3.6-3.8 3.7-1.5 3.6-2.4 3.6-3.4 3.6-.7 3.6-2.5 3.6-1.3 3.6-2 3.6-4 3.7-1.4 3.6 .6 3.6-1.1 3.6-5.9 3.6 1.9 3.6 5.1 3.6 17.9 3.6 16.6 3.7 7.6 3.6 5 3.6-.8 1.1-4-3.6-3.4-3.6-3.7-3.6-12.1-3.6-16.8-3.7-9.7-3.6-6.7-3.6-.2-3.6-.9-3.6 .5-3.6 .7-3.6 3.8-3.6 1.1-3.7 2.9-3.6 1.1-3.6-.2-3.6 3.3-3.6 2.5-3.6 1.5-3.6 3.3-3.6 2.9-3.7 1-3.6-.1-3.6 4.1-3.6 1.6-3.6 3.7-3.6 1.5-3.6 .7-3.7 1.3-3.6 4.5-3.6 .3-3.6 4.1-3.6 4.4-3.6 9-3.6 9.5-3.6 21.3-3.7 1.9-3.6 3.4-3.6 2.9-3.6 1.9-3.6 12.1z" fill="url(#w52)" stroke="url(#w52)"/>
<path d="M623.7 429.9l3.6-12.1 3.6-1.9 3.6-2.9 3.6-3.4 3.7-1.9 3.6-21.3 3.6-9.5 3.6-9 3.6-4.4 3.6-4.1 3.6-.3 3.6-4.5 3.7-1.3 3.6-.7 3.6-1.5 3.6-3.7 3.6-1.6 3.6-4.1 3.6 .1 3.7-1 3.6-2.9 3.6-3.3 3.6-1.5 3.6-2.5 3.6-3.3 3.6 .2 3.6-1.1 3.7-2.9 3.6-1.1 3.6-3.8 3.6-.7 3.6-.5 3.6 .9 3.6 .2 3.6 6.7 3.7 9.7 3.6 16.8 3.6 12.1 3.6 3.7 3.6 3.4 1.1 1.2-3.6-1.4-3.6-6.2-3.6-11.2-3.6-16.1-3.6-11.9-3.6-6.9-3.7 1.4-3.6-.3-3.6-1.3-3.6 2.7-3.6 2-3.6-.5-3.6 2.4-3.6 2.1-3.7 3.7-3.6 .7-3.6 4.7-3.6 1.2-3.6 2.7-3.6 2.4-3.6 .4-3.7 .1-3.6 6.1-3.6-1.5-3.6 3.7-3.6 1.1-3.6 4.1-3.6 .8-3.6 1-3.7 1.6-3.6 3.3-3.6 7.8-3.6 8.4-3.6 9.1-3.6 16.1-3.6 4.5-3.6 5-3.7 2.9-3.6 2.6-3.6 10.2z" fill="url(#w53)" stroke="url(#w53)"/>
<path d="M624.8 429.6l3.6-10.2 3.6-2.6 3.7-2.9 3.6-5 3.6-4.5 3.6-16.1 3.6-9.1 3.6-8.4 3.6-7.8 3.6-3.3 3.7-1.6 3.6-1 3.6-.8 3.6-4.1 3.6-1.1 3.6-3.7 3.6 1.5 3.6-6.1 3.7-.1 3.6-.4 3.6-2.4 3.6-2.7 3.6-1.2 3.6-4.7 3.6-.7 3.7-3.7 3.6-2.1 3.6-2.4 3.6 .5 3.6-2 3.6-2.7 3.6 1.3 3.6 .3 3.7-1.4 3.6 6.9 3.6 11.9 3.6 16.1 3.6 11.2 3.6 6.2 3.6 1.4 1.2-.1-3.7-.7-3.6-8.9-3.6-11.9-3.6-11.6-3.6-13.8-3.6-6.1-3.6-1-3.6-3.9-3.7 3.7-3.6 2.3-3.6-1.5-3.6 4.4-3.6 .6-3.6 2-3.6 1.7-3.7 5-3.6 2.2-3.6 3-3.6 1.2-3.6 1.1-3.6 2.5-3.6-1.2-3.6 6.2-3.7 1.7-3.6 .3-3.6 1.2-3.6 3.3-3.6 1.9-3.6 .6-3.6 2.2-3.6 4-3.7 7.1-3.6 9.8-3.6 6.9-3.6 18-3.6 5.2-3.6 3.3-3.6 1-3.6 2-3.7 9.1z" fill="url(#w54)" stroke="url(#w54)"/>
<path d="M625.9 424.9l3.7-9.1 3.6-2 3.6-1 3.6-3.3 3.6-5.2 3.6-18 3.6-6.9 3.6-9.8 3.7-7.1 3.6-4 3.6-2.2 3.6-.6 3.6-1.9 3.6-3.3 3.6-1.2 3.6-.3 3.7-1.7 3.6-6.2 3.6 1.2 3.6-2.5 3.6-1.1 3.6-1.2 3.6-3 3.6-2.2 3.7-5 3.6-1.7 3.6-2 3.6-.6 3.6-4.4 3.6 1.5 3.6-2.3 3.7-3.7 3.6 3.9 3.6 1 3.6 6.1 3.6 13.8 3.6 11.6 3.6 11.9 3.6 8.9 3.7 .7 1.1-4.7-3.6 1.7-3.6-7.4-3.7-12.9-3.6-15.6-3.6-8.3-3.6-9-3.6-2.1-3.6 .2-3.6-.2-3.7 3.1-3.6 2.5-3.6 3.2-3.6-.5-3.6 .4-3.6 3.3-3.6 2.6-3.6 2.9-3.7-.4-3.6 4.2-3.6 1.7-3.6 3.4-3.6 1.4-3.6 2.8-3.6-.1-3.6 1.7-3.7 2.6-3.6 2.9-3.6 .8-3.6 2.5-3.6 .8-3.6 4.2-3.6 6-3.6 10.4-3.7 9.5-3.6 16.9-3.6 4.3-3.6 3.4-3.6 1.4-3.6 3.9-3.6 5.6z" fill="url(#w55)" stroke="url(#w55)"/>
<path d="M627.1 421.1l3.6-5.6 3.6-3.9 3.6-1.4 3.6-3.4 3.6-4.3 3.6-16.9 3.7-9.5 3.6-10.4 3.6-6 3.6-4.2 3.6-.8 3.6-2.5 3.6-.8 3.6-2.9 3.7-2.6 3.6-1.7 3.6 .1 3.6-2.8 3.6-1.4 3.6-3.4 3.6-1.7 3.6-4.2 3.7 .4 3.6-2.9 3.6-2.6 3.6-3.3 3.6-.4 3.6 .5 3.6-3.2 3.6-2.5 3.7-3.1 3.6 .2 3.6-.2 3.6 2.1 3.6 9 3.6 8.3 3.6 15.6 3.7 12.9 3.6 7.4 3.6-1.7 1.1 4.1-3.6 .1-3.6-7.1-3.6-9.7-3.6-14.6-3.7-13.2-3.6-6.3-3.6-3.5-3.6 1.4-3.6 2.5-3.6 2.4-3.6 .3-3.7 2.3-3.6-.1-3.6 3.2-3.6 2.1-3.6 3.4-3.6 .3-3.6 .9-3.6 5.2-3.7 .8-3.6 3.4-3.6 0-3.6 3.8-3.6 2.5-3.6 .7-3.6 2.5-3.6 .9-3.7 3.2-3.6 1.6-3.6 2.4-3.6 1.3-3.6 6-3.6 10.6-3.6 9-3.6 17.7-3.7 2.8-3.6 2.5-3.6 3.3-3.6 1.4-3.6 7z" fill="url(#w56)" stroke="url(#w56)"/>
<path d="M628.2 424.4l3.6-7 3.6-1.4 3.6-3.3 3.6-2.5 3.7-2.8 3.6-17.7 3.6-9 3.6-10.6 3.6-6 3.6-1.3 3.6-2.4 3.6-1.6 3.7-3.2 3.6-.9 3.6-2.5 3.6-.7 3.6-2.5 3.6-3.8 3.6 0 3.6-3.4 3.7-.8 3.6-5.2 3.6-.9 3.6-.3 3.6-3.4 3.6-2.1 3.6-3.2 3.6 .1 3.7-2.3 3.6-.3 3.6-2.4 3.6-2.5 3.6-1.4 3.6 3.5 3.6 6.3 3.7 13.2 3.6 14.6 3.6 9.7 3.6 7.1 3.6-.1 1.1 2-3.6-1.5-3.6-5.9-3.6-13.2-3.6-13-3.6-13.3-3.7-5.7-3.6-2.8-3.6 1.6-3.6 .4-3.6 3.4-3.6 3-3.6-1.2-3.6 2-3.7 2.1-3.6 4.5-3.6 2-3.6 .9-3.6 1.5-3.6 2.4-3.6 3.1-3.6 2.5-3.7-.4-3.6 4-3.6 3.8-3.6-.5-3.6 1.2-3.6 4.2-3.6 .9-3.6 2.3-3.7 0-3.6 3.4-3.6 3.5-3.6 13.4-3.6 9.6-3.6 16.2-3.6 4.5-3.7-.5-3.6 3.5-3.6 1.3-3.6 3.6z" fill="url(#w57)" stroke="url(#w57)"/>
<path d="M629.3 420.2l3.6-3.6 3.6-1.3 3.6-3.5 3.7 .5 3.6-4.5 3.6-16.2 3.6-9.6 3.6-13.4 3.6-3.5 3.6-3.4 3.7 0 3.6-2.3 3.6-.9 3.6-4.2 3.6-1.2 3.6 .5 3.6-3.8 3.6-4 3.7 .4 3.6-2.5 3.6-3.1 3.6-2.4 3.6-1.5 3.6-.9 3.6-2 3.6-4.5 3.7-2.1 3.6-2 3.6 1.2 3.6-3 3.6-3.4 3.6-.4 3.6-1.6 3.6 2.8 3.7 5.7 3.6 13.3 3.6 13 3.6 13.2 3.6 5.9 3.6 1.5 1.1 1.2-3.6-.2-3.6-3.8-3.6-8.9-3.6-17.8-3.6-14.9-3.6-6.8-3.6-.8-3.7 3-3.6 1.2-3.6 3.6-3.6 2.5-3.6-2-3.6 4.1-3.6 .6-3.6 4.1-3.7 2.4-3.6 1.4-3.6 3.3-3.6 2.8-3.6 .1-3.6 3-3.6 1.4-3.6 5.7-3.7-1.8-3.6 3.7-3.6-.7-3.6 4.8-3.6 .2-3.6 2.6-3.6 2.7-3.7 4.1-3.6 4.5-3.6 7.6-3.6 10.6-3.6 17.7-3.6 5.5-3.6-1.1-3.6 2.3-3.7-.4-3.6 .9z" fill="url(#w58)" stroke="url(#w58)"/>
<path d="M630.4 421.8l3.6-.9 3.7 .4 3.6-2.3 3.6 1.1 3.6-5.5 3.6-17.7 3.6-10.6 3.6-7.6 3.6-4.5 3.7-4.1 3.6-2.7 3.6-2.6 3.6-.2 3.6-4.8 3.6 .7 3.6-3.7 3.7 1.8 3.6-5.7 3.6-1.4 3.6-3 3.6-.1 3.6-2.8 3.6-3.3 3.6-1.4 3.7-2.4 3.6-4.1 3.6-.6 3.6-4.1 3.6 2 3.6-2.5 3.6-3.6 3.6-1.2 3.7-3 3.6 .8 3.6 6.8 3.6 14.9 3.6 17.8 3.6 8.9 3.6 3.8 3.6 .2 1.2-3.5-3.6-1.7-3.7-4.4-3.6-14.4-3.6-13.4-3.6-10.5-3.6-8.1-3.6-1.2-3.6-.3-3.6 4.4-3.7 2.2-3.6 .2-3.6 1.5-3.6 1.5-3.6 1-3.6 4.9-3.6-.6-3.6 4-3.7 2.1-3.6 .6-3.6 2.7-3.6 2.4-3.6 1-3.6 2.9-3.6 .9-3.7 2.2-3.6 3.6-3.6 3.1-3.6-.9-3.6 1.4-3.6 1.8-3.6 4.1-3.6 4.1-3.7 10.3-3.6 9.2-3.6 19.5-3.6 .1-3.6 3.6-3.6 1-3.6 1.4-3.6 4.5z" fill="url(#w59)" stroke="url(#w59)"/>
<path d="M631.6 417.8l3.6-4.5 3.6-1.4 3.6-1 3.6-3.6 3.6-.1 3.6-19.5 3.6-9.2 3.7-10.3 3.6-4.1 3.6-4.1 3.6-1.8 3.6-1.4 3.6 .9 3.6-3.1 3.6-3.6 3.7-2.2 3.6-.9 3.6-2.9 3.6-1 3.6-2.4 3.6-2.7 3.6-.6 3.7-2.1 3.6-4 3.6 .6 3.6-4.9 3.6-1 3.6-1.5 3.6-1.5 3.6-.2 3.7-2.2 3.6-4.4 3.6 .3 3.6 1.2 3.6 8.1 3.6 10.5 3.6 13.4 3.6 14.4 3.7 4.4 3.6 1.7 1.1 4.1-3.6-2.6-3.6-.3-3.6-13.3-3.7-13.9-3.6-19.1-3.6-4-3.6-2.7-3.6 2.4-3.6 3.9-3.6-.2-3.6 2.5-3.7 1.9-3.6 .6-3.6 2.5-3.6 3.1-3.6 1.7-3.6 5.2-3.6 1.2-3.6 .3-3.7 1.6-3.6 1.7-3.6 3.1-3.6 2.2-3.6 2.1-3.6 .2-3.6 1.7-3.7 .6-3.6 5.2-3.6-.4-3.6 3.5-3.6 3.7-3.6 4.3-3.6 10.6-3.6 11.7-3.7 15.8-3.6 .8-3.6 .6-3.6 2.6-3.6 .8-3.6 3.7z" fill="url(#w60)" stroke="url(#w60)"/>
<path d="M632.7 420.5l3.6-3.7 3.6-.8 3.6-2.6 3.6-.6 3.6-.8 3.7-15.8 3.6-11.7 3.6-10.6 3.6-4.3 3.6-3.7 3.6-3.5 3.6 .4 3.6-5.2 3.7-.6 3.6-1.7 3.6-.2 3.6-2.1 3.6-2.2 3.6-3.1 3.6-1.7 3.7-1.6 3.6-.3 3.6-1.2 3.6-5.2 3.6-1.7 3.6-3.1 3.6-2.5 3.6-.6 3.7-1.9 3.6-2.5 3.6 .2 3.6-3.9 3.6-2.4 3.6 2.7 3.6 4 3.6 19.1 3.7 13.9 3.6 13.3 3.6 .3 3.6 2.6 1.1 .1-3.6-1.8-3.6-5.7-3.6-9.4-3.6-15.1-3.6-16.9-3.7-6.3-3.6 1-3.6 1.2-3.6 2.6-3.6-.4-3.6 4.7-3.6 0-3.6-.2-3.7 3.2-3.6 4.7-3.6 .5-3.6 1.6-3.6 1.9-3.6 1.6-3.6 3-3.7 2.6-3.6 2.4-3.6 .7-3.6 5.9-3.6-2.4-3.6 5-3.6 .5-3.6 .5-3.7 3.2-3.6 1.3-3.6 1.9-3.6 9.1-3.6 7.1-3.6 10.6-3.6 17.3-3.6 5.9-3.7-1.1-3.6 .3-3.6-1.4-3.6 .4z" fill="url(#w61)" stroke="url(#w61)"/>
<path d="M633.8 415.3l3.6-.4 3.6 1.4 3.6-.3 3.7 1.1 3.6-5.9 3.6-17.3 3.6-10.6 3.6-7.1 3.6-9.1 3.6-1.9 3.6-1.3 3.7-3.2 3.6-.5 3.6-.5 3.6-5 3.6 2.4 3.6-5.9 3.6-.7 3.6-2.4 3.7-2.6 3.6-3 3.6-1.6 3.6-1.9 3.6-1.6 3.6-.5 3.6-4.7 3.7-3.2 3.6 .2 3.6 0 3.6-4.7 3.6 .4 3.6-2.6 3.6-1.2 3.6-1 3.7 6.3 3.6 16.9 3.6 15.1 3.6 9.4 3.6 5.7 3.6 1.8 1.1 0-3.6 1.7-3.6-2.5-3.6-14.8-3.6-11-3.6-17.3-3.6-6.8-3.6-2.7-3.7 3.9-3.6 2.1-3.6-.2-3.6 1.7-3.6 4.5-3.6-.7-3.6 3.4-3.7 .1-3.6 5-3.6 2.2-3.6-.3-3.6 4-3.6 1-3.6 2.6-3.6 3.7-3.7 3-3.6-.1-3.6 4.2-3.6-1-3.6 2.7-3.6 1.8-3.6 2.4-3.6-.1-3.7 5.6-3.6 5.3-3.6 8.5-3.6 9.9-3.6 17.7-3.6 3.6-3.6 1.4-3.6-3.1-3.7 2.1-3.6 .3z" fill="url(#w62)" stroke="url(#w62)"/>
<path d="M634.9 419.1l3.6-.3 3.7-2.1 3.6 3.1 3.6-1.4 3.6-3.6 3.6-17.7 3.6-9.9 3.6-8.5 3.6-5.3 3.7-5.6 3.6 .1 3.6-2.4 3.6-1.8 3.6-2.7 3.6 1 3.6-4.2 3.6 .1 3.7-3 3.6-3.7 3.6-2.6 3.6-1 3.6-4 3.6 .3 3.6-2.2 3.6-5 3.7-.1 3.6-3.4 3.6 .7 3.6-4.5 3.6-1.7 3.6 .2 3.6-2.1 3.7-3.9 3.6 2.7 3.6 6.8 3.6 17.3 3.6 11 3.6 14.8 3.6 2.5 3.6-1.7 1.2 .4-3.6 .8-3.7-6.1-3.6-9.1-3.6-16.5-3.6-16.6-3.6-7.8-3.6 1.1-3.6 3-3.7 1.1-3.6 3.8-3.6 .4-3.6 .8-3.6 .6-3.6 4.6-3.6 2.3-3.6 1-3.7 2.7-3.6 3.3-3.6 1.3-3.6 4.5-3.6-1.2-3.6 .3-3.6 4.7-3.6 2.1-3.7 .7-3.6 2.2-3.6 4.3-3.6-.8-3.6 2.3-3.6 2.3-3.6 3.4-3.6 5.1-3.7 9.3-3.6 11.3-3.6 17.5-3.6 2.4-3.6 .5-3.6 1.5-3.6-1.3-3.7 2.1z" fill="url(#w63)" stroke="url(#w63)"/>
<path d="M636 419.6l3.7-2.1 3.6 1.3 3.6-1.5 3.6-.5 3.6-2.4 3.6-17.5 3.6-11.3 3.7-9.3 3.6-5.1 3.6-3.4 3.6-2.3 3.6-2.3 3.6 .8 3.6-4.3 3.6-2.2 3.7-.7 3.6-2.1 3.6-4.7 3.6-.3 3.6 1.2 3.6-4.5 3.6-1.3 3.6-3.3 3.7-2.7 3.6-1 3.6-2.3 3.6-4.6 3.6-.6 3.6-.8 3.6-.4 3.6-3.8 3.7-1.1 3.6-3 3.6-1.1 3.6 7.8 3.6 16.6 3.6 16.5 3.6 9.1 3.7 6.1 3.6-.8 1.1-2.3-3.6 3.2-3.6-6.7-3.7-10.3-3.6-16.3-3.6-14.4-3.6-9.8-3.6-.8-3.6 6.6-3.6-.4-3.6 3-3.7 .8-3.6 1.1-3.6 2.1-3.6 0-3.6 6.6-3.6 .3-3.6 1.9-3.6 1.8-3.7 1.8-3.6 3.9-3.6-.8-3.6 4.1-3.6 1-3.6 3.1-3.6-.2-3.6 1.9-3.7 2.5-3.6 1.7-3.6 2.9-3.6 .7-3.6 4.3-3.6 6.4-3.6 7.9-3.6 11.6-3.7 15.6-3.6 3.9-3.6 1.2-3.6-.1-3.6 1-3.6 1.5z" fill="url(#w64)" stroke="url(#w64)"/>
<path d="M637.2 418l3.6-1.5 3.6-1 3.6 .1 3.6-1.2 3.6-3.9 3.7-15.6 3.6-11.6 3.6-7.9 3.6-6.4 3.6-4.3 3.6-.7 3.6-2.9 3.6-1.7 3.7-2.5 3.6-1.9 3.6 .2 3.6-3.1 3.6-1 3.6-4.1 3.6 .8 3.6-3.9 3.7-1.8 3.6-1.8 3.6-1.9 3.6-.3 3.6-6.6 3.6 0 3.6-2.1 3.6-1.1 3.7-.8 3.6-3 3.6 .4 3.6-6.6 3.6 .8 3.6 9.8 3.6 14.4 3.6 16.3 3.7 10.3 3.6 6.7 3.6-3.2 1.1-2.5-3.6-2.1-3.6-3.5-3.6-15.4-3.6-12.2-3.7-12.2-3.6-9.2-3.6 1.7-3.6-3.9-3.6 2.8-3.6 2.8-3.6 1.4-3.6 .6-3.7 3.1-3.6 .6-3.6 1.8-3.6 4.7-3.6 .1-3.6 3.1-3.6 1.8-3.6 1.2-3.7 2.3-3.6 5.3-3.6-.9-3.6 3-3.6 .8-3.6 2.4-3.6 2.9-3.6 .4-3.7 3.7-3.6-.3-3.6 4-3.6 6-3.6 8-3.6 10.6-3.6 19.2-3.7 1.9-3.6 2.7-3.6-.8-3.6 .5-3.6 5.2z" fill="url(#w65)" stroke="url(#w65)"/>
<path d="M638.3 415l3.6-5.2 3.6-.5 3.6 .8 3.6-2.7 3.7-1.9 3.6-19.2 3.6-10.6 3.6-8 3.6-6 3.6-4 3.6 .3 3.7-3.7 3.6-.4 3.6-2.9 3.6-2.4 3.6-.8 3.6-3 3.6 .9 3.6-5.3 3.7-2.3 3.6-1.2 3.6-1.8 3.6-3.1 3.6-.1 3.6-4.7 3.6-1.8 3.6-.6 3.7-3.1 3.6-.6 3.6-1.4 3.6-2.8 3.6-2.8 3.6 3.9 3.6-1.7 3.6 9.2 3.7 12.2 3.6 12.2 3.6 15.4 3.6 3.5 3.6 2.1 1.1 8.9-3.6-1.9-3.6-1.8-3.6-10.1-3.6-15.6-3.6-17-3.6-8.2-3.7-3.1-3.6 9.7-3.6 .3-3.6 2.6-3.6-.7-3.6-.1-3.6 2.8-3.6 3.5-3.7 1.8-3.6 2.7-3.6 3.3-3.6 1.6-3.6-.1-3.6 4.2-3.6 1.7-3.6 2-3.7 1.1-3.6 5.5-3.6 1.7-3.6 .7-3.6-.4-3.6 2.7-3.6 3.6-3.7 .8-3.6 1.6-3.6 6.7-3.6 10.7-3.6 7.2-3.6 18.2-3.6 5.4-3.6 1.8-3.7-2.1-3.6 .4-3.6-2.5z" fill="url(#w66)" stroke="url(#w66)"/>
<path d="M639.4 420.5l3.6 2.5 3.6-.4 3.7 2.1 3.6-1.8 3.6-5.4 3.6-18.2 3.6-7.2 3.6-10.7 3.6-6.7 3.6-1.6 3.7-.8 3.6-3.6 3.6-2.7 3.6 .4 3.6-.7 3.6-1.7 3.6-5.5 3.7-1.1 3.6-2 3.6-1.7 3.6-4.2 3.6 .1 3.6-1.6 3.6-3.3 3.6-2.7 3.7-1.8 3.6-3.5 3.6-2.8 3.6 .1 3.6 .7 3.6-2.6 3.6-.3 3.6-9.7 3.7 3.1 3.6 8.2 3.6 17 3.6 15.6 3.6 10.1 3.6 1.8 3.6 1.9 1.2-1.1-3.7-.8-3.6-4.6-3.6-10.1-3.6-15.4-3.6-18-3.6-7.5-3.6 1.1-3.6 5.7-3.7 .5-3.6-.8-3.6 2.3-3.6 3.7-3.6 2.1-3.6 2.7-3.6 1.4-3.6 0-3.7 2.4-3.6 3.4-3.6 2.9-3.6-.8-3.6 4.9-3.6 2-3.6 .8-3.7 4-3.6 1.7-3.6 2.5-3.6-.1-3.6 4.3-3.6 .5-3.6 2.4-3.6 2.4-3.7 6.6-3.6 10.1-3.6 7.8-3.6 18.6-3.6 4.3-3.6-.8-3.6 3.8-3.6-2.9-3.7 1z" fill="url(#w67)" stroke="url(#w67)"/>
<path d="M640.5 422.8l3.7-1 3.6 2.9 3.6-3.8 3.6 .8 3.6-4.3 3.6-18.6 3.6-7.8 3.6-10.1 3.7-6.6 3.6-2.4 3.6-2.4 3.6-.5 3.6-4.3 3.6 .1 3.6-2.5 3.6-1.7 3.7-4 3.6-.8 3.6-2 3.6-4.9 3.6 .8 3.6-2.9 3.6-3.4 3.7-2.4 3.6 0 3.6-1.4 3.6-2.7 3.6-2.1 3.6-3.7 3.6-2.3 3.6 .8 3.7-.5 3.6-5.7 3.6-1.1 3.6 7.5 3.6 18 3.6 15.4 3.6 10.1 3.6 4.6 3.7 .8 1.1-3.5-3.6-.5-3.6-5.2-3.7-11.2-3.6-17.3-3.6-11.1-3.6-8.1-3.6-5-3.6 3.5-3.6 1.9-3.6 3.4-3.7 1-3.6 .2-3.6 2.3-3.6 2.1-3.6-.1-3.6 5.4-3.6 1.8-3.7-.1-3.6 5.1-3.6 1.7-3.6 2.8-3.6 1-3.6 3.5-3.6-1.2-3.6 3.4-3.7 4.1-3.6 .3-3.6 3.5-3.6-.6-3.6 3.6-3.6 .5-3.6 6.7-3.6 8.1-3.7 11.6-3.6 16.6-3.6 4.6-3.6 .5-3.6 1.9-3.6 .2-3.6 1.4z" fill="url(#w68)" stroke="url(#w68)"/>
<path d="M641.7 417.5l3.6-1.4 3.6-.2 3.6-1.9 3.6-.5 3.6-4.6 3.6-16.6 3.7-11.6 3.6-8.1 3.6-6.7 3.6-.5 3.6-3.6 3.6 .6 3.6-3.5 3.6-.3 3.7-4.1 3.6-3.4 3.6 1.2 3.6-3.5 3.6-1 3.6-2.8 3.6-1.7 3.6-5.1 3.7 .1 3.6-1.8 3.6-5.4 3.6 .1 3.6-2.1 3.6-2.3 3.6-.2 3.7-1 3.6-3.4 3.6-1.9 3.6-3.5 3.6 5 3.6 8.1 3.6 11.1 3.6 17.3 3.7 11.2 3.6 5.2 3.6 .5 1.1-3.7-3.6-1.5-3.6-5.9-3.6-14.1-3.6-12-3.7-10.9-3.6-8.7-3.6-.2-3.6-1.8-3.6 .8-3.6 2.9-3.6-.5-3.7 2.5-3.6 2.9-3.6 .3-3.6 2.8-3.6 4.5-3.6 .4-3.6 3.6-3.6 1.7-3.7 2.4-3.6 1.9-3.6-.4-3.6 3.5-3.6 1-3.6 3.4-3.6 1.4-3.6 1.9-3.7 3.5-3.6 2.5-3.6 1-3.6 3.7-3.6 5.1-3.6 8.4-3.6 12.2-3.6 13.1-3.7 4.7-3.6 3.5-3.6-1.2-3.6 1.2-3.6 4.1z" fill="url(#w69)" stroke="url(#w69)"/>
<path d="M642.8 415.2l3.6-4.1 3.6-1.2 3.6 1.2 3.6-3.5 3.7-4.7 3.6-13.1 3.6-12.2 3.6-8.4 3.6-5.1 3.6-3.7 3.6-1 3.6-2.5 3.7-3.5 3.6-1.9 3.6-1.4 3.6-3.4 3.6-1 3.6-3.5 3.6 .4 3.6-1.9 3.7-2.4 3.6-1.7 3.6-3.6 3.6-.4 3.6-4.5 3.6-2.8 3.6-.3 3.6-2.9 3.7-2.5 3.6 .5 3.6-2.9 3.6-.8 3.6 1.8 3.6 .2 3.6 8.7 3.7 10.9 3.6 12 3.6 14.1 3.6 5.9 3.6 1.5 1.1 2.2-3.6-1-3.6-4.3-3.6-13.5-3.6-12.9-3.6-12.1-3.6-7.6-3.7-2.1-3.6-.6-3.6 3.5-3.6 .5-3.6 .1-3.6 4.2-3.6 .9-3.7 3.3-3.6 .9-3.6 .8-3.6 3.2-3.6 2-3.6 2.5-3.6 1-3.6 3-3.7 3-3.6 2.4-3.6 2.1-3.6 2.6-3.6 1.2-3.6 2.9-3.6-.1-3.6 3.7-3.7 .8-3.6 4.5-3.6 4.6-3.6 7.3-3.6 9.2-3.6 18.6-3.6 5.8-3.6-.3-3.7-.3-3.6 .9-3.6 2.9z" fill="url(#w70)" stroke="url(#w70)"/>
<path d="M643.9 417.3l3.6-2.9 3.6-.9 3.7 .3 3.6 .3 3.6-5.8 3.6-18.6 3.6-9.2 3.6-7.3 3.6-4.6 3.6-4.5 3.7-.8 3.6-3.7 3.6 .1 3.6-2.9 3.6-1.2 3.6-2.6 3.6-2.1 3.6-2.4 3.7-3 3.6-3 3.6-1 3.6-2.5 3.6-2 3.6-3.2 3.6-.8 3.6-.9 3.7-3.3 3.6-.9 3.6-4.2 3.6-.1 3.6-.5 3.6-3.5 3.6 .6 3.7 2.1 3.6 7.6 3.6 12.1 3.6 12.9 3.6 13.5 3.6 4.3 3.6 1 1.2 5.5-3.7 .6-3.6-1.8-3.6-11.6-3.6-13-3.6-21.5-3.6-4.9-3.6-3.2-3.7 5.6-3.6 3.9-3.6 1-3.6 .6-3.6 3.9-3.6 1.3-3.6 2.7-3.6 2-3.7-.5-3.6 3.2-3.6 2.2-3.6 3-3.6 1.8-3.6 2.4-3.6 2.7-3.6 2.7-3.7 2-3.6 2.3-3.6 1.7-3.6 1.4-3.6-.3-3.6 3-3.6 2.4-3.6 1.1-3.7 6.9-3.6 11.8-3.6 8.2-3.6 17.4-3.6 4.6-3.6 .3-3.6-2.8-3.7 3.2-3.6-1.1z" fill="url(#w71)" stroke="url(#w71)"/>
<path d="M645 424.4l3.6 1.1 3.7-3.2 3.6 2.8 3.6-.3 3.6-4.6 3.6-17.4 3.6-8.2 3.6-11.8 3.7-6.9 3.6-1.1 3.6-2.4 3.6-3 3.6 .3 3.6-1.4 3.6-1.7 3.6-2.3 3.7-2 3.6-2.7 3.6-2.7 3.6-2.4 3.6-1.8 3.6-3 3.6-2.2 3.6-3.2 3.7 .5 3.6-2 3.6-2.7 3.6-1.3 3.6-3.9 3.6-.6 3.6-1 3.6-3.9 3.7-5.6 3.6 3.2 3.6 4.9 3.6 21.5 3.6 13 3.6 11.6 3.6 1.8 3.7-.6 1.1 1.8-3.6 2.2-3.7-3.2-3.6-11.1-3.6-12.3-3.6-22.4-3.6-6-3.6-2.3-3.6 6.4-3.6 4.8-3.7-1-3.6 3.1-3.6 .2-3.6 4.1-3.6-.1-3.6 7.2-3.6-.8-3.6 1.5-3.7 3-3.6 1-3.6 .7-3.6 4.7-3.6 2.5-3.6-.5-3.6 3.4-3.6 1.4-3.7 2.3-3.6 3.2-3.6 2.6-3.6 1.9-3.6-3.2-3.6 5.6-3.6 7.3-3.7 8.9-3.6 9.8-3.6 16.3-3.6 4.4-3.6 .2-3.6 .9-3.6 .5-3.6-1.5z" fill="url(#w72)" stroke="url(#w72)"/>
<path d="M646.2 426.7l3.6 1.5 3.6-.5 3.6-.9 3.6-.2 3.6-4.4 3.6-16.3 3.6-9.8 3.7-8.9 3.6-7.3 3.6-5.6 3.6 3.2 3.6-1.9 3.6-2.6 3.6-3.2 3.7-2.3 3.6-1.4 3.6-3.4 3.6 .5 3.6-2.5 3.6-4.7 3.6-.7 3.6-1 3.7-3 3.6-1.5 3.6 .8 3.6-7.2 3.6 .1 3.6-4.1 3.6-.2 3.6-3.1 3.7 1 3.6-4.8 3.6-6.4 3.6 2.3 3.6 6 3.6 22.4 3.6 12.3 3.6 11.1 3.7 3.2 3.6-2.2 1.1-4.6-3.6-2.2-3.6-6.6-3.6-9.2-3.7-15.6-3.6-10.6-3.6-6.4-3.6-5-3.6 .3-3.6 3.5-3.6 2.8-3.6 2.1-3.7-.9-3.6 4.6-3.6-1.9-3.6 3.4-3.6 3.2-3.6 4.1-3.6 .4-3.6 3.5-3.7-.1-3.6 4.2-3.6 .6-3.6 2.8-3.6 .2-3.6 4.8-3.6 1.2-3.7 2.5-3.6-.1-3.6 2.1-3.6 1.2-3.6 2.8-3.6 6.2-3.6 9.5-3.6 11.6-3.7 14.8-3.6 6.8-3.6-1.3-3.6-.9-3.6 1.9-3.6 3z" fill="url(#w73)" stroke="url(#w73)"/>
<path d="M647.3 419.7l3.6-3 3.6-1.9 3.6 .9 3.6 1.3 3.6-6.8 3.7-14.8 3.6-11.6 3.6-9.5 3.6-6.2 3.6-2.8 3.6-1.2 3.6-2.1 3.6 .1 3.7-2.5 3.6-1.2 3.6-4.8 3.6-.2 3.6-2.8 3.6-.6 3.6-4.2 3.7 .1 3.6-3.5 3.6-.4 3.6-4.1 3.6-3.2 3.6-3.4 3.6 1.9 3.6-4.6 3.7 .9 3.6-2.1 3.6-2.8 3.6-3.5 3.6-.3 3.6 5 3.6 6.4 3.6 10.6 3.7 15.6 3.6 9.2 3.6 6.6 3.6 2.2 1.1 1.7-3.6 .1-3.6-5.7-3.6-9.2-3.6-15.2-3.6-14.5-3.7-7.1-3.6-.8-3.6 2.4-3.6 3.1-3.6-1.1-3.6 1.9-3.6 2.3-3.6-.4-3.7 2.3-3.6 3-3.6 3.3-3.6 3.3-3.6 3-3.6-2.3-3.6 5.2-3.6 3.6-3.7 .9-3.6 2.5-3.6 .3-3.6 1.2-3.6 4.1-3.6 1.3-3.6 2.9-3.7 .4-3.6 1.3-3.6 3.4-3.6 4.2-3.6 12.8-3.6 8.5-3.6 18.4-3.6 2.5-3.7 .7-3.6-.2-3.6 1.2-3.6 2z" fill="url(#w74)" stroke="url(#w74)"/>
<path d="M648.4 423.7l3.6-2 3.6-1.2 3.6 .2 3.7-.7 3.6-2.5 3.6-18.4 3.6-8.5 3.6-12.8 3.6-4.2 3.6-3.4 3.6-1.3 3.7-.4 3.6-2.9 3.6-1.3 3.6-4.1 3.6-1.2 3.6-.3 3.6-2.5 3.7-.9 3.6-3.6 3.6-5.2 3.6 2.3 3.6-3 3.6-3.3 3.6-3.3 3.6-3 3.7-2.3 3.6 .4 3.6-2.3 3.6-1.9 3.6 1.1 3.6-3.1 3.6-2.4 3.6 .8 3.7 7.1 3.6 14.5 3.6 15.2 3.6 9.2 3.6 5.7 3.6-.1 1.1 1.9-3.6-2.1-3.6-3-3.6-8.4-3.6-17.9-3.6-14.8-3.6-8.5-3.6-1.1-3.7 3.2-3.6 3-3.6 2.6-3.6 2.4-3.6 2.4-3.6 .2-3.6 2.8-3.6 2.3-3.7-1.8-3.6 3.6-3.6 3.2-3.6 1.2-3.6 3.4-3.6 2.5-3.6 2.3-3.7 2.8-3.6 2.9-3.6 .7-3.6 2.5-3.6 1.4-3.6 2.6-3.6 1.1-3.6 2.7-3.7 1-3.6 6.5-3.6 9.8-3.6 10.9-3.6 15.7-3.6 4.1-3.6 .8-3.6-.6-3.7 1.9-3.6 .9z" fill="url(#w75)" stroke="url(#w75)"/>
<path d="M649.5 425.2l3.6-.9 3.7-1.9 3.6 .6 3.6-.8 3.6-4.1 3.6-15.7 3.6-10.9 3.6-9.8 3.6-6.5 3.7-1 3.6-2.7 3.6-1.1 3.6-2.6 3.6-1.4 3.6-2.5 3.6-.7 3.6-2.9 3.7-2.8 3.6-2.3 3.6-2.5 3.6-3.4 3.6-1.2 3.6-3.2 3.6-3.6 3.7 1.8 3.6-2.3 3.6-2.8 3.6-.2 3.6-2.4 3.6-2.4 3.6-2.6 3.6-3 3.7-3.2 3.6 1.1 3.6 8.5 3.6 14.8 3.6 17.9 3.6 8.4 3.6 3 3.6 2.1 1.2-6.2-3.6-.9-3.7-5.2-3.6-12.1-3.6-14.4-3.6-10.1-3.6-3.8-3.6-7.3-3.6 2.5-3.6-.2-3.7 3.8-3.6 .1-3.6 .9-3.6 4.9-3.6-1.1-3.6 4.8-3.6 .4-3.7 2-3.6 3.4-3.6 1.5-3.6 2.9-3.6 0-3.6-.3-3.6 6.7-3.6 .9-3.7 1.9-3.6 .3-3.6 2.1-3.6 3.9-3.6 2.7-3.6 1.5-3.6 3.1-3.6 4.8-3.7 8.1-3.6 10.9-3.6 16.1-3.6 4-3.6 .3-3.6 1.6-3.6 2.9-3.6 3.1z" fill="url(#w76)" stroke="url(#w76)"/>
<path d="M650.7 420.5l3.6-3.1 3.6-2.9 3.6-1.6 3.6-.3 3.6-4 3.6-16.1 3.6-10.9 3.7-8.1 3.6-4.8 3.6-3.1 3.6-1.5 3.6-2.7 3.6-3.9 3.6-2.1 3.6-.3 3.7-1.9 3.6-.9 3.6-6.7 3.6 .3 3.6 0 3.6-2.9 3.6-1.5 3.6-3.4 3.7-2 3.6-.4 3.6-4.8 3.6 1.1 3.6-4.9 3.6-.9 3.6-.1 3.7-3.8 3.6 .2 3.6-2.5 3.6 7.3 3.6 3.8 3.6 10.1 3.6 14.4 3.6 12.1 3.7 5.2 3.6 .9 1.1 2-3.6-2.9-3.6-5.8-3.6-13-3.7-12.7-3.6-10.7-3.6-7.7-3.6-1.2-3.6-.9-3.6 1.7-3.6 1.4-3.7 4-3.6-1.1-3.6 3.3-3.6 1.7-3.6 1.5-3.6 1.1-3.6 2.9-3.6 3.6-3.7 2.7-3.6 1.3-3.6 1.1-3.6 2.1-3.6 1.4-3.6 3.1-3.6 3.7-3.6-1.4-3.7 7.6-3.6-3-3.6 2.8-3.6 2.1-3.6 1.1-3.6 6.3-3.6 8.7-3.6 10.9-3.7 17.5-3.6 4.6-3.6-1.4-3.6 2.9-3.6 .2-3.6 7.8z" fill="url(#w77)" stroke="url(#w77)"/>
<path d="M651.8 423.1l3.6-7.8 3.6-.2 3.6-2.9 3.6 1.4 3.6-4.6 3.7-17.5 3.6-10.9 3.6-8.7 3.6-6.3 3.6-1.1 3.6-2.1 3.6-2.8 3.6 3 3.7-7.6 3.6 1.4 3.6-3.7 3.6-3.1 3.6-1.4 3.6-2.1 3.6-1.1 3.6-1.3 3.7-2.7 3.6-3.6 3.6-2.9 3.6-1.1 3.6-1.5 3.6-1.7 3.6-3.3 3.6 1.1 3.7-4 3.6-1.4 3.6-1.7 3.6 .9 3.6 1.2 3.6 7.7 3.6 10.7 3.7 12.7 3.6 13 3.6 5.8 3.6 2.9 1.1 1.5-3.6-.8-3.6-6-3.6-11.9-3.6-11.9-3.7-13.4-3.6-9.3-3.6-.1-3.6-.5-3.6 3.7-3.6 2.5-3.6 .4-3.6-1.3-3.7 5.6-3.6-.1-3.6 5-3.6-.2-3.6 2.3-3.6 2.7-3.6 2-3.6 2.9-3.7 3.1-3.6 1.5-3.6 .6-3.6 .9-3.6 4.4-3.6 1.4-3.6 2.4-3.6 .8-3.7 2.5-3.6 1.2-3.6 3.5-3.6 5.8-3.6 6.9-3.6 12.1-3.6 16.4-3.6 5.6-3.7 .4-3.6 .2-3.6 .4-3.6 9.1z" fill="url(#w78)" stroke="url(#w78)"/>
<path d="M652.9 428.1l3.6-9.1 3.6-.4 3.6-.2 3.7-.4 3.6-5.6 3.6-16.4 3.6-12.1 3.6-6.9 3.6-5.8 3.6-3.5 3.6-1.2 3.7-2.5 3.6-.8 3.6-2.4 3.6-1.4 3.6-4.4 3.6-.9 3.6-.6 3.6-1.5 3.7-3.1 3.6-2.9 3.6-2 3.6-2.7 3.6-2.3 3.6 .2 3.6-5 3.6 .1 3.7-5.6 3.6 1.3 3.6-.4 3.6-2.5 3.6-3.7 3.6 .5 3.6 .1 3.6 9.3 3.7 13.4 3.6 11.9 3.6 11.9 3.6 6 3.6 .8 1.1 .2-3.6-3.4-3.6-3.7-3.6-12.2-3.6-15.4-3.6-11.4-3.6-7-3.7-.1-3.6 0-3.6 2-3.6-.8-3.6 3.3-3.6 .2-3.6 4.3-3.6 1.4-3.7 1.9-3.6 4.5-3.6 .9-3.6 2.5-3.6 .6-3.6 2.9-3.6 2-3.6-.3-3.7 2.7-3.6 2.3-3.6 2.6-3.6 4.6-3.6 1.1-3.6-.7-3.6 2.9-3.6 3.4-3.7 .2-3.6 6-3.6 11.6-3.6 8.9-3.6 16-3.6 5.8-3.6-.3-3.7 3.6-3.6-.5-3.6 6.6z" fill="url(#w79)" stroke="url(#w79)"/>
<path d="M654 426.5l3.6-6.6 3.6 .5 3.7-3.6 3.6 .3 3.6-5.8 3.6-16 3.6-8.9 3.6-11.6 3.6-6 3.7-.2 3.6-3.4 3.6-2.9 3.6 .7 3.6-1.1 3.6-4.6 3.6-2.6 3.6-2.3 3.7-2.7 3.6 .3 3.6-2 3.6-2.9 3.6-.6 3.6-2.5 3.6-.9 3.6-4.5 3.7-1.9 3.6-1.4 3.6-4.3 3.6-.2 3.6-3.3 3.6 .8 3.6-2 3.6 0 3.7 .1 3.6 7 3.6 11.4 3.6 15.4 3.6 12.2 3.6 3.7 3.6 3.4 1.2-.5-3.7-2.3-3.6-2.7-3.6-14.3-3.6-14.1-3.6-11.1-3.6-8.5-3.6-2.8-3.6 2-3.7 2.3-3.6 1.8-3.6 1.8-3.6-.3-3.6 5.6-3.6-1.4-3.6 1.7-3.6 4.6-3.7 1.8-3.6 2.6-3.6 3.5-3.6-1.4-3.6 2.8-3.6 1.3-3.6 2.6-3.6 2-3.7 4.3-3.6-.1-3.6 2.7-3.6 2.5-3.6 1.7-3.6-1.1-3.6 4.4-3.7 7.8-3.6 9.4-3.6 9.7-3.6 14.7-3.6 5.5-3.6 2.1-3.6-.9-3.6 3.1-3.7 8.3z" fill="url(#w80)" stroke="url(#w80)"/>
<path d="M655.1 428.6l3.7-8.3 3.6-3.1 3.6 .9 3.6-2.1 3.6-5.5 3.6-14.7 3.6-9.7 3.6-9.4 3.7-7.8 3.6-4.4 3.6 1.1 3.6-1.7 3.6-2.5 3.6-2.7 3.6 .1 3.7-4.3 3.6-2 3.6-2.6 3.6-1.3 3.6-2.8 3.6 1.4 3.6-3.5 3.6-2.6 3.7-1.8 3.6-4.6 3.6-1.7 3.6 1.4 3.6-5.6 3.6 .3 3.6-1.8 3.6-1.8 3.7-2.3 3.6-2 3.6 2.8 3.6 8.5 3.6 11.1 3.6 14.1 3.6 14.3 3.6 2.7 3.7 2.3 1.1-2.9-3.6-2.9-3.6-6.4-3.7-10-3.6-16-3.6-10.9-3.6-7.7-3.6-.6-3.6-1.2-3.6 3.1-3.6-1.4-3.7 2.5-3.6 1.7-3.6 1.3-3.6 1-3.6 2.1-3.6 5.6-3.6 1.6-3.6 1.8-3.7 1.8-3.6 2.7-3.6 2.6-3.6 .1-3.6 3.7-3.6 0-3.6 1.1-3.7 4.1-3.6 1.5-3.6 1.3-3.6 1.6-3.6 3.8-3.6 4.3-3.6 3-3.6 9.5-3.7 9.3-3.6 17.4-3.6 6.4-3.6 .4-3.6 2.8-3.6-.1-3.6 8.8z" fill="url(#w81)" stroke="url(#w81)"/>
<path d="M656.3 423.8l3.6-8.8 3.6 .1 3.6-2.8 3.6-.4 3.6-6.4 3.6-17.4 3.7-9.3 3.6-9.5 3.6-3 3.6-4.3 3.6-3.8 3.6-1.6 3.6-1.3 3.6-1.5 3.7-4.1 3.6-1.1 3.6 0 3.6-3.7 3.6-.1 3.6-2.6 3.6-2.7 3.7-1.8 3.6-1.8 3.6-1.6 3.6-5.6 3.6-2.1 3.6-1 3.6-1.3 3.6-1.7 3.7-2.5 3.6 1.4 3.6-3.1 3.6 1.2 3.6 .6 3.6 7.7 3.6 10.9 3.6 16 3.7 10 3.6 6.4 3.6 2.9 1.1 .5-3.6 .1-3.6-3.6-3.6-10.9-3.6-14.7-3.7-15.7-3.6-4.4-3.6-1.3-3.6-1.4-3.6 1.3-3.6 2.1-3.6 1.3-3.6 3.5-3.7-.2-3.6 3.4-3.6 2.4-3.6 2.2-3.6 1.5-3.6 1.8-3.6 5.5-3.7 0-3.6 2.1-3.6 1.7-3.6 1.7-3.6 3.7-3.6 3.3-3.6-.2-3.6 1.8-3.7 1.2-3.6 5-3.6-1.5-3.6 5.4-3.6 5.1-3.6 7.4-3.6 12.1-3.6 14.8-3.7 5.2-3.6 .3-3.6 2.1-3.6 2.9-3.6 5.2z" fill="url(#w82)" stroke="url(#w82)"/>
<path d="M657.4 426.8l3.6-5.2 3.6-2.9 3.6-2.1 3.6-.3 3.7-5.2 3.6-14.8 3.6-12.1 3.6-7.4 3.6-5.1 3.6-5.4 3.6 1.5 3.6-5 3.7-1.2 3.6-1.8 3.6 .2 3.6-3.3 3.6-3.7 3.6-1.7 3.6-1.7 3.6-2.1 3.7 0 3.6-5.5 3.6-1.8 3.6-1.5 3.6-2.2 3.6-2.4 3.6-3.4 3.7 .2 3.6-3.5 3.6-1.3 3.6-2.1 3.6-1.3 3.6 1.4 3.6 1.3 3.6 4.4 3.7 15.7 3.6 14.7 3.6 10.9 3.6 3.6 3.6-.1 1.1 2.6-3.6-1.6-3.6-1.6-3.6-14.6-3.6-12-3.6-12.4-3.6-4.6-3.7-2.5-3.6 2-3.6-5.2-3.6 6.3-3.6 .7-3.6 2.6-3.6 1.3-3.7 1.9-3.6 1.8-3.6 2.4-3.6 2-3.6 2.9-3.6 1.3-3.6 3.2-3.6 1.7-3.7 .9-3.6 3.8-3.6-.4-3.6 5.2-3.6-.2-3.6 2.5-3.6 1.8-3.6 2.2-3.7 4.4-3.6-1.6-3.6 8.2-3.6 7.7-3.6 12.3-3.6 14.1-3.6 3.2-3.6 .3-3.7 .6-3.6 6.1-3.6 4.7z" fill="url(#w83)" stroke="url(#w83)"/>
<path d="M658.5 428.6l3.6-4.7 3.6-6.1 3.7-.6 3.6-.3 3.6-3.2 3.6-14.1 3.6-12.3 3.6-7.7 3.6-8.2 3.6 1.6 3.7-4.4 3.6-2.2 3.6-1.8 3.6-2.5 3.6 .2 3.6-5.2 3.6 .4 3.6-3.8 3.7-.9 3.6-1.7 3.6-3.2 3.6-1.3 3.6-2.9 3.6-2 3.6-2.4 3.6-1.8 3.7-1.9 3.6-1.3 3.6-2.6 3.6-.7 3.6-6.3 3.6 5.2 3.6-2 3.7 2.5 3.6 4.6 3.6 12.4 3.6 12 3.6 14.6 3.6 1.6 3.6 1.6 1.2 1.7-3.7-2.7-3.6-5.4-3.6-10-3.6-14-3.6-12.3-3.6-3.2-3.6-4.6-3.7 .8-3.6 4.7-3.6 1.2-3.6 1.5-3.6 .5-3.6 1.2-3.6 2.7-3.6 1.4-3.7 1.1-3.6 2.3-3.6 3.7-3.6 1.1-3.6 2.7-3.6 4-3.6 .4-3.6 3.4-3.7 2-3.6 1.5-3.6 2.3-3.6 2-3.6 .8-3.6 2.4-3.6 1.8-3.6 2.7-3.7 3.5-3.6 12.4-3.6 8.3-3.6 15.3-3.6 2.8-3.6 3.1-3.6 1.1-3.6 .9-3.7 6z" fill="url(#w84)" stroke="url(#w84)"/>
<path d="M659.6 428.3l3.7-6 3.6-.9 3.6-1.1 3.6-3.1 3.6-2.8 3.6-15.3 3.6-8.3 3.6-12.4 3.7-3.5 3.6-2.7 3.6-1.8 3.6-2.4 3.6-.8 3.6-2 3.6-2.3 3.6-1.5 3.7-2 3.6-3.4 3.6-.4 3.6-4 3.6-2.7 3.6-1.1 3.6-3.7 3.6-2.3 3.7-1.1 3.6-1.4 3.6-2.7 3.6-1.2 3.6-.5 3.6-1.5 3.6-1.2 3.6-4.7 3.7-.8 3.6 4.6 3.6 3.2 3.6 12.3 3.6 14 3.6 10 3.6 5.4 3.7 2.7 1.1 3.7-3.6 1.1-3.6-2.9-3.7-11-3.6-10.8-3.6-17.1-3.6-5.3-3.6-2.8-3.6 5.1-3.6 4.4-3.7 .1-3.6-.9-3.6 4.2-3.6 1.2-3.6 2.3-3.6 .9-3.6 4.3-3.6 1.4-3.7 4.5-3.6-.8-3.6 6.4-3.6 .3-3.6-1-3.6 3.9-3.6 1.5-3.6 1.9-3.7 1.3-3.6 2.4-3.6 3.1-3.6 .1-3.6 2.6-3.6 3.3-3.6 6.2-3.6 6.6-3.7 11.2-3.6 14.5-3.6 1.8-3.6 3.3-3.6 1.1-3.6 2.3-3.6-1.4z" fill="url(#w85)" stroke="url(#w85)"/>
<path d="M660.8 431.9l3.6 1.4 3.6-2.3 3.6-1.1 3.6-3.3 3.6-1.8 3.6-14.5 3.7-11.2 3.6-6.6 3.6-6.2 3.6-3.3 3.6-2.6 3.6-.1 3.6-3.1 3.6-2.4 3.7-1.3 3.6-1.9 3.6-1.5 3.6-3.9 3.6 1 3.6-.3 3.6-6.4 3.6 .8 3.7-4.5 3.6-1.4 3.6-4.3 3.6-.9 3.6-2.3 3.6-1.2 3.6-4.2 3.6 .9 3.7-.1 3.6-4.4 3.6-5.1 3.6 2.8 3.6 5.3 3.6 17.1 3.6 10.8 3.7 11 3.6 2.9 3.6-1.1 1.1-7.2-3.6 2.4-3.6-7.2-3.6-10.5-3.7-13.5-3.6-7.1-3.6-6.7-3.6-1.2-3.6-1.2-3.6 .9-3.6 3.7-3.6 2.9-3.7-1.6-3.6 3.9-3.6 1.1-3.6 2-3.6 1.6-3.6 .4-3.6 6.6-3.6 1.6-3.7 .6-3.6 .8-3.6 1.9-3.6 3.2-3.6 1-3.6 2.3-3.6 1.7-3.6 2.4-3.7 3.6-3.6 1.3-3.6 .9-3.6 2.4-3.6 3.7-3.6 9.5-3.6 11.3-3.7 13.8-3.6 4.6-3.6 0-3.6 0-3.6 1.5-3.6 7.8z" fill="url(#w86)" stroke="url(#w86)"/>
<path d="M661.9 427.8l3.6-7.8 3.6-1.5 3.6 0 3.6 0 3.6-4.6 3.7-13.8 3.6-11.3 3.6-9.5 3.6-3.7 3.6-2.4 3.6-.9 3.6-1.3 3.7-3.6 3.6-2.4 3.6-1.7 3.6-2.3 3.6-1 3.6-3.2 3.6-1.9 3.6-.8 3.7-.6 3.6-1.6 3.6-6.6 3.6-.4 3.6-1.6 3.6-2 3.6-1.1 3.6-3.9 3.7 1.6 3.6-2.9 3.6-3.7 3.6-.9 3.6 1.2 3.6 1.2 3.6 6.7 3.6 7.1 3.7 13.5 3.6 10.5 3.6 7.2 3.6-2.4 1.1 1.3-3.6 1.3-3.6-5.8-3.6-9-3.6-13.9-3.6-7.7-3.7-5.4-3.6-3.5-3.6 .5-3.6 1.7-3.6 1.4-3.6 3.8-3.6-.6-3.6 1.5-3.7 3.1-3.6 3.9-3.6 .7-3.6 1.9-3.6 .6-3.6 2.5-3.6 3.5-3.6 1.8-3.7 .9-3.6 2.3-3.6 4.5-3.6 1.4-3.6 1.2-3.6 4.3-3.6 .1-3.7 .7-3.6 1.8-3.6 3.7-3.6 4.1-3.6 8.2-3.6 10-3.6 14-3.6 4.3-3.7 2.4-3.6-.7-3.6 2.2-3.6 3.1z" fill="url(#w87)" stroke="url(#w87)"/>
<path d="M663 427.5l3.6-3.1 3.6-2.2 3.6 .7 3.7-2.4 3.6-4.3 3.6-14 3.6-10 3.6-8.2 3.6-4.1 3.6-3.7 3.6-1.8 3.7-.7 3.6-.1 3.6-4.3 3.6-1.2 3.6-1.4 3.6-4.5 3.6-2.3 3.7-.9 3.6-1.8 3.6-3.5 3.6-2.5 3.6-.6 3.6-1.9 3.6-.7 3.6-3.9 3.7-3.1 3.6-1.5 3.6 .6 3.6-3.8 3.6-1.4 3.6-1.7 3.6-.5 3.6 3.5 3.7 5.4 3.6 7.7 3.6 13.9 3.6 9 3.6 5.8 3.6-1.3 1.1 1.6-3.6-.7-3.6-3-3.6-10.7-3.6-10.9-3.6-9-3.6-6.4-3.6-.2-3.7 .5-3.6 2.4-3.6-.4-3.6 1.5-3.6 1.8-3.6 4-3.6-.8-3.6 4-3.7 1.1-3.6 3.8-3.6 1.2-3.6 .6-3.6 4.3-3.6 1.9-3.6 1.6-3.7 2.2-3.6 2.2-3.6 1.4-3.6 2.1-3.6 1.7-3.6 2.3-3.6 1.8-3.6 .8-3.7 3.5-3.6 2.9-3.6 10.3-3.6 7.9-3.6 16.4-3.6 4.9-3.6-1.9-3.6 2.2-3.7 3-3.6 1.9z" fill="url(#w88)" stroke="url(#w88)"/>
<path d="M664.1 430.5l3.6-1.9 3.7-3 3.6-2.2 3.6 1.9 3.6-4.9 3.6-16.4 3.6-7.9 3.6-10.3 3.6-2.9 3.7-3.5 3.6-.8 3.6-1.8 3.6-2.3 3.6-1.7 3.6-2.1 3.6-1.4 3.6-2.2 3.7-2.2 3.6-1.6 3.6-1.9 3.6-4.3 3.6-.6 3.6-1.2 3.6-3.8 3.7-1.1 3.6-4 3.6 .8 3.6-4 3.6-1.8 3.6-1.5 3.6 .4 3.6-2.4 3.7-.5 3.6 .2 3.6 6.4 3.6 9 3.6 10.9 3.6 10.7 3.6 3 3.6 .7 1.2 3.5-3.6 1.7-3.7-1.8-3.6-5.7-3.6-10.7-3.6-17.5-3.6-7.3-3.6-.2-3.6 6-3.6 5.3-3.7 .3-3.6 1.5-3.6 1.6-3.6 1.8-3.6-.6-3.6 5.6-3.6-2-3.6 2.9-3.7 6-3.6 .7-3.6 .5-3.6 4.4-3.6 .9-3.6 1.6-3.6 4.5-3.7 .3-3.6 2.2-3.6 2.9-3.6-3.2-3.6 4.4-3.6 2.5-3.6 2.5-3.6 6.7-3.7 6.4-3.6 10.6-3.6 13-3.6 1.3-3.6 4.2-3.6 .1-3.6 2.5-3.6-3.3z" fill="url(#w89)" stroke="url(#w89)"/>
<path d="M665.3 434.4l3.6 3.3 3.6-2.5 3.6-.1 3.6-4.2 3.6-1.3 3.6-13 3.6-10.6 3.7-6.4 3.6-6.7 3.6-2.5 3.6-2.5 3.6-4.4 3.6 3.2 3.6-2.9 3.6-2.2 3.7-.3 3.6-4.5 3.6-1.6 3.6-.9 3.6-4.4 3.6-.5 3.6-.7 3.7-6 3.6-2.9 3.6 2 3.6-5.6 3.6 .6 3.6-1.8 3.6-1.6 3.6-1.5 3.7-.3 3.6-5.3 3.6-6 3.6 .2 3.6 7.3 3.6 17.5 3.6 10.7 3.6 5.7 3.7 1.8 3.6-1.7 1.1-1.6-3.6 1.1-3.6-2.8-3.6-6.8-3.7-14.2-3.6-12.7-3.6-1.1-3.6-3.5-3.6-1.7-3.6 4.7-3.6 3.2-3.6 3.5-3.7-1.9-3.6 3.1-3.6 3.9-3.6 .9-3.6 .8-3.6 2.2-3.6 2.7-3.7 1.4-3.6 2.4-3.6 1.2-3.6 4-3.6 1.2-3.6 1.9-3.6 2.8-3.6 .4-3.7 4.1-3.6 1.1-3.6-.8-3.6 6.1-3.6 .1-3.6 4.1-3.6 8.4-3.6 10-3.7 13.8-3.6 4.8-3.6-.1-3.6 1-3.6-.2-3.6 2.6z" fill="url(#w90)" stroke="url(#w90)"/>
<path d="M666.4 431.9l3.6-2.6 3.6 .2 3.6-1 3.6 .1 3.6-4.8 3.7-13.8 3.6-10 3.6-8.4 3.6-4.1 3.6-.1 3.6-6.1 3.6 .8 3.6-1.1 3.7-4.1 3.6-.4 3.6-2.8 3.6-1.9 3.6-1.2 3.6-4 3.6-1.2 3.6-2.4 3.7-1.4 3.6-2.7 3.6-2.2 3.6-.8 3.6-.9 3.6-3.9 3.6-3.1 3.7 1.9 3.6-3.5 3.6-3.2 3.6-4.7 3.6 1.7 3.6 3.5 3.6 1.1 3.6 12.7 3.7 14.2 3.6 6.8 3.6 2.8 3.6-1.1 1.1-1.8-3.6-.4-3.6-4.2-3.6-9.3-3.6-14.2-3.6-8.4-3.7-5.7-3.6-1.5-3.6 2.5-3.6 3-3.6-1.5-3.6 2.3-3.6 .2-3.7 2-3.6 4.8-3.6 1-3.6 .3-3.6 2.6-3.6 2.9-3.6 1-3.6 2.3-3.7 2.9-3.6 1.6-3.6 4.6-3.6 .7-3.6 4.9-3.6 .2-3.6 .4-3.6 .1-3.7 4.3-3.6 2.2-3.6-.2-3.6 5.4-3.6 10.4-3.6 6.5-3.6 16.9-3.6 2.9-3.7 2.6-3.6-.8-3.6 2.7-3.6 4.1z" fill="url(#w91)" stroke="url(#w91)"/>
<path d="M667.5 430.5l3.6-4.1 3.6-2.7 3.6 .8 3.7-2.6 3.6-2.9 3.6-16.9 3.6-6.5 3.6-10.4 3.6-5.4 3.6 .2 3.6-2.2 3.7-4.3 3.6-.1 3.6-.4 3.6-.2 3.6-4.9 3.6-.7 3.6-4.6 3.6-1.6 3.7-2.9 3.6-2.3 3.6-1 3.6-2.9 3.6-2.6 3.6-.3 3.6-1 3.6-4.8 3.7-2 3.6-.2 3.6-2.3 3.6 1.5 3.6-3 3.6-2.5 3.6 1.5 3.7 5.7 3.6 8.4 3.6 14.2 3.6 9.3 3.6 4.2 3.6 .4 1.1 4.5-3.6-.2-3.6 .8-3.6-7.3-3.6-11.8-3.6-15.8-3.6-6.8-3.7 .2-3.6 4-3.6 1.7-3.6 5.1-3.6-1-3.6 3.6-3.6 .6-3.6 3.5-3.7 .4-3.6 1.1-3.6 3.6-3.6 4.4-3.6 .4-3.6 .6-3.6 3.5-3.6 .8-3.7 4.2-3.6 1.2-3.6 .6-3.6 3.1-3.6 1.6-3.6 1.7-3.6 1.6-3.6 5.1-3.7-.3-3.6 5.6-3.6 10-3.6 5.9-3.6 15-3.6 3.5-3.6 4.5-3.7 .4-3.6 2.8-3.6 .5z" fill="url(#w92)" stroke="url(#w92)"/>
<path d="M668.6 441.3l3.6-.5 3.6-2.8 3.7-.4 3.6-4.5 3.6-3.5 3.6-15 3.6-5.9 3.6-10 3.6-5.6 3.7 .3 3.6-5.1 3.6-1.6 3.6-1.7 3.6-1.6 3.6-3.1 3.6-.6 3.6-1.2 3.7-4.2 3.6-.8 3.6-3.5 3.6-.6 3.6-.4 3.6-4.4 3.6-3.6 3.6-1.1 3.7-.4 3.6-3.5 3.6-.6 3.6-3.6 3.6 1 3.6-5.1 3.6-1.7 3.6-4 3.7-.2 3.6 6.8 3.6 15.8 3.6 11.8 3.6 7.3 3.6-.8 3.6 .2 1.2-.3-3.7-1.1-3.6-3.9-3.6-7.7-3.6-11.7-3.6-11.3-3.6-7.6-3.6-1.9-3.6 3.7-3.7 2.2-3.6-.9-3.6 4.6-3.6 .3-3.6 2.3-3.6 .8-3.6 3.1-3.6 3.1-3.7 1.9-3.6 2.8-3.6 1.1-3.6 1.3-3.6 .9-3.6 4.5-3.6 1.8-3.6 1.2-3.7 2.3-3.6 3.1-3.6 .8-3.6 1.6-3.6 3.4-3.6 0-3.6 1-3.6 7.8-3.7 7.5-3.6 9.5-3.6 13.4-3.6 6.5-3.6 .1-3.6 .2-3.6 5.8-3.7 4.4z" fill="url(#w93)" stroke="url(#w93)"/>
<path d="M669.7 439.5l3.7-4.4 3.6-5.8 3.6-.2 3.6-.1 3.6-6.5 3.6-13.4 3.6-9.5 3.7-7.5 3.6-7.8 3.6-1 3.6 0 3.6-3.4 3.6-1.6 3.6-.8 3.6-3.1 3.7-2.3 3.6-1.2 3.6-1.8 3.6-4.5 3.6-.9 3.6-1.3 3.6-1.1 3.6-2.8 3.7-1.9 3.6-3.1 3.6-3.1 3.6-.8 3.6-2.3 3.6-.3 3.6-4.6 3.6 .9 3.7-2.2 3.6-3.7 3.6 1.9 3.6 7.6 3.6 11.3 3.6 11.7 3.6 7.7 3.6 3.9 3.7 1.1 1.1-3.7-3.6 1.4-3.6-5.5-3.7-10.5-3.6-13.7-3.6-7.1-3.6-5.5-3.6-.7-3.6-.8-3.6 1.2-3.6 2.8-3.7-1-3.6 2.8-3.6 3.3-3.6-2-3.6 5.1-3.6 1.5-3.6 2.9-3.6 2.1-3.7 3-3.6 1.5-3.6 2.3-3.6 1-3.6 2.3-3.6 4.9-3.6-.5-3.6 3.7-3.7 1.2-3.6 0-3.6 1.6-3.6 2.6-3.6 .7-3.6 4.7-3.6 10.4-3.7 9.4-3.6 14.6-3.6 3.7-3.6 2.3-3.6 1-3.6 4.8-3.6 13.3z" fill="url(#w94)" stroke="url(#w94)"/>
<path d="M670.9 443.7l3.6-13.3 3.6-4.8 3.6-1 3.6-2.3 3.6-3.7 3.6-14.6 3.7-9.4 3.6-10.4 3.6-4.7 3.6-.7 3.6-2.6 3.6-1.6 3.6 0 3.7-1.2 3.6-3.7 3.6 .5 3.6-4.9 3.6-2.3 3.6-1 3.6-2.3 3.6-1.5 3.7-3 3.6-2.1 3.6-2.9 3.6-1.5 3.6-5.1 3.6 2 3.6-3.3 3.6-2.8 3.7 1 3.6-2.8 3.6-1.2 3.6 .8 3.6 .7 3.6 5.5 3.6 7.1 3.6 13.7 3.7 10.5 3.6 5.5 3.6-1.4 1.1 6-3.6 1.1-3.6-4.7-3.6-8.6-3.6-10.9-3.7-15.7-3.6-3.5-3.6-1.6-3.6 5.8-3.6 1.2-3.6 1.9-3.6 .9-3.6 1.6-3.7 2.3-3.6 1.7-3.6 2.9-3.6 2.3-3.6 3.1-3.6 1.9-3.6-.3-3.6 4.7-3.7 2-3.6-2.2-3.6 4.7-3.6 2.5-3.6 2.7-3.6 .4-3.6 2.8-3.7 2.6-3.6-.5-3.6 3.5-3.6 .3-3.6 7.2-3.6 8.3-3.6 9.2-3.6 11.7-3.7 7.2-3.6 2.9-3.6 2.4-3.6 3.5-3.6 7.6z" fill="url(#w95)" stroke="url(#w95)"/>
<path d="M672 449.8l3.6-7.6 3.6-3.5 3.6-2.4 3.6-2.9 3.7-7.2 3.6-11.7 3.6-9.2 3.6-8.3 3.6-7.2 3.6-.3 3.6-3.5 3.6 .5 3.7-2.6 3.6-2.8 3.6-.4 3.6-2.7 3.6-2.5 3.6-4.7 3.6 2.2 3.7-2 3.6-4.7 3.6 .3 3.6-1.9 3.6-3.1 3.6-2.3 3.6-2.9 3.6-1.7 3.7-2.3 3.6-1.6 3.6-.9 3.6-1.9 3.6-1.2 3.6-5.8 3.6 1.6 3.6 3.5 3.7 15.7 3.6 10.9 3.6 8.6 3.6 4.7 3.6-1.1 1.1-7.3-3.6 0-3.6-7.1-3.6-11.6-3.6-8.4-3.6-8.1-3.6-5.5-3.7-2.1-3.6-.5-3.6 2.2-3.6 2.1-3.6-.8-3.6 2.5-3.6 2.3-3.6 1.8-3.7 1.9-3.6 2.6-3.6 3.8-3.6-.2-3.6 5.5-3.6-.2-3.6 .5-3.7 1.9-3.6 3-3.6 2.5-3.6 1.8-3.6 2.2-3.6 3-3.6-.4-3.6 3-3.7 2.9-3.6 .2-3.6 7.2-3.6 6.6-3.6 10.2-3.6 17.5-3.6 3.8-3.6-.7-3.7 4.2-3.6 5-3.6 17.3z" fill="url(#w96)" stroke="url(#w96)"/>
<path d="M673.1 449.5l3.6-17.3 3.6-5 3.7-4.2 3.6 .7 3.6-3.8 3.6-17.5 3.6-10.2 3.6-6.6 3.6-7.2 3.6-.2 3.7-2.9 3.6-3 3.6 .4 3.6-3 3.6-2.2 3.6-1.8 3.6-2.5 3.6-3 3.7-1.9 3.6-.5 3.6 .2 3.6-5.5 3.6 .2 3.6-3.8 3.6-2.6 3.7-1.9 3.6-1.8 3.6-2.3 3.6-2.5 3.6 .8 3.6-2.1 3.6-2.2 3.6 .5 3.7 2.1 3.6 5.5 3.6 8.1 3.6 8.4 3.6 11.6 3.6 7.1 3.6 0 1.2 .8-3.7 .8-3.6-4.7-3.6-10.2-3.6-11.2-3.6-8-3.6-5.8-3.6 .2-3.6 .8-3.7 .4-3.6-.4-3.6 5.4-3.6 .1-3.6 .7-3.6 1.4-3.6 2.5-3.7 3.2-3.6 3.4-3.6 .1-3.6 1.5-3.6 4.2-3.6 1.8-3.6 3.1-3.6 .7-3.7 2.4-3.6 1.8-3.6 1.8-3.6 1.4-3.6 1.9-3.6 3.7-3.6 1.2-3.6 1.7-3.7 6.4-3.6 8.1-3.6 7.5-3.6 15.6-3.6 4.4-3.6 3.4-3.6 4.1-3.6 3.3-3.7 13.5z" fill="url(#w97)" stroke="url(#w97)"/>
<path d="M674.2 450.6l3.7-13.5 3.6-3.3 3.6-4.1 3.6-3.4 3.6-4.4 3.6-15.6 3.6-7.5 3.6-8.1 3.7-6.4 3.6-1.7 3.6-1.2 3.6-3.7 3.6-1.9 3.6-1.4 3.6-1.8 3.6-1.8 3.7-2.4 3.6-.7 3.6-3.1 3.6-1.8 3.6-4.2 3.6-1.5 3.6-.1 3.6-3.4 3.7-3.2 3.6-2.5 3.6-1.4 3.6-.7 3.6-.1 3.6-5.4 3.6 .4 3.7-.4 3.6-.8 3.6-.2 3.6 5.8 3.6 8 3.6 11.2 3.6 10.2 3.6 4.7 3.7-.8 1.1 4.1-3.6-1.4-3.6-3.4-3.7-7.8-3.6-11.9-3.6-9-3.6-7-3.6-2.1-3.6 3.8-3.6 .4-3.7 .4-3.6 2.7-3.6 1.8-3.6-.1-3.6 6.5-3.6-1.6-3.6 3.1-3.6 2.9-3.7 1.1-3.6 3.6-3.6 .7-3.6 2-3.6 2.5-3.6 2.5-3.6 .6-3.6 3.1-3.7 .7-3.6 2.1-3.6 4.5-3.6-.4-3.6 .1-3.6 4.6-3.6 5.1-3.6 8.8-3.7 9.1-3.6 16.6-3.6 1.4-3.6 4.9-3.6 1.6-3.6 6.5-3.6 13.6z" fill="url(#w98)" stroke="url(#w98)"/>
<path d="M675.4 455.1l3.6-13.6 3.6-6.5 3.6-1.6 3.6-4.9 3.6-1.4 3.6-16.6 3.7-9.1 3.6-8.8 3.6-5.1 3.6-4.6 3.6-.1 3.6 .4 3.6-4.5 3.6-2.1 3.7-.7 3.6-3.1 3.6-.6 3.6-2.5 3.6-2.5 3.6-2 3.6-.7 3.6-3.6 3.7-1.1 3.6-2.9 3.6-3.1 3.6 1.6 3.6-6.5 3.6 .1 3.6-1.8 3.6-2.7 3.7-.4 3.6-.4 3.6-3.8 3.6 2.1 3.6 7 3.6 9 3.6 11.9 3.7 7.8 3.6 3.4 3.6 1.4 1.1-3.2-3.6 1.9-3.6-2.9-3.6-12-3.6-11-3.7-9-3.6-6.8-3.6 .8-3.6-2.1-3.6 2.2-3.6 1.7-3.6 1.4-3.7 1.6-3.6 2.8-3.6 2.9-3.6 .3-3.6 4.6-3.6 3.3-3.6 1-3.6 .5-3.7 3.7-3.6 1.5-3.6 1.3-3.6 2.4-3.6 .5-3.6 2.8-3.6 4.9-3.6-2-3.7 3.2-3.6 1.3-3.6 1.1-3.6 4.8-3.6 4.9-3.6 8.9-3.6 11.6-3.6 10.5-3.7 8.3-3.6-.1-3.6 5.3-3.6 4.7-3.6 12.3z" fill="url(#w99)" stroke="url(#w99)"/>
<path d="M676.5 452.4l3.6-12.3 3.6-4.7 3.6-5.3 3.6 .1 3.7-8.3 3.6-10.5 3.6-11.6 3.6-8.9 3.6-4.9 3.6-4.8 3.6-1.1 3.6-1.3 3.7-3.2 3.6 2 3.6-4.9 3.6-2.8 3.6-.5 3.6-2.4 3.6-1.3 3.6-1.5 3.7-3.7 3.6-.5 3.6-1 3.6-3.3 3.6-4.6 3.6-.3 3.6-2.9 3.6-2.8 3.7-1.6 3.6-1.4 3.6-1.7 3.6-2.2 3.6 2.1 3.6-.8 3.6 6.8 3.7 9 3.6 11 3.6 12 3.6 2.9 3.6-1.9 1.1 2.5-3.6-2.4-3.6-4.7-3.6-8.2-3.6-11.4-3.6-10.4-3.7-3.7-3.6-3.2-3.6 1.2-3.6 1.8-3.6 .8-3.6 .2-3.6 2-3.6 3.7-3.7 5.6-3.6-1.1-3.6 .1-3.6 4.2-3.6 2.1-3.6 3.8-3.6-3.3-3.6 6.8-3.7 .9-3.6 3.2-3.6 1.4-3.6 3.5-3.6 0-3.6 .2-3.6 2.8-3.6 1.2-3.7 3.2-3.6 3.4-3.6 4.3-3.6 7.7-3.6 9.8-3.6 11.3-3.6 7.1-3.7 5.5-3.6 1.1-3.6 5.3-3.6 13.9z" fill="url(#w100)" stroke="url(#w100)"/>
<path d="M677.6 451.5l3.6-13.9 3.6-5.3 3.6-1.1 3.7-5.5 3.6-7.1 3.6-11.3 3.6-9.8 3.6-7.7 3.6-4.3 3.6-3.4 3.7-3.2 3.6-1.2 3.6-2.8 3.6-.2 3.6 0 3.6-3.5 3.6-1.4 3.6-3.2 3.7-.9 3.6-6.8 3.6 3.3 3.6-3.8 3.6-2.1 3.6-4.2 3.6-.1 3.6 1.1 3.7-5.6 3.6-3.7 3.6-2 3.6-.2 3.6-.8 3.6-1.8 3.6-1.2 3.6 3.2 3.7 3.7 3.6 10.4 3.6 11.4 3.6 8.2 3.6 4.7 3.6 2.4 1.1-1.5-3.6 1.6-3.6-5.1-3.6-8.4-3.6-10.5-3.6-10.3-3.6-6.4-3.6-.5-3.7 0-3.6 2.4-3.6 1.6-3.6 .3-3.6 4.8-3.6 .3-3.6 1.5-3.6 2.7-3.7 2.3-3.6 1.6-3.6 3.2-3.6 2.4-3.6 2.9-3.6 1.6-3.6 .2-3.6 4.1-3.7 1.6-3.6 .6-3.6 1.8-3.6 3.2-3.6 .4-3.6 1.4-3.6 1.3-3.7 4.2-3.6 3.3-3.6 8.3-3.6 12-3.6 16.4-3.6 1.6-3.6 3.7-3.6 3.4-3.7 2.5-3.6 13z" fill="url(#w101)" stroke="url(#w101)"/>
<path d="M678.7 451.3l3.6-13 3.7-2.5 3.6-3.4 3.6-3.7 3.6-1.6 3.6-16.4 3.6-12 3.6-8.3 3.6-3.3 3.7-4.2 3.6-1.3 3.6-1.4 3.6-.4 3.6-3.2 3.6-1.8 3.6-.6 3.7-1.6 3.6-4.1 3.6-.2 3.6-1.6 3.6-2.9 3.6-2.4 3.6-3.2 3.6-1.6 3.7-2.3 3.6-2.7 3.6-1.5 3.6-.3 3.6-4.8 3.6-.3 3.6-1.6 3.6-2.4 3.7 0 3.6 .5 3.6 6.4 3.6 10.3 3.6 10.5 3.6 8.4 3.6 5.1 3.6-1.6 1.2 1.6-3.6-1.6-3.7-8-3.6-6.9-3.6-12.8-3.6-9.4-3.6-3.4-3.6-1.2-3.6-1.8-3.6 2.7-3.7-.9-3.6 3.7-3.6 4.7-3.6-3.2-3.6 4.4-3.6-.4-3.6 3.5-3.6 .7-3.7 4.7-3.6 2.6-3.6 0-3.6 3.6-3.6 .5-3.6 3.8-3.6 2.4-3.7 2.5-3.6-.3-3.6 3.4-3.6-.6-3.6 6-3.6 1.6-3.6 1.4-3.6 5-3.7 8.1-3.6 8-3.6 15-3.6 4.4-3.6 3.1-3.6 4.3-3.6 2.9-3.6 15.5z" fill="url(#w102)" stroke="url(#w102)"/>
<path d="M679.9 449.9l3.6-15.5 3.6-2.9 3.6-4.3 3.6-3.1 3.6-4.4 3.6-15 3.6-8 3.7-8.1 3.6-5 3.6-1.4 3.6-1.6 3.6-6 3.6 .6 3.6-3.4 3.6 .3 3.7-2.5 3.6-2.4 3.6-3.8 3.6-.5 3.6-3.6 3.6 0 3.6-2.6 3.7-4.7 3.6-.7 3.6-3.5 3.6 .4 3.6-4.4 3.6 3.2 3.6-4.7 3.6-3.7 3.7 .9 3.6-2.7 3.6 1.8 3.6 1.2 3.6 3.4 3.6 9.4 3.6 12.8 3.6 6.9 3.7 8 3.6 1.6 1.1 3.1-3.6-.5-3.6-1.2-3.6-10.7-3.7-10.9-3.6-12.7-3.6-4.7-3.6-2.3-3.6 2.4-3.6 3.1-3.6 .1-3.6 2.3-3.7 1.4-3.6 2-3.6 2.7-3.6 1.4-3.6 .5-3.6 2.1-3.6 4-3.6 1.4-3.7 3.6-3.6-.1-3.6 3.3-3.6 4.1-3.6 .3-3.6 2.5-3.6 2.8-3.7 1.7-3.6 1.2-3.6 2.2-3.6 3.4-3.6-1.7-3.6 6.8-3.6 6.2-3.6 12.3-3.7 13-3.6 4.9-3.6 2-3.6 3.5-3.6 4.3-3.6 9.1z" fill="url(#w103)" stroke="url(#w103)"/>
<path d="M681 450.8l3.6-9.1 3.6-4.3 3.6-3.5 3.6-2 3.6-4.9 3.7-13 3.6-12.3 3.6-6.2 3.6-6.8 3.6 1.7 3.6-3.4 3.6-2.2 3.6-1.2 3.7-1.7 3.6-2.8 3.6-2.5 3.6-.3 3.6-4.1 3.6-3.3 3.6 .1 3.7-3.6 3.6-1.4 3.6-4 3.6-2.1 3.6-.5 3.6-1.4 3.6-2.7 3.6-2 3.7-1.4 3.6-2.3 3.6-.1 3.6-3.1 3.6-2.4 3.6 2.3 3.6 4.7 3.6 12.7 3.7 10.9 3.6 10.7 3.6 1.2 3.6 .5 1.1-2.5-3.6 .3-3.6-2.7-3.6-6.5-3.6-11.7-3.6-12.8-3.7-7.2-3.6-1.8-3.6 5.8-3.6 .8-3.6 .3-3.6 3-3.6 1.7-3.6 1-3.7 1.4-3.6 2.2-3.6 2-3.6 3-3.6 2.5-3.6 3.6-3.6 .4-3.7 3-3.6 2.2-3.6 1.3-3.6 .8-3.6 1-3.6 2.8-3.6 2.3-3.6 1.6-3.7 .8-3.6 4.2-3.6 1.3-3.6 4.3-3.6 8-3.6 10.8-3.6 14.9-3.6 2.8-3.7 4.1-3.6 1.5-3.6 7.4-3.6 5.1z" fill="url(#w104)" stroke="url(#w104)"/>
<path d="M682.1 448l3.6-5.1 3.6-7.4 3.6-1.5 3.7-4.1 3.6-2.8 3.6-14.9 3.6-10.8 3.6-8 3.6-4.3 3.6-1.3 3.6-4.2 3.7-.8 3.6-1.6 3.6-2.3 3.6-2.8 3.6-1 3.6-.8 3.6-1.3 3.6-2.2 3.7-3 3.6-.4 3.6-3.6 3.6-2.5 3.6-3 3.6-2 3.6-2.2 3.7-1.4 3.6-1 3.6-1.7 3.6-3 3.6-.3 3.6-.8 3.6-5.8 3.6 1.8 3.7 7.2 3.6 12.8 3.6 11.7 3.6 6.5 3.6 2.7 3.6-.3 1.1-1.6-3.6-1.7-3.6-3.3-3.6-12.3-3.6-9.2-3.6-8.3-3.6-6-3.6 0-3.7-.9-3.6 .6-3.6 1-3.6 1.1-3.6 3.6-3.6-1-3.6 4.7-3.7 2-3.6 .6-3.6 2.4-3.6 2.1-3.6 2.5-3.6 1.7-3.6 1.5-3.6 2.8-3.7 3.8-3.6 2.2-3.6 2.3-3.6 .3-3.6-.2-3.6 3.3-3.6 4.3-3.6 1.4-3.7 2-3.6 6.1-3.6 6-3.6 7.4-3.6 16.3-3.6 5.6-3.6 1.7-3.6 3.5-3.7 4.4-3.6 12z" fill="url(#w105)" stroke="url(#w105)"/>
<path d="M683.2 447.2l3.6-12 3.7-4.4 3.6-3.5 3.6-1.7 3.6-5.6 3.6-16.3 3.6-7.4 3.6-6 3.6-6.1 3.7-2 3.6-1.4 3.6-4.3 3.6-3.3 3.6 .2 3.6-.3 3.6-2.3 3.6-2.2 3.7-3.8 3.6-2.8 3.6-1.5 3.6-1.7 3.6-2.5 3.6-2.1 3.6-2.4 3.6-.6 3.7-2 3.6-4.7 3.6 1 3.6-3.6 3.6-1.1 3.6-1 3.6-.6 3.7 .9 3.6 0 3.6 6 3.6 8.3 3.6 9.2 3.6 12.3 3.6 3.3 3.6 1.7 1.2 2-3.6 1.4-3.7-6.5-3.6-6.8-3.6-14.1-3.6-9.3-3.6-4.1-3.6-2.6-3.6 .9-3.7 .3-3.6 3-3.6 3.4-3.6 2.7-3.6-2-3.6 2.4-3.6 2.5-3.6 1.7-3.7 4.2-3.6-1.1-3.6 5.8-3.6 1.3-3.6 1.8-3.6 2.4-3.6 2.6-3.6 .3-3.7 3.3-3.6 .1-3.6 2.7-3.6 3.8-3.6-.6-3.6 3.9-3.6 4.1-3.6 1.9-3.7 8.7-3.6 11-3.6 15.7-3.6 .9-3.6 4.1-3.6 3-3.6 2.4-3.7 9.3z" fill="url(#w106)" stroke="url(#w106)"/>
<path d="M684.3 447.4l3.7-9.3 3.6-2.4 3.6-3 3.6-4.1 3.6-.9 3.6-15.7 3.6-11 3.7-8.7 3.6-1.9 3.6-4.1 3.6-3.9 3.6 .6 3.6-3.8 3.6-2.7 3.6-.1 3.7-3.3 3.6-.3 3.6-2.6 3.6-2.4 3.6-1.8 3.6-1.3 3.6-5.8 3.6 1.1 3.7-4.2 3.6-1.7 3.6-2.5 3.6-2.4 3.6 2 3.6-2.7 3.6-3.4 3.6-3 3.7-.3 3.6-.9 3.6 2.6 3.6 4.1 3.6 9.3 3.6 14.1 3.6 6.8 3.7 6.5 3.6-1.4 1.1 2.4-3.6 1.3-3.6-3.1-3.7-10-3.6-12.5-3.6-12.8-3.6-4.1-3.6-.9-3.6 2.2-3.6 1.5-3.6 2.7-3.7 1.9-3.6 1.5-3.6 1.4-3.6 2.6-3.6 2.7-3.6 .5-3.6 3.1-3.6 3.2-3.7 0-3.6 4.9-3.6 2-3.6 .6-3.6 2.2-3.6 3.2-3.6 1.6-3.6-.2-3.7 5.8-3.6-2.1-3.6 1-3.6 3.9-3.6 2.8-3.6 3.2-3.6 8.1-3.6 12.5-3.7 12-3.6 6.1-3.6 1.3-3.6 2.2-3.6 5.1-3.6 4.8z" fill="url(#w107)" stroke="url(#w107)"/>
<path d="M685.5 447.5l3.6-4.8 3.6-5.1 3.6-2.2 3.6-1.3 3.6-6.1 3.7-12 3.6-12.5 3.6-8.1 3.6-3.2 3.6-2.8 3.6-3.9 3.6-1 3.6 2.1 3.7-5.8 3.6 .2 3.6-1.6 3.6-3.2 3.6-2.2 3.6-.6 3.6-2 3.6-4.9 3.7 0 3.6-3.2 3.6-3.1 3.6-.5 3.6-2.7 3.6-2.6 3.6-1.4 3.6-1.5 3.7-1.9 3.6-2.7 3.6-1.5 3.6-2.2 3.6 .9 3.6 4.1 3.6 12.8 3.6 12.5 3.7 10 3.6 3.1 3.6-1.3 1.1-4-3.6-.3-3.6-4.1-3.6-9.6-3.6-15.1-3.7-5.5-3.6-4.4-3.6-2.2-3.6 .2-3.6 .1-3.6 2.2-3.6 3.9-3.6-.7-3.7 1.8-3.6 1.3-3.6 3.9-3.6-1-3.6 4.4-3.6 1.7-3.6 2.8-3.6 1.2-3.7 2.3-3.6 3-3.6 2.3-3.6 .2-3.6 1.9-3.6 2.3-3.6 4-3.6 2.1-3.7-.8-3.6-.8-3.6 6.6-3.6 6.6-3.6 6.6-3.6 10.5-3.6 12.2-3.7 4.1-3.6 .9-3.6 4.8-3.6 2.2-3.6 11.9z" fill="url(#w108)" stroke="url(#w108)"/>
<path d="M686.6 444.8l3.6-11.9 3.6-2.2 3.6-4.8 3.6-.9 3.7-4.1 3.6-12.2 3.6-10.5 3.6-6.6 3.6-6.6 3.6-6.6 3.6 .8 3.7 .8 3.6-2.1 3.6-4 3.6-2.3 3.6-1.9 3.6-.2 3.6-2.3 3.6-3 3.7-2.3 3.6-1.2 3.6-2.8 3.6-1.7 3.6-4.4 3.6 1 3.6-3.9 3.6-1.3 3.7-1.8 3.6 .7 3.6-3.9 3.6-2.2 3.6-.1 3.6-.2 3.6 2.2 3.6 4.4 3.7 5.5 3.6 15.1 3.6 9.6 3.6 4.1 3.6 .3 1.1-.5-3.6-3.2-3.6-5.3-3.6-8-3.6-12.8-3.6-4.1-3.6-9.3-3.7 1.5-3.6-2-3.6-1-3.6 5.6-3.6 1.6-3.6 .6-3.6 1.8-3.6-1.9-3.7 5.4-3.6 3.8-3.6 1.2-3.6 .6-3.6 2.5-3.6 2.8-3.6 1.2-3.6 4.3-3.7 .9-3.6 1.1-3.6 3.7-3.6-1.9-3.6 6-3.6 1.9-3.6-1-3.7 4-3.6 3-3.6 5.4-3.6 6.9-3.6 11.7-3.6 11.4-3.6 5.5-3.6 1.8-3.7 1.4-3.6 2.9-3.6 13.4z" fill="url(#w109)" stroke="url(#w109)"/>
<path d="M687.7 444.2l3.6-13.4 3.6-2.9 3.7-1.4 3.6-1.8 3.6-5.5 3.6-11.4 3.6-11.7 3.6-6.9 3.6-5.4 3.6-3 3.7-4 3.6 1 3.6-1.9 3.6-6 3.6 1.9 3.6-3.7 3.6-1.1 3.7-.9 3.6-4.3 3.6-1.2 3.6-2.8 3.6-2.5 3.6-.6 3.6-1.2 3.6-3.8 3.7-5.4 3.6 1.9 3.6-1.8 3.6-.6 3.6-1.6 3.6-5.6 3.6 1 3.6 2 3.7-1.5 3.6 9.3 3.6 4.1 3.6 12.8 3.6 8 3.6 5.3 3.6 3.2 1.2 5.2-3.7 .2-3.6-6-3.6-6-3.6-15.1-3.6-9.9-3.6-6.2-3.6-.4-3.6 3.9-3.7-.8-3.6 .4-3.6 2.1-3.6 2.7-3.6 1.5-3.6 3.7-3.6 2.3-3.6-.6-3.7 4.5-3.6 1.5-3.6 3-3.6 4.2-3.6 .7-3.6 2.5-3.6 2.6-3.7-.5-3.6 4.5-3.6 0-3.6 1.2-3.6 1.9-3.6 2.9-3.6 1.4-3.6 3.9-3.7 5.3-3.6 8.1-3.6 9.9-3.6 12.7-3.6 3.9-3.6-1.1-3.6 3.4-3.6 3.7-3.7 8z" fill="url(#w110)" stroke="url(#w110)"/>
<path d="M688.8 446l3.7-8 3.6-3.7 3.6-3.4 3.6 1.1 3.6-3.9 3.6-12.7 3.6-9.9 3.6-8.1 3.7-5.3 3.6-3.9 3.6-1.4 3.6-2.9 3.6-1.9 3.6-1.2 3.6 0 3.6-4.5 3.7 .5 3.6-2.6 3.6-2.5 3.6-.7 3.6-4.2 3.6-3 3.6-1.5 3.7-4.5 3.6 .6 3.6-2.3 3.6-3.7 3.6-1.5 3.6-2.7 3.6-2.1 3.6-.4 3.7 .8 3.6-3.9 3.6 .4 3.6 6.2 3.6 9.9 3.6 15.1 3.6 6 3.6 6 3.7-.2 1.1 1.4-3.6 1.4-3.6-1.9-3.7-9.4-3.6-12.7-3.6-14.4-3.6-7.2-3.6 .9-3.6 4.4-3.6 2.2-3.6 3.5-3.7 .1-3.6-1-3.6 5-3.6 .3-3.6 2.4-3.6 3.2-3.6 4-3.7 .7-3.6-.3-3.6 3.9-3.6 4.8-3.6 0-3.6 1.5-3.6-.3-3.6 3.9-3.7 3-3.6 1.4-3.6 3.1-3.6 2-3.6 .1-3.6 5.5-3.6 4.9-3.6 5.3-3.7 9.1-3.6 13.9-3.6 3.1-3.6 4.6-3.6 .1-3.6 4.4-3.6 2.1z" fill="url(#w111)" stroke="url(#w111)"/>
<path d="M690 445l3.6-2.1 3.6-4.4 3.6-.1 3.6-4.6 3.6-3.1 3.6-13.9 3.7-9.1 3.6-5.3 3.6-4.9 3.6-5.5 3.6-.1 3.6-2 3.6-3.1 3.6-1.4 3.7-3 3.6-3.9 3.6 .3 3.6-1.5 3.6 0 3.6-4.8 3.6-3.9 3.6 .3 3.7-.7 3.6-4 3.6-3.2 3.6-2.4 3.6-.3 3.6-5 3.6 1 3.7-.1 3.6-3.5 3.6-2.2 3.6-4.4 3.6-.9 3.6 7.2 3.6 14.4 3.6 12.7 3.7 9.4 3.6 1.9 3.6-1.4 1.1-2.9-3.6-.5-3.6-3.3-3.6-9.8-3.6-10.4-3.7-13.5-3.6-3-3.6 0-3.6-.2-3.6 2.3-3.6 4-3.6-1.1-3.7 .3-3.6 2.3-3.6 4-3.6 1.7-3.6 3.9-3.6-.4-3.6 3.2-3.6 2-3.7 2.8-3.6 .5-3.6 3.7-3.6 1.8-3.6 1.4-3.6 2.1-3.6 1.9-3.6 1.1-3.7 2.3-3.6 1.9-3.6 1.7-3.6 1.8-3.6 5.6-3.6 7-3.6 11.3-3.6 14.1-3.7 3.3-3.6 2.4-3.6 3-3.6-.7-3.6 11.8z" fill="url(#w112)" stroke="url(#w112)"/>
<path d="M691.1 446.8l3.6-11.8 3.6 .7 3.6-3 3.6-2.4 3.7-3.3 3.6-14.1 3.6-11.3 3.6-7 3.6-5.6 3.6-1.8 3.6-1.7 3.6-1.9 3.7-2.3 3.6-1.1 3.6-1.9 3.6-2.1 3.6-1.4 3.6-1.8 3.6-3.7 3.6-.5 3.7-2.8 3.6-2 3.6-3.2 3.6 .4 3.6-3.9 3.6-1.7 3.6-4 3.6-2.3 3.7-.3 3.6 1.1 3.6-4 3.6-2.3 3.6 .2 3.6 0 3.6 3 3.7 13.5 3.6 10.4 3.6 9.8 3.6 3.3 3.6 .5 1.1 1.4-3.6-1.8-3.6-4.7-3.6-7.9-3.6-11.8-3.6-9.4-3.7-7.6-3.6-.6-3.6 2.2-3.6 3.1-3.6 1.2-3.6 3.4-3.6-2.2-3.6 4-3.7-.5-3.6 3.6-3.6 3.2-3.6 1.8-3.6 .7-3.6 3.2-3.6 2.9-3.6 2.5-3.7 3.9-3.6-1.5-3.6 2.7-3.6 2.2-3.6 2.6-3.6-1.4-3.6 6-3.6 .1-3.7 .5-3.6 3.7-3.6 7.6-3.6 5.2-3.6 11.9-3.6 11.9-3.6 4.9-3.6 1.6-3.7 .2-3.6 4.6-3.6 9.8z" fill="url(#w113)" stroke="url(#w113)"/>
<path d="M692.2 447.7l3.6-9.8 3.6-4.6 3.7-.2 3.6-1.6 3.6-4.9 3.6-11.9 3.6-11.9 3.6-5.2 3.6-7.6 3.6-3.7 3.7-.5 3.6-.1 3.6-6 3.6 1.4 3.6-2.6 3.6-2.2 3.6-2.7 3.6 1.5 3.7-3.9 3.6-2.5 3.6-2.9 3.6-3.2 3.6-.7 3.6-1.8 3.6-3.2 3.6-3.6 3.7 .5 3.6-4 3.6 2.2 3.6-3.4 3.6-1.2 3.6-3.1 3.6-2.2 3.6 .6 3.7 7.6 3.6 9.4 3.6 11.8 3.6 7.9 3.6 4.7 3.6 1.8 1.2-1.1-3.7 1.2-3.6-3.6-3.6-7.3-3.6-13-3.6-14.4-3.6-2.6-3.6-.9-3.7 1.7-3.6 .7-3.6-.3-3.6 4-3.6 2.2-3.6 1.1-3.6 .8-3.6 3.7-3.7 3.6-3.6 1.9-3.6 .2-3.6 .5-3.6 3.8-3.6 2.1-3.6 1.2-3.6 6.7-3.7-1.8-3.6 1.4-3.6 3.1-3.6 2.8-3.6 .8-3.6 2-3.6-.3-3.6 1.6-3.7 7.9-3.6 8.2-3.6 11.4-3.6 13.2-3.6 5.4-3.6-.4-3.6 4.1-3.7 4.2-3.6 6.5z" fill="url(#w114)" stroke="url(#w114)"/>
<path d="M693.3 448.2l3.6-6.5 3.7-4.2 3.6-4.1 3.6 .4 3.6-5.4 3.6-13.2 3.6-11.4 3.6-8.2 3.7-7.9 3.6-1.6 3.6 .3 3.6-2 3.6-.8 3.6-2.8 3.6-3.1 3.6-1.4 3.7 1.8 3.6-6.7 3.6-1.2 3.6-2.1 3.6-3.8 3.6-.5 3.6-.2 3.6-1.9 3.7-3.6 3.6-3.7 3.6-.8 3.6-1.1 3.6-2.2 3.6-4 3.6 .3 3.6-.7 3.7-1.7 3.6 .9 3.6 2.6 3.6 14.4 3.6 13 3.6 7.3 3.6 3.6 3.7-1.2 1.1-5-3.6 1.6-3.7-5.9-3.6-10.6-3.6-11.8-3.6-7.6-3.6-3.6-3.6-2.2-3.6-2-3.6 2.5-3.7-.1-3.6 .7-3.6 3.3-3.6 2-3.6 2.2-3.6 2.1-3.6 2.6-3.6 2.7-3.7 1.1-3.6 2.6-3.6 1.8-3.6 4.6-3.6 1.2-3.6 1.7-3.6 .1-3.6 4-3.7 3.1-3.6 .7-3.6 2.2-3.6-.3-3.6 4.2-3.6 1-3.6 3.7-3.7 10.2-3.6 8.1-3.6 17.9-3.6 3-3.6 2.8-3.6 .9-3.6 5.2-3.6 12.5z" fill="url(#w115)" stroke="url(#w115)"/>
<path d="M694.5 448l3.6-12.5 3.6-5.2 3.6-.9 3.6-2.8 3.6-3 3.6-17.9 3.6-8.1 3.7-10.2 3.6-3.7 3.6-1 3.6-4.2 3.6 .3 3.6-2.2 3.6-.7 3.7-3.1 3.6-4 3.6-.1 3.6-1.7 3.6-1.2 3.6-4.6 3.6-1.8 3.6-2.6 3.7-1.1 3.6-2.7 3.6-2.6 3.6-2.1 3.6-2.2 3.6-2 3.6-3.3 3.6-.7 3.7 .1 3.6-2.5 3.6 2 3.6 2.2 3.6 3.6 3.6 7.6 3.6 11.8 3.6 10.6 3.7 5.9 3.6-1.6 1.1 9.4-3.6-2.2-3.6-2.6-3.6-6.2-3.7-12.7-3.6-14.2-3.6-4.7-3.6-4-3.6 6.8-3.6 3.6-3.6 .5-3.6 2.8-3.7 0-3.6 1.5-3.6 .8-3.6 4.2-3.6 3.3-3.6-.2-3.6 3.7-3.6 .4-3.7 3.2-3.6 1.9-3.6 2.7-3.6 .9-3.6 3.9-3.6 .9-3.6 1.6-3.7-.6-3.6 3.8-3.6 2.5-3.6 1.5-3.6 2.9-3.6 7.1-3.6 6-3.6 10.2-3.7 13.5-3.6 4.4-3.6 5.3-3.6 1.7-3.6 .9-3.6 10.4z" fill="url(#w116)" stroke="url(#w116)"/>
<path d="M695.6 454.7l3.6-10.4 3.6-.9 3.6-1.7 3.6-5.3 3.6-4.4 3.7-13.5 3.6-10.2 3.6-6 3.6-7.1 3.6-2.9 3.6-1.5 3.6-2.5 3.6-3.8 3.7 .6 3.6-1.6 3.6-.9 3.6-3.9 3.6-.9 3.6-2.7 3.6-1.9 3.7-3.2 3.6-.4 3.6-3.7 3.6 .2 3.6-3.3 3.6-4.2 3.6-.8 3.6-1.5 3.7 0 3.6-2.8 3.6-.5 3.6-3.6 3.6-6.8 3.6 4 3.6 4.7 3.6 14.2 3.7 12.7 3.6 6.2 3.6 2.6 3.6 2.2 1.1-5.8-3.6 1-3.6-5.2-3.6-11.8-3.6-11.4-3.6-6.3-3.7-6.6-3.6 .5-3.6-1.5-3.6 2.4-3.6-.2-3.6 4.8-3.6-2.4-3.6 2.8-3.7 .3-3.6 2.8-3.6 4.8-3.6 1.8-3.6 .6-3.6 3.7-3.6-1.3-3.7 5.5-3.6 .5-3.6 5.4-3.6-1-3.6 2.1-3.6 1.6-3.6 1.9-3.6 4.1-3.7-.1-3.6 2.4-3.6 .4-3.6 7.5-3.6 9.2-3.6 7.6-3.6 13.4-3.6 3.8-3.7 2.7-3.6 4.1-3.6 4.8-3.6 11.6z" fill="url(#w117)" stroke="url(#w117)"/>
<path d="M696.7 449.7l3.6-11.6 3.6-4.8 3.6-4.1 3.7-2.7 3.6-3.8 3.6-13.4 3.6-7.6 3.6-9.2 3.6-7.5 3.6-.4 3.6-2.4 3.7 .1 3.6-4.1 3.6-1.9 3.6-1.6 3.6-2.1 3.6 1 3.6-5.4 3.6-.5 3.7-5.5 3.6 1.3 3.6-3.7 3.6-.6 3.6-1.8 3.6-4.8 3.6-2.8 3.7-.3 3.6-2.8 3.6 2.4 3.6-4.8 3.6 .2 3.6-2.4 3.6 1.5 3.6-.5 3.7 6.6 3.6 6.3 3.6 11.4 3.6 11.8 3.6 5.2 3.6-1 1.1 5.3-3.6 .1-3.6-1.9-3.6-8.3-3.6-9.6-3.6-13.1-3.6-7.1-3.6 .1-3.7 4.2-3.6-.2-3.6 4.1-3.6 1.8-3.6 .9-3.6 1.9-3.6 .7-3.6 5.6-3.7 .2-3.6 2-3.6 1.8-3.6 2.7-3.6 1.8-3.6 4.3-3.6 3.1-3.7-.3-3.6 2.5-3.6 .6-3.6 1.2-3.6 4-3.6 .4-3.6 1.9-3.6 1.9-3.7 2.8-3.6 7.7-3.6 4.2-3.6 9.5-3.6 13.2-3.6 4.9-3.6 1.8-3.6 6-3.7 .7-3.6 6.1z" fill="url(#w118)" stroke="url(#w118)"/>
<path d="M697.8 452.9l3.6-6.1 3.7-.7 3.6-6 3.6-1.8 3.6-4.9 3.6-13.2 3.6-9.5 3.6-4.2 3.6-7.7 3.7-2.8 3.6-1.9 3.6-1.9 3.6-.4 3.6-4 3.6-1.2 3.6-.6 3.6-2.5 3.7 .3 3.6-3.1 3.6-4.3 3.6-1.8 3.6-2.7 3.6-1.8 3.6-2 3.7-.2 3.6-5.6 3.6-.7 3.6-1.9 3.6-.9 3.6-1.8 3.6-4.1 3.6 .2 3.7-4.2 3.6-.1 3.6 7.1 3.6 13.1 3.6 9.6 3.6 8.3 3.6 1.9 3.6-.1 1.2-1.1-3.6-.4-3.7-3.4-3.6-5.2-3.6-11.5-3.6-10.7-3.6-5.7-3.6-.9-3.6 4-3.6 .7-3.7 4.3-3.6 0-3.6 1.1-3.6 3-3.6 .6-3.6 2.7-3.6 1.5-3.7 1.8-3.6 3-3.6 4.4-3.6 .2-3.6 1.6-3.6 .2-3.6 3.5-3.6 1.5-3.7 3.3-3.6 1.7-3.6 3.8-3.6-.2-3.6 1.6-3.6 3.6-3.6 .5-3.6 4.4-3.7 9-3.6 6.4-3.6 16-3.6 2.7-3.6 1.9-3.6 1.2-3.6 4.4-3.6 8.2z" fill="url(#w119)" stroke="url(#w119)"/>
<path d="M699 452.4l3.6-8.2 3.6-4.4 3.6-1.2 3.6-1.9 3.6-2.7 3.6-16 3.6-6.4 3.7-9 3.6-4.4 3.6-.5 3.6-3.6 3.6-1.6 3.6 .2 3.6-3.8 3.6-1.7 3.7-3.3 3.6-1.5 3.6-3.5 3.6-.2 3.6-1.6 3.6-.2 3.6-4.4 3.6-3 3.7-1.8 3.6-1.5 3.6-2.7 3.6-.6 3.6-3 3.6-1.1 3.6 0 3.7-4.3 3.6-.7 3.6-4 3.6 .9 3.6 5.7 3.6 10.7 3.6 11.5 3.6 5.2 3.7 3.4 3.6 .4 1.1-2.7-3.6-1.1-3.6-4.1-3.6-6.8-3.7-12-3.6-8.1-3.6-4.9-3.6-.8-3.6 .3-3.6 2.3-3.6 2.7-3.7 1.5-3.6 .9-3.6 3.6-3.6 .7-3.6 3-3.6 2.3-3.6-.6-3.6 3.3-3.7 2.6-3.6 1.9-3.6 2.1-3.6 3.2-3.6 1-3.6 .6-3.6 2.4-3.6 1.4-3.7 5.3-3.6 0-3.6-.3-3.6 6.2-3.6 .8-3.6 5.5-3.6 7.9-3.6 4.6-3.7 15.4-3.6 4.1-3.6-1.3-3.6 3.8-3.6 4.5-3.6 10.1z" fill="url(#w120)" stroke="url(#w120)"/>
<path d="M700.1 448.9l3.6-10.1 3.6-4.5 3.6-3.8 3.6 1.3 3.6-4.1 3.7-15.4 3.6-4.6 3.6-7.9 3.6-5.5 3.6-.8 3.6-6.2 3.6 .3 3.6 0 3.7-5.3 3.6-1.4 3.6-2.4 3.6-.6 3.6-1 3.6-3.2 3.6-2.1 3.6-1.9 3.7-2.6 3.6-3.3 3.6 .6 3.6-2.3 3.6-3 3.6-.7 3.6-3.6 3.6-.9 3.7-1.5 3.6-2.7 3.6-2.3 3.6-.3 3.6 .8 3.6 4.9 3.6 8.1 3.7 12 3.6 6.8 3.6 4.1 3.6 1.1 1.1 .2-3.6-2.4-3.6-2-3.6-9.3-3.6-10.3-3.7-7.1-3.6-5.5-3.6 .9-3.6-2.2-3.6 2.3-3.6 1.6-3.6 3.5-3.6 1.1-3.7 1.1-3.6 .4-3.6 2.7-3.6 3.3-3.6 3.2-3.6-1.7-3.6 5.3-3.6 1.4-3.7 2.6-3.6 .6-3.6 4.5-3.6 .3-3.6-.5-3.6 5.2-3.6 4-3.6-1-3.7 1.3-3.6 5.1-3.6 .4-3.6 4.6-3.6 7.8-3.6 6-3.6 13.2-3.7 3.1-3.6 3-3.6 3.7-3.6 2.3-3.6 7.7z" fill="url(#w121)" stroke="url(#w121)"/>
<path d="M701.2 445.3l3.6-7.7 3.6-2.3 3.6-3.7 3.6-3 3.7-3.1 3.6-13.2 3.6-6 3.6-7.8 3.6-4.6 3.6-.4 3.6-5.1 3.7-1.3 3.6 1 3.6-4 3.6-5.2 3.6 .5 3.6-.3 3.6-4.5 3.6-.6 3.7-2.6 3.6-1.4 3.6-5.3 3.6 1.7 3.6-3.2 3.6-3.3 3.6-2.7 3.6-.4 3.7-1.1 3.6-1.1 3.6-3.5 3.6-1.6 3.6-2.3 3.6 2.2 3.6-.9 3.6 5.5 3.7 7.1 3.6 10.3 3.6 9.3 3.6 2 3.6 2.4 1.1 0-3.6 0-3.6-5.1-3.6-7.5-3.6-8.6-3.6-9.1-3.6-2.1-3.7 .4-3.6-1.6-3.6 1.4-3.6-.2-3.6 4.7-3.6-.8-3.6 .6-3.6 5.7-3.7 .4-3.6 2.4-3.6 2.2-3.6 4.2-3.6 1.6-3.6 2.8-3.6 .9-3.6 1.2-3.7 1.2-3.6 2.4-3.6 2.4-3.6 1.5-3.6 1.7-3.6 1.8-3.6 1.9-3.6 1.3-3.7 1.2-3.6 6.6-3.6 8.3-3.6 6.7-3.6 12.4-3.6 4.7-3.6 .9-3.7 4.2-3.6 .5-3.6 7.1z" fill="url(#w122)" stroke="url(#w122)"/>
<path d="M702.3 445.4l3.6-7.1 3.6-.5 3.7-4.2 3.6-.9 3.6-4.7 3.6-12.4 3.6-6.7 3.6-8.3 3.6-6.6 3.7-1.2 3.6-1.3 3.6-1.9 3.6-1.8 3.6-1.7 3.6-1.5 3.6-2.4 3.6-2.4 3.7-1.2 3.6-1.2 3.6-.9 3.6-2.8 3.6-1.6 3.6-4.2 3.6-2.2 3.6-2.4 3.7-.4 3.6-5.7 3.6-.6 3.6 .8 3.6-4.7 3.6 .2 3.6-1.4 3.6 1.6 3.7-.4 3.6 2.1 3.6 9.1 3.6 8.6 3.6 7.5 3.6 5.1 3.6 0 1.2 1.3-3.7 1.9-3.6-4.1-3.6-9.4-3.6-8.9-3.6-9.7-3.6-1.9-3.6 1.1-3.6-1.7-3.7 1.9-3.6 3.7-3.6 1.7-3.6-1.4-3.6 3.6-3.6 2.4-3.6 .9-3.6 2.7-3.7 1.7-3.6 2-3.6 4.4-3.6 2.2-3.6-.1-3.6 2-3.6 2.2-3.6 2-3.7 0-3.6 6.3-3.6-.4-3.6 3.5-3.6 .5-3.6 1.4-3.6 1.4-3.7 5.4-3.6 6.6-3.6 8.6-3.6 10.9-3.6 6.1-3.6 0-3.6 5.3-3.6 .3-3.7 8z" fill="url(#w123)" stroke="url(#w123)"/>
<path d="M703.4 449.5l3.7-8 3.6-.3 3.6-5.3 3.6 0 3.6-6.1 3.6-10.9 3.6-8.6 3.6-6.6 3.7-5.4 3.6-1.4 3.6-1.4 3.6-.5 3.6-3.5 3.6 .4 3.6-6.3 3.7 0 3.6-2 3.6-2.2 3.6-2 3.6 .1 3.6-2.2 3.6-4.4 3.6-2 3.7-1.7 3.6-2.7 3.6-.9 3.6-2.4 3.6-3.6 3.6 1.4 3.6-1.7 3.6-3.7 3.7-1.9 3.6 1.7 3.6-1.1 3.6 1.9 3.6 9.7 3.6 8.9 3.6 9.4 3.6 4.1 3.7-1.9 1.1 .8-3.6-1.5-3.6-1.7-3.7-8.5-3.6-8.9-3.6-7.3-3.6-3.1-3.6-1.9-3.6 1.5-3.6 .5-3.6 5.7-3.7-1.7-3.6 2.9-3.6 2.4-3.6 .3-3.6 3.1-3.6 1.8-3.6 .4-3.6 5.3-3.7-.7-3.6 5-3.6 2.4-3.6-.1-3.6 3.3-3.6 4.3-3.6 1-3.7 .4-3.6-.3-3.6 6.2-3.6-.5-3.6 1-3.6 .5-3.6 7.2-3.6 5.3-3.7 6.9-3.6 11.9-3.6 5.3-3.6 2.5-3.6 1.4-3.6 3-3.6 9.2z" fill="url(#w124)" stroke="url(#w124)"/>
<path d="M704.6 451.7l3.6-9.2 3.6-3 3.6-1.4 3.6-2.5 3.6-5.3 3.6-11.9 3.7-6.9 3.6-5.3 3.6-7.2 3.6-.5 3.6-1 3.6 .5 3.6-6.2 3.6 .3 3.7-.4 3.6-1 3.6-4.3 3.6-3.3 3.6 .1 3.6-2.4 3.6-5 3.7 .7 3.6-5.3 3.6-.4 3.6-1.8 3.6-3.1 3.6-.3 3.6-2.4 3.6-2.9 3.7 1.7 3.6-5.7 3.6-.5 3.6-1.5 3.6 1.9 3.6 3.1 3.6 7.3 3.6 8.9 3.7 8.5 3.6 1.7 3.6 1.5 1.1-1.7-3.6 1-3.6-2.1-3.6-7.6-3.6-8.9-3.7-8.5-3.6-6.2-3.6 1.1-3.6 2.5-3.6 1.2-3.6 3.3-3.6-.1-3.6 1-3.7 3.2-3.6 .4-3.6 3.7-3.6 1.6-3.6 1.6-3.6 4-3.6 0-3.7 .1-3.6 3.8-3.6 2.7-3.6 1.2-3.6 2-3.6 1.2-3.6 4.4-3.6 1.1-3.7 1.7-3.6 .3-3.6 6.3-3.6 0-3.6 4.4-3.6 8.6-3.6 4.5-3.6 14.9-3.7 2.9-3.6 .1-3.6 5.1-3.6 1.7-3.6 9.2z" fill="url(#w125)" stroke="url(#w125)"/>
<path d="M705.7 452.9l3.6-9.2 3.6-1.7 3.6-5.1 3.6-.1 3.7-2.9 3.6-14.9 3.6-4.5 3.6-8.6 3.6-4.4 3.6 0 3.6-6.3 3.6-.3 3.7-1.7 3.6-1.1 3.6-4.4 3.6-1.2 3.6-2 3.6-1.2 3.6-2.7 3.6-3.8 3.7-.1 3.6 0 3.6-4 3.6-1.6 3.6-1.6 3.6-3.7 3.6-.4 3.7-3.2 3.6-1 3.6 .1 3.6-3.3 3.6-1.2 3.6-2.5 3.6-1.1 3.6 6.2 3.7 8.5 3.6 8.9 3.6 7.6 3.6 2.1 3.6-1 1.1 .9-3.6 1-3.6-2.6-3.6-11.5-3.6-5.9-3.6-11-3.6-1.2-3.7-2.6-3.6 2.7-3.6 0-3.6 2-3.6 1.2-3.6 4.6-3.6-.3-3.7-.2-3.6 5.7-3.6-.2-3.6 2.4-3.6 3.2-3.6 3.5-3.6 .5-3.6 1.3-3.7 4.7-3.6 0-3.6 1.3-3.6 3-3.6-.2-3.6 4.4-3.6 2.2-3.6 .5-3.7 2.5-3.6 1.9-3.6 5.5-3.6 5.3-3.6 9.3-3.6 14.2-3.6 2.1-3.6 3.3-3.7 1.3-3.6 3.4-3.6 10.9z" fill="url(#w126)" stroke="url(#w126)"/>
<path d="M706.8 454.6l3.6-10.9 3.6-3.4 3.7-1.3 3.6-3.3 3.6-2.1 3.6-14.2 3.6-9.3 3.6-5.3 3.6-5.5 3.6-1.9 3.7-2.5 3.6-.5 3.6-2.2 3.6-4.4 3.6 .2 3.6-3 3.6-1.3 3.6 0 3.7-4.7 3.6-1.3 3.6-.5 3.6-3.5 3.6-3.2 3.6-2.4 3.6 .2 3.6-5.7 3.7 .2 3.6 .3 3.6-4.6 3.6-1.2 3.6-2 3.6 0 3.6-2.7 3.7 2.6 3.6 1.2 3.6 11 3.6 5.9 3.6 11.5 3.6 2.6 3.6-1 1.2 3.6-3.7-2.7-3.6-1.9-3.6-5.4-3.6-8.9-3.6-9.4-3.6-6.7-3.6 1-3.7 3.5-3.6-1.5-3.6 2.9-3.6 3-3.6-.6-3.6 1.5-3.6 1.2-3.6 4.6-3.7 3.7-3.6 2-3.6-.2-3.6 .6-3.6 4.4-3.6-.2-3.6 5.6-3.6 .4-3.7 1.8-3.6 2-3.6 1.5-3.6 3.3-3.6 1.6-3.6 2.6-3.6 1.4-3.6 2.6-3.7 3.7-3.6 6.1-3.6 8.4-3.6 11.8-3.6 5.9-3.6 1.9-3.6 2.9-3.6 2.4-3.7 8.6z" fill="url(#w127)" stroke="url(#w127)"/>
<path d="M707.9 455.4l3.7-8.6 3.6-2.4 3.6-2.9 3.6-1.9 3.6-5.9 3.6-11.8 3.6-8.4 3.6-6.1 3.7-3.7 3.6-2.6 3.6-1.4 3.6-2.6 3.6-1.6 3.6-3.3 3.6-1.5 3.6-2 3.7-1.8 3.6-.4 3.6-5.6 3.6 .2 3.6-4.4 3.6-.6 3.6 .2 3.6-2 3.7-3.7 3.6-4.6 3.6-1.2 3.6-1.5 3.6 .6 3.6-3 3.6-2.9 3.6 1.5 3.7-3.5 3.6-1 3.6 6.7 3.6 9.4 3.6 8.9 3.6 5.4 3.6 1.9 3.7 2.7 1.1-.6-3.6-2.9-3.6-1.5-3.7-9.9-3.6-6-3.6-9.1-3.6-5.8-3.6-.4-3.6 3.2-3.6 1-3.7 .9-3.6 1.3-3.6 1.4-3.6 3.4-3.6 .8-3.6 3.2-3.6 2.2-3.6 2.3-3.7 1.3-3.6 2.9-3.6 1.9-3.6 .3-3.6 3.2-3.6 2.5-3.6 1.9-3.6 1.9-3.7 2.8-3.6-1.7-3.6 3.7-3.6 3-3.6 2.9-3.6-.4-3.6 7.4-3.6 6.3-3.7 6.9-3.6 10.8-3.6 6.4-3.6 6-3.6-1-3.6 3.2-3.6 10.9z" fill="url(#w128)" stroke="url(#w128)"/>
<path d="M709.1 456.6l3.6-10.9 3.6-3.2 3.6 1 3.6-6 3.6-6.4 3.6-10.8 3.7-6.9 3.6-6.3 3.6-7.4 3.6 .4 3.6-2.9 3.6-3 3.6-3.7 3.6 1.7 3.7-2.8 3.6-1.9 3.6-1.9 3.6-2.5 3.6-3.2 3.6-.3 3.6-1.9 3.6-2.9 3.7-1.3 3.6-2.3 3.6-2.2 3.6-3.2 3.6-.8 3.6-3.4 3.6-1.4 3.6-1.3 3.7-.9 3.6-1 3.6-3.2 3.6 .4 3.6 5.8 3.6 9.1 3.6 6 3.7 9.9 3.6 1.5 3.6 2.9 1.1-3-3.6 1-3.6-.4-3.6-10.7-3.7-11.1-3.6-5.8-3.6-4.3-3.6 .3-3.6-1.3-3.6 1.9-3.6 1.8-3.6 2.4-3.7 2.4-3.6-.1-3.6 2-3.6 2.4-3.6 2.3-3.6 .4-3.6 5.5-3.6 1.1-3.7 .4-3.6 2.8-3.6 .8-3.6 3-3.6 3.5-3.6 1.9-3.6 .5-3.6 4.6-3.7 2.2-3.6-.4-3.6 2.8-3.6 3-3.6 3.1-3.6 9-3.6 6-3.7 11.3-3.6 4.6-3.6 2-3.6 5.2-3.6 2.4-3.6 9.5z" fill="url(#w129)" stroke="url(#w129)"/>
<path d="M710.2 454.4l3.6-9.5 3.6-2.4 3.6-5.2 3.6-2 3.6-4.6 3.7-11.3 3.6-6 3.6-9 3.6-3.1 3.6-3 3.6-2.8 3.6 .4 3.7-2.2 3.6-4.6 3.6-.5 3.6-1.9 3.6-3.5 3.6-3 3.6-.8 3.6-2.8 3.7-.4 3.6-1.1 3.6-5.5 3.6-.4 3.6-2.3 3.6-2.4 3.6-2 3.6 .1 3.7-2.4 3.6-2.4 3.6-1.8 3.6-1.9 3.6 1.3 3.6-.3 3.6 4.3 3.6 5.8 3.7 11.1 3.6 10.7 3.6 .4 3.6-1 1.1 2.5-3.6 2.5-3.6-4.7-3.6-9-3.6-8.6-3.6-8.5-3.7-4.1-3.6-2.8-3.6 1.8-3.6 4.1-3.6 1.3-3.6 1.2-3.6-.2-3.6 3.5-3.7 3.7-3.6 .2-3.6 3.1-3.6 2-3.6 3.5-3.6 .1-3.6 2.2-3.6 1.8-3.7 3-3.6 1.3-3.6 2.3-3.6 3.3-3.6-.2-3.6 2.2-3.6 3-3.7 1.5-3.6 .5-3.6 2.6-3.6 7.8-3.6 5.7-3.6 7.6-3.6 10.8-3.6 4.8-3.7 3-3.6 2.5-3.6 3.8-3.6 11z" fill="url(#w130)" stroke="url(#w130)"/>
<path d="M711.3 458.5l3.6-11 3.6-3.8 3.6-2.5 3.7-3 3.6-4.8 3.6-10.8 3.6-7.6 3.6-5.7 3.6-7.8 3.6-2.6 3.6-.5 3.7-1.5 3.6-3 3.6-2.2 3.6 .2 3.6-3.3 3.6-2.3 3.6-1.3 3.7-3 3.6-1.8 3.6-2.2 3.6-.1 3.6-3.5 3.6-2 3.6-3.1 3.6-.2 3.7-3.7 3.6-3.5 3.6 .2 3.6-1.2 3.6-1.3 3.6-4.1 3.6-1.8 3.6 2.8 3.7 4.1 3.6 8.5 3.6 8.6 3.6 9 3.6 4.7 3.6-2.5 1.1-1.1-3.6-.1-3.6-3.1-3.6-9-3.6-10.3-3.6-6.6-3.6-4.5-3.6-.2-3.7 .6-3.6 .2-3.6 4.1-3.6-1-3.6 2.7-3.6 2.3-3.6 1.7-3.6 .8-3.7 4-3.6-1-3.6 5.3-3.6 2.7-3.6-1.2-3.6 3.9-3.6 1.5-3.7 1.3-3.6 2-3.6 3.8-3.6 1.7-3.6 1.6-3.6 2.6-3.6-.2-3.6 2.6-3.7 1.7-3.6 6.8-3.6 7.2-3.6 8.8-3.6 11.5-3.6 4.9-3.6-.3-3.6 5.7-3.7 2.5-3.6 9.4z" fill="url(#w131)" stroke="url(#w131)"/>
<path d="M712.4 454.2l3.6-9.4 3.7-2.5 3.6-5.7 3.6 .3 3.6-4.9 3.6-11.5 3.6-8.8 3.6-7.2 3.6-6.8 3.7-1.7 3.6-2.6 3.6 .2 3.6-2.6 3.6-1.6 3.6-1.7 3.6-3.8 3.6-2 3.7-1.3 3.6-1.5 3.6-3.9 3.6 1.2 3.6-2.7 3.6-5.3 3.6 1 3.7-4 3.6-.8 3.6-1.7 3.6-2.3 3.6-2.7 3.6 1 3.6-4.1 3.6-.2 3.7-.6 3.6 .2 3.6 4.5 3.6 6.6 3.6 10.3 3.6 9 3.6 3.1 3.6 .1 1.2 1.5-3.6-.7-3.7-3.2-3.6-9-3.6-10.8-3.6-5.3-3.6-4.3-3.6-.8-3.6-.6-3.6 2.3-3.7 .8-3.6 2.2-3.6 3.8-3.6 .8-3.6 .5-3.6 2.6-3.6 2.6-3.6 2.5-3.7 1.3-3.6 3.9-3.6-.8-3.6 4.5-3.6 .3-3.6 1.7-3.6 2.7-3.7 .4-3.6 3.3-3.6 1.2-3.6 3.9-3.6 2-3.6 .5-3.6 .7-3.6 4.2-3.7 9-3.6 9-3.6 12.7-3.6 2.8-3.6 .3-3.6 5.6-3.6 3.2-3.6 11.5z" fill="url(#w132)" stroke="url(#w132)"/>
<path d="M713.6 456.6l3.6-11.5 3.6-3.2 3.6-5.6 3.6-.3 3.6-2.8 3.6-12.7 3.6-9 3.7-9 3.6-4.2 3.6-.7 3.6-.5 3.6-2 3.6-3.9 3.6-1.2 3.6-3.3 3.7-.4 3.6-2.7 3.6-1.7 3.6-.3 3.6-4.5 3.6 .8 3.6-3.9 3.7-1.3 3.6-2.5 3.6-2.6 3.6-2.6 3.6-.5 3.6-.8 3.6-3.8 3.6-2.2 3.7-.8 3.6-2.3 3.6 .6 3.6 .8 3.6 4.3 3.6 5.3 3.6 10.8 3.6 9 3.7 3.2 3.6 .7 1.1-4-3.6 .3-3.6-4.3-3.6-9.7-3.7-11.1-3.6-5.2-3.6-1.4-3.6-2.4-3.6-3.2-3.6 .8-3.6 2.6-3.6 2.6-3.7 2.9-3.6 .3-3.6 2-3.6 2.8-3.6 1.1-3.6 2.8-3.6 2.7-3.7 1.9-3.6-.7-3.6 2.2-3.6 3.2-3.6 3.3-3.6-.2-3.6 2.2-3.6 3.6-3.7 2-3.6 1-3.6 1.7-3.6 1.8-3.6 4.2-3.6 3.7-3.6 7.7-3.6 9.4-3.7 9.7-3.6 5.3-3.6 2.9-3.6 3.6-3.6 7.6-3.6 16.4z" fill="url(#w133)" stroke="url(#w133)"/>
<path d="M714.7 461.4l3.6-16.4 3.6-7.6 3.6-3.6 3.6-2.9 3.6-5.3 3.7-9.7 3.6-9.4 3.6-7.7 3.6-3.7 3.6-4.2 3.6-1.8 3.6-1.7 3.6-1 3.7-2 3.6-3.6 3.6-2.2 3.6 .2 3.6-3.3 3.6-3.2 3.6-2.2 3.6 .7 3.7-1.9 3.6-2.7 3.6-2.8 3.6-1.1 3.6-2.8 3.6-2 3.6-.3 3.7-2.9 3.6-2.6 3.6-2.6 3.6-.8 3.6 3.2 3.6 2.4 3.6 1.4 3.6 5.2 3.7 11.1 3.6 9.7 3.6 4.3 3.6-.3 1.1 3.4-3.6 .1-3.6-2.5-3.6-8.9-3.6-9.9-3.6-5.9-3.7-4.8-3.6-3.9-3.6 2.1-3.6 3.6-3.6 .1-3.6 4.4-3.6-1.3-3.7 3.6-3.6 1-3.6 3.5-3.6-.5-3.6 5.5-3.6 2-3.6-1-3.6 3.5-3.7 1.3-3.6 1.5-3.6 3.4-3.6 4.7-3.6-.5-3.6 2.1-3.6 .6-3.6 2.7-3.7 1.5-3.6 2.8-3.6 .4-3.6 7.8-3.6 8.2-3.6 4.2-3.6 15.3-3.6 4.8-3.7 2.2-3.6 3.6-3.6 7.7-3.6 11.2z" fill="url(#w134)" stroke="url(#w134)"/>
<path d="M715.8 464.9l3.6-11.2 3.6-7.7 3.6-3.6 3.7-2.2 3.6-4.8 3.6-15.3 3.6-4.2 3.6-8.2 3.6-7.8 3.6-.4 3.6-2.8 3.7-1.5 3.6-2.7 3.6-.6 3.6-2.1 3.6 .5 3.6-4.7 3.6-3.4 3.6-1.5 3.7-1.3 3.6-3.5 3.6 1 3.6-2 3.6-5.5 3.6 .5 3.6-3.5 3.6-1 3.7-3.6 3.6 1.3 3.6-4.4 3.6-.1 3.6-3.6 3.6-2.1 3.6 3.9 3.7 4.8 3.6 5.9 3.6 9.9 3.6 8.9 3.6 2.5 3.6-.1 1.1 2.4-3.6 .8-3.6-1.2-3.6-11.9-3.6-6.7-3.6-9.5-3.6-5.7-3.7 .7-3.6 1.2-3.6 .3-3.6 2.2-3.6 3.2-3.6 2.1-3.6 .8-3.6 1.8-3.7 2.8-3.6 2.5-3.6 1.2-3.6 .9-3.6 2.9-3.6 2.7-3.6 2.8-3.6 3.5-3.7-.8-3.6 3.6-3.6 2.1-3.6 3.3-3.6-1.1-3.6 3.8-3.6 2.3-3.6 .4-3.7 3.4-3.6 3.8-3.6 7.3-3.6 7.7-3.6 15.6-3.6 1.6-3.6 4.6-3.7 3.8-3.6 5.7-3.6 11.3z" fill="url(#w135)" stroke="url(#w135)"/>
<path d="M716.9 466.9l3.6-11.3 3.6-5.7 3.7-3.8 3.6-4.6 3.6-1.6 3.6-15.6 3.6-7.7 3.6-7.3 3.6-3.8 3.7-3.4 3.6-.4 3.6-2.3 3.6-3.8 3.6 1.1 3.6-3.3 3.6-2.1 3.6-3.6 3.7 .8 3.6-3.5 3.6-2.8 3.6-2.7 3.6-2.9 3.6-.9 3.6-1.2 3.6-2.5 3.7-2.8 3.6-1.8 3.6-.8 3.6-2.1 3.6-3.2 3.6-2.2 3.6-.3 3.6-1.2 3.7-.7 3.6 5.7 3.6 9.5 3.6 6.7 3.6 11.9 3.6 1.2 3.6-.8 1.2-.3-3.7-.6-3.6-3.3-3.6-5.9-3.6-7.6-3.6-9.7-3.6-6.5-3.6 1.1-3.6-.4-3.7 3.6-3.6 2.8-3.6-.7-3.6 1.4-3.6 5.1-3.6 .9-3.6 .7-3.6 2.9-3.7 1.6-3.6 3.4-3.6 2.9-3.6 .7-3.6 2.8-3.6 .4-3.6 2.8-3.6 1.3-3.7 3.1-3.6 1.2-3.6 1.9-3.6 2.9-3.6 .7-3.6 1.9-3.6 3.4-3.6 5.1-3.7 7.9-3.6 7.7-3.6 12.5-3.6 3.8-3.6 3.6-3.6 4.2-3.6 6.3-3.7 11.6z" fill="url(#w136)" stroke="url(#w136)"/>
<path d="M718 468.3l3.7-11.6 3.6-6.3 3.6-4.2 3.6-3.6 3.6-3.8 3.6-12.5 3.6-7.7 3.7-7.9 3.6-5.1 3.6-3.4 3.6-1.9 3.6-.7 3.6-2.9 3.6-1.9 3.6-1.2 3.7-3.1 3.6-1.3 3.6-2.8 3.6-.4 3.6-2.8 3.6-.7 3.6-2.9 3.6-3.4 3.7-1.6 3.6-2.9 3.6-.7 3.6-.9 3.6-5.1 3.6-1.4 3.6 .7 3.6-2.8 3.7-3.6 3.6 .4 3.6-1.1 3.6 6.5 3.6 9.7 3.6 7.6 3.6 5.9 3.6 3.3 3.7 .6 1.1-2-3.6-1-3.6-.8-3.7-7.1-3.6-10.5-3.6-6.4-3.6-8.1-3.6 2.7-3.6-.4-3.6 3.6-3.6 3.5-3.7-.3-3.6 2.8-3.6-1.4-3.6 3.9-3.6-.8-3.6 4.1-3.6 .2-3.6 4.7-3.7 .5-3.6 3.6-3.6 .1-3.6 4-3.6 1.4-3.6 2.4-3.6 3.4-3.6-1-3.7 3.9-3.6 .4-3.6 3-3.6 1.1-3.6 4.6-3.6 5.4-3.6 4.1-3.7 7.5-3.6 11.3-3.6 8-3.6 3.2-3.6 3.1-3.6 6.3-3.6 11.6z" fill="url(#w137)" stroke="url(#w137)"/>
<path d="M719.2 465.4l3.6-11.6 3.6-6.3 3.6-3.1 3.6-3.2 3.6-8 3.6-11.3 3.7-7.5 3.6-4.1 3.6-5.4 3.6-4.6 3.6-1.1 3.6-3 3.6-.4 3.7-3.9 3.6 1 3.6-3.4 3.6-2.4 3.6-1.4 3.6-4 3.6-.1 3.6-3.6 3.7-.5 3.6-4.7 3.6-.2 3.6-4.1 3.6 .8 3.6-3.9 3.6 1.4 3.6-2.8 3.7 .3 3.6-3.5 3.6-3.6 3.6 .4 3.6-2.7 3.6 8.1 3.6 6.4 3.6 10.5 3.7 7.1 3.6 .8 3.6 1 1.1-1.6-3.6 2.2-3.6-5.2-3.6-8.1-3.6-9.5-3.7-7.5-3.6-1.4-3.6-1.5-3.6-.9-3.6 1.9-3.6 2.8-3.6-.3-3.6 1.7-3.7 .8-3.6 4.8-3.6-.1-3.6 2.7-3.6 1.7-3.6 3-3.6 1.3-3.6 4.1-3.7-.6-3.6 3-3.6 1.1-3.6 4.5-3.6-2-3.6 2.3-3.6 3.8-3.7 2.4-3.6 .5-3.6 2.6-3.6 1-3.6 7.1-3.6 7.8-3.6 5.5-3.6 11.4-3.7 5.9-3.6 2.9-3.6 5.3-3.6 7.7-3.6 10.2z" fill="url(#w138)" stroke="url(#w138)"/>
<path d="M720.3 462.1l3.6-10.2 3.6-7.7 3.6-5.3 3.6-2.9 3.7-5.9 3.6-11.4 3.6-5.5 3.6-7.8 3.6-7.1 3.6-1 3.6-2.6 3.6-.5 3.7-2.4 3.6-3.8 3.6-2.3 3.6 2 3.6-4.5 3.6-1.1 3.6-3 3.7 .6 3.6-4.1 3.6-1.3 3.6-3 3.6-1.7 3.6-2.7 3.6 .1 3.6-4.8 3.7-.8 3.6-1.7 3.6 .3 3.6-2.8 3.6-1.9 3.6 .9 3.6 1.5 3.6 1.4 3.7 7.5 3.6 9.5 3.6 8.1 3.6 5.2 3.6-2.2 1.1 3.1-3.6-.3-3.6-1.3-3.6-7.8-3.6-9.6-3.6-9.6-3.6-4.1-3.7-.1-3.6 2-3.6 1.4-3.6 0-3.6 6.3-3.6-1.4-3.6 2.2-3.6 1.2-3.7 1.4-3.6 6.6-3.6 .2-3.6 2.5-3.6 .8-3.6 3.3-3.6 2.7-3.7 1.6-3.6 1.3-3.6 2.6-3.6 .4-3.6 3-3.6 2.7-3.6 0-3.6 3.1-3.7 1.6-3.6 .3-3.6 5.9-3.6 8.9-3.6 9.5-3.6 11.1-3.6 2-3.6 4.2-3.7 1.8-3.6 7.6-3.6 9.1z" fill="url(#w139)" stroke="url(#w139)"/>
<path d="M721.4 463.4l3.6-9.1 3.6-7.6 3.7-1.8 3.6-4.2 3.6-2 3.6-11.1 3.6-9.5 3.6-8.9 3.6-5.9 3.6-.3 3.7-1.6 3.6-3.1 3.6 0 3.6-2.7 3.6-3 3.6-.4 3.6-2.6 3.6-1.3 3.7-1.6 3.6-2.7 3.6-3.3 3.6-.8 3.6-2.5 3.6-.2 3.6-6.6 3.7-1.4 3.6-1.2 3.6-2.2 3.6 1.4 3.6-6.3 3.6 0 3.6-1.4 3.6-2 3.7 .1 3.6 4.1 3.6 9.6 3.6 9.6 3.6 7.8 3.6 1.3 3.6 .3 1.2-.5-3.7 .6-3.6-3.9-3.6-7.2-3.6-8.5-3.6-8.9-3.6-3-3.6-2.5-3.6 4-3.7-.1-3.6 1.8-3.6 2.2-3.6 .9-3.6-.8-3.6 4.8-3.6-1.4-3.7 4.1-3.6 4.2-3.6 .4-3.6 2-3.6 3.1-3.6 .2-3.6 3.7-3.6 3.8-3.7-2.1-3.6 3.4-3.6 2.8-3.6 1.3-3.6 1.1-3.6 2-3.6 2.5-3.6 3-3.7 3.7-3.6 8.7-3.6 4.8-3.6 15.5-3.6 4.4-3.6 1.7-3.6 2.7-3.6 5.3-3.7 10.5z" fill="url(#w140)" stroke="url(#w140)"/>
<path d="M722.5 460.6l3.7-10.5 3.6-5.3 3.6-2.7 3.6-1.7 3.6-4.4 3.6-15.5 3.6-4.8 3.6-8.7 3.7-3.7 3.6-3 3.6-2.5 3.6-2 3.6-1.1 3.6-1.3 3.6-2.8 3.6-3.4 3.7 2.1 3.6-3.8 3.6-3.7 3.6-.2 3.6-3.1 3.6-2 3.6-.4 3.6-4.2 3.7-4.1 3.6 1.4 3.6-4.8 3.6 .8 3.6-.9 3.6-2.2 3.6-1.8 3.7 .1 3.6-4 3.6 2.5 3.6 3 3.6 8.9 3.6 8.5 3.6 7.2 3.6 3.9 3.7-.6 1.1-1.6-3.6-2.1-3.6-2.9-3.7-9.3-3.6-9.2-3.6-5.2-3.6-4.4-3.6 .9-3.6-2.8-3.6-.8-3.7 3.3-3.6 1.8-3.6 1.4-3.6 1.4-3.6 4.4-3.6 1.2-3.6 1.2-3.6 1.8-3.7 2.3-3.6 1.2-3.6 3.2-3.6-.9-3.6 5.4-3.6 .7-3.6 3.7-3.6 1.1-3.7 1.6-3.6 2-3.6 3.7-3.6 1.7-3.6 .7-3.6 2.7-3.6 4.4-3.6 7.8-3.7 6.4-3.6 12.9-3.6 4.1-3.6 3.4-3.6 3.7-3.6 5-3.6 14.2z" fill="url(#w141)" stroke="url(#w141)"/>
<path d="M723.7 459.9l3.6-14.2 3.6-5 3.6-3.7 3.6-3.4 3.6-4.1 3.6-12.9 3.7-6.4 3.6-7.8 3.6-4.4 3.6-2.7 3.6-.7 3.6-1.7 3.6-3.7 3.6-2 3.7-1.6 3.6-1.1 3.6-3.7 3.6-.7 3.6-5.4 3.6 .9 3.6-3.2 3.6-1.2 3.7-2.3 3.6-1.8 3.6-1.2 3.6-1.2 3.6-4.4 3.6-1.4 3.6-1.4 3.6-1.8 3.7-3.3 3.6 .8 3.6 2.8 3.6-.9 3.6 4.4 3.6 5.2 3.6 9.2 3.7 9.3 3.6 2.9 3.6 2.1 1.1 6.8-3.6 2.2-3.6 .4-3.6-4.7-3.7-10.1-3.6-12.2-3.6-3.8-3.6-.2-3.6 7.4-3.6-.1-3.6 3.1-3.6 .2-3.7 3.6-3.6 2.5-3.6-1.5-3.6 1.2-3.6 3.9-3.6 .2-3.6 2.4-3.6 3.8-3.7-.5-3.6 3.4-3.6 3.2-3.6 .5-3.6 3.5-3.6 2.2-3.6-.3-3.6 2.6-3.7 3.4-3.6 2-3.6-1.9-3.6 5.7-3.6 6.2-3.6 5-3.6 7-3.6 15.1-3.7 4.6-3.6 .3-3.6 4.5-3.6 3.4-3.6 2.7z" fill="url(#w142)" stroke="url(#w142)"/>
<path d="M724.8 465.9l3.6-2.7 3.6-3.4 3.6-4.5 3.6-.3 3.7-4.6 3.6-15.1 3.6-7 3.6-5 3.6-6.2 3.6-5.7 3.6 1.9 3.6-2 3.7-3.4 3.6-2.6 3.6 .3 3.6-2.2 3.6-3.5 3.6-.5 3.6-3.2 3.6-3.4 3.7 .5 3.6-3.8 3.6-2.4 3.6-.2 3.6-3.9 3.6-1.2 3.6 1.5 3.6-2.5 3.7-3.6 3.6-.2 3.6-3.1 3.6 .1 3.6-7.4 3.6 .2 3.6 3.8 3.6 12.2 3.7 10.1 3.6 4.7 3.6-.4 3.6-2.2 1.1-3.8-3.6 1.4-3.6 2.2-3.6-7.5-3.6-4.8-3.6-9.9-3.7-4.1-3.6-2.2-3.6 4.2-3.6 1.2-3.6 1.1-3.6 3-3.6 .8-3.6 .7-3.7 1.3-3.6-.2-3.6 2-3.6 1.8-3.6 4.2-3.6 1.6-3.6 .5-3.6 1.8-3.7-.5-3.6 4.7-3.6 3.7-3.6-.5-3.6 3-3.6 .6-3.6 3.4-3.6 1.1-3.7 2.7-3.6 .4-3.6 10.2-3.6 5.7-3.6 10.4-3.6 8.2-3.6 3-3.7 4.7-3.6 4.5-3.6 4.2-3.6 6.6z" fill="url(#w143)" stroke="url(#w143)"/>
<path d="M725.9 466.4l3.6-6.6 3.6-4.2 3.6-4.5 3.7-4.7 3.6-3 3.6-8.2 3.6-10.4 3.6-5.7 3.6-10.2 3.6-.4 3.7-2.7 3.6-1.1 3.6-3.4 3.6-.6 3.6-3 3.6 .5 3.6-3.7 3.6-4.7 3.7 .5 3.6-1.8 3.6-.5 3.6-1.6 3.6-4.2 3.6-1.8 3.6-2 3.6 .2 3.7-1.3 3.6-.7 3.6-.8 3.6-3 3.6-1.1 3.6-1.2 3.6-4.2 3.6 2.2 3.7 4.1 3.6 9.9 3.6 4.8 3.6 7.5 3.6-2.2 3.6-1.4 1.1-2.8-3.6 3.8-3.6-1.8-3.6-5.7-3.6-5.9-3.6-5.3-3.6-4.5-3.6 1-3.7-.2-3.6 2.2-3.6-4.5-3.6 7.7-3.6-.9-3.6-.6-3.6-.1-3.6 .5-3.7 2.5-3.6 .5-3.6 4.9-3.6 .9-3.6-.4-3.6 3.8-3.6-.6-3.6 4.8-3.7 2.2-3.6 .8-3.6 3.5-3.6-.4-3.6 3-3.6 1.2-3.6 3.3-3.7 2.3-3.6 6.2-3.6 9.3-3.6 8-3.6 11.2-3.6 4.9-3.6 2.4-3.6 4.2-3.7 6.4-3.6 7.1z" fill="url(#w144)" stroke="url(#w144)"/>
<path d="M727 466.1l3.6-7.1 3.7-6.4 3.6-4.2 3.6-2.4 3.6-4.9 3.6-11.2 3.6-8 3.6-9.3 3.6-6.2 3.7-2.3 3.6-3.3 3.6-1.2 3.6-3 3.6 .4 3.6-3.5 3.6-.8 3.7-2.2 3.6-4.8 3.6 .6 3.6-3.8 3.6 .4 3.6-.9 3.6-4.9 3.6-.5 3.7-2.5 3.6-.5 3.6 .1 3.6 .6 3.6 .9 3.6-7.7 3.6 4.5 3.6-2.2 3.7 .2 3.6-1 3.6 4.5 3.6 5.3 3.6 5.9 3.6 5.7 3.6 1.8 3.6-3.8 1.2-.4-3.6 2.7-3.7-.3-3.6-1.2-3.6-8.6-3.6-2.9-3.6-1.1-3.6-.2-3.6-3.7-3.6 1.5-3.7 1.3-3.6 1.8-3.6-1.6-3.6 1.8-3.6-.4-3.6 0-3.6 1.1-3.6 0-3.7 .5-3.6 4.3-3.6 .4-3.6 3.5-3.6 1-3.6 .6-3.6 3.2-3.7 4.4-3.6 .4-3.6 2.7-3.6 .3-3.6 3.2-3.6 .1-3.6 6.6-3.6 6.4-3.7 8.9-3.6 7.9-3.6 11.4-3.6 1.7-3.6 3.5-3.6 4.5-3.6 3.6-3.6 12.1z" fill="url(#w145)" stroke="url(#w145)"/>
<path d="M728.2 469.4l3.6-12.1 3.6-3.6 3.6-4.5 3.6-3.5 3.6-1.7 3.6-11.4 3.6-7.9 3.7-8.9 3.6-6.4 3.6-6.6 3.6-.1 3.6-3.2 3.6-.3 3.6-2.7 3.6-.4 3.7-4.4 3.6-3.2 3.6-.6 3.6-1 3.6-3.5 3.6-.4 3.6-4.3 3.7-.5 3.6 0 3.6-1.1 3.6 0 3.6 .4 3.6-1.8 3.6 1.6 3.6-1.8 3.7-1.3 3.6-1.5 3.6 3.7 3.6 .2 3.6 1.1 3.6 2.9 3.6 8.6 3.6 1.2 3.7 .3 3.6-2.7 1.1 1.2-3.6 4.1-3.6 .2-3.6-.9-3.7-4.4-3.6-5.5-3.6 1.9-3.6 .7-3.6-5.9-3.6 2.5-3.6-.3-3.6 3.7-3.7 .8-3.6-2.7-3.6-4.6-3.6 1.1-3.6 3.6-3.6-1.1-3.6 1.6-3.7 .7-3.6 1.3-3.6 1.5-3.6 2.1-3.6 2.9-3.6 2-3.6 2.3-3.6 3.3-3.7 .8-3.6 1.5-3.6 3.9-3.6 .9-3.6 7.3-3.6 7.2-3.6 10.3-3.6 5.8-3.7 7.1-3.6 6.8-3.6 2.4-3.6 2.8-3.6 6.5-3.6 11z" fill="url(#w146)" stroke="url(#w146)"/>
<path d="M729.3 474.4l3.6-11 3.6-6.5 3.6-2.8 3.6-2.4 3.6-6.8 3.7-7.1 3.6-5.8 3.6-10.3 3.6-7.2 3.6-7.3 3.6-.9 3.6-3.9 3.6-1.5 3.7-.8 3.6-3.3 3.6-2.3 3.6-2 3.6-2.9 3.6-2.1 3.6-1.5 3.6-1.3 3.7-.7 3.6-1.6 3.6 1.1 3.6-3.6 3.6-1.1 3.6 4.6 3.6 2.7 3.7-.8 3.6-3.7 3.6 .3 3.6-2.5 3.6 5.9 3.6-.7 3.6-1.9 3.6 5.5 3.7 4.4 3.6 .9 3.6-.2 3.6-4.1 1.1 1.2-3.6 3.7-3.6 1-3.6 1.9-3.6-1.8-3.6-1.5-3.7 .7-3.6-3.1-3.6 .5-3.6 .7-3.6-1.5-3.6 1.8-3.6-.2-3.6-3.6-3.7-1.9-3.6 .5-3.6 .5-3.6-1.5-3.6 1.2-3.6 3.6-3.6-1-3.7-.8-3.6 6.3-3.6 1.4-3.6 4.7-3.6 1.9-3.6 .1-3.6 2-3.6 .8-3.7 2.3-3.6 6.8-3.6 2.9-3.6 10.9-3.6 8.4-3.6 6.8-3.6 7.6-3.6 2.5-3.7 5.4-3.6 1.1-3.6 6.2-3.6 14.1z" fill="url(#w147)" stroke="url(#w147)"/>
<path d="M730.4 481.8l3.6-14.1 3.6-6.2 3.6-1.1 3.7-5.4 3.6-2.5 3.6-7.6 3.6-6.8 3.6-8.4 3.6-10.9 3.6-2.9 3.6-6.8 3.7-2.3 3.6-.8 3.6-2 3.6-.1 3.6-1.9 3.6-4.7 3.6-1.4 3.6-6.3 3.7 .8 3.6 1 3.6-3.6 3.6-1.2 3.6 1.5 3.6-.5 3.6-.5 3.7 1.9 3.6 3.6 3.6 .2 3.6-1.8 3.6 1.5 3.6-.7 3.6-.5 3.6 3.1 3.7-.7 3.6 1.5 3.6 1.8 3.6-1.9 3.6-1 3.6-3.7 1.1-2.5-3.6 4.9-3.6 5.8-3.6-1-3.6 3.3-3.6-2.1-3.6 2.1-3.6-2-3.7-4.6-3.6-2.4-3.6-.4-3.6 .3-3.6 1.6-3.6-4.6-3.6-2.1-3.7-1.5-3.6-1.8-3.6 .7-3.6 .1-3.6 .7-3.6 4-3.6 .6-3.6 4.9-3.7-.7-3.6 .8-3.6 4.2-3.6 3.3-3.6 .2-3.6 3-3.6 4.6-3.6 .8-3.7 3.7-3.6 13.4-3.6 10.4-3.6 6.6-3.6 7-3.6 2.2-3.6 4.3-3.6 4.2-3.7 10.2-3.6 9.3z" fill="url(#w148)" stroke="url(#w148)"/>
<path d="M731.5 481.9l3.6-9.3 3.7-10.2 3.6-4.2 3.6-4.3 3.6-2.2 3.6-7 3.6-6.6 3.6-10.4 3.6-13.4 3.7-3.7 3.6-.8 3.6-4.6 3.6-3 3.6-.2 3.6-3.3 3.6-4.2 3.6-.8 3.7 .7 3.6-4.9 3.6-.6 3.6-4 3.6-.7 3.6-.1 3.6-.7 3.6 1.8 3.7 1.5 3.6 2.1 3.6 4.6 3.6-1.6 3.6-.3 3.6 .4 3.6 2.4 3.7 4.6 3.6 2 3.6-2.1 3.6 2.1 3.6-3.3 3.6 1 3.6-5.8 3.6-4.9 1.2-1-3.6 5.8-3.7 7.3-3.6 2.1-3.6 2.2-3.6 2.4-3.6 2.5-3.6-1.9-3.6-5.1-3.7-4.1-3.6 .9-3.6 2.7-3.6 2.3-3.6-8.3-3.6-4.1-3.6-2.6-3.6-2.5-3.7 2.1-3.6-1.2-3.6 2.3-3.6-.3-3.6 2.4-3.6 3.4-3.6-.8-3.6 4.6-3.7 4-3.6 2.7-3.6-.2-3.6 1.9-3.6 3.4-3.6 2.7-3.6 3.5-3.6 11-3.7 16.6-3.6 8.9-3.6 2.6-3.6 7.3-3.6-.3-3.6 .6-3.6 11-3.7 8.8z" fill="url(#w149)" stroke="url(#w149)"/>
</g>
<polygon points="661.2,479.3 796.1,409.2 796.1,250.2 661.2,320.3" fill="none" stroke="#ff0000" stroke-width="1.3"/>
<line x1="511.6" y1="461.3" x2="778.5" y2="506.9" stroke="#ffffc0" stroke-width="1"/>
<line x1="778.5" y1="506.9" x2="933.4" y2="428.0" stroke="#ffffc0" stroke-width="1"/>
<line x1="511.5" y1="302.0" x2="511.5" y2="461.3" stroke="#ffffc0" stroke-width="1"/>
<line x1="511" y1="302.0" x2="519" y2="302.0" stroke="#ffffc0" stroke-width="1"/>
<text x="494.5" y="307.0" fill="#ffffc0" text-anchor="end" font-size="16" >0</text>
<line x1="511" y1="328.5" x2="519" y2="328.5" stroke="#ffffc0" stroke-width="1"/>
<text x="494.5" y="333.5" fill="#ffffc0" text-anchor="end" font-size="16" >-20</text>
<line x1="511" y1="355.0" x2="519" y2="355.0" stroke="#ffffc0" stroke-width="1"/>
<text x="494.5" y="360.0" fill="#ffffc0" text-anchor="end" font-size="16" >-40</text>
<line x1="511" y1="381.5" x2="519" y2="381.5" stroke="#ffffc0" stroke-width="1"/>
<text x="494.5" y="386.5" fill="#ffffc0" text-anchor="end" font-size="16" >-60</text>
<line x1="511" y1="408.0" x2="519" y2="408.0" stroke="#ffffc0" stroke-width="1"/>
<text x="494.5" y="413.0" fill="#ffffc0" text-anchor="end" font-size="16" >-80</text>
<line x1="511" y1="434.5" x2="519" y2="434.5" stroke="#ffffc0" stroke-width="1"/>
<text x="494.5" y="439.5" fill="#ffffc0" text-anchor="end" font-size="16" >-100</text>
<line x1="511" y1="461.0" x2="519" y2="461.0" stroke="#ffffc0" stroke-width="1"/>
<text x="494.5" y="466.0" fill="#ffffc0" text-anchor="end" font-size="16" >-120</text>
<text transform="translate(438,382) rotate(-90)" fill="#ffffc0" text-anchor="middle" font-size="16">PSD (dBm)</text>
<line x1="511.6" y1="461.3" x2="518.7" y2="457.7" stroke="#ffffc0" stroke-width="1"/>
<line x1="556.1" y1="468.9" x2="559.6" y2="467.1" stroke="#ffffc0" stroke-width="1"/>
<line x1="600.6" y1="476.5" x2="607.7" y2="472.9" stroke="#ffffc0" stroke-width="1"/>
<line x1="645.0" y1="484.1" x2="648.6" y2="482.3" stroke="#ffffc0" stroke-width="1"/>
<line x1="689.5" y1="491.7" x2="696.7" y2="488.1" stroke="#ffffc0" stroke-width="1"/>
<line x1="843.8" y1="412.5" x2="836.7" y2="416.1" stroke="#ffffc0" stroke-width="1"/>
<line x1="734.0" y1="499.3" x2="737.6" y2="497.5" stroke="#ffffc0" stroke-width="1"/>
<line x1="888.3" y1="420.1" x2="884.8" y2="421.9" stroke="#ffffc0" stroke-width="1"/>
<line x1="778.5" y1="506.9" x2="785.6" y2="503.3" stroke="#ffffc0" stroke-width="1"/>
<line x1="932.8" y1="427.7" x2="925.7" y2="431.3" stroke="#ffffc0" stroke-width="1"/>
<text x="503.6" y="472.8" fill="#ffffc0" text-anchor="middle" font-size="16" >01:41:00</text>
<text x="592.6" y="488.0" fill="#ffffc0" text-anchor="middle" font-size="16" >01:41:20</text>
<text x="681.5" y="503.2" fill="#ffffc0" text-anchor="middle" font-size="16" >01:41:40</text>
<text x="770.5" y="518.4" fill="#ffffc0" text-anchor="middle" font-size="16" >01:42:00</text>
<line x1="778.5" y1="506.9" x2="770.6" y2="505.6" stroke="#ffffc0" stroke-width="1"/>
<line x1="511.6" y1="461.3" x2="519.5" y2="462.6" stroke="#ffffc0" stroke-width="1"/>
<text x="817.4" y="515.3" fill="#ffffc0" text-anchor="middle" font-size="16" >1560</text>
<line x1="800.6" y1="495.6" x2="792.7" y2="494.3" stroke="#ffffc0" stroke-width="1"/>
<line x1="533.7" y1="450.0" x2="541.6" y2="451.4" stroke="#ffffc0" stroke-width="1"/>
<text x="839.3" y="503.7" fill="#ffffc0" text-anchor="middle" font-size="16" >1565</text>
<line x1="822.8" y1="484.4" x2="814.9" y2="483.0" stroke="#ffffc0" stroke-width="1"/>
<line x1="555.9" y1="438.8" x2="563.7" y2="440.1" stroke="#ffffc0" stroke-width="1"/>
<text x="861.3" y="492.2" fill="#ffffc0" text-anchor="middle" font-size="16" >1570</text>
<line x1="844.9" y1="473.1" x2="837.0" y2="471.7" stroke="#ffffc0" stroke-width="1"/>
<text x="883.2" y="480.6" fill="#ffffc0" text-anchor="middle" font-size="16" >1575</text>
<line x1="867.0" y1="461.8" x2="859.1" y2="460.5" stroke="#ffffc0" stroke-width="1"/>
<text x="905.1" y="469.1" fill="#ffffc0" text-anchor="middle" font-size="16" >1580</text>
<line x1="889.1" y1="450.5" x2="881.3" y2="449.2" stroke="#ffffc0" stroke-width="1"/>
<text x="927.0" y="457.5" fill="#ffffc0" text-anchor="middle" font-size="16" >1585</text>
<line x1="911.3" y1="439.3" x2="903.4" y2="437.9" stroke="#ffffc0" stroke-width="1"/>
<text x="949.0" y="446.0" fill="#ffffc0" text-anchor="middle" font-size="16" >1590</text>
<line x1="933.4" y1="428.0" x2="925.5" y2="426.7" stroke="#ffffc0" stroke-width="1"/>
<text x="970.9" y="434.4" fill="#ffffc0" text-anchor="middle" font-size="16" >1595</text>
<text transform="translate(598.5,506) rotate(10)" fill="#ffffc0" text-anchor="middle" font-size="16" dy="6">Time (UTC)</text>
<text transform="translate(930.4,478.6) rotate(-27.7)" fill="#ffffc0" text-anchor="middle" font-size="16" dy="6">Frequency (MHz)</text>
<line x1="90.5" y1="637.5" x2="990.5" y2="637.5" stroke="#c8c8c8" stroke-width="1" stroke-dasharray="2 2" shape-rendering="crispEdges"/>
<line x1="90.5" y1="672.5" x2="990.5" y2="672.5" stroke="#c8c8c8" stroke-width="1" stroke-dasharray="2 2" shape-rendering="crispEdges"/>
<line x1="390.5" y1="632.5" x2="390.5" y2="707.5" stroke="#c8c8c8" stroke-width="1" stroke-dasharray="2 2" shape-rendering="crispEdges"/>
<line x1="690.5" y1="632.5" x2="690.5" y2="707.5" stroke="#c8c8c8" stroke-width="1" stroke-dasharray="2 2" shape-rendering="crispEdges"/>
<rect x="90.5" y="632.5" width="900.0" height="75.0" fill="none" stroke="#ffffc0" stroke-width="1"/>
<path d="M90.5 707.5v-8M90.5 632.5v8M240.5 707.5v-4M240.5 632.5v4M390.5 707.5v-8M390.5 632.5v8M540.5 707.5v-4M540.5 632.5v4M690.5 707.5v-8M690.5 632.5v8M840.5 707.5v-4M840.5 632.5v4M990.5 707.5v-8M990.5 632.5v8M90.5 637.5h8M990.5 637.5h-8M90.5 672.5h8M990.5 672.5h-8M90.5 707.5h8M990.5 707.5h-8" stroke="#ffffc0" stroke-width="1" fill="none"/>
<polyline points="225.5,673.75 240.5,682 255.5,672" fill="none" stroke="#ffff00" stroke-width="1.1" stroke-linejoin="round"/>
<polyline points="300.5,670 315.5,702.5 330.5,653 345.5,681.5" fill="none" stroke="#ffff00" stroke-width="1.1" stroke-linejoin="round"/>
<polyline points="390.5,681.5 405.5,666.5 420.5,702.5 435.5,664.5 450.5,673.25 465.5,668.5 480.5,668.5 495.5,665.5 510.5,674 525.5,666.5 540.5,670.25 555.5,650.5 570.5,702.5" fill="none" stroke="#ffff00" stroke-width="1.1" stroke-linejoin="round"/>
<polyline points="615.5,680.5 630.5,674.5 645.5,678.5 660.5,676.5 675.5,681.5" fill="none" stroke="#ffff00" stroke-width="1.1" stroke-linejoin="round"/>
<rect x="705.0" y="684" width="1" height="1" fill="#ffff00"/>
<line x1="555.5" y1="632.5" x2="555.5" y2="707.5" stroke="#ff0000" stroke-width="1.3"/>
<text x="77.5" y="641.0" fill="#ffffc0" text-anchor="end" font-size="16" >-80</text>
<text x="77.5" y="676.0" fill="#ffffc0" text-anchor="end" font-size="16" >-100</text>
<text x="77.5" y="711.0" fill="#ffffc0" text-anchor="end" font-size="16" >-120</text>
<text x="89.0" y="729.5" fill="#ffffc0" text-anchor="middle" font-size="16" >01:41:00</text>
<text x="389.0" y="729.5" fill="#ffffc0" text-anchor="middle" font-size="16" >01:41:20</text>
<text x="689.0" y="729.5" fill="#ffffc0" text-anchor="middle" font-size="16" >01:41:40</text>
<text x="989.0" y="729.5" fill="#ffffc0" text-anchor="middle" font-size="16" >01:42:00</text>
<text x="538" y="757" fill="#ffffc0" text-anchor="middle" font-size="16" >Time (UTC)</text>
<text transform="translate(20,671) rotate(-90)" fill="#ffffc0" text-anchor="middle" font-size="16">Power (dBm)</text>
</svg>
</body></html>
